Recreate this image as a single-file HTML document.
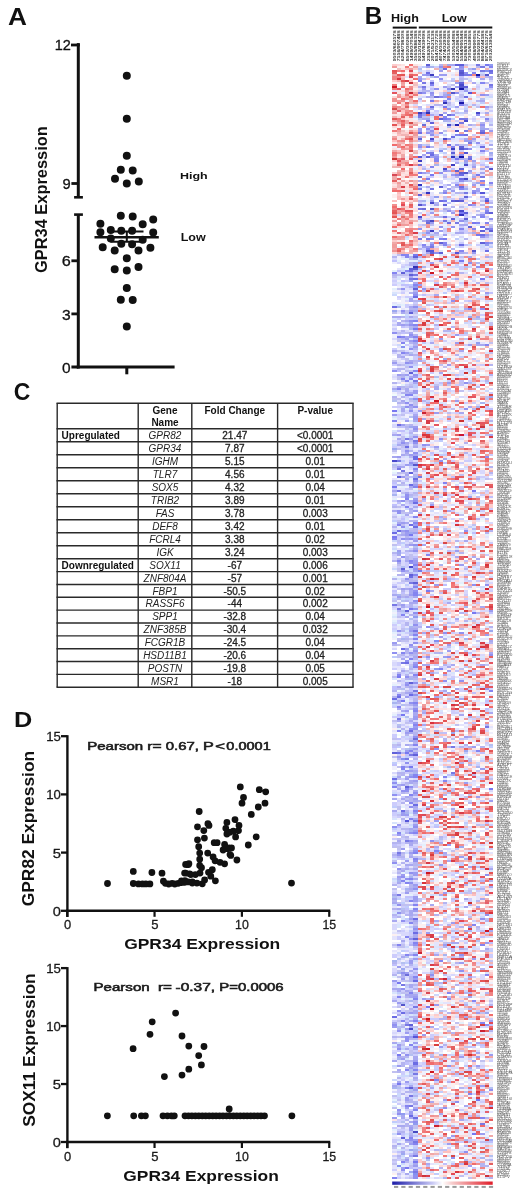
<!DOCTYPE html><html><head><meta charset="utf-8"><title>Figure</title><style>html,body{margin:0;padding:0;background:#fff;}body{width:520px;height:1197px;overflow:hidden;position:relative;font-family:"Liberation Sans",sans-serif;}svg{position:absolute;left:0;top:0;display:block;will-change:transform;}</style></head><body>
<svg width="520" height="1197" viewBox="0 0 520 1197" font-family='"Liberation Sans", sans-serif'>
<text x="8.05" y="24.6" font-size="24" font-weight="bold" textLength="18.94" lengthAdjust="spacingAndGlyphs" fill="#111">A</text>
<line x1="78.3" y1="43.1" x2="78.3" y2="197.3" stroke="#111" stroke-width="3"/>
<line x1="71" y1="45.0" x2="79.8" y2="45.0" stroke="#111" stroke-width="2.8"/>
<line x1="71.4" y1="183.5" x2="78.3" y2="183.5" stroke="#111" stroke-width="2.8"/>
<line x1="74.1" y1="197.3" x2="82.9" y2="197.3" stroke="#111" stroke-width="2.6"/>
<line x1="74.1" y1="214.6" x2="82.9" y2="214.6" stroke="#111" stroke-width="2.6"/>
<line x1="78.3" y1="214.6" x2="78.3" y2="368.5" stroke="#111" stroke-width="3"/>
<line x1="71.4" y1="260.8" x2="78.3" y2="260.8" stroke="#111" stroke-width="2.8"/>
<line x1="71.4" y1="313.9" x2="78.3" y2="313.9" stroke="#111" stroke-width="2.8"/>
<line x1="71.4" y1="367" x2="78.3" y2="367" stroke="#111" stroke-width="3"/>
<line x1="76.8" y1="367" x2="174.6" y2="367" stroke="#111" stroke-width="3"/>
<line x1="126.8" y1="367" x2="126.8" y2="374.3" stroke="#111" stroke-width="3"/>
<text x="54.70" y="50.4" font-size="15" textLength="16.13" lengthAdjust="spacingAndGlyphs" fill="#111" stroke="#111" stroke-width="0.3">12</text>
<text x="62.61" y="188.5" font-size="15" textLength="8.19" lengthAdjust="spacingAndGlyphs" fill="#111" stroke="#111" stroke-width="0.3">9</text>
<text x="61.77" y="266.2" font-size="15" textLength="9.04" lengthAdjust="spacingAndGlyphs" fill="#111" stroke="#111" stroke-width="0.3">6</text>
<text x="62.11" y="319.6" font-size="15" textLength="8.68" lengthAdjust="spacingAndGlyphs" fill="#111" stroke="#111" stroke-width="0.3">3</text>
<text x="62.10" y="372.6" font-size="15" textLength="8.61" lengthAdjust="spacingAndGlyphs" fill="#111" stroke="#111" stroke-width="0.3">0</text>
<text transform="translate(47 272.3) rotate(-90)" x="-0.67" font-size="16.5" font-weight="bold" textLength="146.69" lengthAdjust="spacingAndGlyphs" fill="#111">GPR34 Expression</text>
<text x="179.97" y="179.3" font-size="9.5" font-weight="bold" textLength="27.71" lengthAdjust="spacingAndGlyphs" fill="#111">High</text>
<text x="180.66" y="240.9" font-size="10" font-weight="bold" textLength="25.01" lengthAdjust="spacingAndGlyphs" fill="#111">Low</text>
<path d="M122.8 75.7a4 4 0 1 0 8 0a4 4 0 1 0 -8 0M122.8 118.8a4 4 0 1 0 8 0a4 4 0 1 0 -8 0M122.8 155.7a4 4 0 1 0 8 0a4 4 0 1 0 -8 0M116.8 169.7a4 4 0 1 0 8 0a4 4 0 1 0 -8 0M128.7 170.5a4 4 0 1 0 8 0a4 4 0 1 0 -8 0M111.0 178.8a4 4 0 1 0 8 0a4 4 0 1 0 -8 0M122.8 183.4a4 4 0 1 0 8 0a4 4 0 1 0 -8 0M134.8 181.5a4 4 0 1 0 8 0a4 4 0 1 0 -8 0M116.8 215.8a4 4 0 1 0 8 0a4 4 0 1 0 -8 0M128.7 216.5a4 4 0 1 0 8 0a4 4 0 1 0 -8 0M149.2 219.5a4 4 0 1 0 8 0a4 4 0 1 0 -8 0M96.4 223.8a4 4 0 1 0 8 0a4 4 0 1 0 -8 0M138.7 224.2a4 4 0 1 0 8 0a4 4 0 1 0 -8 0M96.4 232.3a4 4 0 1 0 8 0a4 4 0 1 0 -8 0M106.8 230.0a4 4 0 1 0 8 0a4 4 0 1 0 -8 0M117.3 230.8a4 4 0 1 0 8 0a4 4 0 1 0 -8 0M128.1 230.8a4 4 0 1 0 8 0a4 4 0 1 0 -8 0M149.2 232.6a4 4 0 1 0 8 0a4 4 0 1 0 -8 0M106.8 238.5a4 4 0 1 0 8 0a4 4 0 1 0 -8 0M138.7 239.7a4 4 0 1 0 8 0a4 4 0 1 0 -8 0M117.3 243.8a4 4 0 1 0 8 0a4 4 0 1 0 -8 0M128.1 244.2a4 4 0 1 0 8 0a4 4 0 1 0 -8 0M98.7 247.2a4 4 0 1 0 8 0a4 4 0 1 0 -8 0M110.7 250.5a4 4 0 1 0 8 0a4 4 0 1 0 -8 0M134.5 250.5a4 4 0 1 0 8 0a4 4 0 1 0 -8 0M146.4 247.7a4 4 0 1 0 8 0a4 4 0 1 0 -8 0M122.8 258.2a4 4 0 1 0 8 0a4 4 0 1 0 -8 0M110.7 269.2a4 4 0 1 0 8 0a4 4 0 1 0 -8 0M122.8 270.5a4 4 0 1 0 8 0a4 4 0 1 0 -8 0M134.5 266.9a4 4 0 1 0 8 0a4 4 0 1 0 -8 0M122.8 288.0a4 4 0 1 0 8 0a4 4 0 1 0 -8 0M116.8 299.7a4 4 0 1 0 8 0a4 4 0 1 0 -8 0M128.7 300.0a4 4 0 1 0 8 0a4 4 0 1 0 -8 0M122.8 326.5a4 4 0 1 0 8 0a4 4 0 1 0 -8 0" fill="#111"/>
<line x1="94.5" y1="237.2" x2="158.8" y2="237.2" stroke="#111" stroke-width="2.6"/>
<line x1="110.4" y1="231.5" x2="143.5" y2="231.5" stroke="#111" stroke-width="2"/>
<line x1="110.4" y1="241.8" x2="143.5" y2="241.8" stroke="#111" stroke-width="2"/>
<line x1="126.8" y1="231.5" x2="126.8" y2="241.8" stroke="#111" stroke-width="2"/>
<text x="13.66" y="399.6" font-size="24" font-weight="bold" textLength="16.57" lengthAdjust="spacingAndGlyphs" fill="#111">C</text>
<line x1="56.5" y1="403.3" x2="353.7" y2="403.3" stroke="#2a2a2a" stroke-width="1.4"/>
<line x1="56.5" y1="428.7" x2="353.7" y2="428.7" stroke="#2a2a2a" stroke-width="1.4"/>
<line x1="56.5" y1="441.71" x2="353.7" y2="441.71" stroke="#2a2a2a" stroke-width="1.4"/>
<line x1="56.5" y1="454.71999999999997" x2="353.7" y2="454.71999999999997" stroke="#2a2a2a" stroke-width="1.4"/>
<line x1="56.5" y1="467.73" x2="353.7" y2="467.73" stroke="#2a2a2a" stroke-width="1.4"/>
<line x1="56.5" y1="480.74" x2="353.7" y2="480.74" stroke="#2a2a2a" stroke-width="1.4"/>
<line x1="56.5" y1="493.75" x2="353.7" y2="493.75" stroke="#2a2a2a" stroke-width="1.4"/>
<line x1="56.5" y1="506.76" x2="353.7" y2="506.76" stroke="#2a2a2a" stroke-width="1.4"/>
<line x1="56.5" y1="519.77" x2="353.7" y2="519.77" stroke="#2a2a2a" stroke-width="1.4"/>
<line x1="56.5" y1="532.78" x2="353.7" y2="532.78" stroke="#2a2a2a" stroke-width="1.4"/>
<line x1="56.5" y1="545.79" x2="353.7" y2="545.79" stroke="#2a2a2a" stroke-width="1.4"/>
<line x1="56.5" y1="558.8" x2="353.7" y2="558.8" stroke="#2a2a2a" stroke-width="1.4"/>
<line x1="56.5" y1="571.64" x2="353.7" y2="571.64" stroke="#2a2a2a" stroke-width="1.4"/>
<line x1="56.5" y1="584.4799999999999" x2="353.7" y2="584.4799999999999" stroke="#2a2a2a" stroke-width="1.4"/>
<line x1="56.5" y1="597.3199999999999" x2="353.7" y2="597.3199999999999" stroke="#2a2a2a" stroke-width="1.4"/>
<line x1="56.5" y1="610.16" x2="353.7" y2="610.16" stroke="#2a2a2a" stroke-width="1.4"/>
<line x1="56.5" y1="623.0" x2="353.7" y2="623.0" stroke="#2a2a2a" stroke-width="1.4"/>
<line x1="56.5" y1="635.8399999999999" x2="353.7" y2="635.8399999999999" stroke="#2a2a2a" stroke-width="1.4"/>
<line x1="56.5" y1="648.68" x2="353.7" y2="648.68" stroke="#2a2a2a" stroke-width="1.4"/>
<line x1="56.5" y1="661.52" x2="353.7" y2="661.52" stroke="#2a2a2a" stroke-width="1.4"/>
<line x1="56.5" y1="674.3599999999999" x2="353.7" y2="674.3599999999999" stroke="#2a2a2a" stroke-width="1.4"/>
<line x1="56.5" y1="687.1999999999999" x2="353.7" y2="687.1999999999999" stroke="#2a2a2a" stroke-width="1.4"/>
<line x1="57.2" y1="403.3" x2="57.2" y2="687.1999999999999" stroke="#2a2a2a" stroke-width="1.4"/>
<line x1="138.2" y1="403.3" x2="138.2" y2="687.1999999999999" stroke="#2a2a2a" stroke-width="1.4"/>
<line x1="191.8" y1="403.3" x2="191.8" y2="687.1999999999999" stroke="#2a2a2a" stroke-width="1.4"/>
<line x1="277.6" y1="403.3" x2="277.6" y2="687.1999999999999" stroke="#2a2a2a" stroke-width="1.4"/>
<line x1="353.0" y1="403.3" x2="353.0" y2="687.1999999999999" stroke="#2a2a2a" stroke-width="1.4"/>
<text x="165.0" y="413.6" font-size="10" font-weight="bold" text-anchor="middle" fill="#111">Gene</text>
<text x="165.0" y="426.0" font-size="10" font-weight="bold" text-anchor="middle" fill="#111">Name</text>
<text x="234.8" y="413.6" font-size="10" font-weight="bold" text-anchor="middle" fill="#111">Fold Change</text>
<text x="315.2" y="413.6" font-size="10" font-weight="bold" text-anchor="middle" fill="#111">P-value</text>
<text x="165.0" y="438.9" font-size="10" font-style="italic" text-anchor="middle" fill="#222">GPR82</text>
<text x="234.8" y="438.9" font-size="10" text-anchor="middle" fill="#222" stroke="#222" stroke-width="0.3">21.47</text>
<text x="315.2" y="438.9" font-size="10" text-anchor="middle" fill="#222" stroke="#222" stroke-width="0.3">&lt;0.0001</text>
<text x="61.6" y="438.9" font-size="10" font-weight="bold" fill="#111">Upregulated</text>
<text x="165.0" y="451.9" font-size="10" font-style="italic" text-anchor="middle" fill="#222">GPR34</text>
<text x="234.8" y="451.9" font-size="10" text-anchor="middle" fill="#222" stroke="#222" stroke-width="0.3">7.87</text>
<text x="315.2" y="451.9" font-size="10" text-anchor="middle" fill="#222" stroke="#222" stroke-width="0.3">&lt;0.0001</text>
<text x="165.0" y="464.9" font-size="10" font-style="italic" text-anchor="middle" fill="#222">IGHM</text>
<text x="234.8" y="464.9" font-size="10" text-anchor="middle" fill="#222" stroke="#222" stroke-width="0.3">5.15</text>
<text x="315.2" y="464.9" font-size="10" text-anchor="middle" fill="#222" stroke="#222" stroke-width="0.3">0.01</text>
<text x="165.0" y="477.9" font-size="10" font-style="italic" text-anchor="middle" fill="#222">TLR7</text>
<text x="234.8" y="477.9" font-size="10" text-anchor="middle" fill="#222" stroke="#222" stroke-width="0.3">4.56</text>
<text x="315.2" y="477.9" font-size="10" text-anchor="middle" fill="#222" stroke="#222" stroke-width="0.3">0.01</text>
<text x="165.0" y="490.9" font-size="10" font-style="italic" text-anchor="middle" fill="#222">SOX5</text>
<text x="234.8" y="490.9" font-size="10" text-anchor="middle" fill="#222" stroke="#222" stroke-width="0.3">4.32</text>
<text x="315.2" y="490.9" font-size="10" text-anchor="middle" fill="#222" stroke="#222" stroke-width="0.3">0.04</text>
<text x="165.0" y="504.0" font-size="10" font-style="italic" text-anchor="middle" fill="#222">TRIB2</text>
<text x="234.8" y="504.0" font-size="10" text-anchor="middle" fill="#222" stroke="#222" stroke-width="0.3">3.89</text>
<text x="315.2" y="504.0" font-size="10" text-anchor="middle" fill="#222" stroke="#222" stroke-width="0.3">0.01</text>
<text x="165.0" y="517.0" font-size="10" font-style="italic" text-anchor="middle" fill="#222">FAS</text>
<text x="234.8" y="517.0" font-size="10" text-anchor="middle" fill="#222" stroke="#222" stroke-width="0.3">3.78</text>
<text x="315.2" y="517.0" font-size="10" text-anchor="middle" fill="#222" stroke="#222" stroke-width="0.3">0.003</text>
<text x="165.0" y="530.0" font-size="10" font-style="italic" text-anchor="middle" fill="#222">DEF8</text>
<text x="234.8" y="530.0" font-size="10" text-anchor="middle" fill="#222" stroke="#222" stroke-width="0.3">3.42</text>
<text x="315.2" y="530.0" font-size="10" text-anchor="middle" fill="#222" stroke="#222" stroke-width="0.3">0.01</text>
<text x="165.0" y="543.0" font-size="10" font-style="italic" text-anchor="middle" fill="#222">FCRL4</text>
<text x="234.8" y="543.0" font-size="10" text-anchor="middle" fill="#222" stroke="#222" stroke-width="0.3">3.38</text>
<text x="315.2" y="543.0" font-size="10" text-anchor="middle" fill="#222" stroke="#222" stroke-width="0.3">0.02</text>
<text x="165.0" y="556.0" font-size="10" font-style="italic" text-anchor="middle" fill="#222">IGK</text>
<text x="234.8" y="556.0" font-size="10" text-anchor="middle" fill="#222" stroke="#222" stroke-width="0.3">3.24</text>
<text x="315.2" y="556.0" font-size="10" text-anchor="middle" fill="#222" stroke="#222" stroke-width="0.3">0.003</text>
<text x="165.0" y="568.9" font-size="10" font-style="italic" text-anchor="middle" fill="#222">SOX11</text>
<text x="234.8" y="568.9" font-size="10" text-anchor="middle" fill="#222" stroke="#222" stroke-width="0.3">-67</text>
<text x="315.2" y="568.9" font-size="10" text-anchor="middle" fill="#222" stroke="#222" stroke-width="0.3">0.006</text>
<text x="61.6" y="568.9" font-size="10" font-weight="bold" fill="#111">Downregulated</text>
<text x="165.0" y="581.8" font-size="10" font-style="italic" text-anchor="middle" fill="#222">ZNF804A</text>
<text x="234.8" y="581.8" font-size="10" text-anchor="middle" fill="#222" stroke="#222" stroke-width="0.3">-57</text>
<text x="315.2" y="581.8" font-size="10" text-anchor="middle" fill="#222" stroke="#222" stroke-width="0.3">0.001</text>
<text x="165.0" y="594.6" font-size="10" font-style="italic" text-anchor="middle" fill="#222">FBP1</text>
<text x="234.8" y="594.6" font-size="10" text-anchor="middle" fill="#222" stroke="#222" stroke-width="0.3">-50.5</text>
<text x="315.2" y="594.6" font-size="10" text-anchor="middle" fill="#222" stroke="#222" stroke-width="0.3">0.02</text>
<text x="165.0" y="607.4" font-size="10" font-style="italic" text-anchor="middle" fill="#222">RASSF6</text>
<text x="234.8" y="607.4" font-size="10" text-anchor="middle" fill="#222" stroke="#222" stroke-width="0.3">-44</text>
<text x="315.2" y="607.4" font-size="10" text-anchor="middle" fill="#222" stroke="#222" stroke-width="0.3">0.002</text>
<text x="165.0" y="620.3" font-size="10" font-style="italic" text-anchor="middle" fill="#222">SPP1</text>
<text x="234.8" y="620.3" font-size="10" text-anchor="middle" fill="#222" stroke="#222" stroke-width="0.3">-32.8</text>
<text x="315.2" y="620.3" font-size="10" text-anchor="middle" fill="#222" stroke="#222" stroke-width="0.3">0.04</text>
<text x="165.0" y="633.1" font-size="10" font-style="italic" text-anchor="middle" fill="#222">ZNF385B</text>
<text x="234.8" y="633.1" font-size="10" text-anchor="middle" fill="#222" stroke="#222" stroke-width="0.3">-30.4</text>
<text x="315.2" y="633.1" font-size="10" text-anchor="middle" fill="#222" stroke="#222" stroke-width="0.3">0.032</text>
<text x="165.0" y="646.0" font-size="10" font-style="italic" text-anchor="middle" fill="#222">FCGR1B</text>
<text x="234.8" y="646.0" font-size="10" text-anchor="middle" fill="#222" stroke="#222" stroke-width="0.3">-24.5</text>
<text x="315.2" y="646.0" font-size="10" text-anchor="middle" fill="#222" stroke="#222" stroke-width="0.3">0.04</text>
<text x="165.0" y="658.8" font-size="10" font-style="italic" text-anchor="middle" fill="#222">HSD11B1</text>
<text x="234.8" y="658.8" font-size="10" text-anchor="middle" fill="#222" stroke="#222" stroke-width="0.3">-20.6</text>
<text x="315.2" y="658.8" font-size="10" text-anchor="middle" fill="#222" stroke="#222" stroke-width="0.3">0.04</text>
<text x="165.0" y="671.6" font-size="10" font-style="italic" text-anchor="middle" fill="#222">POSTN</text>
<text x="234.8" y="671.6" font-size="10" text-anchor="middle" fill="#222" stroke="#222" stroke-width="0.3">-19.8</text>
<text x="315.2" y="671.6" font-size="10" text-anchor="middle" fill="#222" stroke="#222" stroke-width="0.3">0.05</text>
<text x="165.0" y="684.5" font-size="10" font-style="italic" text-anchor="middle" fill="#222">MSR1</text>
<text x="234.8" y="684.5" font-size="10" text-anchor="middle" fill="#222" stroke="#222" stroke-width="0.3">-18</text>
<text x="315.2" y="684.5" font-size="10" text-anchor="middle" fill="#222" stroke="#222" stroke-width="0.3">0.005</text>
<text x="14.01" y="727.2" font-size="22.6" font-weight="bold" textLength="18.25" lengthAdjust="spacingAndGlyphs" fill="#111">D</text>
<line x1="67.4" y1="735.2" x2="67.4" y2="917.0" stroke="#111" stroke-width="2.4"/>
<line x1="66.2" y1="910.8" x2="330.3" y2="910.8" stroke="#111" stroke-width="2.4"/>
<line x1="61.0" y1="736.2" x2="67.4" y2="736.2" stroke="#111" stroke-width="2.3"/>
<text x="46.30" y="741.2" font-size="13" textLength="14.66" lengthAdjust="spacingAndGlyphs" fill="#1a1a1a" stroke="#1a1a1a" stroke-width="0.3">15</text>
<line x1="61.0" y1="794.4" x2="67.4" y2="794.4" stroke="#111" stroke-width="2.3"/>
<text x="46.30" y="799.4" font-size="13" textLength="14.61" lengthAdjust="spacingAndGlyphs" fill="#1a1a1a" stroke="#1a1a1a" stroke-width="0.3">10</text>
<line x1="61.0" y1="852.6" x2="67.4" y2="852.6" stroke="#111" stroke-width="2.3"/>
<text x="52.81" y="857.6" font-size="13" textLength="8.21" lengthAdjust="spacingAndGlyphs" fill="#1a1a1a" stroke="#1a1a1a" stroke-width="0.3">5</text>
<line x1="61.0" y1="910.8" x2="67.4" y2="910.8" stroke="#111" stroke-width="2.3"/>
<text x="52.83" y="915.8" font-size="13" textLength="8.14" lengthAdjust="spacingAndGlyphs" fill="#1a1a1a" stroke="#1a1a1a" stroke-width="0.3">0</text>
<line x1="67.2" y1="910.8" x2="67.2" y2="916.8" stroke="#111" stroke-width="2.2"/>
<text x="63.89" y="929.3" font-size="13" textLength="7.21" lengthAdjust="spacingAndGlyphs" fill="#1a1a1a" stroke="#1a1a1a" stroke-width="0.3">0</text>
<line x1="154.55" y1="910.8" x2="154.55" y2="916.8" stroke="#111" stroke-width="2.2"/>
<text x="151.23" y="929.3" font-size="13" textLength="7.27" lengthAdjust="spacingAndGlyphs" fill="#1a1a1a" stroke="#1a1a1a" stroke-width="0.3">5</text>
<line x1="241.89999999999998" y1="910.8" x2="241.89999999999998" y2="916.8" stroke="#111" stroke-width="2.2"/>
<text x="235.11" y="929.3" font-size="13" textLength="13.72" lengthAdjust="spacingAndGlyphs" fill="#1a1a1a" stroke="#1a1a1a" stroke-width="0.3">10</text>
<line x1="329.24999999999994" y1="910.8" x2="329.24999999999994" y2="916.8" stroke="#111" stroke-width="2.2"/>
<text x="322.46" y="929.3" font-size="13" textLength="13.76" lengthAdjust="spacingAndGlyphs" fill="#1a1a1a" stroke="#1a1a1a" stroke-width="0.3">15</text>
<text x="124.18" y="948.5" font-size="14.6" font-weight="bold" textLength="156.10" lengthAdjust="spacingAndGlyphs" fill="#111">GPR34 Expression</text>
<text transform="translate(33.9 905.5) rotate(-90)" x="-0.71" font-size="16" font-weight="bold" textLength="155.29" lengthAdjust="spacingAndGlyphs" fill="#111">GPR82 Expression</text>
<text x="87.27" y="750.1" font-size="10.8" textLength="55.91" lengthAdjust="spacingAndGlyphs" fill="#1a1a1a" stroke="#1a1a1a" stroke-width="0.55">Pearson</text>
<text x="147.26" y="750.1" font-size="10.8" textLength="14.31" lengthAdjust="spacingAndGlyphs" fill="#1a1a1a" stroke="#1a1a1a" stroke-width="0.55">r=</text>
<text x="165.72" y="750.1" font-size="10.8" textLength="33.12" lengthAdjust="spacingAndGlyphs" fill="#1a1a1a" stroke="#1a1a1a" stroke-width="0.55">0.67,</text>
<text x="203.07" y="750.1" font-size="10.8" textLength="10.78" lengthAdjust="spacingAndGlyphs" fill="#1a1a1a" stroke="#1a1a1a" stroke-width="0.55">P</text>
<text x="215.38" y="750.1" font-size="10.8" textLength="9.74" lengthAdjust="spacingAndGlyphs" fill="#1a1a1a" stroke="#1a1a1a" stroke-width="0.55">&lt;</text>
<text x="226.33" y="750.1" font-size="10.8" textLength="44.38" lengthAdjust="spacingAndGlyphs" fill="#1a1a1a" stroke="#1a1a1a" stroke-width="0.55">0.0001</text>
<path d="M236.9 786.9a3.4 3.4 0 1 0 6.8 0a3.4 3.4 0 1 0 -6.8 0M255.9 789.7a3.4 3.4 0 1 0 6.8 0a3.4 3.4 0 1 0 -6.8 0M262.3 791.8a3.4 3.4 0 1 0 6.8 0a3.4 3.4 0 1 0 -6.8 0M240.1 797.5a3.4 3.4 0 1 0 6.8 0a3.4 3.4 0 1 0 -6.8 0M238.6 803.2a3.4 3.4 0 1 0 6.8 0a3.4 3.4 0 1 0 -6.8 0M261.6 803.2a3.4 3.4 0 1 0 6.8 0a3.4 3.4 0 1 0 -6.8 0M254.9 807.0a3.4 3.4 0 1 0 6.8 0a3.4 3.4 0 1 0 -6.8 0M195.8 811.5a3.4 3.4 0 1 0 6.8 0a3.4 3.4 0 1 0 -6.8 0M247.9 814.4a3.4 3.4 0 1 0 6.8 0a3.4 3.4 0 1 0 -6.8 0M231.6 819.6a3.4 3.4 0 1 0 6.8 0a3.4 3.4 0 1 0 -6.8 0M204.5 823.7a3.4 3.4 0 1 0 6.8 0a3.4 3.4 0 1 0 -6.8 0M205.6 825.4a3.4 3.4 0 1 0 6.8 0a3.4 3.4 0 1 0 -6.8 0M194.1 826.8a3.4 3.4 0 1 0 6.8 0a3.4 3.4 0 1 0 -6.8 0M223.5 822.5a3.4 3.4 0 1 0 6.8 0a3.4 3.4 0 1 0 -6.8 0M235.6 825.4a3.4 3.4 0 1 0 6.8 0a3.4 3.4 0 1 0 -6.8 0M200.4 830.6a3.4 3.4 0 1 0 6.8 0a3.4 3.4 0 1 0 -6.8 0M222.4 828.3a3.4 3.4 0 1 0 6.8 0a3.4 3.4 0 1 0 -6.8 0M229.9 831.2a3.4 3.4 0 1 0 6.8 0a3.4 3.4 0 1 0 -6.8 0M235.1 830.6a3.4 3.4 0 1 0 6.8 0a3.4 3.4 0 1 0 -6.8 0M223.5 834.0a3.4 3.4 0 1 0 6.8 0a3.4 3.4 0 1 0 -6.8 0M226.4 832.3a3.4 3.4 0 1 0 6.8 0a3.4 3.4 0 1 0 -6.8 0M232.2 836.9a3.4 3.4 0 1 0 6.8 0a3.4 3.4 0 1 0 -6.8 0M201.0 838.1a3.4 3.4 0 1 0 6.8 0a3.4 3.4 0 1 0 -6.8 0M194.1 839.8a3.4 3.4 0 1 0 6.8 0a3.4 3.4 0 1 0 -6.8 0M210.8 842.7a3.4 3.4 0 1 0 6.8 0a3.4 3.4 0 1 0 -6.8 0M213.7 842.7a3.4 3.4 0 1 0 6.8 0a3.4 3.4 0 1 0 -6.8 0M195.3 846.7a3.4 3.4 0 1 0 6.8 0a3.4 3.4 0 1 0 -6.8 0M221.2 844.4a3.4 3.4 0 1 0 6.8 0a3.4 3.4 0 1 0 -6.8 0M225.8 847.9a3.4 3.4 0 1 0 6.8 0a3.4 3.4 0 1 0 -6.8 0M228.1 847.9a3.4 3.4 0 1 0 6.8 0a3.4 3.4 0 1 0 -6.8 0M244.9 845.0a3.4 3.4 0 1 0 6.8 0a3.4 3.4 0 1 0 -6.8 0M252.8 836.8a3.4 3.4 0 1 0 6.8 0a3.4 3.4 0 1 0 -6.8 0M196.3 853.1a3.4 3.4 0 1 0 6.8 0a3.4 3.4 0 1 0 -6.8 0M196.3 859.2a3.4 3.4 0 1 0 6.8 0a3.4 3.4 0 1 0 -6.8 0M196.3 865.4a3.4 3.4 0 1 0 6.8 0a3.4 3.4 0 1 0 -6.8 0M198.1 867.7a3.4 3.4 0 1 0 6.8 0a3.4 3.4 0 1 0 -6.8 0M182.8 864.6a3.4 3.4 0 1 0 6.8 0a3.4 3.4 0 1 0 -6.8 0M185.1 864.6a3.4 3.4 0 1 0 6.8 0a3.4 3.4 0 1 0 -6.8 0M181.2 873.1a3.4 3.4 0 1 0 6.8 0a3.4 3.4 0 1 0 -6.8 0M187.4 874.6a3.4 3.4 0 1 0 6.8 0a3.4 3.4 0 1 0 -6.8 0M192.0 874.6a3.4 3.4 0 1 0 6.8 0a3.4 3.4 0 1 0 -6.8 0M196.6 873.1a3.4 3.4 0 1 0 6.8 0a3.4 3.4 0 1 0 -6.8 0M178.1 880.8a3.4 3.4 0 1 0 6.8 0a3.4 3.4 0 1 0 -6.8 0M181.2 882.3a3.4 3.4 0 1 0 6.8 0a3.4 3.4 0 1 0 -6.8 0M188.9 883.1a3.4 3.4 0 1 0 6.8 0a3.4 3.4 0 1 0 -6.8 0M193.5 883.1a3.4 3.4 0 1 0 6.8 0a3.4 3.4 0 1 0 -6.8 0M198.9 883.8a3.4 3.4 0 1 0 6.8 0a3.4 3.4 0 1 0 -6.8 0M201.2 880.0a3.4 3.4 0 1 0 6.8 0a3.4 3.4 0 1 0 -6.8 0M205.1 872.3a3.4 3.4 0 1 0 6.8 0a3.4 3.4 0 1 0 -6.8 0M208.9 869.7a3.4 3.4 0 1 0 6.8 0a3.4 3.4 0 1 0 -6.8 0M207.4 876.2a3.4 3.4 0 1 0 6.8 0a3.4 3.4 0 1 0 -6.8 0M212.0 880.8a3.4 3.4 0 1 0 6.8 0a3.4 3.4 0 1 0 -6.8 0M204.3 853.1a3.4 3.4 0 1 0 6.8 0a3.4 3.4 0 1 0 -6.8 0M209.7 856.9a3.4 3.4 0 1 0 6.8 0a3.4 3.4 0 1 0 -6.8 0M211.7 860.8a3.4 3.4 0 1 0 6.8 0a3.4 3.4 0 1 0 -6.8 0M216.6 862.3a3.4 3.4 0 1 0 6.8 0a3.4 3.4 0 1 0 -6.8 0M221.2 863.8a3.4 3.4 0 1 0 6.8 0a3.4 3.4 0 1 0 -6.8 0M219.7 850.0a3.4 3.4 0 1 0 6.8 0a3.4 3.4 0 1 0 -6.8 0M223.5 848.5a3.4 3.4 0 1 0 6.8 0a3.4 3.4 0 1 0 -6.8 0M226.6 854.6a3.4 3.4 0 1 0 6.8 0a3.4 3.4 0 1 0 -6.8 0M233.5 860.0a3.4 3.4 0 1 0 6.8 0a3.4 3.4 0 1 0 -6.8 0M227.4 855.4a3.4 3.4 0 1 0 6.8 0a3.4 3.4 0 1 0 -6.8 0M288.1 883.1a3.4 3.4 0 1 0 6.8 0a3.4 3.4 0 1 0 -6.8 0M129.9 871.4a3.4 3.4 0 1 0 6.8 0a3.4 3.4 0 1 0 -6.8 0M148.5 872.5a3.4 3.4 0 1 0 6.8 0a3.4 3.4 0 1 0 -6.8 0M158.6 873.2a3.4 3.4 0 1 0 6.8 0a3.4 3.4 0 1 0 -6.8 0M129.9 883.5a3.4 3.4 0 1 0 6.8 0a3.4 3.4 0 1 0 -6.8 0M135.1 883.9a3.4 3.4 0 1 0 6.8 0a3.4 3.4 0 1 0 -6.8 0M139.1 883.9a3.4 3.4 0 1 0 6.8 0a3.4 3.4 0 1 0 -6.8 0M142.5 883.9a3.4 3.4 0 1 0 6.8 0a3.4 3.4 0 1 0 -6.8 0M146.5 883.9a3.4 3.4 0 1 0 6.8 0a3.4 3.4 0 1 0 -6.8 0M160.0 881.2a3.4 3.4 0 1 0 6.8 0a3.4 3.4 0 1 0 -6.8 0M162.0 883.3a3.4 3.4 0 1 0 6.8 0a3.4 3.4 0 1 0 -6.8 0M165.3 884.0a3.4 3.4 0 1 0 6.8 0a3.4 3.4 0 1 0 -6.8 0M168.7 883.3a3.4 3.4 0 1 0 6.8 0a3.4 3.4 0 1 0 -6.8 0M171.4 884.0a3.4 3.4 0 1 0 6.8 0a3.4 3.4 0 1 0 -6.8 0M174.8 883.3a3.4 3.4 0 1 0 6.8 0a3.4 3.4 0 1 0 -6.8 0M178.1 882.6a3.4 3.4 0 1 0 6.8 0a3.4 3.4 0 1 0 -6.8 0M182.2 864.4a3.4 3.4 0 1 0 6.8 0a3.4 3.4 0 1 0 -6.8 0M185.5 863.7a3.4 3.4 0 1 0 6.8 0a3.4 3.4 0 1 0 -6.8 0M182.2 873.2a3.4 3.4 0 1 0 6.8 0a3.4 3.4 0 1 0 -6.8 0M186.2 873.8a3.4 3.4 0 1 0 6.8 0a3.4 3.4 0 1 0 -6.8 0M181.5 880.6a3.4 3.4 0 1 0 6.8 0a3.4 3.4 0 1 0 -6.8 0M184.9 881.9a3.4 3.4 0 1 0 6.8 0a3.4 3.4 0 1 0 -6.8 0M188.9 881.9a3.4 3.4 0 1 0 6.8 0a3.4 3.4 0 1 0 -6.8 0M104.1 883.5a3.4 3.4 0 1 0 6.8 0a3.4 3.4 0 1 0 -6.8 0" fill="#111"/>
<line x1="67.4" y1="967.1" x2="67.4" y2="1148.2" stroke="#111" stroke-width="2.4"/>
<line x1="66.2" y1="1142.0" x2="330.3" y2="1142.0" stroke="#111" stroke-width="2.4"/>
<line x1="61.0" y1="968.1" x2="67.4" y2="968.1" stroke="#111" stroke-width="2.3"/>
<text x="46.30" y="973.1" font-size="13" textLength="14.66" lengthAdjust="spacingAndGlyphs" fill="#1a1a1a" stroke="#1a1a1a" stroke-width="0.3">15</text>
<line x1="61.0" y1="1026.0666666666666" x2="67.4" y2="1026.0666666666666" stroke="#111" stroke-width="2.3"/>
<text x="46.30" y="1031.1" font-size="13" textLength="14.61" lengthAdjust="spacingAndGlyphs" fill="#1a1a1a" stroke="#1a1a1a" stroke-width="0.3">10</text>
<line x1="61.0" y1="1084.0333333333333" x2="67.4" y2="1084.0333333333333" stroke="#111" stroke-width="2.3"/>
<text x="52.81" y="1089.0" font-size="13" textLength="8.21" lengthAdjust="spacingAndGlyphs" fill="#1a1a1a" stroke="#1a1a1a" stroke-width="0.3">5</text>
<line x1="61.0" y1="1142.0" x2="67.4" y2="1142.0" stroke="#111" stroke-width="2.3"/>
<text x="52.83" y="1147.0" font-size="13" textLength="8.14" lengthAdjust="spacingAndGlyphs" fill="#1a1a1a" stroke="#1a1a1a" stroke-width="0.3">0</text>
<line x1="67.2" y1="1142.0" x2="67.2" y2="1148.0" stroke="#111" stroke-width="2.2"/>
<text x="63.89" y="1161.0" font-size="13" textLength="7.21" lengthAdjust="spacingAndGlyphs" fill="#1a1a1a" stroke="#1a1a1a" stroke-width="0.3">0</text>
<line x1="154.55" y1="1142.0" x2="154.55" y2="1148.0" stroke="#111" stroke-width="2.2"/>
<text x="151.23" y="1161.0" font-size="13" textLength="7.27" lengthAdjust="spacingAndGlyphs" fill="#1a1a1a" stroke="#1a1a1a" stroke-width="0.3">5</text>
<line x1="241.89999999999998" y1="1142.0" x2="241.89999999999998" y2="1148.0" stroke="#111" stroke-width="2.2"/>
<text x="235.11" y="1161.0" font-size="13" textLength="13.72" lengthAdjust="spacingAndGlyphs" fill="#1a1a1a" stroke="#1a1a1a" stroke-width="0.3">10</text>
<line x1="329.24999999999994" y1="1142.0" x2="329.24999999999994" y2="1148.0" stroke="#111" stroke-width="2.2"/>
<text x="322.46" y="1161.0" font-size="13" textLength="13.76" lengthAdjust="spacingAndGlyphs" fill="#1a1a1a" stroke="#1a1a1a" stroke-width="0.3">15</text>
<text x="123.29" y="1180.8" font-size="14.6" font-weight="bold" textLength="155.49" lengthAdjust="spacingAndGlyphs" fill="#111">GPR34 Expression</text>
<text transform="translate(35.4 1126.3) rotate(-90)" x="-0.50" font-size="16" font-weight="bold" textLength="153.47" lengthAdjust="spacingAndGlyphs" fill="#111">SOX11 Expression</text>
<text x="93.56" y="991.1" font-size="10.8" textLength="56.11" lengthAdjust="spacingAndGlyphs" fill="#1a1a1a" stroke="#1a1a1a" stroke-width="0.55">Pearson</text>
<text x="157.99" y="991.1" font-size="10.8" textLength="13.96" lengthAdjust="spacingAndGlyphs" fill="#1a1a1a" stroke="#1a1a1a" stroke-width="0.55">r=</text>
<text x="175.61" y="991.1" font-size="10.8" textLength="39.47" lengthAdjust="spacingAndGlyphs" fill="#1a1a1a" stroke="#1a1a1a" stroke-width="0.55">-0.37,</text>
<text x="219.38" y="991.1" font-size="10.8" textLength="64.18" lengthAdjust="spacingAndGlyphs" fill="#1a1a1a" stroke="#1a1a1a" stroke-width="0.55">P=0.0006</text>
<path d="M172.2 1013.1a3.4 3.4 0 1 0 6.8 0a3.4 3.4 0 1 0 -6.8 0M148.8 1021.8a3.4 3.4 0 1 0 6.8 0a3.4 3.4 0 1 0 -6.8 0M146.6 1034.3a3.4 3.4 0 1 0 6.8 0a3.4 3.4 0 1 0 -6.8 0M178.6 1036.0a3.4 3.4 0 1 0 6.8 0a3.4 3.4 0 1 0 -6.8 0M129.7 1048.7a3.4 3.4 0 1 0 6.8 0a3.4 3.4 0 1 0 -6.8 0M185.4 1046.1a3.4 3.4 0 1 0 6.8 0a3.4 3.4 0 1 0 -6.8 0M200.6 1046.5a3.4 3.4 0 1 0 6.8 0a3.4 3.4 0 1 0 -6.8 0M195.3 1055.6a3.4 3.4 0 1 0 6.8 0a3.4 3.4 0 1 0 -6.8 0M198.0 1064.9a3.4 3.4 0 1 0 6.8 0a3.4 3.4 0 1 0 -6.8 0M185.4 1069.2a3.4 3.4 0 1 0 6.8 0a3.4 3.4 0 1 0 -6.8 0M178.6 1075.1a3.4 3.4 0 1 0 6.8 0a3.4 3.4 0 1 0 -6.8 0M161.0 1076.6a3.4 3.4 0 1 0 6.8 0a3.4 3.4 0 1 0 -6.8 0M225.8 1109.0a3.4 3.4 0 1 0 6.8 0a3.4 3.4 0 1 0 -6.8 0M104.0 1115.8a3.4 3.4 0 1 0 6.8 0a3.4 3.4 0 1 0 -6.8 0M130.3 1115.8a3.4 3.4 0 1 0 6.8 0a3.4 3.4 0 1 0 -6.8 0M138.0 1115.8a3.4 3.4 0 1 0 6.8 0a3.4 3.4 0 1 0 -6.8 0M142.0 1115.8a3.4 3.4 0 1 0 6.8 0a3.4 3.4 0 1 0 -6.8 0M159.6 1115.8a3.4 3.4 0 1 0 6.8 0a3.4 3.4 0 1 0 -6.8 0M164.0 1115.8a3.4 3.4 0 1 0 6.8 0a3.4 3.4 0 1 0 -6.8 0M168.0 1115.8a3.4 3.4 0 1 0 6.8 0a3.4 3.4 0 1 0 -6.8 0M170.9 1115.8a3.4 3.4 0 1 0 6.8 0a3.4 3.4 0 1 0 -6.8 0M181.6 1115.8a3.4 3.4 0 1 0 6.8 0a3.4 3.4 0 1 0 -6.8 0M185.1 1115.8a3.4 3.4 0 1 0 6.8 0a3.4 3.4 0 1 0 -6.8 0M188.5 1115.8a3.4 3.4 0 1 0 6.8 0a3.4 3.4 0 1 0 -6.8 0M192.0 1115.8a3.4 3.4 0 1 0 6.8 0a3.4 3.4 0 1 0 -6.8 0M195.4 1115.8a3.4 3.4 0 1 0 6.8 0a3.4 3.4 0 1 0 -6.8 0M198.9 1115.8a3.4 3.4 0 1 0 6.8 0a3.4 3.4 0 1 0 -6.8 0M202.3 1115.8a3.4 3.4 0 1 0 6.8 0a3.4 3.4 0 1 0 -6.8 0M205.8 1115.8a3.4 3.4 0 1 0 6.8 0a3.4 3.4 0 1 0 -6.8 0M209.3 1115.8a3.4 3.4 0 1 0 6.8 0a3.4 3.4 0 1 0 -6.8 0M212.7 1115.8a3.4 3.4 0 1 0 6.8 0a3.4 3.4 0 1 0 -6.8 0M216.2 1115.8a3.4 3.4 0 1 0 6.8 0a3.4 3.4 0 1 0 -6.8 0M219.6 1115.8a3.4 3.4 0 1 0 6.8 0a3.4 3.4 0 1 0 -6.8 0M223.1 1115.8a3.4 3.4 0 1 0 6.8 0a3.4 3.4 0 1 0 -6.8 0M226.5 1115.8a3.4 3.4 0 1 0 6.8 0a3.4 3.4 0 1 0 -6.8 0M230.0 1115.8a3.4 3.4 0 1 0 6.8 0a3.4 3.4 0 1 0 -6.8 0M233.4 1115.8a3.4 3.4 0 1 0 6.8 0a3.4 3.4 0 1 0 -6.8 0M236.9 1115.8a3.4 3.4 0 1 0 6.8 0a3.4 3.4 0 1 0 -6.8 0M240.4 1115.8a3.4 3.4 0 1 0 6.8 0a3.4 3.4 0 1 0 -6.8 0M243.8 1115.8a3.4 3.4 0 1 0 6.8 0a3.4 3.4 0 1 0 -6.8 0M247.3 1115.8a3.4 3.4 0 1 0 6.8 0a3.4 3.4 0 1 0 -6.8 0M250.7 1115.8a3.4 3.4 0 1 0 6.8 0a3.4 3.4 0 1 0 -6.8 0M254.2 1115.8a3.4 3.4 0 1 0 6.8 0a3.4 3.4 0 1 0 -6.8 0M257.6 1115.8a3.4 3.4 0 1 0 6.8 0a3.4 3.4 0 1 0 -6.8 0M261.1 1115.8a3.4 3.4 0 1 0 6.8 0a3.4 3.4 0 1 0 -6.8 0M288.5 1115.8a3.4 3.4 0 1 0 6.8 0a3.4 3.4 0 1 0 -6.8 0" fill="#111"/>
<text x="364.89" y="23.8" font-size="23.7" font-weight="bold" textLength="17.41" lengthAdjust="spacingAndGlyphs" fill="#111">B</text>
<text x="391.06" y="21.6" font-size="10" font-weight="bold" textLength="27.81" lengthAdjust="spacingAndGlyphs" fill="#111">High</text>
<text x="441.66" y="22.0" font-size="10" font-weight="bold" textLength="25.01" lengthAdjust="spacingAndGlyphs" fill="#111">Low</text>
<line x1="392.7" y1="27.6" x2="416.8" y2="27.6" stroke="#111" stroke-width="2"/>
<line x1="418.8" y1="27.6" x2="492.3" y2="27.6" stroke="#111" stroke-width="2"/>
<defs><filter id="bl2" x="-5%" y="-5%" width="110%" height="110%"><feGaussianBlur stdDeviation="0.3"/></filter></defs>
<g filter="url(#bl2)">
<text transform="translate(396.00 61.3) rotate(-90)" font-size="4.3" font-weight="bold" textLength="31" lengthAdjust="spacingAndGlyphs" fill="#3a3a3a">9503/66257S</text>
<text transform="translate(400.19 61.3) rotate(-90)" font-size="4.3" font-weight="bold" textLength="31" lengthAdjust="spacingAndGlyphs" fill="#3a3a3a">7156/90748S</text>
<text transform="translate(404.38 61.3) rotate(-90)" font-size="4.3" font-weight="bold" textLength="31" lengthAdjust="spacingAndGlyphs" fill="#3a3a3a">6204/79810S</text>
<text transform="translate(408.57 61.3) rotate(-90)" font-size="4.3" font-weight="bold" textLength="31" lengthAdjust="spacingAndGlyphs" fill="#3a3a3a">8502/30268S</text>
<text transform="translate(412.76 61.3) rotate(-90)" font-size="4.3" font-weight="bold" textLength="31" lengthAdjust="spacingAndGlyphs" fill="#3a3a3a">1499/37014S</text>
<text transform="translate(416.95 61.3) rotate(-90)" font-size="4.3" font-weight="bold" textLength="31" lengthAdjust="spacingAndGlyphs" fill="#3a3a3a">3565/88618S</text>
<text transform="translate(421.15 61.3) rotate(-90)" font-size="4.3" font-weight="bold" textLength="31" lengthAdjust="spacingAndGlyphs" fill="#3a3a3a">9212/10473S</text>
<text transform="translate(425.34 61.3) rotate(-90)" font-size="4.3" font-weight="bold" textLength="31" lengthAdjust="spacingAndGlyphs" fill="#3a3a3a">5497/83909S</text>
<text transform="translate(429.53 61.3) rotate(-90)" font-size="4.3" font-weight="bold" textLength="31" lengthAdjust="spacingAndGlyphs" fill="#3a3a3a">2182/81735S</text>
<text transform="translate(433.72 61.3) rotate(-90)" font-size="4.3" font-weight="bold" textLength="31" lengthAdjust="spacingAndGlyphs" fill="#3a3a3a">2071/52113S</text>
<text transform="translate(437.91 61.3) rotate(-90)" font-size="4.3" font-weight="bold" textLength="31" lengthAdjust="spacingAndGlyphs" fill="#3a3a3a">8347/37272S</text>
<text transform="translate(442.10 61.3) rotate(-90)" font-size="4.3" font-weight="bold" textLength="31" lengthAdjust="spacingAndGlyphs" fill="#3a3a3a">4074/35058S</text>
<text transform="translate(446.30 61.3) rotate(-90)" font-size="4.3" font-weight="bold" textLength="31" lengthAdjust="spacingAndGlyphs" fill="#3a3a3a">7474/32938S</text>
<text transform="translate(450.49 61.3) rotate(-90)" font-size="4.3" font-weight="bold" textLength="31" lengthAdjust="spacingAndGlyphs" fill="#3a3a3a">9913/50056S</text>
<text transform="translate(454.68 61.3) rotate(-90)" font-size="4.3" font-weight="bold" textLength="31" lengthAdjust="spacingAndGlyphs" fill="#3a3a3a">5302/55408S</text>
<text transform="translate(458.87 61.3) rotate(-90)" font-size="4.3" font-weight="bold" textLength="31" lengthAdjust="spacingAndGlyphs" fill="#3a3a3a">6242/59814S</text>
<text transform="translate(463.06 61.3) rotate(-90)" font-size="4.3" font-weight="bold" textLength="31" lengthAdjust="spacingAndGlyphs" fill="#3a3a3a">5584/99594S</text>
<text transform="translate(467.25 61.3) rotate(-90)" font-size="4.3" font-weight="bold" textLength="31" lengthAdjust="spacingAndGlyphs" fill="#3a3a3a">8268/81338S</text>
<text transform="translate(471.45 61.3) rotate(-90)" font-size="4.3" font-weight="bold" textLength="31" lengthAdjust="spacingAndGlyphs" fill="#3a3a3a">7301/65995S</text>
<text transform="translate(475.64 61.3) rotate(-90)" font-size="4.3" font-weight="bold" textLength="31" lengthAdjust="spacingAndGlyphs" fill="#3a3a3a">4068/99005S</text>
<text transform="translate(479.83 61.3) rotate(-90)" font-size="4.3" font-weight="bold" textLength="31" lengthAdjust="spacingAndGlyphs" fill="#3a3a3a">5195/29377S</text>
<text transform="translate(484.02 61.3) rotate(-90)" font-size="4.3" font-weight="bold" textLength="31" lengthAdjust="spacingAndGlyphs" fill="#3a3a3a">8604/24418S</text>
<text transform="translate(488.21 61.3) rotate(-90)" font-size="4.3" font-weight="bold" textLength="31" lengthAdjust="spacingAndGlyphs" fill="#3a3a3a">8716/65127S</text>
<text transform="translate(492.40 61.3) rotate(-90)" font-size="4.3" font-weight="bold" textLength="31" lengthAdjust="spacingAndGlyphs" fill="#3a3a3a">2032/13954S</text>
</g>
<defs><filter id="bl" x="-2%" y="-1%" width="104%" height="102%"><feGaussianBlur stdDeviation="0.65"/></filter></defs>
<g filter="url(#bl)"><g transform="translate(392.4 63.5) scale(4.1917 2.0020)" shape-rendering="crispEdges">
<rect x="0" y="0" width="24" height="557" fill="#fff"/>
<path fill="#fccccc" d="M0 0h1v1h-1zM5 2h1v1h-1zM20 2h1v1h-1zM15 5h1v1h-1zM8 7h1v1h-1zM0 8h1v1h-1zM12 9h1v1h-1zM12 13h1v1h-1zM21 14h1v1h-1zM20 15h1v1h-1zM2 21h1v1h-1zM8 21h1v1h-1zM2 24h1v1h-1zM11 26h1v1h-1zM10 29h1v1h-1zM1 30h1v1h-1zM16 30h1v1h-1zM14 33h1v1h-1zM2 34h2v1h-2zM5 37h1v1h-1zM13 38h1v1h-1zM16 38h1v1h-1zM5 40h1v1h-1zM2 43h1v1h-1zM2 44h1v1h-1zM21 46h1v1h-1zM6 47h1v1h-1zM0 48h1v1h-1zM5 49h1v1h-1zM12 51h1v1h-1zM0 54h1v1h-1zM4 56h1v1h-1zM0 59h1v1h-1zM17 60h1v1h-1zM1 62h1v1h-1zM4 63h1v1h-1zM1 65h1v1h-1zM19 65h1v1h-1zM3 67h1v1h-1zM3 68h1v1h-1zM3 71h1v1h-1zM17 72h1v1h-1zM8 73h1v1h-1zM2 74h1v1h-1zM0 80h1v1h-1zM13 80h1v1h-1zM4 81h1v1h-1zM6 81h1v1h-1zM10 82h1v1h-1zM2 85h1v1h-1zM0 88h1v1h-1zM22 88h1v1h-1zM5 89h1v1h-1zM5 90h1v1h-1zM18 93h1v1h-1zM18 94h1v1h-1zM23 103h1v1h-1zM19 104h1v1h-1zM7 105h1v1h-1zM10 105h1v1h-1zM9 106h1v1h-1zM20 113h1v1h-1zM16 117h1v1h-1zM11 119h1v1h-1zM7 121h1v1h-1zM19 121h1v1h-1zM9 123h1v1h-1zM13 123h1v1h-1zM15 124h1v1h-1zM14 125h1v1h-1zM11 126h1v1h-1zM13 126h1v1h-1zM15 126h2v1h-2zM7 128h1v1h-1zM15 130h1v1h-1zM6 131h1v1h-1zM8 133h1v1h-1zM13 135h1v1h-1zM18 135h1v1h-1zM10 144h1v1h-1zM18 144h1v1h-1zM15 147h1v1h-1zM19 148h1v1h-1zM14 150h1v1h-1zM13 152h1v1h-1zM22 153h1v1h-1zM11 157h1v1h-1zM8 159h1v1h-1zM15 159h1v1h-1zM13 164h1v1h-1zM21 164h1v1h-1zM10 165h1v1h-1zM14 165h1v1h-1zM7 166h1v1h-1zM16 168h1v1h-1zM19 168h1v1h-1zM22 168h1v1h-1zM13 170h1v1h-1zM6 172h1v1h-1zM20 173h1v1h-1zM13 175h1v1h-1zM15 175h1v1h-1zM6 176h1v1h-1zM11 178h1v1h-1zM21 178h1v1h-1zM6 182h2v1h-2zM17 183h1v1h-1zM14 184h1v1h-1zM17 184h1v1h-1zM14 185h1v1h-1zM6 186h1v1h-1zM17 188h1v1h-1zM22 189h1v1h-1zM18 193h1v1h-1zM7 194h1v1h-1zM8 195h1v1h-1zM16 197h1v1h-1zM15 198h1v1h-1zM20 198h1v1h-1zM20 201h1v1h-1zM9 202h1v1h-1zM14 202h1v1h-1zM20 203h1v1h-1zM14 205h1v1h-1zM12 206h1v1h-1zM10 208h1v1h-1zM10 210h1v1h-1zM11 214h1v1h-1zM13 214h1v1h-1zM6 216h1v1h-1zM17 217h1v1h-1zM16 220h1v1h-1zM23 220h1v1h-1zM19 221h2v1h-2zM23 221h1v1h-1zM19 222h1v1h-1zM13 225h1v1h-1zM6 226h1v1h-1zM22 228h1v1h-1zM19 229h1v1h-1zM14 234h1v1h-1zM7 236h1v1h-1zM15 236h1v1h-1zM19 237h1v1h-1zM9 238h1v1h-1zM16 239h1v1h-1zM19 241h1v1h-1zM6 243h1v1h-1zM23 244h1v1h-1zM9 246h1v1h-1zM15 247h1v1h-1zM11 251h1v1h-1zM14 252h1v1h-1zM14 256h1v1h-1zM16 256h1v1h-1zM7 265h1v1h-1zM16 266h1v1h-1zM21 267h1v1h-1zM11 268h1v1h-1zM7 269h1v1h-1zM11 271h1v1h-1zM16 271h1v1h-1zM15 272h1v1h-1zM13 273h1v1h-1zM6 275h1v1h-1zM15 275h1v1h-1zM8 277h1v1h-1zM7 279h1v1h-1zM12 279h1v1h-1zM7 283h1v1h-1zM10 290h1v1h-1zM19 291h1v1h-1zM10 293h1v1h-1zM20 293h1v1h-1zM7 295h1v1h-1zM13 295h1v1h-1zM16 303h1v1h-1zM12 306h1v1h-1zM6 308h2v1h-2zM21 308h1v1h-1zM9 310h1v1h-1zM15 310h1v1h-1zM9 312h1v1h-1zM11 317h1v1h-1zM6 319h1v1h-1zM10 322h1v1h-1zM8 328h1v1h-1zM19 328h1v1h-1zM13 329h1v1h-1zM11 333h1v1h-1zM22 334h1v1h-1zM15 338h1v1h-1zM22 338h1v1h-1zM12 342h1v1h-1zM15 342h1v1h-1zM16 343h1v1h-1zM19 344h1v1h-1zM6 346h1v1h-1zM13 347h1v1h-1zM14 348h1v1h-1zM19 349h1v1h-1zM6 350h1v1h-1zM13 350h1v1h-1zM15 350h1v1h-1zM6 351h1v1h-1zM19 351h1v1h-1zM23 351h1v1h-1zM12 354h1v1h-1zM23 358h1v1h-1zM18 360h1v1h-1zM13 362h1v1h-1zM19 363h1v1h-1zM11 364h1v1h-1zM19 366h1v1h-1zM20 367h1v1h-1zM16 370h1v1h-1zM21 371h1v1h-1zM19 376h1v1h-1zM8 377h1v1h-1zM12 377h1v1h-1zM18 379h1v1h-1zM15 388h1v1h-1zM16 393h1v1h-1zM17 394h1v1h-1zM20 394h1v1h-1zM10 395h1v1h-1zM7 396h1v1h-1zM10 396h1v1h-1zM22 397h1v1h-1zM22 400h1v1h-1zM22 401h1v1h-1zM17 405h1v1h-1zM8 406h1v1h-1zM8 407h1v1h-1zM15 410h1v1h-1zM15 411h1v1h-1zM22 414h1v1h-1zM17 415h1v1h-1zM14 419h1v1h-1zM6 420h1v1h-1zM10 421h1v1h-1zM13 422h1v1h-1zM19 422h1v1h-1zM11 423h1v1h-1zM18 424h1v1h-1zM20 425h1v1h-1zM7 426h1v1h-1zM7 427h1v1h-1zM18 429h1v1h-1zM7 433h1v1h-1zM6 435h1v1h-1zM21 435h1v1h-1zM6 436h1v1h-1zM18 437h1v1h-1zM19 439h1v1h-1zM11 442h1v1h-1zM20 443h1v1h-1zM8 445h1v1h-1zM11 445h1v1h-1zM18 447h1v1h-1zM6 449h1v1h-1zM15 452h1v1h-1zM23 454h1v1h-1zM6 457h1v1h-1zM23 460h1v1h-1zM19 464h1v1h-1zM7 465h1v1h-1zM14 467h1v1h-1zM21 469h1v1h-1zM6 471h1v1h-1zM20 471h1v1h-1zM22 471h1v1h-1zM14 473h1v1h-1zM10 475h1v1h-1zM21 475h1v1h-1zM8 476h1v1h-1zM12 480h1v1h-1zM9 483h1v1h-1zM11 486h1v1h-1zM22 486h1v1h-1zM9 488h1v1h-1zM17 490h1v1h-1zM8 497h1v1h-1zM13 497h1v1h-1zM18 498h1v1h-1zM19 499h1v1h-1zM6 503h1v1h-1zM21 503h1v1h-1zM7 508h1v1h-1zM17 510h1v1h-1zM11 512h1v1h-1zM6 513h1v1h-1zM12 513h1v1h-1zM7 514h1v1h-1zM11 515h1v1h-1zM21 515h1v1h-1zM16 516h1v1h-1zM8 519h1v1h-1zM21 521h1v1h-1zM20 522h1v1h-1zM13 524h1v1h-1zM7 526h1v1h-1zM10 526h1v1h-1zM12 528h1v1h-1zM15 528h1v1h-1zM10 536h1v1h-1zM12 538h2v1h-2zM8 539h1v1h-1zM23 540h1v1h-1zM13 542h1v1h-1zM6 547h1v1h-1zM6 548h1v1h-1zM15 551h1v1h-1zM12 555h1v1h-1z"/>
<path fill="#fcd8d8" d="M1 0h1v1h-1zM2 4h1v1h-1zM17 9h1v1h-1zM5 11h1v1h-1zM2 13h1v1h-1zM5 13h1v1h-1zM15 13h1v1h-1zM2 15h1v1h-1zM0 16h1v1h-1zM11 18h1v1h-1zM2 19h1v1h-1zM9 19h1v1h-1zM19 19h1v1h-1zM4 21h1v1h-1zM7 23h1v1h-1zM5 25h1v1h-1zM1 26h1v1h-1zM3 26h1v1h-1zM14 28h1v1h-1zM16 28h1v1h-1zM6 29h1v1h-1zM0 31h1v1h-1zM17 31h1v1h-1zM10 33h1v1h-1zM13 33h1v1h-1zM7 34h1v1h-1zM4 35h1v1h-1zM23 36h1v1h-1zM2 40h1v1h-1zM10 40h1v1h-1zM5 41h1v1h-1zM1 45h1v1h-1zM15 45h1v1h-1zM18 45h1v1h-1zM0 50h1v1h-1zM8 50h1v1h-1zM2 51h1v1h-1zM6 51h1v1h-1zM21 51h1v1h-1zM6 52h1v1h-1zM3 53h1v1h-1zM2 54h1v1h-1zM3 55h1v1h-1zM2 56h1v1h-1zM3 58h1v1h-1zM7 59h1v1h-1zM2 60h1v1h-1zM0 61h1v1h-1zM3 61h1v1h-1zM23 61h1v1h-1zM2 62h1v1h-1zM4 62h1v1h-1zM5 63h1v1h-1zM3 64h1v1h-1zM7 65h1v1h-1zM2 66h2v1h-2zM15 67h1v1h-1zM2 68h1v1h-1zM4 68h1v1h-1zM3 72h1v1h-1zM5 73h1v1h-1zM5 75h1v1h-1zM5 76h1v1h-1zM4 77h1v1h-1zM12 77h1v1h-1zM1 81h2v1h-2zM18 83h1v1h-1zM0 84h1v1h-1zM14 88h1v1h-1zM0 94h1v1h-1zM19 96h1v1h-1zM21 96h1v1h-1zM9 101h1v1h-1zM12 101h1v1h-1zM10 103h1v1h-1zM8 104h1v1h-1zM11 104h1v1h-1zM21 104h1v1h-1zM6 105h1v1h-1zM6 106h2v1h-2zM15 106h1v1h-1zM17 106h1v1h-1zM15 108h1v1h-1zM7 109h1v1h-1zM7 110h1v1h-1zM21 111h1v1h-1zM15 112h1v1h-1zM9 113h2v1h-2zM10 114h1v1h-1zM14 114h1v1h-1zM8 116h1v1h-1zM21 116h1v1h-1zM19 117h1v1h-1zM18 119h1v1h-1zM8 122h1v1h-1zM14 126h1v1h-1zM12 132h1v1h-1zM23 133h1v1h-1zM7 137h1v1h-1zM10 137h1v1h-1zM10 139h1v1h-1zM7 142h1v1h-1zM14 142h1v1h-1zM20 142h1v1h-1zM8 143h1v1h-1zM14 143h1v1h-1zM19 143h1v1h-1zM20 144h1v1h-1zM14 145h1v1h-1zM23 145h1v1h-1zM18 147h1v1h-1zM20 151h1v1h-1zM20 152h2v1h-2zM11 156h1v1h-1zM9 157h1v1h-1zM14 160h1v1h-1zM22 161h1v1h-1zM20 163h1v1h-1zM20 164h1v1h-1zM6 165h1v1h-1zM18 167h1v1h-1zM9 170h1v1h-1zM7 171h1v1h-1zM8 176h1v1h-1zM12 176h1v1h-1zM23 176h1v1h-1zM20 180h1v1h-1zM12 184h1v1h-1zM10 186h1v1h-1zM13 188h1v1h-1zM6 189h1v1h-1zM9 190h1v1h-1zM20 190h2v1h-2zM14 191h1v1h-1zM9 193h1v1h-1zM17 193h1v1h-1zM12 196h1v1h-1zM23 199h1v1h-1zM17 200h1v1h-1zM21 200h1v1h-1zM13 206h1v1h-1zM19 206h1v1h-1zM10 207h2v1h-2zM16 208h1v1h-1zM17 210h1v1h-1zM8 212h1v1h-1zM23 212h1v1h-1zM7 214h1v1h-1zM8 215h1v1h-1zM6 217h1v1h-1zM16 217h1v1h-1zM10 218h1v1h-1zM8 219h1v1h-1zM13 219h1v1h-1zM9 222h1v1h-1zM16 222h1v1h-1zM19 224h1v1h-1zM8 226h1v1h-1zM16 228h1v1h-1zM19 228h1v1h-1zM13 231h1v1h-1zM15 234h1v1h-1zM6 236h1v1h-1zM14 236h1v1h-1zM13 237h1v1h-1zM12 238h1v1h-1zM22 238h1v1h-1zM14 240h1v1h-1zM6 244h1v1h-1zM12 245h1v1h-1zM18 245h1v1h-1zM18 248h1v1h-1zM13 252h1v1h-1zM22 252h1v1h-1zM19 253h1v1h-1zM7 255h1v1h-1zM20 255h1v1h-1zM6 257h1v1h-1zM15 258h1v1h-1zM6 259h1v1h-1zM11 259h1v1h-1zM18 259h1v1h-1zM23 260h1v1h-1zM16 261h1v1h-1zM20 265h1v1h-1zM22 265h1v1h-1zM13 266h1v1h-1zM8 269h1v1h-1zM18 270h1v1h-1zM20 271h1v1h-1zM6 272h1v1h-1zM17 277h1v1h-1zM14 280h1v1h-1zM18 282h1v1h-1zM16 288h1v1h-1zM23 290h1v1h-1zM11 293h1v1h-1zM22 293h1v1h-1zM14 296h1v1h-1zM22 296h1v1h-1zM15 298h1v1h-1zM15 301h1v1h-1zM23 301h1v1h-1zM21 303h1v1h-1zM11 307h2v1h-2zM14 310h1v1h-1zM16 310h1v1h-1zM20 314h1v1h-1zM20 315h1v1h-1zM18 316h1v1h-1zM20 317h1v1h-1zM12 318h1v1h-1zM10 320h1v1h-1zM23 320h1v1h-1zM14 328h1v1h-1zM18 331h1v1h-1zM9 333h1v1h-1zM16 334h1v1h-1zM21 335h1v1h-1zM19 337h1v1h-1zM16 338h1v1h-1zM12 344h1v1h-1zM2 345h1v1h-1zM7 351h1v1h-1zM17 351h1v1h-1zM17 354h1v1h-1zM7 355h1v1h-1zM9 356h1v1h-1zM9 360h1v1h-1zM6 361h1v1h-1zM13 361h1v1h-1zM10 365h1v1h-1zM11 370h1v1h-1zM17 370h1v1h-1zM12 371h1v1h-1zM9 373h1v1h-1zM22 377h1v1h-1zM21 379h1v1h-1zM6 381h1v1h-1zM20 381h1v1h-1zM13 382h1v1h-1zM15 382h1v1h-1zM14 387h1v1h-1zM16 387h1v1h-1zM10 390h1v1h-1zM8 391h1v1h-1zM7 393h1v1h-1zM15 393h1v1h-1zM14 394h1v1h-1zM22 399h1v1h-1zM17 406h1v1h-1zM14 407h1v1h-1zM16 407h1v1h-1zM14 410h1v1h-1zM11 413h1v1h-1zM18 415h1v1h-1zM14 416h1v1h-1zM21 416h1v1h-1zM23 419h1v1h-1zM13 420h1v1h-1zM9 421h1v1h-1zM16 423h1v1h-1zM6 426h1v1h-1zM12 426h1v1h-1zM20 427h1v1h-1zM7 434h1v1h-1zM7 435h1v1h-1zM10 438h1v1h-1zM12 444h1v1h-1zM23 444h1v1h-1zM6 450h1v1h-1zM13 452h1v1h-1zM17 455h1v1h-1zM20 457h1v1h-1zM20 458h1v1h-1zM19 459h1v1h-1zM10 461h1v1h-1zM17 461h1v1h-1zM9 462h1v1h-1zM12 464h1v1h-1zM21 466h1v1h-1zM15 467h2v1h-2zM9 468h1v1h-1zM16 469h1v1h-1zM11 470h1v1h-1zM13 472h1v1h-1zM20 475h1v1h-1zM10 476h1v1h-1zM14 476h1v1h-1zM9 478h1v1h-1zM11 478h1v1h-1zM22 478h1v1h-1zM20 479h1v1h-1zM6 480h1v1h-1zM17 480h1v1h-1zM13 481h1v1h-1zM8 482h2v1h-2zM10 484h1v1h-1zM19 485h1v1h-1zM8 486h1v1h-1zM16 487h1v1h-1zM9 490h1v1h-1zM13 490h1v1h-1zM8 495h1v1h-1zM7 498h1v1h-1zM11 500h1v1h-1zM22 500h1v1h-1zM7 501h1v1h-1zM23 503h1v1h-1zM7 507h1v1h-1zM12 507h1v1h-1zM21 509h1v1h-1zM13 511h1v1h-1zM14 517h2v1h-2zM17 522h1v1h-1zM18 523h1v1h-1zM7 525h1v1h-1zM17 525h1v1h-1zM8 526h2v1h-2zM22 527h1v1h-1zM21 528h1v1h-1zM7 530h1v1h-1zM6 531h1v1h-1zM22 531h1v1h-1zM14 532h1v1h-1zM16 532h1v1h-1zM22 532h1v1h-1zM8 535h1v1h-1zM16 535h2v1h-2zM7 539h1v1h-1zM10 540h1v1h-1zM11 541h1v1h-1zM23 542h1v1h-1zM6 544h1v1h-1zM20 544h1v1h-1zM9 545h1v1h-1zM18 547h1v1h-1zM23 548h1v1h-1zM11 550h1v1h-1zM16 550h2v1h-2zM6 552h1v1h-1zM13 552h1v1h-1zM13 553h2v1h-2zM9 554h1v1h-1zM19 555h1v1h-1zM7 556h1v1h-1z"/>
<path fill="#fce4e4" d="M2 0h1v1h-1zM5 0h1v1h-1zM4 1h1v1h-1zM2 2h1v1h-1zM5 4h1v1h-1zM15 4h1v1h-1zM5 6h1v1h-1zM18 6h2v1h-2zM4 7h1v1h-1zM18 9h1v1h-1zM3 11h1v1h-1zM1 13h1v1h-1zM1 14h1v1h-1zM6 15h1v1h-1zM5 16h1v1h-1zM21 16h1v1h-1zM10 19h1v1h-1zM19 22h1v1h-1zM12 23h1v1h-1zM22 23h1v1h-1zM0 25h2v1h-2zM23 25h1v1h-1zM17 26h1v1h-1zM3 27h2v1h-2zM20 27h1v1h-1zM4 28h2v1h-2zM0 29h1v1h-1zM8 29h1v1h-1zM20 29h1v1h-1zM3 30h1v1h-1zM11 30h1v1h-1zM14 31h2v1h-2zM4 32h2v1h-2zM13 32h1v1h-1zM19 32h1v1h-1zM3 33h1v1h-1zM0 34h1v1h-1zM1 36h2v1h-2zM1 37h1v1h-1zM21 37h1v1h-1zM0 39h1v1h-1zM8 39h1v1h-1zM10 41h1v1h-1zM0 42h1v1h-1zM10 43h1v1h-1zM13 43h1v1h-1zM13 45h1v1h-1zM1 46h1v1h-1zM22 46h1v1h-1zM9 47h1v1h-1zM20 47h1v1h-1zM5 48h1v1h-1zM9 48h1v1h-1zM16 48h1v1h-1zM13 50h1v1h-1zM4 51h1v1h-1zM5 53h1v1h-1zM3 54h1v1h-1zM2 55h1v1h-1zM5 56h1v1h-1zM13 56h1v1h-1zM20 57h1v1h-1zM1 58h1v1h-1zM2 59h1v1h-1zM10 59h1v1h-1zM0 60h1v1h-1zM3 60h1v1h-1zM3 62h1v1h-1zM6 64h1v1h-1zM16 65h1v1h-1zM23 65h1v1h-1zM8 66h1v1h-1zM11 66h1v1h-1zM17 68h1v1h-1zM15 70h1v1h-1zM20 70h1v1h-1zM4 72h2v1h-2zM11 72h1v1h-1zM19 73h1v1h-1zM15 74h1v1h-1zM3 75h1v1h-1zM1 76h1v1h-1zM7 76h2v1h-2zM0 77h1v1h-1zM5 77h1v1h-1zM0 79h1v1h-1zM19 81h1v1h-1zM20 83h1v1h-1zM5 85h1v1h-1zM18 85h1v1h-1zM4 86h1v1h-1zM13 87h1v1h-1zM1 88h2v1h-2zM6 88h2v1h-2zM10 88h1v1h-1zM18 88h2v1h-2zM23 88h1v1h-1zM3 89h1v1h-1zM14 90h1v1h-1zM18 91h1v1h-1zM3 92h1v1h-1zM19 92h1v1h-1zM5 94h1v1h-1zM20 95h1v1h-1zM9 96h1v1h-1zM11 96h1v1h-1zM14 97h1v1h-1zM21 97h2v1h-2zM7 99h1v1h-1zM10 99h2v1h-2zM7 100h1v1h-1zM7 102h1v1h-1zM13 102h2v1h-2zM15 103h1v1h-1zM16 105h2v1h-2zM16 106h1v1h-1zM16 107h1v1h-1zM22 108h1v1h-1zM15 109h1v1h-1zM21 109h1v1h-1zM20 110h1v1h-1zM8 111h1v1h-1zM19 111h1v1h-1zM12 112h1v1h-1zM11 113h1v1h-1zM22 113h1v1h-1zM7 114h1v1h-1zM17 117h2v1h-2zM15 120h1v1h-1zM13 121h1v1h-1zM22 121h1v1h-1zM17 125h1v1h-1zM7 126h1v1h-1zM13 127h1v1h-1zM12 128h1v1h-1zM7 131h1v1h-1zM22 131h1v1h-1zM10 134h1v1h-1zM15 134h1v1h-1zM21 135h1v1h-1zM21 136h1v1h-1zM15 138h1v1h-1zM22 138h1v1h-1zM14 139h1v1h-1zM23 140h1v1h-1zM14 141h2v1h-2zM15 144h1v1h-1zM12 146h1v1h-1zM20 147h1v1h-1zM16 148h1v1h-1zM20 149h2v1h-2zM7 151h1v1h-1zM18 151h1v1h-1zM15 154h1v1h-1zM18 155h1v1h-1zM15 158h1v1h-1zM7 160h1v1h-1zM12 161h2v1h-2zM17 165h1v1h-1zM22 165h1v1h-1zM10 166h1v1h-1zM12 166h1v1h-1zM15 166h1v1h-1zM10 167h1v1h-1zM14 169h1v1h-1zM21 172h1v1h-1zM14 175h1v1h-1zM17 175h1v1h-1zM7 176h1v1h-1zM10 176h1v1h-1zM15 178h1v1h-1zM1 179h1v1h-1zM11 179h1v1h-1zM14 179h1v1h-1zM7 180h1v1h-1zM13 180h1v1h-1zM20 181h1v1h-1zM22 182h1v1h-1zM16 183h1v1h-1zM10 187h1v1h-1zM7 188h1v1h-1zM22 188h1v1h-1zM13 189h1v1h-1zM19 189h2v1h-2zM23 191h1v1h-1zM15 195h1v1h-1zM17 196h1v1h-1zM7 197h1v1h-1zM19 197h1v1h-1zM7 198h1v1h-1zM13 200h1v1h-1zM13 201h1v1h-1zM21 202h1v1h-1zM23 202h1v1h-1zM10 204h1v1h-1zM16 204h1v1h-1zM22 204h1v1h-1zM15 205h1v1h-1zM6 207h2v1h-2zM12 208h1v1h-1zM8 209h1v1h-1zM22 209h2v1h-2zM23 213h1v1h-1zM18 214h1v1h-1zM7 215h1v1h-1zM9 215h1v1h-1zM23 215h1v1h-1zM19 216h1v1h-1zM7 219h1v1h-1zM10 220h1v1h-1zM12 222h1v1h-1zM15 227h1v1h-1zM10 229h1v1h-1zM13 229h1v1h-1zM17 229h1v1h-1zM17 231h1v1h-1zM18 232h1v1h-1zM11 233h1v1h-1zM21 235h1v1h-1zM12 236h1v1h-1zM20 236h2v1h-2zM8 237h1v1h-1zM14 238h1v1h-1zM9 240h1v1h-1zM20 240h1v1h-1zM23 242h1v1h-1zM18 243h1v1h-1zM7 245h1v1h-1zM11 246h1v1h-1zM13 246h1v1h-1zM16 248h1v1h-1zM10 249h1v1h-1zM6 251h1v1h-1zM10 251h1v1h-1zM12 251h1v1h-1zM23 251h1v1h-1zM7 252h1v1h-1zM11 252h1v1h-1zM16 252h1v1h-1zM23 252h1v1h-1zM11 256h1v1h-1zM7 263h1v1h-1zM16 264h1v1h-1zM23 264h1v1h-1zM11 265h1v1h-1zM7 267h2v1h-2zM14 267h1v1h-1zM19 267h1v1h-1zM8 268h1v1h-1zM9 269h1v1h-1zM18 272h1v1h-1zM14 274h1v1h-1zM22 274h1v1h-1zM14 275h1v1h-1zM8 276h1v1h-1zM16 278h1v1h-1zM15 280h1v1h-1zM10 283h1v1h-1zM14 285h1v1h-1zM7 287h1v1h-1zM16 287h1v1h-1zM6 288h1v1h-1zM17 289h2v1h-2zM6 290h1v1h-1zM23 291h1v1h-1zM13 294h1v1h-1zM16 295h1v1h-1zM22 295h1v1h-1zM17 296h1v1h-1zM13 298h1v1h-1zM7 301h1v1h-1zM14 303h1v1h-1zM22 303h1v1h-1zM20 304h1v1h-1zM18 307h1v1h-1zM20 307h1v1h-1zM19 308h1v1h-1zM6 312h1v1h-1zM10 313h1v1h-1zM19 313h1v1h-1zM17 315h1v1h-1zM19 315h1v1h-1zM20 319h1v1h-1zM8 320h1v1h-1zM19 321h1v1h-1zM11 322h2v1h-2zM6 324h1v1h-1zM12 325h1v1h-1zM7 326h1v1h-1zM6 327h1v1h-1zM11 327h2v1h-2zM6 329h1v1h-1zM11 331h1v1h-1zM9 332h1v1h-1zM12 332h1v1h-1zM13 333h1v1h-1zM9 334h1v1h-1zM18 338h1v1h-1zM6 339h1v1h-1zM19 342h1v1h-1zM16 344h1v1h-1zM19 348h1v1h-1zM21 349h1v1h-1zM6 353h1v1h-1zM10 358h1v1h-1zM20 358h1v1h-1zM22 358h1v1h-1zM10 362h1v1h-1zM19 365h2v1h-2zM6 366h1v1h-1zM22 366h1v1h-1zM9 367h2v1h-2zM14 367h1v1h-1zM10 368h1v1h-1zM6 369h1v1h-1zM9 372h1v1h-1zM15 375h1v1h-1zM18 375h1v1h-1zM16 376h1v1h-1zM15 377h1v1h-1zM9 378h1v1h-1zM16 378h1v1h-1zM10 384h1v1h-1zM20 384h1v1h-1zM11 385h1v1h-1zM17 385h1v1h-1zM23 385h1v1h-1zM23 387h1v1h-1zM12 388h1v1h-1zM16 388h1v1h-1zM22 390h2v1h-2zM7 392h1v1h-1zM19 392h1v1h-1zM20 395h2v1h-2zM23 395h1v1h-1zM20 396h1v1h-1zM10 397h1v1h-1zM19 399h1v1h-1zM14 400h1v1h-1zM13 401h1v1h-1zM8 402h1v1h-1zM18 402h1v1h-1zM11 403h1v1h-1zM13 403h1v1h-1zM16 403h1v1h-1zM18 403h1v1h-1zM12 405h1v1h-1zM6 406h1v1h-1zM8 411h1v1h-1zM12 411h1v1h-1zM17 411h1v1h-1zM22 412h1v1h-1zM9 414h1v1h-1zM23 415h1v1h-1zM21 418h1v1h-1zM11 420h1v1h-1zM22 420h1v1h-1zM20 423h1v1h-1zM8 425h1v1h-1zM15 425h1v1h-1zM19 426h1v1h-1zM19 427h1v1h-1zM14 428h1v1h-1zM16 430h1v1h-1zM19 431h1v1h-1zM23 431h1v1h-1zM16 432h1v1h-1zM12 433h1v1h-1zM16 434h1v1h-1zM6 438h1v1h-1zM9 439h1v1h-1zM11 439h1v1h-1zM16 439h1v1h-1zM16 440h1v1h-1zM7 443h1v1h-1zM7 445h1v1h-1zM23 447h1v1h-1zM6 448h1v1h-1zM15 448h1v1h-1zM20 448h1v1h-1zM19 451h1v1h-1zM10 452h1v1h-1zM23 453h1v1h-1zM10 455h1v1h-1zM10 456h1v1h-1zM22 457h1v1h-1zM9 458h1v1h-1zM13 460h1v1h-1zM6 461h1v1h-1zM19 461h1v1h-1zM17 462h1v1h-1zM7 464h1v1h-1zM9 464h1v1h-1zM8 465h1v1h-1zM16 465h1v1h-1zM20 466h1v1h-1zM13 468h1v1h-1zM15 468h1v1h-1zM20 468h1v1h-1zM22 468h1v1h-1zM8 469h1v1h-1zM10 469h1v1h-1zM10 471h1v1h-1zM9 473h1v1h-1zM7 474h1v1h-1zM9 475h1v1h-1zM14 475h1v1h-1zM11 476h1v1h-1zM23 476h1v1h-1zM14 477h1v1h-1zM20 478h2v1h-2zM7 480h1v1h-1zM17 483h1v1h-1zM23 485h1v1h-1zM14 486h1v1h-1zM16 486h1v1h-1zM7 490h1v1h-1zM15 492h1v1h-1zM13 493h1v1h-1zM23 493h1v1h-1zM21 494h1v1h-1zM10 495h1v1h-1zM20 495h1v1h-1zM10 498h1v1h-1zM22 498h1v1h-1zM12 499h1v1h-1zM9 502h1v1h-1zM15 508h1v1h-1zM15 509h1v1h-1zM23 513h1v1h-1zM13 515h1v1h-1zM10 518h1v1h-1zM15 520h1v1h-1zM20 520h1v1h-1zM22 520h1v1h-1zM7 523h1v1h-1zM14 523h1v1h-1zM15 525h1v1h-1zM14 526h1v1h-1zM0 527h1v1h-1zM13 529h1v1h-1zM18 530h1v1h-1zM10 531h1v1h-1zM18 531h1v1h-1zM8 532h1v1h-1zM9 533h1v1h-1zM17 534h1v1h-1zM9 538h1v1h-1zM14 538h1v1h-1zM17 539h1v1h-1zM10 543h1v1h-1zM22 544h2v1h-2zM7 550h1v1h-1zM12 550h1v1h-1zM23 551h1v1h-1zM12 554h1v1h-1zM19 554h1v1h-1zM11 555h1v1h-1zM15 555h1v1h-1zM18 555h1v1h-1z"/>
<path fill="#f06c6c" d="M4 0h1v1h-1zM13 1h1v1h-1zM2 3h1v1h-1zM5 5h1v1h-1zM5 7h1v1h-1zM2 11h1v1h-1zM3 12h1v1h-1zM19 14h1v1h-1zM2 17h1v1h-1zM5 18h1v1h-1zM21 21h1v1h-1zM3 25h1v1h-1zM8 25h1v1h-1zM10 26h1v1h-1zM10 27h1v1h-1zM1 32h1v1h-1zM3 37h1v1h-1zM0 40h1v1h-1zM2 41h1v1h-1zM5 46h1v1h-1zM2 52h1v1h-1zM5 62h1v1h-1zM0 63h2v1h-2zM2 69h1v1h-1zM0 71h1v1h-1zM4 71h1v1h-1zM2 72h1v1h-1zM7 75h1v1h-1zM1 80h1v1h-1zM0 81h1v1h-1zM4 83h1v1h-1zM3 85h1v1h-1zM0 86h1v1h-1zM4 88h1v1h-1zM4 90h1v1h-1zM1 92h1v1h-1zM13 93h1v1h-1zM7 96h1v1h-1zM18 97h1v1h-1zM8 98h1v1h-1zM14 99h1v1h-1zM22 99h1v1h-1zM13 100h1v1h-1zM23 100h1v1h-1zM21 101h1v1h-1zM22 102h1v1h-1zM19 103h1v1h-1zM15 104h1v1h-1zM20 104h1v1h-1zM14 105h1v1h-1zM18 106h1v1h-1zM7 107h1v1h-1zM7 108h1v1h-1zM6 109h1v1h-1zM12 110h1v1h-1zM17 110h1v1h-1zM14 113h1v1h-1zM16 113h1v1h-1zM19 113h1v1h-1zM20 114h1v1h-1zM7 118h1v1h-1zM15 118h1v1h-1zM19 119h1v1h-1zM19 123h1v1h-1zM9 126h1v1h-1zM22 126h1v1h-1zM12 129h1v1h-1zM8 132h1v1h-1zM15 132h1v1h-1zM16 133h1v1h-1zM10 135h1v1h-1zM8 136h1v1h-1zM11 136h1v1h-1zM14 136h1v1h-1zM7 141h1v1h-1zM16 142h1v1h-1zM19 142h1v1h-1zM10 147h1v1h-1zM23 147h1v1h-1zM19 154h1v1h-1zM23 154h1v1h-1zM6 157h1v1h-1zM16 157h1v1h-1zM14 161h1v1h-1zM15 162h1v1h-1zM19 165h1v1h-1zM21 167h1v1h-1zM18 168h1v1h-1zM9 169h2v1h-2zM8 170h1v1h-1zM15 173h1v1h-1zM22 173h1v1h-1zM9 174h1v1h-1zM23 174h1v1h-1zM19 175h1v1h-1zM6 177h1v1h-1zM18 182h1v1h-1zM21 184h1v1h-1zM9 186h1v1h-1zM22 191h1v1h-1zM22 193h1v1h-1zM11 196h1v1h-1zM8 197h1v1h-1zM22 197h1v1h-1zM22 198h1v1h-1zM8 200h1v1h-1zM16 203h1v1h-1zM11 204h1v1h-1zM18 205h1v1h-1zM8 207h1v1h-1zM18 207h1v1h-1zM12 211h1v1h-1zM15 212h1v1h-1zM22 220h1v1h-1zM15 221h1v1h-1zM22 222h1v1h-1zM20 223h1v1h-1zM19 227h1v1h-1zM8 229h1v1h-1zM6 230h1v1h-1zM17 234h1v1h-1zM20 234h1v1h-1zM18 236h1v1h-1zM18 237h1v1h-1zM16 241h1v1h-1zM19 242h1v1h-1zM7 243h1v1h-1zM9 249h1v1h-1zM8 252h1v1h-1zM15 254h1v1h-1zM14 259h1v1h-1zM23 261h1v1h-1zM13 267h1v1h-1zM16 269h1v1h-1zM10 271h1v1h-1zM16 272h1v1h-1zM9 274h1v1h-1zM7 275h1v1h-1zM9 277h1v1h-1zM20 281h1v1h-1zM20 283h2v1h-2zM8 284h1v1h-1zM13 284h1v1h-1zM16 290h1v1h-1zM6 291h1v1h-1zM10 297h1v1h-1zM9 299h1v1h-1zM8 302h1v1h-1zM19 302h1v1h-1zM22 302h1v1h-1zM12 304h1v1h-1zM17 304h1v1h-1zM22 308h1v1h-1zM20 310h1v1h-1zM8 311h1v1h-1zM10 311h1v1h-1zM7 314h1v1h-1zM10 315h1v1h-1zM21 316h1v1h-1zM23 318h1v1h-1zM17 319h1v1h-1zM23 321h1v1h-1zM8 324h2v1h-2zM22 327h1v1h-1zM6 330h1v1h-1zM14 332h1v1h-1zM9 338h1v1h-1zM23 338h1v1h-1zM10 344h1v1h-1zM14 344h1v1h-1zM8 349h1v1h-1zM16 350h1v1h-1zM16 351h1v1h-1zM7 353h1v1h-1zM9 355h1v1h-1zM15 355h1v1h-1zM6 357h1v1h-1zM10 357h1v1h-1zM7 358h1v1h-1zM21 358h1v1h-1zM15 362h1v1h-1zM19 362h1v1h-1zM13 363h1v1h-1zM18 363h1v1h-1zM14 364h1v1h-1zM21 365h1v1h-1zM11 366h1v1h-1zM18 366h1v1h-1zM7 369h1v1h-1zM15 369h1v1h-1zM9 370h1v1h-1zM14 370h1v1h-1zM19 370h1v1h-1zM20 371h1v1h-1zM6 373h1v1h-1zM18 373h1v1h-1zM23 373h1v1h-1zM17 374h1v1h-1zM13 377h1v1h-1zM20 377h1v1h-1zM20 378h1v1h-1zM23 378h1v1h-1zM23 381h1v1h-1zM6 383h1v1h-1zM7 384h1v1h-1zM6 393h1v1h-1zM11 394h1v1h-1zM19 394h1v1h-1zM21 394h1v1h-1zM12 396h1v1h-1zM9 397h1v1h-1zM15 397h1v1h-1zM23 397h1v1h-1zM21 399h1v1h-1zM17 400h1v1h-1zM7 401h1v1h-1zM19 402h1v1h-1zM15 403h1v1h-1zM20 404h1v1h-1zM12 406h1v1h-1zM22 408h1v1h-1zM8 409h1v1h-1zM17 409h1v1h-1zM19 410h1v1h-1zM16 411h1v1h-1zM6 414h1v1h-1zM15 415h1v1h-1zM7 422h1v1h-1zM10 423h1v1h-1zM23 423h1v1h-1zM9 427h1v1h-1zM23 427h1v1h-1zM9 428h1v1h-1zM23 428h1v1h-1zM6 432h1v1h-1zM12 432h1v1h-1zM18 435h1v1h-1zM8 438h1v1h-1zM19 438h1v1h-1zM6 440h1v1h-1zM6 442h1v1h-1zM7 446h1v1h-1zM16 455h1v1h-1zM23 456h1v1h-1zM7 458h1v1h-1zM18 462h1v1h-1zM19 463h1v1h-1zM16 464h1v1h-1zM6 475h1v1h-1zM23 475h1v1h-1zM20 476h1v1h-1zM6 479h1v1h-1zM9 479h1v1h-1zM23 481h1v1h-1zM6 486h1v1h-1zM20 486h1v1h-1zM10 488h1v1h-1zM18 493h1v1h-1zM15 494h1v1h-1zM22 494h1v1h-1zM12 495h1v1h-1zM15 495h1v1h-1zM17 495h1v1h-1zM19 495h1v1h-1zM9 499h1v1h-1zM11 499h1v1h-1zM18 500h1v1h-1zM11 501h1v1h-1zM21 502h1v1h-1zM23 502h1v1h-1zM11 503h1v1h-1zM8 504h1v1h-1zM20 504h1v1h-1zM17 505h1v1h-1zM22 506h1v1h-1zM11 508h1v1h-1zM14 508h1v1h-1zM20 510h1v1h-1zM18 511h1v1h-1zM15 512h1v1h-1zM10 513h1v1h-1zM19 520h1v1h-1zM7 521h1v1h-1zM22 521h1v1h-1zM11 522h1v1h-1zM16 524h1v1h-1zM8 529h1v1h-1zM21 530h1v1h-1zM19 531h1v1h-1zM19 532h1v1h-1zM8 533h1v1h-1zM20 534h1v1h-1zM15 535h1v1h-1zM20 536h1v1h-1zM10 537h1v1h-1zM14 539h1v1h-1zM9 540h1v1h-1zM21 541h1v1h-1zM15 549h1v1h-1zM19 549h1v1h-1zM14 550h1v1h-1zM23 552h1v1h-1zM16 553h1v1h-1zM20 555h1v1h-1z"/>
<path fill="#fcf0f0" d="M6 0h1v1h-1zM1 1h2v1h-2zM19 1h1v1h-1zM8 2h1v1h-1zM13 2h1v1h-1zM3 3h1v1h-1zM11 4h1v1h-1zM3 5h1v1h-1zM13 5h1v1h-1zM13 6h1v1h-1zM15 7h1v1h-1zM7 8h1v1h-1zM0 9h2v1h-2zM3 9h1v1h-1zM4 10h1v1h-1zM22 10h1v1h-1zM1 11h1v1h-1zM10 11h1v1h-1zM5 12h1v1h-1zM10 13h2v1h-2zM14 13h1v1h-1zM23 13h1v1h-1zM10 14h1v1h-1zM1 17h1v1h-1zM14 18h1v1h-1zM23 18h1v1h-1zM0 19h1v1h-1zM16 21h1v1h-1zM18 22h1v1h-1zM18 23h1v1h-1zM1 24h1v1h-1zM11 24h1v1h-1zM17 25h1v1h-1zM22 29h1v1h-1zM8 30h1v1h-1zM10 30h1v1h-1zM1 31h1v1h-1zM12 31h1v1h-1zM18 31h1v1h-1zM0 32h1v1h-1zM2 32h1v1h-1zM16 32h2v1h-2zM14 34h1v1h-1zM18 34h1v1h-1zM0 35h1v1h-1zM23 37h1v1h-1zM3 38h1v1h-1zM22 38h1v1h-1zM7 39h1v1h-1zM16 39h1v1h-1zM15 41h1v1h-1zM3 43h1v1h-1zM15 43h1v1h-1zM20 43h1v1h-1zM23 43h1v1h-1zM3 44h2v1h-2zM15 44h1v1h-1zM8 45h1v1h-1zM17 45h1v1h-1zM17 46h1v1h-1zM3 47h1v1h-1zM4 48h1v1h-1zM0 49h1v1h-1zM6 49h1v1h-1zM9 50h1v1h-1zM3 51h1v1h-1zM8 51h1v1h-1zM10 51h1v1h-1zM15 51h1v1h-1zM20 52h1v1h-1zM6 53h1v1h-1zM20 53h1v1h-1zM12 54h1v1h-1zM22 54h1v1h-1zM1 56h1v1h-1zM7 56h1v1h-1zM10 56h1v1h-1zM2 57h1v1h-1zM4 57h1v1h-1zM4 59h1v1h-1zM8 60h1v1h-1zM10 60h1v1h-1zM7 63h1v1h-1zM0 65h1v1h-1zM10 65h2v1h-2zM0 66h1v1h-1zM15 66h1v1h-1zM20 66h1v1h-1zM11 67h1v1h-1zM8 69h1v1h-1zM16 69h1v1h-1zM3 70h1v1h-1zM5 70h1v1h-1zM17 70h1v1h-1zM1 71h1v1h-1zM18 71h1v1h-1zM18 72h2v1h-2zM18 73h1v1h-1zM21 73h1v1h-1zM7 74h1v1h-1zM19 74h1v1h-1zM9 75h1v1h-1zM14 75h1v1h-1zM22 75h1v1h-1zM5 79h1v1h-1zM7 79h1v1h-1zM14 79h1v1h-1zM5 80h1v1h-1zM14 80h1v1h-1zM21 80h1v1h-1zM10 81h1v1h-1zM1 82h1v1h-1zM7 82h1v1h-1zM15 82h1v1h-1zM2 83h1v1h-1zM21 84h1v1h-1zM0 85h2v1h-2zM13 85h1v1h-1zM4 87h1v1h-1zM20 87h1v1h-1zM10 90h1v1h-1zM19 91h1v1h-1zM20 92h1v1h-1zM23 92h1v1h-1zM17 93h1v1h-1zM21 94h1v1h-1zM23 95h1v1h-1zM17 97h1v1h-1zM9 98h1v1h-1zM13 98h1v1h-1zM17 99h1v1h-1zM14 100h1v1h-1zM19 101h1v1h-1zM11 102h1v1h-1zM12 103h1v1h-1zM22 104h1v1h-1zM14 106h1v1h-1zM13 107h1v1h-1zM11 108h1v1h-1zM18 108h1v1h-1zM20 108h1v1h-1zM23 110h1v1h-1zM20 111h1v1h-1zM14 112h1v1h-1zM17 112h2v1h-2zM17 113h1v1h-1zM8 114h2v1h-2zM13 114h1v1h-1zM2 115h1v1h-1zM23 115h1v1h-1zM14 116h1v1h-1zM11 117h1v1h-1zM3 119h1v1h-1zM17 119h1v1h-1zM12 120h2v1h-2zM18 120h1v1h-1zM0 122h1v1h-1zM23 122h1v1h-1zM20 123h1v1h-1zM18 124h1v1h-1zM8 127h1v1h-1zM19 128h1v1h-1zM17 131h1v1h-1zM22 132h1v1h-1zM11 133h1v1h-1zM19 136h1v1h-1zM23 136h1v1h-1zM8 137h1v1h-1zM12 137h1v1h-1zM8 138h1v1h-1zM17 138h1v1h-1zM21 138h1v1h-1zM1 139h1v1h-1zM17 139h1v1h-1zM11 140h1v1h-1zM7 145h1v1h-1zM9 145h1v1h-1zM13 145h1v1h-1zM14 146h1v1h-1zM18 146h1v1h-1zM21 146h1v1h-1zM9 147h1v1h-1zM21 147h1v1h-1zM22 149h2v1h-2zM11 151h1v1h-1zM21 151h1v1h-1zM7 152h1v1h-1zM14 152h1v1h-1zM14 153h1v1h-1zM22 154h1v1h-1zM7 156h1v1h-1zM14 156h1v1h-1zM7 157h1v1h-1zM12 157h1v1h-1zM21 157h1v1h-1zM2 159h1v1h-1zM20 159h1v1h-1zM8 161h1v1h-1zM11 161h1v1h-1zM16 161h1v1h-1zM6 162h1v1h-1zM10 163h1v1h-1zM17 164h1v1h-1zM22 164h1v1h-1zM11 165h1v1h-1zM18 165h1v1h-1zM20 166h1v1h-1zM20 167h1v1h-1zM11 168h1v1h-1zM17 168h1v1h-1zM6 169h1v1h-1zM20 169h1v1h-1zM18 170h1v1h-1zM6 171h1v1h-1zM9 171h1v1h-1zM15 172h1v1h-1zM18 172h1v1h-1zM10 173h1v1h-1zM16 173h2v1h-2zM19 174h1v1h-1zM15 177h1v1h-1zM19 177h1v1h-1zM7 179h1v1h-1zM9 179h1v1h-1zM16 179h1v1h-1zM9 180h1v1h-1zM18 180h1v1h-1zM16 182h1v1h-1zM15 184h1v1h-1zM15 186h1v1h-1zM22 186h1v1h-1zM13 187h1v1h-1zM17 187h1v1h-1zM19 187h1v1h-1zM10 189h1v1h-1zM16 189h1v1h-1zM10 190h1v1h-1zM22 192h1v1h-1zM15 193h1v1h-1zM19 193h1v1h-1zM11 197h1v1h-1zM14 197h1v1h-1zM16 198h1v1h-1zM17 199h1v1h-1zM8 203h1v1h-1zM22 203h1v1h-1zM6 204h1v1h-1zM9 204h1v1h-1zM13 204h1v1h-1zM11 205h1v1h-1zM17 205h1v1h-1zM20 205h1v1h-1zM17 206h1v1h-1zM2 207h1v1h-1zM14 209h1v1h-1zM20 209h1v1h-1zM10 212h1v1h-1zM20 212h1v1h-1zM11 213h1v1h-1zM15 213h1v1h-1zM17 215h1v1h-1zM8 217h1v1h-1zM11 217h2v1h-2zM23 217h1v1h-1zM14 219h1v1h-1zM16 221h1v1h-1zM8 222h1v1h-1zM6 223h1v1h-1zM15 223h1v1h-1zM13 224h1v1h-1zM7 226h1v1h-1zM13 226h1v1h-1zM9 227h1v1h-1zM7 228h1v1h-1zM9 228h1v1h-1zM12 228h1v1h-1zM13 230h1v1h-1zM23 231h1v1h-1zM15 232h1v1h-1zM23 234h1v1h-1zM12 235h1v1h-1zM12 237h1v1h-1zM17 237h1v1h-1zM21 237h1v1h-1zM22 239h1v1h-1zM18 240h1v1h-1zM7 242h2v1h-2zM14 242h1v1h-1zM16 242h1v1h-1zM10 243h2v1h-2zM19 244h1v1h-1zM15 245h2v1h-2zM23 245h1v1h-1zM7 246h2v1h-2zM20 246h1v1h-1zM6 247h1v1h-1zM23 248h1v1h-1zM10 250h1v1h-1zM18 252h1v1h-1zM16 254h1v1h-1zM13 255h1v1h-1zM20 257h2v1h-2zM11 258h1v1h-1zM10 259h1v1h-1zM20 259h1v1h-1zM17 260h1v1h-1zM19 261h1v1h-1zM9 262h1v1h-1zM14 262h1v1h-1zM17 262h1v1h-1zM19 262h1v1h-1zM10 263h1v1h-1zM7 264h1v1h-1zM10 264h1v1h-1zM19 264h1v1h-1zM16 265h1v1h-1zM12 266h1v1h-1zM15 266h1v1h-1zM16 267h1v1h-1zM21 268h1v1h-1zM6 269h1v1h-1zM21 269h1v1h-1zM23 269h1v1h-1zM9 270h1v1h-1zM17 272h1v1h-1zM20 273h1v1h-1zM19 276h2v1h-2zM23 276h1v1h-1zM15 279h1v1h-1zM18 279h1v1h-1zM13 282h1v1h-1zM18 283h1v1h-1zM20 285h1v1h-1zM11 287h1v1h-1zM18 288h1v1h-1zM12 290h1v1h-1zM14 290h1v1h-1zM20 294h2v1h-2zM12 295h1v1h-1zM15 295h1v1h-1zM11 296h1v1h-1zM18 296h1v1h-1zM7 297h1v1h-1zM17 297h1v1h-1zM20 298h1v1h-1zM14 299h2v1h-2zM23 300h1v1h-1zM13 302h1v1h-1zM6 303h1v1h-1zM11 303h1v1h-1zM22 304h1v1h-1zM7 306h1v1h-1zM11 306h1v1h-1zM10 308h1v1h-1zM17 308h1v1h-1zM21 310h1v1h-1zM22 314h1v1h-1zM16 315h1v1h-1zM21 315h1v1h-1zM11 321h1v1h-1zM6 322h1v1h-1zM9 322h1v1h-1zM13 322h1v1h-1zM18 323h1v1h-1zM21 324h1v1h-1zM23 325h1v1h-1zM12 326h1v1h-1zM22 326h1v1h-1zM2 327h1v1h-1zM9 328h1v1h-1zM11 328h1v1h-1zM13 328h1v1h-1zM16 328h1v1h-1zM8 329h1v1h-1zM12 329h1v1h-1zM15 329h1v1h-1zM13 330h1v1h-1zM23 330h1v1h-1zM0 332h1v1h-1zM10 332h1v1h-1zM12 333h1v1h-1zM13 335h1v1h-1zM15 335h1v1h-1zM20 335h1v1h-1zM16 336h1v1h-1zM23 336h1v1h-1zM21 337h1v1h-1zM14 338h1v1h-1zM21 339h1v1h-1zM23 339h1v1h-1zM6 340h1v1h-1zM8 340h1v1h-1zM10 340h1v1h-1zM13 340h1v1h-1zM19 340h1v1h-1zM11 342h1v1h-1zM13 342h1v1h-1zM20 342h1v1h-1zM23 342h1v1h-1zM15 343h1v1h-1zM18 344h1v1h-1zM22 344h1v1h-1zM0 345h1v1h-1zM21 345h1v1h-1zM11 346h1v1h-1zM19 346h1v1h-1zM23 346h1v1h-1zM10 348h1v1h-1zM20 348h1v1h-1zM21 350h2v1h-2zM10 351h1v1h-1zM18 351h1v1h-1zM6 352h1v1h-1zM9 352h2v1h-2zM12 352h1v1h-1zM13 353h1v1h-1zM19 353h1v1h-1zM21 353h1v1h-1zM8 355h1v1h-1zM14 356h1v1h-1zM18 358h1v1h-1zM8 360h1v1h-1zM10 360h1v1h-1zM15 360h1v1h-1zM22 360h1v1h-1zM15 363h1v1h-1zM6 364h2v1h-2zM20 364h2v1h-2zM21 367h1v1h-1zM7 368h1v1h-1zM23 369h1v1h-1zM22 370h2v1h-2zM6 371h1v1h-1zM15 372h2v1h-2zM8 373h1v1h-1zM16 373h1v1h-1zM21 373h1v1h-1zM13 374h1v1h-1zM13 375h1v1h-1zM19 377h1v1h-1zM23 377h1v1h-1zM6 380h3v1h-3zM15 380h1v1h-1zM19 380h1v1h-1zM7 381h1v1h-1zM8 382h2v1h-2zM19 382h1v1h-1zM9 383h1v1h-1zM22 383h1v1h-1zM23 384h1v1h-1zM19 385h1v1h-1zM0 386h1v1h-1zM9 386h1v1h-1zM13 386h1v1h-1zM9 387h1v1h-1zM13 388h1v1h-1zM8 389h1v1h-1zM16 389h1v1h-1zM9 390h1v1h-1zM11 392h1v1h-1zM16 392h1v1h-1zM22 393h1v1h-1zM13 394h1v1h-1zM6 395h1v1h-1zM18 395h1v1h-1zM22 396h1v1h-1zM16 397h1v1h-1zM19 397h1v1h-1zM6 398h1v1h-1zM8 398h1v1h-1zM10 399h1v1h-1zM14 399h1v1h-1zM7 400h1v1h-1zM13 400h1v1h-1zM21 400h1v1h-1zM15 402h1v1h-1zM12 403h1v1h-1zM21 403h1v1h-1zM10 404h1v1h-1zM22 404h1v1h-1zM7 406h1v1h-1zM18 407h1v1h-1zM20 407h1v1h-1zM10 409h1v1h-1zM12 410h1v1h-1zM14 411h1v1h-1zM15 414h1v1h-1zM21 414h1v1h-1zM6 415h1v1h-1zM14 415h1v1h-1zM10 416h1v1h-1zM18 416h1v1h-1zM15 419h1v1h-1zM19 419h1v1h-1zM16 420h1v1h-1zM6 421h1v1h-1zM8 421h1v1h-1zM19 421h1v1h-1zM17 423h1v1h-1zM8 426h1v1h-1zM10 426h1v1h-1zM6 427h1v1h-1zM6 430h2v1h-2zM23 430h1v1h-1zM6 431h1v1h-1zM14 431h1v1h-1zM0 435h1v1h-1zM21 437h1v1h-1zM13 438h1v1h-1zM18 440h1v1h-1zM22 440h1v1h-1zM23 441h1v1h-1zM15 442h1v1h-1zM10 443h1v1h-1zM13 443h1v1h-1zM7 444h1v1h-1zM19 445h1v1h-1zM21 445h1v1h-1zM10 446h2v1h-2zM20 446h1v1h-1zM9 447h1v1h-1zM7 448h1v1h-1zM19 448h1v1h-1zM11 449h1v1h-1zM18 449h1v1h-1zM16 450h1v1h-1zM18 450h1v1h-1zM6 451h1v1h-1zM12 451h1v1h-1zM14 451h1v1h-1zM17 451h1v1h-1zM13 454h2v1h-2zM19 457h1v1h-1zM23 458h1v1h-1zM13 461h1v1h-1zM13 462h1v1h-1zM20 463h3v1h-3zM10 466h1v1h-1zM15 466h1v1h-1zM22 467h1v1h-1zM12 468h1v1h-1zM17 468h1v1h-1zM7 469h1v1h-1zM8 470h1v1h-1zM12 470h1v1h-1zM15 470h1v1h-1zM19 470h1v1h-1zM2 471h1v1h-1zM13 471h1v1h-1zM16 471h1v1h-1zM13 475h1v1h-1zM16 478h1v1h-1zM8 479h1v1h-1zM10 479h1v1h-1zM13 480h1v1h-1zM15 480h1v1h-1zM7 482h1v1h-1zM6 483h1v1h-1zM12 483h1v1h-1zM19 483h1v1h-1zM17 484h1v1h-1zM6 485h1v1h-1zM12 485h1v1h-1zM21 486h1v1h-1zM17 487h1v1h-1zM0 488h1v1h-1zM7 488h1v1h-1zM14 489h1v1h-1zM23 489h1v1h-1zM14 490h1v1h-1zM23 491h1v1h-1zM6 492h1v1h-1zM10 492h1v1h-1zM19 492h1v1h-1zM14 497h1v1h-1zM6 501h1v1h-1zM17 501h1v1h-1zM19 501h1v1h-1zM9 504h1v1h-1zM19 504h1v1h-1zM8 505h1v1h-1zM12 506h1v1h-1zM14 506h1v1h-1zM23 507h1v1h-1zM9 509h1v1h-1zM11 509h1v1h-1zM14 509h1v1h-1zM14 510h1v1h-1zM16 510h1v1h-1zM19 511h1v1h-1zM16 514h2v1h-2zM22 514h1v1h-1zM14 515h1v1h-1zM6 516h1v1h-1zM10 516h1v1h-1zM9 517h2v1h-2zM12 519h1v1h-1zM22 519h1v1h-1zM7 522h1v1h-1zM14 522h1v1h-1zM18 522h1v1h-1zM12 523h2v1h-2zM12 524h1v1h-1zM21 525h1v1h-1zM11 526h1v1h-1zM19 527h1v1h-1zM16 528h1v1h-1zM20 531h1v1h-1zM6 532h1v1h-1zM10 533h1v1h-1zM23 533h1v1h-1zM7 534h1v1h-1zM14 534h1v1h-1zM8 537h2v1h-2zM11 537h1v1h-1zM9 539h1v1h-1zM18 539h1v1h-1zM12 540h1v1h-1zM14 543h1v1h-1zM18 543h1v1h-1zM23 543h1v1h-1zM0 544h1v1h-1zM13 544h1v1h-1zM6 545h1v1h-1zM17 545h1v1h-1zM18 546h1v1h-1zM21 547h1v1h-1zM1 552h1v1h-1zM15 552h3v1h-3zM0 554h1v1h-1zM13 554h1v1h-1zM16 554h1v1h-1zM23 554h1v1h-1zM21 555h1v1h-1zM20 556h2v1h-2z"/>
<path fill="#6060d8" d="M8 0h1v1h-1zM15 0h2v1h-2zM16 3h1v1h-1zM16 5h1v1h-1zM9 9h1v1h-1zM16 9h1v1h-1zM17 11h1v1h-1zM11 25h1v1h-1zM11 27h1v1h-1zM9 29h1v1h-1zM21 34h1v1h-1zM6 37h1v1h-1zM16 41h1v1h-1zM14 44h1v1h-1zM8 46h1v1h-1zM16 52h1v1h-1zM15 53h1v1h-1zM16 54h1v1h-1zM11 61h1v1h-1zM6 65h1v1h-1zM17 66h1v1h-1zM14 68h1v1h-1zM16 68h1v1h-1zM12 70h1v1h-1zM17 74h1v1h-1zM23 74h1v1h-1zM14 77h1v1h-1zM17 77h1v1h-1zM18 81h1v1h-1zM21 83h1v1h-1zM23 83h1v1h-1zM11 89h1v1h-1zM21 89h1v1h-1zM9 94h1v1h-1zM11 94h1v1h-1zM5 96h1v1h-1zM4 102h1v1h-1zM2 104h1v1h-1zM4 105h1v1h-1zM5 112h1v1h-1zM4 124h1v1h-1zM4 154h1v1h-1zM4 204h1v1h-1zM1 206h1v1h-1zM2 252h1v1h-1zM4 255h1v1h-1zM5 259h1v1h-1zM3 273h1v1h-1zM4 309h1v1h-1zM0 344h1v1h-1zM5 345h1v1h-1zM3 361h1v1h-1zM5 437h1v1h-1zM4 480h1v1h-1zM4 511h1v1h-1zM2 536h1v1h-1z"/>
<path fill="#e4f0fc" d="M9 0h1v1h-1zM17 2h1v1h-1zM20 9h1v1h-1zM20 13h1v1h-1zM17 14h1v1h-1zM22 17h1v1h-1zM20 19h1v1h-1zM19 21h1v1h-1zM11 23h1v1h-1zM15 25h1v1h-1zM9 27h1v1h-1zM20 28h1v1h-1zM15 36h2v1h-2zM11 39h1v1h-1zM8 43h1v1h-1zM21 45h1v1h-1zM19 46h1v1h-1zM16 50h1v1h-1zM5 52h1v1h-1zM11 53h1v1h-1zM11 55h1v1h-1zM8 58h1v1h-1zM22 60h1v1h-1zM21 61h1v1h-1zM6 63h1v1h-1zM13 63h1v1h-1zM17 63h1v1h-1zM3 65h1v1h-1zM15 65h1v1h-1zM6 67h1v1h-1zM8 68h1v1h-1zM7 73h1v1h-1zM6 78h1v1h-1zM15 78h1v1h-1zM12 81h1v1h-1zM0 82h1v1h-1zM14 84h1v1h-1zM23 84h1v1h-1zM16 87h1v1h-1zM4 95h1v1h-1zM2 97h2v1h-2zM1 98h1v1h-1zM4 98h2v1h-2zM6 100h1v1h-1zM3 102h1v1h-1zM0 103h1v1h-1zM17 103h1v1h-1zM12 104h1v1h-1zM18 105h1v1h-1zM16 108h1v1h-1zM0 112h1v1h-1zM11 112h1v1h-1zM17 114h1v1h-1zM21 115h1v1h-1zM3 117h1v1h-1zM8 117h1v1h-1zM9 119h1v1h-1zM0 120h1v1h-1zM2 120h1v1h-1zM23 120h1v1h-1zM23 121h1v1h-1zM12 122h1v1h-1zM16 122h1v1h-1zM22 123h1v1h-1zM23 128h1v1h-1zM22 130h1v1h-1zM7 132h1v1h-1zM19 135h1v1h-1zM18 138h1v1h-1zM8 140h1v1h-1zM2 142h1v1h-1zM20 143h1v1h-1zM17 145h1v1h-1zM13 146h1v1h-1zM4 147h1v1h-1zM14 147h1v1h-1zM14 151h1v1h-1zM4 152h1v1h-1zM13 154h1v1h-1zM10 157h1v1h-1zM12 158h1v1h-1zM23 158h1v1h-1zM2 160h1v1h-1zM19 161h1v1h-1zM11 162h1v1h-1zM9 164h1v1h-1zM2 165h1v1h-1zM13 165h1v1h-1zM6 166h1v1h-1zM15 169h1v1h-1zM3 172h1v1h-1zM21 173h1v1h-1zM1 174h1v1h-1zM9 176h1v1h-1zM0 177h1v1h-1zM10 177h1v1h-1zM19 178h1v1h-1zM23 179h1v1h-1zM9 182h1v1h-1zM14 183h1v1h-1zM20 183h1v1h-1zM3 185h1v1h-1zM0 186h1v1h-1zM11 192h1v1h-1zM8 194h1v1h-1zM11 194h1v1h-1zM9 196h1v1h-1zM23 198h1v1h-1zM1 199h1v1h-1zM14 203h1v1h-1zM0 204h1v1h-1zM7 206h1v1h-1zM4 207h1v1h-1zM3 209h1v1h-1zM2 211h1v1h-1zM5 212h1v1h-1zM22 212h1v1h-1zM19 215h1v1h-1zM0 217h1v1h-1zM19 218h1v1h-1zM16 224h1v1h-1zM1 225h1v1h-1zM11 225h1v1h-1zM0 229h1v1h-1zM7 230h1v1h-1zM1 231h1v1h-1zM15 231h1v1h-1zM14 233h1v1h-1zM1 234h1v1h-1zM18 234h1v1h-1zM22 235h1v1h-1zM17 236h1v1h-1zM3 242h1v1h-1zM13 242h1v1h-1zM0 243h1v1h-1zM12 244h1v1h-1zM12 249h1v1h-1zM11 255h1v1h-1zM23 255h1v1h-1zM0 256h1v1h-1zM16 259h1v1h-1zM18 266h1v1h-1zM15 268h1v1h-1zM18 268h1v1h-1zM0 269h1v1h-1zM11 270h1v1h-1zM9 271h1v1h-1zM0 273h1v1h-1zM6 273h1v1h-1zM0 275h1v1h-1zM3 275h1v1h-1zM6 276h1v1h-1zM16 276h1v1h-1zM0 278h1v1h-1zM23 278h1v1h-1zM17 279h1v1h-1zM1 280h1v1h-1zM7 280h1v1h-1zM18 281h1v1h-1zM13 283h1v1h-1zM0 284h1v1h-1zM9 284h1v1h-1zM0 286h1v1h-1zM12 286h1v1h-1zM9 287h1v1h-1zM14 291h1v1h-1zM4 292h1v1h-1zM6 292h1v1h-1zM7 293h1v1h-1zM12 294h1v1h-1zM12 297h1v1h-1zM11 298h1v1h-1zM14 298h1v1h-1zM18 302h1v1h-1zM17 305h1v1h-1zM22 306h1v1h-1zM22 307h1v1h-1zM23 308h1v1h-1zM8 309h1v1h-1zM15 309h1v1h-1zM0 310h1v1h-1zM16 311h1v1h-1zM13 312h1v1h-1zM19 312h1v1h-1zM22 315h1v1h-1zM23 317h1v1h-1zM3 318h1v1h-1zM14 319h1v1h-1zM18 319h1v1h-1zM20 324h1v1h-1zM0 325h1v1h-1zM23 327h1v1h-1zM18 328h1v1h-1zM14 330h1v1h-1zM1 332h1v1h-1zM20 334h1v1h-1zM16 340h1v1h-1zM7 343h1v1h-1zM7 346h1v1h-1zM18 346h1v1h-1zM21 346h1v1h-1zM17 347h1v1h-1zM14 350h1v1h-1zM16 352h1v1h-1zM6 358h1v1h-1zM17 358h1v1h-1zM1 359h1v1h-1zM21 359h1v1h-1zM14 360h1v1h-1zM13 366h1v1h-1zM12 368h1v1h-1zM20 368h1v1h-1zM2 371h1v1h-1zM4 375h1v1h-1zM17 376h1v1h-1zM23 379h1v1h-1zM12 381h1v1h-1zM22 381h1v1h-1zM15 383h1v1h-1zM19 386h1v1h-1zM7 390h1v1h-1zM19 390h1v1h-1zM21 391h1v1h-1zM13 393h1v1h-1zM8 396h1v1h-1zM19 398h1v1h-1zM11 399h1v1h-1zM0 400h1v1h-1zM23 400h1v1h-1zM2 404h1v1h-1zM11 404h1v1h-1zM10 405h1v1h-1zM18 405h1v1h-1zM14 406h1v1h-1zM16 408h1v1h-1zM22 410h1v1h-1zM15 412h1v1h-1zM4 415h1v1h-1zM19 418h1v1h-1zM23 429h1v1h-1zM9 430h1v1h-1zM22 430h1v1h-1zM10 431h1v1h-1zM13 432h1v1h-1zM19 433h1v1h-1zM18 434h1v1h-1zM9 440h1v1h-1zM14 440h1v1h-1zM9 442h1v1h-1zM14 444h1v1h-1zM14 449h1v1h-1zM17 449h1v1h-1zM8 450h1v1h-1zM6 452h1v1h-1zM13 453h1v1h-1zM0 456h1v1h-1zM17 456h1v1h-1zM7 457h1v1h-1zM3 459h1v1h-1zM1 460h1v1h-1zM22 460h1v1h-1zM1 461h1v1h-1zM22 461h1v1h-1zM9 463h1v1h-1zM2 465h1v1h-1zM21 465h1v1h-1zM19 466h1v1h-1zM2 467h1v1h-1zM6 469h1v1h-1zM11 469h1v1h-1zM18 469h1v1h-1zM18 470h1v1h-1zM14 472h1v1h-1zM16 479h1v1h-1zM2 483h1v1h-1zM11 484h1v1h-1zM4 489h1v1h-1zM0 490h1v1h-1zM2 493h1v1h-1zM14 494h1v1h-1zM23 494h1v1h-1zM6 495h1v1h-1zM3 504h1v1h-1zM11 510h1v1h-1zM2 516h1v1h-1zM0 517h1v1h-1zM19 517h1v1h-1zM7 519h1v1h-1zM0 520h1v1h-1zM21 522h1v1h-1zM0 523h1v1h-1zM0 529h1v1h-1zM11 529h1v1h-1zM14 529h1v1h-1zM20 529h1v1h-1zM21 531h1v1h-1zM0 532h1v1h-1zM10 534h1v1h-1zM1 538h1v1h-1zM4 541h1v1h-1zM18 541h1v1h-1zM15 542h1v1h-1zM19 542h1v1h-1zM21 542h1v1h-1zM13 548h1v1h-1zM10 549h1v1h-1zM2 550h1v1h-1zM1 551h1v1h-1zM14 551h1v1h-1zM11 553h1v1h-1zM18 554h1v1h-1z"/>
<path fill="#f0fcfc" d="M10 0h1v1h-1zM5 3h1v1h-1zM18 4h1v1h-1zM20 8h1v1h-1zM19 16h1v1h-1zM22 20h1v1h-1zM11 22h1v1h-1zM19 24h1v1h-1zM14 26h1v1h-1zM3 32h1v1h-1zM12 34h1v1h-1zM19 43h1v1h-1zM18 59h1v1h-1zM13 68h1v1h-1zM18 102h1v1h-1zM9 109h1v1h-1zM21 112h1v1h-1zM7 120h1v1h-1zM2 125h1v1h-1zM23 127h1v1h-1zM14 128h1v1h-1zM20 128h1v1h-1zM22 133h1v1h-1zM18 134h1v1h-1zM3 139h1v1h-1zM2 140h1v1h-1zM21 141h1v1h-1zM9 149h1v1h-1zM16 149h1v1h-1zM19 149h1v1h-1zM16 151h1v1h-1zM21 155h1v1h-1zM0 165h1v1h-1zM19 176h1v1h-1zM23 184h1v1h-1zM10 185h1v1h-1zM12 198h1v1h-1zM14 200h1v1h-1zM0 203h1v1h-1zM7 208h1v1h-1zM15 209h1v1h-1zM8 216h1v1h-1zM4 217h1v1h-1zM2 219h1v1h-1zM19 223h1v1h-1zM22 223h1v1h-1zM21 228h1v1h-1zM23 235h1v1h-1zM15 239h1v1h-1zM17 243h1v1h-1zM22 244h1v1h-1zM11 248h1v1h-1zM16 260h1v1h-1zM18 269h1v1h-1zM17 276h1v1h-1zM7 282h1v1h-1zM17 283h1v1h-1zM22 286h1v1h-1zM12 288h2v1h-2zM10 295h1v1h-1zM13 308h1v1h-1zM1 313h1v1h-1zM21 318h1v1h-1zM4 323h1v1h-1zM7 334h1v1h-1zM1 335h1v1h-1zM12 355h1v1h-1zM2 356h1v1h-1zM8 358h1v1h-1zM6 360h1v1h-1zM14 366h1v1h-1zM0 384h1v1h-1zM22 391h1v1h-1zM14 402h1v1h-1zM19 413h1v1h-1zM13 415h1v1h-1zM16 422h1v1h-1zM3 430h1v1h-1zM11 433h1v1h-1zM20 440h1v1h-1zM7 449h1v1h-1zM20 454h1v1h-1zM7 466h1v1h-1zM14 469h1v1h-1zM12 472h1v1h-1zM6 477h1v1h-1zM20 482h1v1h-1zM20 484h1v1h-1zM18 488h1v1h-1zM19 489h1v1h-1zM22 492h1v1h-1zM14 493h1v1h-1zM16 494h1v1h-1zM19 497h1v1h-1zM15 502h1v1h-1zM8 503h1v1h-1zM8 506h1v1h-1zM17 506h1v1h-1zM17 507h1v1h-1zM6 512h2v1h-2zM19 512h1v1h-1zM18 517h1v1h-1zM1 521h1v1h-1zM2 522h1v1h-1zM22 525h1v1h-1zM8 527h1v1h-1zM12 529h1v1h-1zM17 532h1v1h-1zM17 536h1v1h-1zM1 541h1v1h-1zM10 541h1v1h-1zM1 549h1v1h-1zM6 549h1v1h-1z"/>
<path fill="#b4b4f0" d="M11 0h1v1h-1zM20 1h1v1h-1zM18 2h1v1h-1zM22 6h1v1h-1zM16 7h1v1h-1zM23 7h1v1h-1zM6 11h1v1h-1zM7 13h2v1h-2zM12 14h1v1h-1zM9 16h1v1h-1zM6 17h1v1h-1zM20 18h1v1h-1zM13 19h1v1h-1zM10 20h2v1h-2zM17 20h1v1h-1zM19 20h1v1h-1zM6 21h1v1h-1zM13 28h1v1h-1zM22 28h1v1h-1zM21 29h1v1h-1zM23 30h1v1h-1zM6 36h1v1h-1zM22 37h1v1h-1zM9 41h1v1h-1zM23 45h1v1h-1zM17 47h1v1h-1zM19 50h1v1h-1zM7 52h1v1h-1zM8 54h1v1h-1zM18 54h1v1h-1zM12 56h1v1h-1zM15 56h1v1h-1zM10 58h1v1h-1zM15 61h1v1h-1zM15 64h2v1h-2zM6 68h1v1h-1zM10 69h1v1h-1zM23 69h1v1h-1zM21 70h1v1h-1zM14 71h1v1h-1zM20 75h1v1h-1zM11 76h1v1h-1zM23 81h1v1h-1zM7 86h1v1h-1zM22 86h1v1h-1zM17 87h1v1h-1zM6 92h1v1h-1zM14 92h1v1h-1zM17 94h1v1h-1zM7 95h1v1h-1zM0 96h1v1h-1zM4 96h1v1h-1zM6 96h1v1h-1zM4 99h1v1h-1zM4 100h1v1h-1zM6 102h1v1h-1zM4 104h1v1h-1zM16 104h1v1h-1zM0 105h1v1h-1zM20 109h1v1h-1zM4 111h1v1h-1zM13 112h1v1h-1zM5 113h1v1h-1zM7 113h1v1h-1zM4 114h1v1h-1zM15 116h1v1h-1zM5 118h1v1h-1zM4 122h2v1h-2zM7 122h1v1h-1zM2 126h1v1h-1zM10 126h1v1h-1zM2 128h1v1h-1zM10 130h1v1h-1zM4 131h1v1h-1zM14 131h1v1h-1zM2 133h1v1h-1zM12 133h2v1h-2zM5 135h1v1h-1zM2 137h1v1h-1zM5 137h1v1h-1zM4 139h1v1h-1zM5 140h1v1h-1zM5 142h1v1h-1zM7 143h1v1h-1zM1 145h1v1h-1zM5 145h1v1h-1zM15 145h1v1h-1zM1 146h1v1h-1zM6 146h1v1h-1zM5 148h1v1h-1zM1 150h1v1h-1zM23 150h1v1h-1zM1 152h2v1h-2zM23 155h1v1h-1zM2 156h1v1h-1zM8 158h1v1h-1zM22 158h1v1h-1zM0 159h1v1h-1zM18 159h1v1h-1zM2 161h1v1h-1zM4 161h1v1h-1zM2 164h2v1h-2zM0 166h1v1h-1zM2 166h1v1h-1zM7 168h1v1h-1zM1 169h2v1h-2zM8 169h1v1h-1zM4 172h1v1h-1zM19 172h1v1h-1zM23 178h1v1h-1zM4 180h1v1h-1zM3 181h1v1h-1zM4 184h1v1h-1zM17 189h1v1h-1zM2 190h2v1h-2zM5 190h1v1h-1zM4 193h1v1h-1zM6 193h1v1h-1zM17 194h1v1h-1zM3 195h1v1h-1zM4 196h1v1h-1zM23 201h1v1h-1zM3 204h1v1h-1zM23 204h1v1h-1zM5 205h1v1h-1zM20 207h1v1h-1zM1 208h1v1h-1zM2 209h1v1h-1zM5 209h1v1h-1zM12 212h1v1h-1zM5 214h1v1h-1zM4 215h1v1h-1zM4 219h1v1h-1zM20 220h1v1h-1zM0 221h1v1h-1zM2 223h1v1h-1zM4 223h1v1h-1zM4 224h1v1h-1zM20 227h1v1h-1zM4 228h2v1h-2zM0 231h1v1h-1zM10 231h1v1h-1zM5 232h1v1h-1zM19 232h1v1h-1zM4 233h2v1h-2zM12 233h1v1h-1zM23 233h1v1h-1zM2 234h1v1h-1zM22 234h1v1h-1zM1 235h1v1h-1zM3 236h1v1h-1zM15 238h1v1h-1zM3 240h1v1h-1zM3 243h1v1h-1zM0 244h1v1h-1zM16 244h1v1h-1zM3 246h1v1h-1zM1 247h1v1h-1zM3 247h1v1h-1zM0 248h1v1h-1zM17 252h1v1h-1zM8 253h1v1h-1zM23 253h1v1h-1zM4 254h1v1h-1zM1 255h2v1h-2zM5 256h1v1h-1zM0 257h1v1h-1zM4 257h1v1h-1zM13 257h1v1h-1zM3 258h3v1h-3zM8 258h1v1h-1zM2 263h1v1h-1zM2 266h1v1h-1zM1 267h1v1h-1zM3 268h1v1h-1zM1 270h1v1h-1zM4 270h1v1h-1zM4 271h1v1h-1zM1 273h1v1h-1zM16 274h1v1h-1zM20 274h1v1h-1zM4 275h2v1h-2zM5 278h1v1h-1zM17 278h1v1h-1zM3 279h1v1h-1zM5 279h1v1h-1zM3 280h1v1h-1zM5 281h2v1h-2zM9 281h1v1h-1zM23 281h1v1h-1zM2 283h1v1h-1zM1 285h1v1h-1zM4 285h1v1h-1zM3 287h1v1h-1zM12 287h1v1h-1zM1 288h1v1h-1zM15 289h1v1h-1zM23 289h1v1h-1zM0 290h1v1h-1zM5 291h1v1h-1zM3 293h1v1h-1zM3 294h1v1h-1zM10 294h1v1h-1zM2 295h1v1h-1zM4 295h2v1h-2zM3 296h1v1h-1zM5 297h1v1h-1zM12 300h1v1h-1zM4 302h1v1h-1zM1 304h1v1h-1zM4 304h1v1h-1zM3 305h1v1h-1zM19 305h1v1h-1zM4 306h1v1h-1zM3 307h1v1h-1zM5 307h1v1h-1zM1 308h1v1h-1zM7 309h1v1h-1zM20 309h1v1h-1zM3 311h1v1h-1zM5 311h1v1h-1zM0 313h1v1h-1zM0 316h1v1h-1zM5 317h1v1h-1zM5 318h1v1h-1zM1 319h1v1h-1zM4 320h1v1h-1zM5 321h1v1h-1zM7 323h1v1h-1zM18 326h1v1h-1zM22 330h1v1h-1zM1 331h1v1h-1zM2 332h1v1h-1zM3 333h1v1h-1zM6 333h1v1h-1zM10 333h1v1h-1zM15 333h1v1h-1zM5 334h1v1h-1zM3 335h1v1h-1zM5 335h1v1h-1zM12 337h1v1h-1zM8 338h1v1h-1zM12 338h1v1h-1zM5 339h1v1h-1zM1 340h1v1h-1zM4 340h1v1h-1zM17 340h1v1h-1zM13 341h1v1h-1zM16 341h1v1h-1zM18 341h1v1h-1zM21 341h1v1h-1zM2 344h1v1h-1zM1 347h1v1h-1zM5 347h1v1h-1zM18 348h1v1h-1zM16 349h1v1h-1zM18 350h1v1h-1zM1 354h2v1h-2zM2 355h1v1h-1zM3 359h1v1h-1zM5 359h1v1h-1zM18 361h1v1h-1zM4 362h1v1h-1zM2 364h1v1h-1zM12 365h1v1h-1zM4 366h1v1h-1zM4 367h1v1h-1zM4 368h1v1h-1zM6 368h1v1h-1zM2 369h1v1h-1zM14 369h1v1h-1zM18 369h1v1h-1zM8 371h1v1h-1zM5 372h1v1h-1zM3 373h1v1h-1zM2 377h1v1h-1zM2 382h2v1h-2zM5 382h1v1h-1zM3 384h1v1h-1zM3 386h1v1h-1zM11 386h1v1h-1zM0 389h2v1h-2zM3 389h1v1h-1zM5 389h1v1h-1zM8 392h1v1h-1zM11 393h1v1h-1zM2 394h1v1h-1zM0 395h1v1h-1zM4 395h1v1h-1zM12 395h1v1h-1zM1 396h2v1h-2zM6 397h2v1h-2zM2 399h1v1h-1zM5 399h1v1h-1zM5 400h1v1h-1zM2 402h1v1h-1zM1 404h1v1h-1zM14 408h1v1h-1zM21 408h1v1h-1zM23 408h1v1h-1zM0 410h1v1h-1zM4 410h1v1h-1zM17 410h1v1h-1zM4 411h1v1h-1zM21 412h1v1h-1zM3 413h2v1h-2zM0 418h1v1h-1zM20 418h1v1h-1zM12 419h1v1h-1zM18 420h1v1h-1zM0 422h1v1h-1zM2 423h1v1h-1zM2 424h1v1h-1zM0 425h1v1h-1zM3 425h1v1h-1zM5 425h1v1h-1zM10 425h1v1h-1zM1 426h1v1h-1zM4 426h1v1h-1zM22 428h1v1h-1zM5 429h1v1h-1zM13 430h1v1h-1zM16 431h1v1h-1zM20 431h1v1h-1zM18 433h1v1h-1zM11 436h1v1h-1zM8 437h1v1h-1zM4 440h1v1h-1zM12 441h1v1h-1zM16 442h1v1h-1zM14 443h1v1h-1zM16 446h1v1h-1zM0 449h1v1h-1zM15 449h1v1h-1zM4 450h1v1h-1zM21 452h1v1h-1zM20 453h1v1h-1zM5 454h1v1h-1zM0 455h1v1h-1zM2 456h1v1h-1zM4 456h1v1h-1zM9 456h1v1h-1zM4 457h1v1h-1zM10 457h1v1h-1zM13 457h1v1h-1zM4 458h1v1h-1zM12 458h1v1h-1zM11 459h1v1h-1zM5 460h1v1h-1zM15 460h1v1h-1zM5 462h1v1h-1zM4 463h1v1h-1zM17 464h2v1h-2zM22 464h1v1h-1zM3 466h1v1h-1zM8 467h1v1h-1zM17 470h1v1h-1zM23 470h1v1h-1zM4 472h1v1h-1zM18 472h1v1h-1zM3 474h1v1h-1zM13 474h1v1h-1zM4 476h2v1h-2zM12 476h1v1h-1zM3 477h1v1h-1zM11 477h2v1h-2zM2 481h1v1h-1zM1 482h1v1h-1zM23 483h1v1h-1zM14 484h1v1h-1zM0 486h1v1h-1zM4 487h2v1h-2zM9 487h1v1h-1zM12 490h1v1h-1zM2 494h1v1h-1zM5 494h2v1h-2zM2 496h2v1h-2zM9 496h1v1h-1zM3 498h2v1h-2zM2 499h1v1h-1zM2 500h1v1h-1zM4 500h1v1h-1zM5 501h1v1h-1zM1 503h1v1h-1zM15 504h1v1h-1zM22 505h1v1h-1zM1 506h1v1h-1zM18 506h1v1h-1zM5 507h1v1h-1zM13 508h1v1h-1zM16 511h1v1h-1zM3 513h2v1h-2zM2 514h1v1h-1zM5 515h1v1h-1zM4 517h1v1h-1zM3 518h3v1h-3zM23 520h1v1h-1zM22 526h1v1h-1zM3 527h1v1h-1zM5 527h1v1h-1zM3 529h1v1h-1zM3 530h1v1h-1zM1 533h2v1h-2zM4 534h1v1h-1zM3 538h1v1h-1zM0 540h1v1h-1zM17 540h1v1h-1zM2 541h1v1h-1zM10 542h1v1h-1zM5 543h1v1h-1zM1 545h1v1h-1zM3 546h1v1h-1zM17 547h1v1h-1zM23 547h1v1h-1zM3 548h1v1h-1zM18 548h1v1h-1zM16 549h1v1h-1zM21 549h1v1h-1zM21 550h2v1h-2zM11 551h1v1h-1zM23 556h1v1h-1z"/>
<path fill="#f0b4b4" d="M12 0h1v1h-1zM10 2h1v1h-1zM22 2h1v1h-1zM13 3h1v1h-1zM6 4h1v1h-1zM2 7h1v1h-1zM1 8h1v1h-1zM4 18h1v1h-1zM7 18h1v1h-1zM4 19h1v1h-1zM0 20h1v1h-1zM3 22h1v1h-1zM0 23h1v1h-1zM22 25h1v1h-1zM0 26h1v1h-1zM4 30h1v1h-1zM20 30h1v1h-1zM1 34h1v1h-1zM23 34h1v1h-1zM2 35h2v1h-2zM5 36h1v1h-1zM2 37h1v1h-1zM5 38h1v1h-1zM1 39h2v1h-2zM10 39h1v1h-1zM7 41h1v1h-1zM7 43h1v1h-1zM5 44h1v1h-1zM3 48h1v1h-1zM18 48h1v1h-1zM10 49h1v1h-1zM0 51h2v1h-2zM1 53h1v1h-1zM5 58h1v1h-1zM9 58h1v1h-1zM3 59h1v1h-1zM8 59h1v1h-1zM1 60h1v1h-1zM5 60h1v1h-1zM1 61h1v1h-1zM5 64h1v1h-1zM5 68h1v1h-1zM4 69h1v1h-1zM2 71h1v1h-1zM2 75h1v1h-1zM5 78h1v1h-1zM14 78h1v1h-1zM2 79h1v1h-1zM18 79h1v1h-1zM22 80h1v1h-1zM19 85h1v1h-1zM5 88h1v1h-1zM8 88h1v1h-1zM18 89h1v1h-1zM4 91h1v1h-1zM2 94h1v1h-1zM4 94h1v1h-1zM8 95h1v1h-1zM12 99h1v1h-1zM17 102h1v1h-1zM22 105h1v1h-1zM17 111h1v1h-1zM8 112h1v1h-1zM16 112h1v1h-1zM15 115h1v1h-1zM19 115h1v1h-1zM11 116h1v1h-1zM8 118h2v1h-2zM12 119h1v1h-1zM14 119h1v1h-1zM17 120h1v1h-1zM14 121h1v1h-1zM6 122h1v1h-1zM17 123h2v1h-2zM20 124h1v1h-1zM13 125h1v1h-1zM20 125h1v1h-1zM19 126h1v1h-1zM6 127h1v1h-1zM11 128h1v1h-1zM17 128h1v1h-1zM19 129h1v1h-1zM15 131h1v1h-1zM20 131h1v1h-1zM6 133h1v1h-1zM20 134h1v1h-1zM19 140h1v1h-1zM12 141h1v1h-1zM22 141h1v1h-1zM21 142h1v1h-1zM15 143h1v1h-1zM13 148h1v1h-1zM18 149h1v1h-1zM6 154h1v1h-1zM14 155h1v1h-1zM19 156h1v1h-1zM15 164h1v1h-1zM11 174h1v1h-1zM18 175h1v1h-1zM22 177h1v1h-1zM10 184h1v1h-1zM8 187h1v1h-1zM12 187h1v1h-1zM22 190h1v1h-1zM13 191h1v1h-1zM21 191h1v1h-1zM14 201h1v1h-1zM12 203h1v1h-1zM12 204h1v1h-1zM22 205h1v1h-1zM13 209h1v1h-1zM21 214h1v1h-1zM6 218h1v1h-1zM20 218h1v1h-1zM22 219h1v1h-1zM12 221h1v1h-1zM17 221h2v1h-2zM21 221h1v1h-1zM17 224h1v1h-1zM12 226h1v1h-1zM7 227h1v1h-1zM10 227h1v1h-1zM10 235h1v1h-1zM15 235h1v1h-1zM13 239h1v1h-1zM19 240h1v1h-1zM17 241h1v1h-1zM23 241h1v1h-1zM14 244h1v1h-1zM13 245h1v1h-1zM6 246h1v1h-1zM12 246h1v1h-1zM8 249h1v1h-1zM13 251h1v1h-1zM18 253h1v1h-1zM22 254h1v1h-1zM22 257h1v1h-1zM21 258h1v1h-1zM8 259h1v1h-1zM22 266h1v1h-1zM23 268h1v1h-1zM6 271h1v1h-1zM20 272h1v1h-1zM11 273h1v1h-1zM17 275h1v1h-1zM22 275h1v1h-1zM9 276h1v1h-1zM21 276h1v1h-1zM20 277h1v1h-1zM23 279h1v1h-1zM16 281h2v1h-2zM8 289h1v1h-1zM17 291h1v1h-1zM23 293h1v1h-1zM12 298h1v1h-1zM20 299h1v1h-1zM23 302h1v1h-1zM7 303h1v1h-1zM22 305h1v1h-1zM20 308h1v1h-1zM23 309h1v1h-1zM20 312h1v1h-1zM14 315h1v1h-1zM13 317h1v1h-1zM8 318h1v1h-1zM9 323h1v1h-1zM15 326h1v1h-1zM19 326h1v1h-1zM21 326h1v1h-1zM20 327h1v1h-1zM8 332h1v1h-1zM13 336h1v1h-1zM19 336h1v1h-1zM20 337h1v1h-1zM10 345h1v1h-1zM20 345h1v1h-1zM7 350h1v1h-1zM16 355h1v1h-1zM16 359h1v1h-1zM16 363h2v1h-2zM12 364h1v1h-1zM14 365h1v1h-1zM22 367h1v1h-1zM11 373h1v1h-1zM16 375h1v1h-1zM18 378h1v1h-1zM17 381h1v1h-1zM21 381h1v1h-1zM14 384h1v1h-1zM22 388h1v1h-1zM17 392h1v1h-1zM10 400h1v1h-1zM11 401h1v1h-1zM14 403h1v1h-1zM20 408h1v1h-1zM11 409h1v1h-1zM20 412h1v1h-1zM19 414h1v1h-1zM7 415h1v1h-1zM7 416h1v1h-1zM22 417h1v1h-1zM20 419h1v1h-1zM6 423h1v1h-1zM15 424h2v1h-2zM20 428h1v1h-1zM16 433h1v1h-1zM12 437h1v1h-1zM9 438h1v1h-1zM11 440h1v1h-1zM13 449h1v1h-1zM23 449h1v1h-1zM20 451h1v1h-1zM16 452h1v1h-1zM19 458h1v1h-1zM22 459h1v1h-1zM15 464h1v1h-1zM19 465h1v1h-1zM18 468h1v1h-1zM15 469h1v1h-1zM17 471h1v1h-1zM17 474h1v1h-1zM21 476h1v1h-1zM12 479h1v1h-1zM19 479h1v1h-1zM16 480h1v1h-1zM19 484h1v1h-1zM21 485h1v1h-1zM10 487h1v1h-1zM19 488h1v1h-1zM17 493h1v1h-1zM10 496h1v1h-1zM12 496h1v1h-1zM15 497h1v1h-1zM13 502h1v1h-1zM10 505h1v1h-1zM20 505h1v1h-1zM22 511h1v1h-1zM8 512h1v1h-1zM17 515h1v1h-1zM20 515h1v1h-1zM9 516h1v1h-1zM9 519h2v1h-2zM8 523h1v1h-1zM7 524h1v1h-1zM14 527h1v1h-1zM22 540h1v1h-1zM6 541h1v1h-1zM19 543h1v1h-1zM10 544h1v1h-1zM7 548h1v1h-1zM13 550h1v1h-1zM23 553h1v1h-1zM19 556h1v1h-1z"/>
<path fill="#9ca8f0" d="M13 0h1v1h-1zM8 27h1v1h-1zM21 32h1v1h-1zM23 44h1v1h-1zM17 49h1v1h-1zM20 59h1v1h-1zM17 62h1v1h-1zM4 108h1v1h-1zM0 123h1v1h-1zM18 126h1v1h-1zM12 147h1v1h-1zM23 166h1v1h-1zM4 181h1v1h-1zM0 192h1v1h-1zM4 200h1v1h-1zM18 216h1v1h-1zM4 234h1v1h-1zM1 244h1v1h-1zM6 265h1v1h-1zM23 283h1v1h-1zM14 334h1v1h-1zM4 338h1v1h-1zM17 343h1v1h-1zM4 355h1v1h-1zM14 355h1v1h-1zM11 367h1v1h-1zM16 391h1v1h-1zM2 452h1v1h-1zM22 474h1v1h-1zM23 537h1v1h-1zM4 542h1v1h-1zM2 544h1v1h-1zM4 553h1v1h-1z"/>
<path fill="#a8a8f0" d="M14 0h1v1h-1zM15 2h1v1h-1zM6 6h1v1h-1zM23 6h1v1h-1zM21 7h1v1h-1zM19 9h1v1h-1zM12 15h1v1h-1zM8 16h1v1h-1zM21 18h1v1h-1zM9 22h1v1h-1zM17 23h1v1h-1zM12 24h1v1h-1zM22 24h1v1h-1zM9 25h1v1h-1zM7 27h1v1h-1zM18 30h1v1h-1zM9 31h1v1h-1zM21 31h1v1h-1zM18 32h1v1h-1zM22 32h1v1h-1zM9 34h1v1h-1zM17 37h1v1h-1zM23 40h1v1h-1zM7 45h1v1h-1zM10 45h1v1h-1zM16 47h1v1h-1zM15 49h1v1h-1zM21 52h1v1h-1zM13 53h1v1h-1zM21 54h1v1h-1zM19 56h1v1h-1zM6 58h2v1h-2zM13 60h1v1h-1zM8 61h1v1h-1zM20 62h1v1h-1zM16 67h1v1h-1zM10 70h1v1h-1zM23 71h1v1h-1zM12 72h1v1h-1zM22 72h1v1h-1zM7 78h1v1h-1zM16 80h2v1h-2zM8 83h1v1h-1zM10 84h1v1h-1zM15 84h2v1h-2zM19 84h1v1h-1zM9 89h1v1h-1zM8 94h1v1h-1zM16 94h1v1h-1zM18 96h1v1h-1zM22 96h1v1h-1zM11 98h1v1h-1zM5 99h1v1h-1zM5 100h1v1h-1zM5 103h1v1h-1zM8 103h1v1h-1zM4 106h1v1h-1zM15 107h1v1h-1zM5 109h1v1h-1zM10 115h1v1h-1zM4 117h1v1h-1zM4 118h1v1h-1zM4 121h1v1h-1zM17 122h1v1h-1zM5 123h1v1h-1zM2 124h1v1h-1zM0 126h2v1h-2zM4 126h1v1h-1zM20 126h1v1h-1zM3 128h1v1h-1zM1 129h1v1h-1zM4 129h1v1h-1zM1 130h1v1h-1zM3 130h1v1h-1zM5 131h1v1h-1zM4 134h1v1h-1zM3 136h1v1h-1zM5 139h1v1h-1zM9 139h1v1h-1zM20 140h2v1h-2zM0 143h1v1h-1zM11 143h1v1h-1zM16 143h1v1h-1zM4 145h1v1h-1zM2 146h1v1h-1zM4 148h1v1h-1zM6 148h1v1h-1zM11 154h1v1h-1zM2 155h1v1h-1zM4 156h1v1h-1zM5 159h1v1h-1zM1 161h1v1h-1zM10 161h1v1h-1zM0 162h1v1h-1zM3 162h1v1h-1zM10 162h1v1h-1zM3 163h1v1h-1zM4 164h1v1h-1zM2 168h1v1h-1zM4 171h1v1h-1zM18 171h1v1h-1zM2 172h1v1h-1zM2 173h1v1h-1zM16 174h1v1h-1zM5 175h1v1h-1zM7 177h1v1h-1zM5 178h1v1h-1zM5 183h1v1h-1zM0 185h1v1h-1zM23 185h1v1h-1zM1 187h1v1h-1zM2 188h1v1h-1zM3 189h1v1h-1zM1 190h1v1h-1zM5 191h1v1h-1zM7 193h1v1h-1zM3 194h1v1h-1zM2 195h1v1h-1zM5 195h1v1h-1zM0 196h1v1h-1zM12 197h1v1h-1zM5 199h1v1h-1zM2 201h1v1h-1zM5 203h1v1h-1zM3 205h1v1h-1zM3 207h1v1h-1zM4 211h1v1h-1zM0 213h1v1h-1zM3 214h1v1h-1zM7 217h1v1h-1zM1 218h1v1h-1zM4 218h1v1h-1zM2 220h1v1h-1zM5 221h1v1h-1zM4 222h1v1h-1zM0 223h1v1h-1zM13 223h1v1h-1zM3 225h1v1h-1zM11 226h1v1h-1zM12 227h1v1h-1zM1 229h1v1h-1zM3 229h1v1h-1zM10 233h1v1h-1zM2 235h1v1h-1zM5 237h1v1h-1zM17 238h1v1h-1zM7 240h1v1h-1zM15 241h1v1h-1zM5 242h1v1h-1zM4 243h1v1h-1zM1 245h1v1h-1zM15 246h1v1h-1zM19 246h1v1h-1zM5 247h1v1h-1zM20 247h1v1h-1zM3 248h1v1h-1zM1 249h1v1h-1zM5 251h1v1h-1zM3 253h1v1h-1zM5 260h1v1h-1zM0 261h1v1h-1zM3 262h1v1h-1zM4 263h1v1h-1zM9 263h1v1h-1zM4 264h1v1h-1zM0 265h1v1h-1zM3 266h1v1h-1zM5 266h1v1h-1zM4 269h2v1h-2zM13 269h1v1h-1zM2 271h1v1h-1zM21 271h1v1h-1zM3 276h1v1h-1zM15 277h1v1h-1zM4 282h2v1h-2zM10 282h1v1h-1zM5 284h1v1h-1zM7 284h1v1h-1zM23 288h1v1h-1zM4 291h1v1h-1zM5 292h1v1h-1zM5 294h1v1h-1zM23 294h1v1h-1zM5 296h1v1h-1zM2 297h1v1h-1zM7 300h2v1h-2zM14 300h1v1h-1zM21 300h1v1h-1zM13 301h1v1h-1zM2 303h1v1h-1zM9 304h1v1h-1zM12 305h1v1h-1zM5 306h1v1h-1zM7 307h1v1h-1zM1 311h1v1h-1zM4 311h1v1h-1zM15 312h1v1h-1zM12 313h1v1h-1zM3 314h1v1h-1zM13 314h1v1h-1zM10 316h1v1h-1zM8 317h1v1h-1zM16 317h1v1h-1zM1 318h1v1h-1zM1 322h1v1h-1zM2 323h1v1h-1zM5 324h1v1h-1zM7 324h1v1h-1zM23 324h1v1h-1zM5 325h1v1h-1zM16 325h1v1h-1zM1 328h1v1h-1zM4 328h1v1h-1zM7 330h1v1h-1zM4 334h1v1h-1zM18 336h1v1h-1zM5 338h1v1h-1zM3 340h1v1h-1zM8 343h1v1h-1zM3 351h1v1h-1zM5 353h1v1h-1zM1 356h1v1h-1zM3 356h1v1h-1zM4 358h1v1h-1zM4 359h1v1h-1zM1 360h1v1h-1zM1 362h1v1h-1zM11 362h1v1h-1zM5 363h1v1h-1zM5 365h1v1h-1zM3 366h1v1h-1zM0 367h1v1h-1zM2 367h1v1h-1zM3 368h1v1h-1zM5 368h1v1h-1zM5 371h1v1h-1zM14 372h1v1h-1zM0 373h1v1h-1zM5 377h1v1h-1zM4 382h1v1h-1zM1 388h1v1h-1zM5 388h1v1h-1zM4 389h1v1h-1zM11 389h1v1h-1zM4 390h1v1h-1zM10 391h1v1h-1zM5 392h1v1h-1zM10 394h1v1h-1zM12 394h1v1h-1zM4 396h1v1h-1zM13 398h1v1h-1zM3 400h2v1h-2zM18 401h1v1h-1zM3 402h1v1h-1zM5 402h1v1h-1zM23 402h1v1h-1zM2 403h1v1h-1zM1 407h1v1h-1zM5 407h1v1h-1zM1 409h1v1h-1zM5 411h1v1h-1zM23 411h1v1h-1zM4 412h1v1h-1zM0 415h1v1h-1zM11 415h1v1h-1zM22 415h1v1h-1zM0 417h1v1h-1zM17 417h1v1h-1zM21 417h1v1h-1zM0 419h1v1h-1zM9 420h1v1h-1zM17 421h1v1h-1zM20 421h1v1h-1zM1 422h1v1h-1zM4 423h1v1h-1zM4 424h1v1h-1zM4 425h1v1h-1zM15 427h1v1h-1zM0 428h1v1h-1zM5 428h1v1h-1zM10 428h1v1h-1zM5 431h1v1h-1zM5 433h1v1h-1zM17 433h1v1h-1zM23 433h1v1h-1zM5 435h1v1h-1zM5 436h1v1h-1zM2 438h1v1h-1zM14 439h2v1h-2zM22 442h1v1h-1zM4 445h1v1h-1zM10 445h1v1h-1zM2 446h1v1h-1zM4 453h1v1h-1zM2 455h1v1h-1zM18 456h1v1h-1zM4 460h1v1h-1zM4 461h1v1h-1zM0 462h2v1h-2zM1 463h1v1h-1zM3 463h1v1h-1zM3 465h3v1h-3zM4 466h1v1h-1zM18 466h1v1h-1zM0 468h1v1h-1zM5 473h1v1h-1zM5 474h1v1h-1zM1 475h1v1h-1zM17 476h1v1h-1zM5 477h1v1h-1zM4 478h1v1h-1zM0 479h1v1h-1zM3 479h1v1h-1zM4 481h1v1h-1zM9 481h1v1h-1zM2 486h1v1h-1zM0 489h1v1h-1zM20 489h1v1h-1zM1 491h1v1h-1zM3 492h1v1h-1zM5 492h1v1h-1zM20 494h1v1h-1zM1 496h1v1h-1zM5 496h1v1h-1zM5 497h1v1h-1zM0 498h1v1h-1zM14 498h1v1h-1zM18 501h1v1h-1zM1 502h1v1h-1zM5 506h1v1h-1zM1 508h1v1h-1zM0 510h1v1h-1zM4 510h1v1h-1zM5 511h1v1h-1zM9 511h1v1h-1zM21 513h1v1h-1zM9 518h1v1h-1zM5 519h1v1h-1zM17 520h1v1h-1zM5 521h1v1h-1zM1 523h1v1h-1zM11 524h1v1h-1zM2 525h1v1h-1zM2 526h1v1h-1zM4 526h1v1h-1zM16 527h1v1h-1zM4 528h1v1h-1zM10 528h1v1h-1zM1 530h2v1h-2zM4 530h1v1h-1zM4 535h1v1h-1zM13 536h1v1h-1zM4 538h1v1h-1zM1 539h1v1h-1zM2 543h1v1h-1zM5 544h1v1h-1zM4 545h1v1h-1zM5 547h1v1h-1zM5 549h1v1h-1zM8 549h1v1h-1zM3 554h1v1h-1z"/>
<path fill="#c0c0f0" d="M17 0h1v1h-1zM21 5h1v1h-1zM7 7h1v1h-1zM17 7h1v1h-1zM14 8h1v1h-1zM22 9h1v1h-1zM14 10h1v1h-1zM13 11h1v1h-1zM16 15h1v1h-1zM16 16h1v1h-1zM13 20h1v1h-1zM20 21h1v1h-1zM23 21h1v1h-1zM15 24h1v1h-1zM17 24h1v1h-1zM7 26h2v1h-2zM14 30h1v1h-1zM19 30h1v1h-1zM8 33h1v1h-1zM12 33h1v1h-1zM6 38h1v1h-1zM19 38h1v1h-1zM8 40h1v1h-1zM16 40h2v1h-2zM23 42h1v1h-1zM19 49h1v1h-1zM19 55h1v1h-1zM18 58h1v1h-1zM19 59h1v1h-1zM23 60h1v1h-1zM14 61h1v1h-1zM17 61h1v1h-1zM7 64h1v1h-1zM12 66h1v1h-1zM21 68h1v1h-1zM16 71h1v1h-1zM13 72h1v1h-1zM12 73h1v1h-1zM20 73h1v1h-1zM10 76h1v1h-1zM7 80h1v1h-1zM9 80h1v1h-1zM23 80h1v1h-1zM18 84h1v1h-1zM10 85h1v1h-1zM23 85h1v1h-1zM11 90h1v1h-1zM13 90h1v1h-1zM1 95h1v1h-1zM16 96h1v1h-1zM23 96h1v1h-1zM4 97h1v1h-1zM13 104h1v1h-1zM1 105h3v1h-3zM8 105h1v1h-1zM0 106h1v1h-1zM22 106h1v1h-1zM22 109h1v1h-1zM1 112h1v1h-1zM10 112h1v1h-1zM15 117h1v1h-1zM5 120h1v1h-1zM8 120h1v1h-1zM11 121h1v1h-1zM3 123h1v1h-1zM15 123h1v1h-1zM0 124h1v1h-1zM3 124h1v1h-1zM5 124h1v1h-1zM14 124h1v1h-1zM5 126h1v1h-1zM19 127h1v1h-1zM21 128h1v1h-1zM23 129h1v1h-1zM23 130h1v1h-1zM5 133h1v1h-1zM1 134h1v1h-1zM3 134h1v1h-1zM1 137h1v1h-1zM17 137h1v1h-1zM1 138h1v1h-1zM3 138h1v1h-1zM23 139h1v1h-1zM23 142h1v1h-1zM1 143h2v1h-2zM23 144h1v1h-1zM3 145h1v1h-1zM3 147h1v1h-1zM0 148h1v1h-1zM3 148h1v1h-1zM7 148h1v1h-1zM5 149h1v1h-1zM2 150h1v1h-1zM11 150h1v1h-1zM3 151h1v1h-1zM12 151h1v1h-1zM3 153h2v1h-2zM1 156h1v1h-1zM1 157h1v1h-1zM2 158h1v1h-1zM16 159h1v1h-1zM4 160h1v1h-1zM10 160h1v1h-1zM13 160h1v1h-1zM3 161h1v1h-1zM20 161h1v1h-1zM2 162h1v1h-1zM8 162h1v1h-1zM16 163h1v1h-1zM22 166h1v1h-1zM0 167h2v1h-2zM22 167h1v1h-1zM4 168h1v1h-1zM5 169h1v1h-1zM5 170h1v1h-1zM14 172h1v1h-1zM13 174h1v1h-1zM2 175h1v1h-1zM10 178h1v1h-1zM3 180h1v1h-1zM1 181h1v1h-1zM3 182h1v1h-1zM12 182h1v1h-1zM5 185h1v1h-1zM22 185h1v1h-1zM2 186h1v1h-1zM4 186h1v1h-1zM2 187h1v1h-1zM4 188h1v1h-1zM2 191h1v1h-1zM7 191h1v1h-1zM16 191h1v1h-1zM1 192h1v1h-1zM3 192h1v1h-1zM10 192h1v1h-1zM0 193h1v1h-1zM0 201h1v1h-1zM1 204h2v1h-2zM16 205h1v1h-1zM3 206h1v1h-1zM20 206h1v1h-1zM22 207h1v1h-1zM0 208h1v1h-1zM2 210h1v1h-1zM16 211h1v1h-1zM4 212h1v1h-1zM16 212h1v1h-1zM6 213h1v1h-1zM2 214h1v1h-1zM5 215h1v1h-1zM10 215h1v1h-1zM20 216h1v1h-1zM3 218h1v1h-1zM9 219h1v1h-1zM1 221h1v1h-1zM11 221h1v1h-1zM2 224h2v1h-2zM6 224h1v1h-1zM16 225h1v1h-1zM0 226h1v1h-1zM1 228h1v1h-1zM11 228h1v1h-1zM2 230h1v1h-1zM19 230h1v1h-1zM4 232h1v1h-1zM12 232h1v1h-1zM16 234h1v1h-1zM1 238h1v1h-1zM4 239h1v1h-1zM0 240h1v1h-1zM4 245h1v1h-1zM4 246h1v1h-1zM4 247h1v1h-1zM1 250h1v1h-1zM1 252h1v1h-1zM1 253h1v1h-1zM3 254h1v1h-1zM5 257h1v1h-1zM2 258h1v1h-1zM12 258h2v1h-2zM22 258h1v1h-1zM18 261h1v1h-1zM1 262h1v1h-1zM5 262h1v1h-1zM11 264h1v1h-1zM2 265h2v1h-2zM4 266h1v1h-1zM7 266h1v1h-1zM0 268h1v1h-1zM1 269h1v1h-1zM3 274h1v1h-1zM1 276h1v1h-1zM7 276h1v1h-1zM19 278h1v1h-1zM13 279h1v1h-1zM12 280h1v1h-1zM2 282h1v1h-1zM16 282h1v1h-1zM9 285h1v1h-1zM1 287h1v1h-1zM4 287h1v1h-1zM2 288h2v1h-2zM20 288h1v1h-1zM10 289h1v1h-1zM1 290h1v1h-1zM13 291h1v1h-1zM7 294h1v1h-1zM1 295h1v1h-1zM1 296h1v1h-1zM19 296h1v1h-1zM4 300h1v1h-1zM22 300h1v1h-1zM16 302h1v1h-1zM3 303h1v1h-1zM5 304h1v1h-1zM0 306h1v1h-1zM4 310h1v1h-1zM1 312h1v1h-1zM3 313h1v1h-1zM17 313h1v1h-1zM2 314h1v1h-1zM5 314h1v1h-1zM2 315h1v1h-1zM5 316h1v1h-1zM11 316h1v1h-1zM14 317h1v1h-1zM3 320h1v1h-1zM4 322h1v1h-1zM4 327h1v1h-1zM0 328h1v1h-1zM3 329h1v1h-1zM15 330h1v1h-1zM5 333h1v1h-1zM7 333h1v1h-1zM11 334h1v1h-1zM0 337h1v1h-1zM4 337h1v1h-1zM14 337h1v1h-1zM0 340h1v1h-1zM1 343h1v1h-1zM5 343h1v1h-1zM4 344h1v1h-1zM0 346h1v1h-1zM18 347h1v1h-1zM1 351h1v1h-1zM20 353h1v1h-1zM4 354h1v1h-1zM1 355h1v1h-1zM19 355h1v1h-1zM1 357h1v1h-1zM23 357h1v1h-1zM8 359h1v1h-1zM3 360h1v1h-1zM5 360h1v1h-1zM1 361h1v1h-1zM14 362h1v1h-1zM14 363h1v1h-1zM3 364h1v1h-1zM18 365h1v1h-1zM17 366h1v1h-1zM3 367h1v1h-1zM5 369h1v1h-1zM10 369h1v1h-1zM1 371h1v1h-1zM1 372h1v1h-1zM11 372h1v1h-1zM18 372h1v1h-1zM19 374h1v1h-1zM1 375h1v1h-1zM5 375h1v1h-1zM14 375h1v1h-1zM9 376h1v1h-1zM8 378h1v1h-1zM3 379h1v1h-1zM5 379h1v1h-1zM20 380h1v1h-1zM2 386h1v1h-1zM14 386h1v1h-1zM20 386h1v1h-1zM1 387h1v1h-1zM3 387h1v1h-1zM10 388h1v1h-1zM0 391h2v1h-2zM1 392h1v1h-1zM15 392h1v1h-1zM4 393h1v1h-1zM14 393h1v1h-1zM2 395h1v1h-1zM5 396h1v1h-1zM0 398h1v1h-1zM5 401h1v1h-1zM20 401h1v1h-1zM4 402h1v1h-1zM16 402h1v1h-1zM1 403h1v1h-1zM19 403h1v1h-1zM12 404h1v1h-1zM4 405h1v1h-1zM0 412h1v1h-1zM18 413h1v1h-1zM17 414h1v1h-1zM6 417h1v1h-1zM14 417h1v1h-1zM3 418h1v1h-1zM6 418h1v1h-1zM1 419h1v1h-1zM2 420h3v1h-3zM3 423h1v1h-1zM12 424h1v1h-1zM18 426h1v1h-1zM22 427h1v1h-1zM4 428h1v1h-1zM5 430h1v1h-1zM20 432h1v1h-1zM1 433h1v1h-1zM14 433h1v1h-1zM21 433h1v1h-1zM6 434h1v1h-1zM4 436h1v1h-1zM5 438h1v1h-1zM12 439h2v1h-2zM0 440h1v1h-1zM2 440h1v1h-1zM1 441h2v1h-2zM5 441h1v1h-1zM17 442h1v1h-1zM21 443h2v1h-2zM14 446h1v1h-1zM4 447h1v1h-1zM23 448h1v1h-1zM3 451h1v1h-1zM1 453h2v1h-2zM9 453h1v1h-1zM12 455h1v1h-1zM1 456h1v1h-1zM2 458h2v1h-2zM3 460h1v1h-1zM11 461h1v1h-1zM14 462h1v1h-1zM2 464h2v1h-2zM5 464h1v1h-1zM14 464h1v1h-1zM13 466h1v1h-1zM3 468h1v1h-1zM5 468h1v1h-1zM23 468h1v1h-1zM5 469h1v1h-1zM1 471h1v1h-1zM3 473h2v1h-2zM21 474h1v1h-1zM1 478h1v1h-1zM6 478h1v1h-1zM15 479h1v1h-1zM2 480h1v1h-1zM5 481h1v1h-1zM3 483h1v1h-1zM13 483h1v1h-1zM1 486h1v1h-1zM2 488h1v1h-1zM2 490h1v1h-1zM17 491h1v1h-1zM4 493h1v1h-1zM16 493h1v1h-1zM4 494h1v1h-1zM9 495h1v1h-1zM11 498h1v1h-1zM15 498h1v1h-1zM21 498h1v1h-1zM8 500h1v1h-1zM3 501h1v1h-1zM20 501h1v1h-1zM0 503h1v1h-1zM5 503h1v1h-1zM4 505h1v1h-1zM11 506h1v1h-1zM1 510h1v1h-1zM5 513h1v1h-1zM9 514h1v1h-1zM0 515h1v1h-1zM7 515h1v1h-1zM1 517h1v1h-1zM14 518h1v1h-1zM0 521h1v1h-1zM11 521h1v1h-1zM10 522h1v1h-1zM17 523h1v1h-1zM20 525h1v1h-1zM5 530h1v1h-1zM12 530h1v1h-1zM14 530h1v1h-1zM16 530h1v1h-1zM2 531h1v1h-1zM5 531h1v1h-1zM15 532h1v1h-1zM18 532h1v1h-1zM4 533h1v1h-1zM15 538h1v1h-1zM18 538h1v1h-1zM21 538h2v1h-2zM3 540h1v1h-1zM0 541h1v1h-1zM11 542h2v1h-2zM0 547h1v1h-1zM2 547h1v1h-1zM22 547h1v1h-1zM0 549h1v1h-1zM4 550h1v1h-1zM1 554h1v1h-1zM16 555h1v1h-1zM4 556h1v1h-1zM18 556h1v1h-1z"/>
<path fill="#e4e4fc" d="M18 0h2v1h-2zM21 0h1v1h-1zM14 1h1v1h-1zM22 1h1v1h-1zM23 2h1v1h-1zM7 3h1v1h-1zM9 3h1v1h-1zM19 3h1v1h-1zM7 4h1v1h-1zM9 4h1v1h-1zM14 5h1v1h-1zM3 6h1v1h-1zM8 6h1v1h-1zM6 10h1v1h-1zM17 10h1v1h-1zM8 11h1v1h-1zM6 12h1v1h-1zM12 12h1v1h-1zM18 12h1v1h-1zM0 13h1v1h-1zM19 13h1v1h-1zM8 14h1v1h-1zM20 14h1v1h-1zM14 15h1v1h-1zM18 16h1v1h-1zM18 18h1v1h-1zM14 19h1v1h-1zM17 19h2v1h-2zM9 20h1v1h-1zM12 20h1v1h-1zM23 20h1v1h-1zM11 21h1v1h-1zM5 22h1v1h-1zM7 22h1v1h-1zM15 22h2v1h-2zM23 22h1v1h-1zM15 23h1v1h-1zM16 25h1v1h-1zM19 26h1v1h-1zM22 26h2v1h-2zM18 27h1v1h-1zM14 29h1v1h-1zM19 31h1v1h-1zM14 32h1v1h-1zM20 32h1v1h-1zM14 35h1v1h-1zM22 35h1v1h-1zM9 36h1v1h-1zM15 37h1v1h-1zM10 38h1v1h-1zM14 38h2v1h-2zM21 38h1v1h-1zM23 39h1v1h-1zM14 40h1v1h-1zM11 41h1v1h-1zM13 42h1v1h-1zM21 42h1v1h-1zM20 44h1v1h-1zM12 45h1v1h-1zM11 46h1v1h-1zM7 47h1v1h-1zM12 47h1v1h-1zM11 50h1v1h-1zM20 50h1v1h-1zM16 51h3v1h-3zM23 51h1v1h-1zM13 52h1v1h-1zM21 53h1v1h-1zM20 54h1v1h-1zM21 55h1v1h-1zM16 56h1v1h-1zM18 57h1v1h-1zM8 62h1v1h-1zM18 62h1v1h-1zM3 63h1v1h-1zM23 63h1v1h-1zM9 64h1v1h-1zM14 64h1v1h-1zM18 64h1v1h-1zM9 65h1v1h-1zM17 65h1v1h-1zM6 66h1v1h-1zM16 66h1v1h-1zM18 68h1v1h-1zM12 69h1v1h-1zM9 70h1v1h-1zM16 70h1v1h-1zM20 71h1v1h-1zM16 72h1v1h-1zM17 73h1v1h-1zM18 74h1v1h-1zM14 76h1v1h-1zM18 76h1v1h-1zM7 77h1v1h-1zM9 77h1v1h-1zM22 77h1v1h-1zM7 81h1v1h-1zM13 81h1v1h-1zM17 81h1v1h-1zM22 81h1v1h-1zM15 83h1v1h-1zM13 84h1v1h-1zM6 85h1v1h-1zM11 85h1v1h-1zM15 85h1v1h-1zM16 88h1v1h-1zM6 89h1v1h-1zM8 90h1v1h-1zM6 91h1v1h-1zM22 91h1v1h-1zM21 93h1v1h-1zM23 94h1v1h-1zM0 95h1v1h-1zM12 95h1v1h-1zM13 96h1v1h-1zM6 97h2v1h-2zM12 97h1v1h-1zM3 98h1v1h-1zM10 98h1v1h-1zM21 98h1v1h-1zM23 98h1v1h-1zM3 99h1v1h-1zM8 100h1v1h-1zM8 101h1v1h-1zM1 102h1v1h-1zM20 102h2v1h-2zM1 104h1v1h-1zM14 104h1v1h-1zM11 105h1v1h-1zM12 106h1v1h-1zM19 106h2v1h-2zM3 107h1v1h-1zM19 107h1v1h-1zM23 107h1v1h-1zM18 109h1v1h-1zM1 110h1v1h-1zM16 110h1v1h-1zM2 111h1v1h-1zM9 111h1v1h-1zM18 111h1v1h-1zM3 112h1v1h-1zM3 113h1v1h-1zM1 114h1v1h-1zM18 114h1v1h-1zM18 115h1v1h-1zM2 116h1v1h-1zM5 117h1v1h-1zM13 117h1v1h-1zM13 118h1v1h-1zM0 119h1v1h-1zM16 119h1v1h-1zM22 119h1v1h-1zM10 120h1v1h-1zM16 121h1v1h-1zM2 122h1v1h-1zM9 122h1v1h-1zM13 122h1v1h-1zM20 122h1v1h-1zM23 123h1v1h-1zM1 124h1v1h-1zM10 124h1v1h-1zM17 124h1v1h-1zM19 124h1v1h-1zM4 125h1v1h-1zM12 125h1v1h-1zM23 125h1v1h-1zM17 126h1v1h-1zM0 129h1v1h-1zM6 129h1v1h-1zM8 129h1v1h-1zM0 131h1v1h-1zM8 131h1v1h-1zM18 131h1v1h-1zM4 133h1v1h-1zM12 134h1v1h-1zM22 135h1v1h-1zM9 137h1v1h-1zM14 138h1v1h-1zM19 138h2v1h-2zM8 139h1v1h-1zM13 139h1v1h-1zM18 139h2v1h-2zM21 139h1v1h-1zM0 140h1v1h-1zM14 140h1v1h-1zM1 141h1v1h-1zM9 142h2v1h-2zM17 142h1v1h-1zM4 143h1v1h-1zM1 144h1v1h-1zM12 144h1v1h-1zM16 144h1v1h-1zM11 145h1v1h-1zM18 145h1v1h-1zM10 146h1v1h-1zM23 146h1v1h-1zM1 147h1v1h-1zM1 148h1v1h-1zM14 148h1v1h-1zM17 148h1v1h-1zM8 149h1v1h-1zM6 150h1v1h-1zM1 151h2v1h-2zM5 152h1v1h-1zM23 152h1v1h-1zM7 153h1v1h-1zM17 153h1v1h-1zM3 154h1v1h-1zM0 155h1v1h-1zM11 155h1v1h-1zM15 156h1v1h-1zM17 156h1v1h-1zM23 156h1v1h-1zM0 157h1v1h-1zM5 157h1v1h-1zM14 157h1v1h-1zM18 157h1v1h-1zM10 158h1v1h-1zM3 159h1v1h-1zM7 159h1v1h-1zM9 160h1v1h-1zM20 160h1v1h-1zM17 161h1v1h-1zM4 162h1v1h-1zM12 162h1v1h-1zM2 163h1v1h-1zM19 163h1v1h-1zM14 164h1v1h-1zM1 165h1v1h-1zM7 165h1v1h-1zM4 166h1v1h-1zM13 166h1v1h-1zM17 166h1v1h-1zM15 167h1v1h-1zM13 168h1v1h-1zM20 168h1v1h-1zM23 168h1v1h-1zM12 169h1v1h-1zM22 169h1v1h-1zM10 171h1v1h-1zM1 172h1v1h-1zM5 172h1v1h-1zM12 172h1v1h-1zM12 174h1v1h-1zM20 174h1v1h-1zM4 175h1v1h-1zM16 175h1v1h-1zM21 175h1v1h-1zM2 176h1v1h-1zM14 176h1v1h-1zM12 177h1v1h-1zM14 177h1v1h-1zM16 177h1v1h-1zM23 177h1v1h-1zM14 178h1v1h-1zM17 178h1v1h-1zM6 179h1v1h-1zM15 179h1v1h-1zM17 179h1v1h-1zM19 179h1v1h-1zM6 180h1v1h-1zM13 181h1v1h-1zM23 181h1v1h-1zM10 182h1v1h-1zM7 183h1v1h-1zM22 183h1v1h-1zM11 184h1v1h-1zM20 184h1v1h-1zM6 185h1v1h-1zM20 185h1v1h-1zM1 186h1v1h-1zM16 186h1v1h-1zM20 186h1v1h-1zM23 187h1v1h-1zM0 189h1v1h-1zM9 189h1v1h-1zM12 189h1v1h-1zM4 190h1v1h-1zM13 190h1v1h-1zM18 190h1v1h-1zM8 191h1v1h-1zM6 192h1v1h-1zM19 192h1v1h-1zM21 192h1v1h-1zM5 193h1v1h-1zM20 193h1v1h-1zM0 194h1v1h-1zM10 194h1v1h-1zM15 194h1v1h-1zM18 194h2v1h-2zM17 195h1v1h-1zM20 195h1v1h-1zM2 197h2v1h-2zM13 197h1v1h-1zM17 197h1v1h-1zM21 197h1v1h-1zM3 198h1v1h-1zM0 199h1v1h-1zM3 199h1v1h-1zM18 200h1v1h-1zM20 200h1v1h-1zM7 201h1v1h-1zM11 201h2v1h-2zM22 201h1v1h-1zM17 202h1v1h-1zM17 204h1v1h-1zM20 204h1v1h-1zM2 205h1v1h-1zM19 205h1v1h-1zM0 207h1v1h-1zM12 207h1v1h-1zM21 208h1v1h-1zM4 209h1v1h-1zM6 209h1v1h-1zM11 209h1v1h-1zM12 210h1v1h-1zM7 211h1v1h-1zM1 212h2v1h-2zM4 213h1v1h-1zM8 213h1v1h-1zM10 213h1v1h-1zM17 213h1v1h-1zM21 213h1v1h-1zM16 214h1v1h-1zM0 216h2v1h-2zM13 216h1v1h-1zM17 218h2v1h-2zM12 219h1v1h-1zM1 220h1v1h-1zM13 220h1v1h-1zM6 221h1v1h-1zM0 222h2v1h-2zM0 224h1v1h-1zM10 224h1v1h-1zM21 224h1v1h-1zM7 225h1v1h-1zM9 225h1v1h-1zM18 225h1v1h-1zM1 226h1v1h-1zM5 227h2v1h-2zM3 228h1v1h-1zM17 228h1v1h-1zM20 228h1v1h-1zM14 229h2v1h-2zM22 229h1v1h-1zM17 230h2v1h-2zM1 232h1v1h-1zM16 232h1v1h-1zM18 233h1v1h-1zM7 234h2v1h-2zM10 234h1v1h-1zM0 235h1v1h-1zM6 235h1v1h-1zM16 235h1v1h-1zM19 236h1v1h-1zM22 236h1v1h-1zM4 238h1v1h-1zM6 238h1v1h-1zM18 238h1v1h-1zM5 239h1v1h-1zM19 239h1v1h-1zM12 240h1v1h-1zM16 240h1v1h-1zM6 241h1v1h-1zM14 241h1v1h-1zM1 242h2v1h-2zM20 242h1v1h-1zM2 243h1v1h-1zM9 243h1v1h-1zM19 243h1v1h-1zM7 244h1v1h-1zM21 244h1v1h-1zM10 245h2v1h-2zM14 246h1v1h-1zM18 246h1v1h-1zM2 247h1v1h-1zM22 248h1v1h-1zM15 249h1v1h-1zM9 250h1v1h-1zM0 251h1v1h-1zM20 251h1v1h-1zM3 252h1v1h-1zM19 252h1v1h-1zM13 253h1v1h-1zM15 253h3v1h-3zM21 253h1v1h-1zM6 254h1v1h-1zM18 254h1v1h-1zM10 255h1v1h-1zM16 255h1v1h-1zM21 255h1v1h-1zM3 256h1v1h-1zM9 256h2v1h-2zM20 256h1v1h-1zM14 258h1v1h-1zM0 259h1v1h-1zM3 259h1v1h-1zM15 259h1v1h-1zM1 260h1v1h-1zM4 260h1v1h-1zM20 261h1v1h-1zM0 262h1v1h-1zM15 262h1v1h-1zM21 262h1v1h-1zM13 263h1v1h-1zM22 263h1v1h-1zM3 264h1v1h-1zM14 265h1v1h-1zM8 266h1v1h-1zM5 267h1v1h-1zM9 267h1v1h-1zM15 267h1v1h-1zM18 267h1v1h-1zM9 268h2v1h-2zM10 270h1v1h-1zM15 270h2v1h-2zM19 270h1v1h-1zM7 271h1v1h-1zM12 271h1v1h-1zM10 272h1v1h-1zM14 272h1v1h-1zM22 272h1v1h-1zM4 274h1v1h-1zM11 275h1v1h-1zM18 275h1v1h-1zM1 277h2v1h-2zM13 278h1v1h-1zM20 278h1v1h-1zM9 279h1v1h-1zM10 280h1v1h-1zM19 280h1v1h-1zM1 281h1v1h-1zM3 281h1v1h-1zM1 282h1v1h-1zM6 282h1v1h-1zM11 282h1v1h-1zM21 282h1v1h-1zM23 282h1v1h-1zM12 283h1v1h-1zM19 283h1v1h-1zM19 284h1v1h-1zM2 285h2v1h-2zM7 285h1v1h-1zM18 285h1v1h-1zM10 286h1v1h-1zM20 286h1v1h-1zM19 287h1v1h-1zM21 287h2v1h-2zM4 288h1v1h-1zM9 288h1v1h-1zM2 289h1v1h-1zM4 289h1v1h-1zM9 289h1v1h-1zM22 289h1v1h-1zM7 290h1v1h-1zM19 290h2v1h-2zM3 291h1v1h-1zM11 291h1v1h-1zM15 294h1v1h-1zM18 295h1v1h-1zM10 296h1v1h-1zM20 296h1v1h-1zM6 297h1v1h-1zM11 297h1v1h-1zM15 297h1v1h-1zM23 297h1v1h-1zM0 298h1v1h-1zM16 299h1v1h-1zM18 299h2v1h-2zM3 300h1v1h-1zM9 300h1v1h-1zM0 301h2v1h-2zM1 302h1v1h-1zM9 302h1v1h-1zM21 302h1v1h-1zM5 303h1v1h-1zM10 303h1v1h-1zM17 303h1v1h-1zM0 304h1v1h-1zM13 304h1v1h-1zM16 304h1v1h-1zM0 305h1v1h-1zM4 305h1v1h-1zM7 305h1v1h-1zM14 305h1v1h-1zM13 306h1v1h-1zM15 306h1v1h-1zM9 307h1v1h-1zM17 307h1v1h-1zM21 307h1v1h-1zM4 308h1v1h-1zM1 309h1v1h-1zM6 309h1v1h-1zM10 309h1v1h-1zM12 309h2v1h-2zM19 309h1v1h-1zM10 310h1v1h-1zM23 310h1v1h-1zM9 311h1v1h-1zM11 311h1v1h-1zM14 311h1v1h-1zM3 312h1v1h-1zM7 312h1v1h-1zM10 312h1v1h-1zM2 313h1v1h-1zM20 313h1v1h-1zM22 313h1v1h-1zM0 314h1v1h-1zM0 315h1v1h-1zM23 315h1v1h-1zM13 316h1v1h-1zM15 317h1v1h-1zM17 318h1v1h-1zM19 318h2v1h-2zM21 319h1v1h-1zM20 320h1v1h-1zM6 321h1v1h-1zM10 321h1v1h-1zM12 321h1v1h-1zM19 323h2v1h-2zM1 324h1v1h-1zM16 324h1v1h-1zM18 324h1v1h-1zM14 325h1v1h-1zM22 325h1v1h-1zM2 328h1v1h-1zM2 329h1v1h-1zM7 329h1v1h-1zM0 330h1v1h-1zM3 330h1v1h-1zM16 330h1v1h-1zM0 331h1v1h-1zM2 331h1v1h-1zM7 331h1v1h-1zM12 331h1v1h-1zM17 331h1v1h-1zM23 331h1v1h-1zM3 332h1v1h-1zM15 332h1v1h-1zM22 332h1v1h-1zM0 333h1v1h-1zM17 333h1v1h-1zM20 333h1v1h-1zM2 334h1v1h-1zM19 334h1v1h-1zM4 335h1v1h-1zM8 336h2v1h-2zM14 336h1v1h-1zM20 336h1v1h-1zM18 337h1v1h-1zM0 338h2v1h-2zM3 338h1v1h-1zM19 338h1v1h-1zM15 339h1v1h-1zM6 342h1v1h-1zM0 343h1v1h-1zM12 343h1v1h-1zM18 343h1v1h-1zM7 344h1v1h-1zM8 345h1v1h-1zM16 345h1v1h-1zM22 345h1v1h-1zM9 346h1v1h-1zM12 346h1v1h-1zM6 348h1v1h-1zM9 348h1v1h-1zM2 349h1v1h-1zM4 349h1v1h-1zM12 349h1v1h-1zM22 349h1v1h-1zM11 350h1v1h-1zM19 350h1v1h-1zM5 351h1v1h-1zM8 351h1v1h-1zM7 352h1v1h-1zM13 352h1v1h-1zM22 352h1v1h-1zM1 353h1v1h-1zM11 353h1v1h-1zM9 354h2v1h-2zM18 354h1v1h-1zM11 355h1v1h-1zM22 355h1v1h-1zM21 356h1v1h-1zM4 357h1v1h-1zM7 357h1v1h-1zM12 357h1v1h-1zM20 357h1v1h-1zM2 358h2v1h-2zM14 358h1v1h-1zM10 359h1v1h-1zM19 359h1v1h-1zM22 359h1v1h-1zM19 360h1v1h-1zM2 362h1v1h-1zM6 362h2v1h-2zM22 362h1v1h-1zM1 363h1v1h-1zM4 363h1v1h-1zM11 363h1v1h-1zM4 364h1v1h-1zM16 366h1v1h-1zM1 367h1v1h-1zM7 367h2v1h-2zM23 367h1v1h-1zM17 368h1v1h-1zM9 369h1v1h-1zM20 369h1v1h-1zM4 370h1v1h-1zM13 370h1v1h-1zM3 371h1v1h-1zM7 371h1v1h-1zM10 371h2v1h-2zM3 372h1v1h-1zM17 372h1v1h-1zM20 372h2v1h-2zM1 373h1v1h-1zM17 375h1v1h-1zM23 375h1v1h-1zM2 376h1v1h-1zM7 376h1v1h-1zM23 376h1v1h-1zM16 377h1v1h-1zM17 378h1v1h-1zM4 379h1v1h-1zM19 379h2v1h-2zM2 380h2v1h-2zM9 380h1v1h-1zM11 380h1v1h-1zM18 382h1v1h-1zM10 383h1v1h-1zM12 383h1v1h-1zM16 383h1v1h-1zM21 383h1v1h-1zM19 384h1v1h-1zM4 385h1v1h-1zM7 385h2v1h-2zM17 386h1v1h-1zM10 387h1v1h-1zM19 387h1v1h-1zM2 388h1v1h-1zM7 388h1v1h-1zM23 388h1v1h-1zM22 389h1v1h-1zM6 390h1v1h-1zM17 390h1v1h-1zM2 391h1v1h-1zM4 392h1v1h-1zM6 392h1v1h-1zM9 392h1v1h-1zM3 393h1v1h-1zM17 393h1v1h-1zM19 393h1v1h-1zM21 393h1v1h-1zM23 394h1v1h-1zM15 395h1v1h-1zM17 396h1v1h-1zM19 396h1v1h-1zM4 397h1v1h-1zM8 397h1v1h-1zM13 397h1v1h-1zM21 398h1v1h-1zM23 398h1v1h-1zM3 399h1v1h-1zM9 400h1v1h-1zM20 400h1v1h-1zM0 401h1v1h-1zM2 401h1v1h-1zM4 401h1v1h-1zM0 404h1v1h-1zM13 405h1v1h-1zM20 405h1v1h-1zM19 406h1v1h-1zM19 407h1v1h-1zM5 408h1v1h-1zM15 409h1v1h-1zM20 409h1v1h-1zM6 410h1v1h-1zM2 411h1v1h-1zM11 411h1v1h-1zM23 412h1v1h-1zM4 414h2v1h-2zM20 414h1v1h-1zM20 415h1v1h-1zM20 416h1v1h-1zM11 417h1v1h-1zM20 417h1v1h-1zM3 419h1v1h-1zM8 419h1v1h-1zM16 419h1v1h-1zM7 420h1v1h-1zM0 421h1v1h-1zM5 421h1v1h-1zM12 421h1v1h-1zM11 422h1v1h-1zM11 425h1v1h-1zM13 425h1v1h-1zM21 425h1v1h-1zM23 426h1v1h-1zM8 427h1v1h-1zM13 427h1v1h-1zM6 428h1v1h-1zM21 428h1v1h-1zM1 429h1v1h-1zM8 429h1v1h-1zM12 429h2v1h-2zM17 429h1v1h-1zM20 429h1v1h-1zM4 430h1v1h-1zM21 430h1v1h-1zM2 432h1v1h-1zM4 432h1v1h-1zM21 432h1v1h-1zM3 433h1v1h-1zM8 433h1v1h-1zM0 434h1v1h-1zM14 434h1v1h-1zM14 435h1v1h-1zM0 436h1v1h-1zM10 436h1v1h-1zM16 436h1v1h-1zM0 437h1v1h-1zM3 437h1v1h-1zM19 437h1v1h-1zM3 438h1v1h-1zM7 438h1v1h-1zM12 438h1v1h-1zM10 439h1v1h-1zM20 439h1v1h-1zM3 440h1v1h-1zM10 440h1v1h-1zM17 441h1v1h-1zM20 441h1v1h-1zM22 441h1v1h-1zM1 442h4v1h-4zM7 442h1v1h-1zM10 442h1v1h-1zM0 443h1v1h-1zM4 443h1v1h-1zM15 443h1v1h-1zM18 443h1v1h-1zM11 444h1v1h-1zM19 444h1v1h-1zM1 446h1v1h-1zM8 446h1v1h-1zM12 446h1v1h-1zM21 446h1v1h-1zM21 448h1v1h-1zM5 449h1v1h-1zM9 449h1v1h-1zM11 450h1v1h-1zM15 450h1v1h-1zM20 450h1v1h-1zM22 450h1v1h-1zM2 451h1v1h-1zM3 452h2v1h-2zM17 452h1v1h-1zM11 454h1v1h-1zM16 454h1v1h-1zM13 455h1v1h-1zM15 455h1v1h-1zM3 457h1v1h-1zM14 457h1v1h-1zM6 458h1v1h-1zM4 459h1v1h-1zM13 459h1v1h-1zM11 460h1v1h-1zM19 460h1v1h-1zM20 461h1v1h-1zM10 462h1v1h-1zM16 462h1v1h-1zM19 462h1v1h-1zM11 464h1v1h-1zM6 465h1v1h-1zM6 466h1v1h-1zM6 467h1v1h-1zM21 467h1v1h-1zM23 467h1v1h-1zM7 468h1v1h-1zM4 469h1v1h-1zM12 469h2v1h-2zM22 470h1v1h-1zM19 471h1v1h-1zM8 472h1v1h-1zM15 472h2v1h-2zM16 473h1v1h-1zM19 473h1v1h-1zM23 473h1v1h-1zM2 475h1v1h-1zM15 475h1v1h-1zM7 476h1v1h-1zM9 476h1v1h-1zM14 478h1v1h-1zM10 480h1v1h-1zM19 480h1v1h-1zM12 481h1v1h-1zM0 483h1v1h-1zM20 483h1v1h-1zM1 484h2v1h-2zM21 484h1v1h-1zM23 484h1v1h-1zM0 485h1v1h-1zM2 485h1v1h-1zM22 485h1v1h-1zM23 486h1v1h-1zM14 487h1v1h-1zM4 488h1v1h-1zM12 489h1v1h-1zM9 491h1v1h-1zM12 492h1v1h-1zM3 493h1v1h-1zM11 493h1v1h-1zM22 493h1v1h-1zM19 494h1v1h-1zM0 495h1v1h-1zM21 495h1v1h-1zM17 496h1v1h-1zM0 497h1v1h-1zM16 497h2v1h-2zM22 497h1v1h-1zM1 498h2v1h-2zM1 499h1v1h-1zM14 499h1v1h-1zM17 499h1v1h-1zM21 499h1v1h-1zM15 500h1v1h-1zM0 501h1v1h-1zM13 501h1v1h-1zM14 502h1v1h-1zM3 503h1v1h-1zM13 503h1v1h-1zM20 503h1v1h-1zM16 505h1v1h-1zM3 506h1v1h-1zM21 506h1v1h-1zM23 506h1v1h-1zM1 507h1v1h-1zM6 507h1v1h-1zM18 507h1v1h-1zM5 508h1v1h-1zM8 508h1v1h-1zM17 508h1v1h-1zM18 509h1v1h-1zM8 511h1v1h-1zM21 511h1v1h-1zM3 512h1v1h-1zM9 512h1v1h-1zM2 513h1v1h-1zM7 513h3v1h-3zM3 514h1v1h-1zM14 514h1v1h-1zM6 515h1v1h-1zM16 515h1v1h-1zM14 516h1v1h-1zM19 516h1v1h-1zM2 517h1v1h-1zM5 517h1v1h-1zM1 518h1v1h-1zM11 518h1v1h-1zM20 518h1v1h-1zM2 519h1v1h-1zM4 519h1v1h-1zM20 519h2v1h-2zM6 520h1v1h-1zM14 520h1v1h-1zM2 521h1v1h-1zM13 521h1v1h-1zM19 521h1v1h-1zM9 522h1v1h-1zM22 522h1v1h-1zM3 523h1v1h-1zM21 523h1v1h-1zM23 523h1v1h-1zM0 524h1v1h-1zM5 524h1v1h-1zM18 524h1v1h-1zM3 526h1v1h-1zM12 526h1v1h-1zM17 526h1v1h-1zM17 528h2v1h-2zM1 529h2v1h-2zM15 530h1v1h-1zM1 531h1v1h-1zM3 531h1v1h-1zM13 531h1v1h-1zM21 532h1v1h-1zM23 532h1v1h-1zM3 533h1v1h-1zM18 533h2v1h-2zM18 534h1v1h-1zM11 535h1v1h-1zM18 535h1v1h-1zM0 536h2v1h-2zM3 536h1v1h-1zM5 536h1v1h-1zM8 536h1v1h-1zM12 536h1v1h-1zM14 536h1v1h-1zM2 537h1v1h-1zM20 537h2v1h-2zM11 538h1v1h-1zM0 539h1v1h-1zM6 539h1v1h-1zM21 539h1v1h-1zM2 540h1v1h-1zM8 540h1v1h-1zM21 540h1v1h-1zM3 541h1v1h-1zM16 541h1v1h-1zM23 541h1v1h-1zM0 542h1v1h-1zM9 542h1v1h-1zM14 542h1v1h-1zM16 542h2v1h-2zM3 543h1v1h-1zM7 544h1v1h-1zM7 545h1v1h-1zM10 545h1v1h-1zM15 545h1v1h-1zM19 545h2v1h-2zM0 546h1v1h-1zM23 546h1v1h-1zM4 547h1v1h-1zM3 549h1v1h-1zM9 549h1v1h-1zM0 550h1v1h-1zM3 550h1v1h-1zM0 551h1v1h-1zM9 551h1v1h-1zM17 551h1v1h-1zM14 552h1v1h-1zM21 552h1v1h-1zM1 553h1v1h-1zM7 553h1v1h-1zM17 553h1v1h-1zM20 553h1v1h-1zM22 553h1v1h-1zM2 554h1v1h-1zM8 554h1v1h-1zM3 555h1v1h-1zM14 555h1v1h-1zM2 556h1v1h-1zM14 556h1v1h-1z"/>
<path fill="#7878e4" d="M20 0h1v1h-1zM21 1h1v1h-1zM21 3h1v1h-1zM23 4h1v1h-1zM17 5h1v1h-1zM7 9h1v1h-1zM23 10h1v1h-1zM7 11h1v1h-1zM6 14h1v1h-1zM8 23h1v1h-1zM6 26h1v1h-1zM16 27h2v1h-2zM8 28h1v1h-1zM16 29h1v1h-1zM17 33h1v1h-1zM21 33h1v1h-1zM18 39h1v1h-1zM9 44h1v1h-1zM18 46h1v1h-1zM21 56h1v1h-1zM6 62h1v1h-1zM9 62h1v1h-1zM17 64h1v1h-1zM6 72h1v1h-1zM22 74h1v1h-1zM8 78h1v1h-1zM12 78h1v1h-1zM15 79h1v1h-1zM22 82h1v1h-1zM6 87h1v1h-1zM8 87h1v1h-1zM9 91h1v1h-1zM5 105h1v1h-1zM4 107h1v1h-1zM5 158h1v1h-1zM3 187h1v1h-1zM5 188h1v1h-1zM1 198h1v1h-1zM1 202h1v1h-1zM2 203h1v1h-1zM6 206h1v1h-1zM1 213h1v1h-1zM6 253h1v1h-1zM4 259h1v1h-1zM0 270h1v1h-1zM1 272h1v1h-1zM5 283h1v1h-1zM2 299h1v1h-1zM5 313h1v1h-1zM1 327h1v1h-1zM22 331h1v1h-1zM14 341h1v1h-1zM4 345h1v1h-1zM3 347h1v1h-1zM14 354h1v1h-1zM5 378h1v1h-1zM3 388h1v1h-1zM1 394h1v1h-1zM1 415h1v1h-1zM2 460h1v1h-1zM5 471h1v1h-1zM3 480h1v1h-1zM5 504h1v1h-1zM4 515h1v1h-1zM4 520h1v1h-1zM21 529h1v1h-1zM5 538h1v1h-1zM5 545h1v1h-1zM5 553h1v1h-1z"/>
<path fill="#7878f0" d="M22 0h1v1h-1zM18 5h1v1h-1zM9 18h1v1h-1zM12 21h1v1h-1zM12 27h1v1h-1zM16 35h1v1h-1zM8 41h1v1h-1zM15 47h1v1h-1zM6 54h1v1h-1zM9 55h1v1h-1zM20 55h1v1h-1zM8 57h1v1h-1zM22 67h1v1h-1zM12 68h1v1h-1zM16 74h1v1h-1zM19 79h1v1h-1zM20 85h1v1h-1zM12 87h1v1h-1zM5 95h1v1h-1zM16 98h1v1h-1zM21 107h1v1h-1zM5 132h1v1h-1zM1 136h1v1h-1zM0 173h1v1h-1zM0 211h1v1h-1zM19 213h1v1h-1zM4 235h1v1h-1zM0 236h1v1h-1zM8 263h1v1h-1zM4 272h1v1h-1zM19 274h1v1h-1zM1 306h1v1h-1zM2 318h1v1h-1zM2 325h1v1h-1zM3 344h1v1h-1zM4 351h1v1h-1zM23 362h1v1h-1zM1 459h1v1h-1zM8 471h1v1h-1zM1 495h1v1h-1zM1 509h1v1h-1zM20 517h1v1h-1zM19 534h1v1h-1zM5 548h1v1h-1zM3 551h1v1h-1z"/>
<path fill="#909cf0" d="M23 0h1v1h-1zM19 2h1v1h-1zM13 15h1v1h-1zM10 66h1v1h-1zM23 89h1v1h-1zM22 90h1v1h-1zM5 111h1v1h-1zM20 139h1v1h-1zM5 276h1v1h-1zM10 302h1v1h-1zM2 524h1v1h-1zM5 529h1v1h-1z"/>
<path fill="#f09c9c" d="M0 1h1v1h-1zM4 2h1v1h-1zM2 9h1v1h-1zM3 14h1v1h-1zM1 15h1v1h-1zM1 18h1v1h-1zM2 22h1v1h-1zM12 22h1v1h-1zM0 24h1v1h-1zM5 30h1v1h-1zM1 33h1v1h-1zM4 33h1v1h-1zM18 33h1v1h-1zM5 35h1v1h-1zM3 36h1v1h-1zM8 38h1v1h-1zM3 42h1v1h-1zM1 44h1v1h-1zM4 45h1v1h-1zM0 46h1v1h-1zM12 46h1v1h-1zM2 49h1v1h-1zM16 53h1v1h-1zM22 53h1v1h-1zM1 54h1v1h-1zM1 59h1v1h-1zM21 59h1v1h-1zM19 61h1v1h-1zM2 67h1v1h-1zM15 73h1v1h-1zM1 74h1v1h-1zM0 78h1v1h-1zM4 78h1v1h-1zM1 79h1v1h-1zM2 80h2v1h-2zM8 80h1v1h-1zM20 84h1v1h-1zM4 85h1v1h-1zM1 86h2v1h-2zM5 86h1v1h-1zM9 86h1v1h-1zM1 87h1v1h-1zM0 90h1v1h-1zM0 91h1v1h-1zM13 91h1v1h-1zM5 93h1v1h-1zM10 100h1v1h-1zM19 102h1v1h-1zM6 107h1v1h-1zM12 111h1v1h-1zM14 117h1v1h-1zM19 118h1v1h-1zM17 121h1v1h-1zM11 122h1v1h-1zM8 125h1v1h-1zM10 127h1v1h-1zM22 128h1v1h-1zM9 132h1v1h-1zM20 135h1v1h-1zM18 136h1v1h-1zM22 136h1v1h-1zM11 138h1v1h-1zM15 140h2v1h-2zM22 146h1v1h-1zM7 149h1v1h-1zM12 149h1v1h-1zM19 158h1v1h-1zM12 159h1v1h-1zM8 165h1v1h-1zM11 167h1v1h-1zM14 168h1v1h-1zM13 171h1v1h-1zM16 171h1v1h-1zM7 173h1v1h-1zM12 173h1v1h-1zM19 180h1v1h-1zM14 182h1v1h-1zM23 183h1v1h-1zM18 186h1v1h-1zM15 192h1v1h-1zM22 195h1v1h-1zM23 197h1v1h-1zM7 202h1v1h-1zM18 202h1v1h-1zM18 203h1v1h-1zM6 210h1v1h-1zM13 210h1v1h-1zM21 211h1v1h-1zM7 223h1v1h-1zM11 229h1v1h-1zM10 232h1v1h-1zM10 240h1v1h-1zM9 245h1v1h-1zM18 247h1v1h-1zM6 249h1v1h-1zM23 249h1v1h-1zM21 252h1v1h-1zM15 263h1v1h-1zM19 269h1v1h-1zM19 271h1v1h-1zM12 272h1v1h-1zM21 272h1v1h-1zM18 273h1v1h-1zM18 277h1v1h-1zM16 280h1v1h-1zM19 282h1v1h-1zM22 282h1v1h-1zM8 285h1v1h-1zM10 285h1v1h-1zM6 286h1v1h-1zM14 286h1v1h-1zM11 292h1v1h-1zM6 294h1v1h-1zM13 315h1v1h-1zM6 316h1v1h-1zM8 319h1v1h-1zM7 320h1v1h-1zM13 326h1v1h-1zM7 327h1v1h-1zM17 327h1v1h-1zM19 333h1v1h-1zM15 336h1v1h-1zM18 342h1v1h-1zM8 344h1v1h-1zM12 347h1v1h-1zM22 348h1v1h-1zM23 349h1v1h-1zM14 351h1v1h-1zM15 352h1v1h-1zM15 354h1v1h-1zM21 354h1v1h-1zM9 357h1v1h-1zM12 359h1v1h-1zM16 362h1v1h-1zM22 364h1v1h-1zM14 368h1v1h-1zM10 370h1v1h-1zM22 371h1v1h-1zM19 372h1v1h-1zM12 374h1v1h-1zM14 383h1v1h-1zM18 385h1v1h-1zM19 391h1v1h-1zM18 392h1v1h-1zM7 398h1v1h-1zM18 398h1v1h-1zM6 399h1v1h-1zM6 401h1v1h-1zM18 404h1v1h-1zM6 405h1v1h-1zM9 407h1v1h-1zM8 418h1v1h-1zM21 419h1v1h-1zM14 423h1v1h-1zM8 424h2v1h-2zM16 425h1v1h-1zM18 427h1v1h-1zM18 430h1v1h-1zM12 431h1v1h-1zM8 432h1v1h-1zM8 436h1v1h-1zM12 436h1v1h-1zM6 439h1v1h-1zM9 444h1v1h-1zM18 445h1v1h-1zM6 447h1v1h-1zM10 447h1v1h-1zM17 450h1v1h-1zM15 451h1v1h-1zM12 452h1v1h-1zM10 453h1v1h-1zM10 454h1v1h-1zM22 465h1v1h-1zM9 466h1v1h-1zM17 467h1v1h-1zM6 472h1v1h-1zM19 472h1v1h-1zM15 474h1v1h-1zM19 474h1v1h-1zM18 481h1v1h-1zM7 483h1v1h-1zM13 488h1v1h-1zM11 489h1v1h-1zM21 489h1v1h-1zM8 490h1v1h-1zM22 491h1v1h-1zM7 496h1v1h-1zM15 496h1v1h-1zM11 497h1v1h-1zM15 499h1v1h-1zM12 505h1v1h-1zM11 507h1v1h-1zM11 511h1v1h-1zM7 520h1v1h-1zM21 520h1v1h-1zM14 524h1v1h-1zM6 525h1v1h-1zM10 525h1v1h-1zM16 526h1v1h-1zM6 530h1v1h-1zM13 530h1v1h-1zM17 530h1v1h-1zM6 534h1v1h-1zM18 536h1v1h-1zM18 542h1v1h-1zM22 545h1v1h-1zM11 548h1v1h-1zM20 554h1v1h-1z"/>
<path fill="#f07878" d="M3 1h1v1h-1zM0 10h1v1h-1zM0 12h1v1h-1zM3 15h1v1h-1zM5 15h1v1h-1zM1 19h1v1h-1zM3 24h1v1h-1zM5 24h1v1h-1zM1 27h1v1h-1zM2 29h1v1h-1zM4 31h1v1h-1zM0 33h1v1h-1zM20 36h1v1h-1zM3 40h1v1h-1zM4 41h1v1h-1zM0 44h1v1h-1zM23 49h1v1h-1zM4 55h2v1h-2zM3 56h1v1h-1zM22 69h1v1h-1zM4 74h1v1h-1zM4 75h1v1h-1zM1 77h1v1h-1zM3 77h1v1h-1zM4 79h1v1h-1zM0 83h1v1h-1zM4 84h1v1h-1zM10 89h1v1h-1zM5 92h1v1h-1zM14 95h1v1h-1zM23 106h1v1h-1zM12 107h1v1h-1zM19 110h1v1h-1zM6 111h1v1h-1zM6 113h1v1h-1zM18 113h1v1h-1zM10 116h1v1h-1zM12 127h1v1h-1zM12 130h1v1h-1zM16 134h1v1h-1zM14 144h1v1h-1zM11 146h1v1h-1zM11 148h1v1h-1zM8 150h1v1h-1zM15 151h1v1h-1zM20 158h1v1h-1zM6 159h1v1h-1zM6 160h1v1h-1zM18 162h1v1h-1zM15 163h1v1h-1zM8 167h1v1h-1zM12 167h1v1h-1zM23 167h1v1h-1zM15 170h1v1h-1zM9 172h1v1h-1zM11 172h1v1h-1zM13 177h1v1h-1zM22 178h1v1h-1zM23 180h1v1h-1zM17 181h1v1h-1zM7 184h1v1h-1zM7 186h1v1h-1zM9 187h1v1h-1zM15 187h1v1h-1zM7 192h1v1h-1zM21 194h1v1h-1zM13 195h1v1h-1zM13 198h1v1h-1zM11 200h1v1h-1zM22 200h1v1h-1zM9 205h1v1h-1zM14 207h1v1h-1zM9 209h1v1h-1zM9 217h1v1h-1zM20 217h1v1h-1zM22 221h1v1h-1zM19 225h1v1h-1zM12 229h1v1h-1zM8 231h1v1h-1zM13 233h1v1h-1zM21 239h1v1h-1zM23 240h1v1h-1zM8 243h1v1h-1zM15 250h1v1h-1zM10 252h1v1h-1zM7 254h1v1h-1zM23 254h1v1h-1zM15 255h1v1h-1zM12 257h1v1h-1zM11 260h1v1h-1zM14 260h1v1h-1zM14 261h1v1h-1zM21 265h1v1h-1zM17 270h1v1h-1zM22 271h1v1h-1zM22 278h1v1h-1zM15 281h1v1h-1zM14 283h1v1h-1zM22 284h1v1h-1zM7 292h1v1h-1zM10 299h1v1h-1zM17 300h1v1h-1zM6 301h1v1h-1zM20 301h1v1h-1zM6 302h1v1h-1zM23 304h1v1h-1zM16 305h1v1h-1zM23 307h1v1h-1zM14 308h1v1h-1zM9 327h2v1h-2zM7 336h1v1h-1zM23 337h1v1h-1zM11 339h2v1h-2zM21 342h1v1h-1zM13 346h2v1h-2zM22 356h1v1h-1zM18 357h1v1h-1zM17 360h1v1h-1zM21 360h1v1h-1zM7 361h1v1h-1zM9 361h1v1h-1zM15 364h1v1h-1zM11 365h1v1h-1zM21 369h1v1h-1zM10 373h1v1h-1zM15 374h1v1h-1zM8 376h1v1h-1zM6 377h1v1h-1zM14 379h1v1h-1zM18 387h1v1h-1zM19 389h1v1h-1zM9 391h1v1h-1zM7 395h1v1h-1zM9 396h1v1h-1zM15 396h1v1h-1zM15 398h1v1h-1zM8 408h1v1h-1zM13 410h1v1h-1zM12 415h1v1h-1zM8 422h1v1h-1zM15 422h1v1h-1zM9 423h1v1h-1zM15 423h1v1h-1zM7 432h1v1h-1zM13 434h1v1h-1zM19 434h1v1h-1zM21 434h1v1h-1zM23 435h1v1h-1zM18 448h1v1h-1zM9 459h1v1h-1zM16 459h1v1h-1zM16 463h1v1h-1zM22 472h1v1h-1zM18 473h1v1h-1zM8 475h1v1h-1zM16 476h1v1h-1zM7 477h1v1h-1zM6 484h1v1h-1zM17 489h1v1h-1zM8 494h1v1h-1zM8 499h1v1h-1zM12 500h1v1h-1zM8 501h1v1h-1zM18 504h1v1h-1zM20 512h1v1h-1zM18 513h1v1h-1zM18 516h1v1h-1zM22 517h1v1h-1zM18 519h1v1h-1zM11 523h1v1h-1zM11 530h1v1h-1zM14 531h1v1h-1zM7 533h1v1h-1zM16 536h1v1h-1zM15 537h1v1h-1zM7 540h1v1h-1zM12 545h1v1h-1zM19 546h1v1h-1zM10 552h1v1h-1zM19 552h1v1h-1z"/>
<path fill="#f0a8a8" d="M5 1h1v1h-1zM0 5h1v1h-1zM15 8h1v1h-1zM2 10h1v1h-1zM19 12h1v1h-1zM5 14h1v1h-1zM3 16h1v1h-1zM4 17h1v1h-1zM18 17h1v1h-1zM10 18h1v1h-1zM5 19h1v1h-1zM18 21h1v1h-1zM1 22h1v1h-1zM14 23h1v1h-1zM4 24h1v1h-1zM0 28h1v1h-1zM3 28h1v1h-1zM1 29h1v1h-1zM3 29h1v1h-1zM16 34h1v1h-1zM0 36h1v1h-1zM10 36h1v1h-1zM18 36h1v1h-1zM12 39h1v1h-1zM18 40h1v1h-1zM22 42h1v1h-1zM0 43h1v1h-1zM2 45h1v1h-1zM2 46h1v1h-1zM13 47h1v1h-1zM2 48h1v1h-1zM2 53h1v1h-1zM15 54h1v1h-1zM23 54h1v1h-1zM22 55h2v1h-2zM0 56h1v1h-1zM0 57h1v1h-1zM2 58h1v1h-1zM13 64h1v1h-1zM5 65h1v1h-1zM8 65h1v1h-1zM13 66h1v1h-1zM1 73h1v1h-1zM10 73h1v1h-1zM3 76h1v1h-1zM2 77h1v1h-1zM2 78h1v1h-1zM10 78h1v1h-1zM11 79h1v1h-1zM19 83h1v1h-1zM2 84h1v1h-1zM7 85h1v1h-1zM0 87h1v1h-1zM2 87h1v1h-1zM0 89h1v1h-1zM2 91h1v1h-1zM0 92h1v1h-1zM9 92h1v1h-1zM18 92h1v1h-1zM4 93h1v1h-1zM1 94h1v1h-1zM15 95h1v1h-1zM8 96h1v1h-1zM19 99h1v1h-1zM9 102h1v1h-1zM21 105h1v1h-1zM17 108h1v1h-1zM13 109h1v1h-1zM11 110h1v1h-1zM13 110h1v1h-1zM20 118h1v1h-1zM16 124h1v1h-1zM16 132h1v1h-1zM17 133h1v1h-1zM16 137h1v1h-1zM10 145h1v1h-1zM16 147h1v1h-1zM11 149h1v1h-1zM14 149h1v1h-1zM11 153h1v1h-1zM23 153h1v1h-1zM22 156h1v1h-1zM22 157h1v1h-1zM23 160h1v1h-1zM21 162h1v1h-1zM8 164h1v1h-1zM21 166h1v1h-1zM15 176h1v1h-1zM8 181h1v1h-1zM15 181h1v1h-1zM16 196h1v1h-1zM20 196h1v1h-1zM10 198h1v1h-1zM22 199h1v1h-1zM10 201h1v1h-1zM9 203h1v1h-1zM23 203h1v1h-1zM19 207h1v1h-1zM8 210h1v1h-1zM20 211h1v1h-1zM9 213h1v1h-1zM6 214h1v1h-1zM23 214h1v1h-1zM15 217h1v1h-1zM8 221h1v1h-1zM7 222h1v1h-1zM17 223h1v1h-1zM22 224h1v1h-1zM22 225h1v1h-1zM7 232h1v1h-1zM21 233h1v1h-1zM8 241h1v1h-1zM13 241h1v1h-1zM19 245h1v1h-1zM21 245h1v1h-1zM13 248h1v1h-1zM19 248h1v1h-1zM19 250h1v1h-1zM21 251h1v1h-1zM19 254h1v1h-1zM8 255h2v1h-2zM12 256h1v1h-1zM18 260h1v1h-1zM11 263h1v1h-1zM22 268h1v1h-1zM15 269h1v1h-1zM11 272h1v1h-1zM12 273h1v1h-1zM21 274h1v1h-1zM14 276h1v1h-1zM7 278h1v1h-1zM11 280h1v1h-1zM21 280h1v1h-1zM15 285h2v1h-2zM8 286h1v1h-1zM19 286h1v1h-1zM15 288h1v1h-1zM7 289h1v1h-1zM21 290h1v1h-1zM8 295h1v1h-1zM14 297h1v1h-1zM22 298h1v1h-1zM18 301h1v1h-1zM16 309h1v1h-1zM6 310h1v1h-1zM14 321h1v1h-1zM16 323h1v1h-1zM18 334h1v1h-1zM10 336h1v1h-1zM9 339h1v1h-1zM7 340h1v1h-1zM12 345h1v1h-1zM16 347h1v1h-1zM18 349h1v1h-1zM8 352h1v1h-1zM23 355h1v1h-1zM19 375h1v1h-1zM21 378h1v1h-1zM6 382h1v1h-1zM6 384h1v1h-1zM13 384h1v1h-1zM17 384h1v1h-1zM21 387h1v1h-1zM9 389h1v1h-1zM14 389h1v1h-1zM11 390h1v1h-1zM22 394h1v1h-1zM14 395h1v1h-1zM16 398h1v1h-1zM7 399h1v1h-1zM17 402h1v1h-1zM23 405h1v1h-1zM22 407h1v1h-1zM10 418h1v1h-1zM7 419h1v1h-1zM21 422h1v1h-1zM6 425h1v1h-1zM23 434h1v1h-1zM22 435h1v1h-1zM7 436h1v1h-1zM15 437h1v1h-1zM14 438h1v1h-1zM6 441h1v1h-1zM19 443h1v1h-1zM22 444h1v1h-1zM11 447h1v1h-1zM20 459h1v1h-1zM14 461h1v1h-1zM11 466h1v1h-1zM9 469h1v1h-1zM20 469h1v1h-1zM11 474h1v1h-1zM16 477h1v1h-1zM14 481h1v1h-1zM19 481h1v1h-1zM6 482h1v1h-1zM14 482h1v1h-1zM13 484h1v1h-1zM18 484h1v1h-1zM14 485h1v1h-1zM7 486h1v1h-1zM10 486h1v1h-1zM8 488h1v1h-1zM6 491h1v1h-1zM16 492h1v1h-1zM7 493h1v1h-1zM15 493h1v1h-1zM18 496h1v1h-1zM23 496h1v1h-1zM9 498h1v1h-1zM14 500h1v1h-1zM13 504h1v1h-1zM18 505h1v1h-1zM20 506h1v1h-1zM21 507h1v1h-1zM10 509h1v1h-1zM22 509h1v1h-1zM15 513h1v1h-1zM8 520h1v1h-1zM12 520h1v1h-1zM11 533h1v1h-1zM23 535h1v1h-1zM11 536h1v1h-1zM15 536h1v1h-1zM16 537h1v1h-1zM6 543h1v1h-1zM9 544h1v1h-1zM17 544h1v1h-1zM8 545h1v1h-1zM21 548h1v1h-1zM18 549h1v1h-1zM6 553h1v1h-1zM19 553h1v1h-1z"/>
<path fill="#d8d8fc" d="M6 1h1v1h-1zM18 3h1v1h-1zM12 8h2v1h-2zM23 8h1v1h-1zM13 10h1v1h-1zM20 10h1v1h-1zM9 11h1v1h-1zM20 12h1v1h-1zM18 13h1v1h-1zM11 14h1v1h-1zM16 14h1v1h-1zM11 15h1v1h-1zM23 15h1v1h-1zM7 16h1v1h-1zM15 16h1v1h-1zM20 16h1v1h-1zM9 17h1v1h-1zM16 17h1v1h-1zM6 18h1v1h-1zM13 18h1v1h-1zM5 20h1v1h-1zM8 20h1v1h-1zM14 20h1v1h-1zM20 20h1v1h-1zM9 24h2v1h-2zM14 24h1v1h-1zM21 24h1v1h-1zM6 28h1v1h-1zM9 28h1v1h-1zM19 28h1v1h-1zM8 31h1v1h-1zM23 32h1v1h-1zM22 36h1v1h-1zM14 37h1v1h-1zM11 38h1v1h-1zM11 40h1v1h-1zM20 40h1v1h-1zM17 41h1v1h-1zM5 47h1v1h-1zM14 48h1v1h-1zM21 49h1v1h-1zM12 50h1v1h-1zM18 50h1v1h-1zM8 52h1v1h-1zM14 54h1v1h-1zM17 55h1v1h-1zM14 56h1v1h-1zM17 56h1v1h-1zM12 57h1v1h-1zM14 57h1v1h-1zM11 58h1v1h-1zM16 59h1v1h-1zM8 63h1v1h-1zM14 65h1v1h-1zM23 66h1v1h-1zM13 67h1v1h-1zM21 67h1v1h-1zM19 71h1v1h-1zM8 74h1v1h-1zM1 75h1v1h-1zM9 76h1v1h-1zM8 77h1v1h-1zM18 78h1v1h-1zM23 78h1v1h-1zM9 82h1v1h-1zM17 82h1v1h-1zM22 83h1v1h-1zM9 84h1v1h-1zM12 84h1v1h-1zM14 85h1v1h-1zM11 86h1v1h-1zM16 86h1v1h-1zM23 86h1v1h-1zM21 87h2v1h-2zM23 90h1v1h-1zM10 91h1v1h-1zM21 92h1v1h-1zM7 93h1v1h-1zM7 94h1v1h-1zM19 95h1v1h-1zM2 96h1v1h-1zM14 96h1v1h-1zM0 97h1v1h-1zM16 97h1v1h-1zM15 98h1v1h-1zM22 98h1v1h-1zM1 99h1v1h-1zM8 99h1v1h-1zM2 100h1v1h-1zM22 100h1v1h-1zM4 101h1v1h-1zM14 101h1v1h-1zM6 103h1v1h-1zM5 104h1v1h-1zM17 104h1v1h-1zM2 106h2v1h-2zM5 106h1v1h-1zM8 106h1v1h-1zM0 107h1v1h-1zM10 107h1v1h-1zM18 107h1v1h-1zM8 108h2v1h-2zM19 108h1v1h-1zM21 108h1v1h-1zM0 109h1v1h-1zM23 109h1v1h-1zM7 111h1v1h-1zM22 111h1v1h-1zM4 112h1v1h-1zM2 113h1v1h-1zM13 113h1v1h-1zM21 113h1v1h-1zM6 115h1v1h-1zM8 115h2v1h-2zM16 115h1v1h-1zM16 116h1v1h-1zM1 117h1v1h-1zM10 117h1v1h-1zM21 117h1v1h-1zM3 118h1v1h-1zM22 118h1v1h-1zM4 120h1v1h-1zM15 122h1v1h-1zM1 123h1v1h-1zM5 125h1v1h-1zM13 128h1v1h-1zM2 129h1v1h-1zM18 129h1v1h-1zM10 131h1v1h-1zM0 133h2v1h-2zM3 133h1v1h-1zM1 135h1v1h-1zM14 135h1v1h-1zM0 137h1v1h-1zM9 138h1v1h-1zM16 138h1v1h-1zM4 140h1v1h-1zM15 142h1v1h-1zM3 143h1v1h-1zM12 143h1v1h-1zM5 144h1v1h-1zM7 144h1v1h-1zM1 149h2v1h-2zM7 150h1v1h-1zM9 150h1v1h-1zM20 150h1v1h-1zM8 151h1v1h-1zM3 152h1v1h-1zM16 153h1v1h-1zM20 153h1v1h-1zM2 154h1v1h-1zM16 154h1v1h-1zM4 155h1v1h-1zM20 155h1v1h-1zM0 156h1v1h-1zM6 156h1v1h-1zM12 156h1v1h-1zM3 157h1v1h-1zM21 158h1v1h-1zM1 159h1v1h-1zM10 159h1v1h-1zM0 161h1v1h-1zM5 162h1v1h-1zM7 162h1v1h-1zM23 162h1v1h-1zM9 163h1v1h-1zM14 163h1v1h-1zM18 163h1v1h-1zM1 164h1v1h-1zM10 164h1v1h-1zM16 166h1v1h-1zM3 167h1v1h-1zM1 168h1v1h-1zM4 169h1v1h-1zM7 169h1v1h-1zM1 170h1v1h-1zM3 170h1v1h-1zM12 170h1v1h-1zM20 170h1v1h-1zM8 171h1v1h-1zM13 172h1v1h-1zM16 172h1v1h-1zM3 173h1v1h-1zM5 173h1v1h-1zM9 173h1v1h-1zM14 174h1v1h-1zM1 176h1v1h-1zM1 177h1v1h-1zM11 177h1v1h-1zM0 180h1v1h-1zM5 180h1v1h-1zM16 180h1v1h-1zM0 181h1v1h-1zM18 181h1v1h-1zM4 182h1v1h-1zM23 182h1v1h-1zM8 183h2v1h-2zM18 183h1v1h-1zM2 184h2v1h-2zM2 185h1v1h-1zM19 185h1v1h-1zM11 186h2v1h-2zM5 187h1v1h-1zM16 187h1v1h-1zM0 188h1v1h-1zM10 188h1v1h-1zM23 188h1v1h-1zM6 190h1v1h-1zM12 190h1v1h-1zM1 191h1v1h-1zM4 191h1v1h-1zM6 191h1v1h-1zM4 192h1v1h-1zM12 192h1v1h-1zM20 192h1v1h-1zM2 194h1v1h-1zM6 194h1v1h-1zM12 194h1v1h-1zM14 195h1v1h-1zM2 196h1v1h-1zM8 196h1v1h-1zM18 196h1v1h-1zM1 197h1v1h-1zM4 197h1v1h-1zM18 197h1v1h-1zM5 198h1v1h-1zM2 199h1v1h-1zM19 201h1v1h-1zM4 202h1v1h-1zM11 202h1v1h-1zM16 202h1v1h-1zM7 203h1v1h-1zM10 203h2v1h-2zM21 203h1v1h-1zM21 204h1v1h-1zM0 205h2v1h-2zM8 205h1v1h-1zM23 205h1v1h-1zM8 206h1v1h-1zM22 206h1v1h-1zM2 208h1v1h-1zM15 208h1v1h-1zM18 208h1v1h-1zM10 209h1v1h-1zM19 209h1v1h-1zM7 210h1v1h-1zM15 210h1v1h-1zM9 212h1v1h-1zM2 213h2v1h-2zM9 214h1v1h-1zM22 214h1v1h-1zM6 215h1v1h-1zM14 215h1v1h-1zM18 215h1v1h-1zM3 220h1v1h-1zM7 220h1v1h-1zM11 220h1v1h-1zM14 220h1v1h-1zM17 220h2v1h-2zM2 221h1v1h-1zM4 221h1v1h-1zM5 222h1v1h-1zM15 224h1v1h-1zM0 225h1v1h-1zM3 226h1v1h-1zM21 226h1v1h-1zM0 227h2v1h-2zM8 227h1v1h-1zM14 227h1v1h-1zM7 229h1v1h-1zM23 229h1v1h-1zM0 230h1v1h-1zM3 230h1v1h-1zM12 231h1v1h-1zM16 231h1v1h-1zM21 231h1v1h-1zM0 232h1v1h-1zM21 232h2v1h-2zM13 234h1v1h-1zM8 235h1v1h-1zM2 236h1v1h-1zM8 238h1v1h-1zM10 238h1v1h-1zM16 238h1v1h-1zM19 238h1v1h-1zM3 239h1v1h-1zM6 239h1v1h-1zM11 239h1v1h-1zM2 241h1v1h-1zM12 241h1v1h-1zM20 241h1v1h-1zM6 242h1v1h-1zM9 242h2v1h-2zM4 244h1v1h-1zM8 244h1v1h-1zM5 245h1v1h-1zM0 246h1v1h-1zM0 247h1v1h-1zM2 248h1v1h-1zM7 248h1v1h-1zM9 248h1v1h-1zM2 249h1v1h-1zM7 249h1v1h-1zM2 250h1v1h-1zM9 251h1v1h-1zM14 251h1v1h-1zM9 252h1v1h-1zM10 254h1v1h-1zM21 256h1v1h-1zM23 256h1v1h-1zM7 257h1v1h-1zM10 258h1v1h-1zM17 258h1v1h-1zM22 259h2v1h-2zM1 261h1v1h-1zM3 261h2v1h-2zM17 261h1v1h-1zM23 262h1v1h-1zM3 263h1v1h-1zM17 263h1v1h-1zM6 264h1v1h-1zM17 264h1v1h-1zM0 266h1v1h-1zM11 266h1v1h-1zM5 270h1v1h-1zM1 271h1v1h-1zM0 272h1v1h-1zM2 272h1v1h-1zM4 273h1v1h-1zM19 273h1v1h-1zM21 273h2v1h-2zM13 274h1v1h-1zM12 275h1v1h-1zM19 277h1v1h-1zM3 278h2v1h-2zM9 278h1v1h-1zM2 279h1v1h-1zM4 279h1v1h-1zM20 279h1v1h-1zM0 281h1v1h-1zM10 281h1v1h-1zM9 282h1v1h-1zM8 283h1v1h-1zM1 284h1v1h-1zM15 284h1v1h-1zM12 285h1v1h-1zM16 286h1v1h-1zM8 287h1v1h-1zM5 288h1v1h-1zM3 289h1v1h-1zM14 289h1v1h-1zM7 291h1v1h-1zM12 291h1v1h-1zM20 291h1v1h-1zM0 292h1v1h-1zM16 292h1v1h-1zM4 293h1v1h-1zM15 293h1v1h-1zM19 293h1v1h-1zM3 295h1v1h-1zM14 295h1v1h-1zM21 295h1v1h-1zM21 297h1v1h-1zM5 298h1v1h-1zM0 299h1v1h-1zM4 299h1v1h-1zM0 300h1v1h-1zM12 301h1v1h-1zM7 302h1v1h-1zM12 302h1v1h-1zM8 303h1v1h-1zM20 303h1v1h-1zM23 303h1v1h-1zM2 305h1v1h-1zM13 305h1v1h-1zM18 305h1v1h-1zM9 306h1v1h-1zM2 307h1v1h-1zM16 307h1v1h-1zM2 309h1v1h-1zM13 310h1v1h-1zM2 311h1v1h-1zM21 311h1v1h-1zM5 312h1v1h-1zM23 312h1v1h-1zM8 314h1v1h-1zM12 314h1v1h-1zM11 315h1v1h-1zM22 317h1v1h-1zM4 318h1v1h-1zM3 319h1v1h-1zM9 319h1v1h-1zM23 319h1v1h-1zM1 320h1v1h-1zM16 320h1v1h-1zM3 321h2v1h-2zM2 322h1v1h-1zM17 322h1v1h-1zM23 322h1v1h-1zM15 323h1v1h-1zM11 324h1v1h-1zM7 325h1v1h-1zM18 327h1v1h-1zM21 327h1v1h-1zM5 328h1v1h-1zM23 328h1v1h-1zM0 329h1v1h-1zM11 330h1v1h-1zM18 330h1v1h-1zM6 331h1v1h-1zM10 331h1v1h-1zM22 333h1v1h-1zM6 334h1v1h-1zM19 335h1v1h-1zM2 337h1v1h-1zM2 338h1v1h-1zM10 338h1v1h-1zM10 339h1v1h-1zM9 340h1v1h-1zM22 340h1v1h-1zM4 341h2v1h-2zM15 341h1v1h-1zM0 342h1v1h-1zM7 342h2v1h-2zM6 343h1v1h-1zM14 343h1v1h-1zM20 344h1v1h-1zM11 345h1v1h-1zM2 346h1v1h-1zM8 346h1v1h-1zM17 346h1v1h-1zM1 348h1v1h-1zM5 348h1v1h-1zM11 348h1v1h-1zM5 349h1v1h-1zM2 350h2v1h-2zM9 351h1v1h-1zM17 352h1v1h-1zM0 354h1v1h-1zM7 354h1v1h-1zM11 354h1v1h-1zM17 355h1v1h-1zM15 356h1v1h-1zM23 356h1v1h-1zM5 357h1v1h-1zM8 357h1v1h-1zM11 358h1v1h-1zM15 358h1v1h-1zM19 358h1v1h-1zM13 359h1v1h-1zM18 359h1v1h-1zM17 361h1v1h-1zM18 362h1v1h-1zM0 363h1v1h-1zM23 363h1v1h-1zM1 364h1v1h-1zM8 364h1v1h-1zM7 365h1v1h-1zM16 365h1v1h-1zM5 366h1v1h-1zM9 366h1v1h-1zM2 368h1v1h-1zM1 369h1v1h-1zM1 370h1v1h-1zM3 370h1v1h-1zM6 372h2v1h-2zM4 373h1v1h-1zM7 373h1v1h-1zM21 374h1v1h-1zM20 375h1v1h-1zM0 376h1v1h-1zM4 376h2v1h-2zM10 376h1v1h-1zM2 379h1v1h-1zM2 381h2v1h-2zM9 381h1v1h-1zM18 381h1v1h-1zM1 382h1v1h-1zM16 382h1v1h-1zM0 383h3v1h-3zM18 383h1v1h-1zM12 385h1v1h-1zM7 386h1v1h-1zM4 387h2v1h-2zM12 387h1v1h-1zM2 390h1v1h-1zM5 390h1v1h-1zM21 390h1v1h-1zM12 392h2v1h-2zM20 392h2v1h-2zM9 393h1v1h-1zM18 393h1v1h-1zM6 394h1v1h-1zM14 396h1v1h-1zM9 398h2v1h-2zM12 400h1v1h-1zM19 400h1v1h-1zM4 403h1v1h-1zM7 403h1v1h-1zM9 403h1v1h-1zM20 403h1v1h-1zM13 404h2v1h-2zM1 405h1v1h-1zM16 405h1v1h-1zM5 406h1v1h-1zM2 407h1v1h-1zM0 409h1v1h-1zM2 409h1v1h-1zM6 409h1v1h-1zM1 410h1v1h-1zM20 410h1v1h-1zM3 411h1v1h-1zM2 412h1v1h-1zM10 412h2v1h-2zM0 413h1v1h-1zM9 413h2v1h-2zM21 413h1v1h-1zM2 414h1v1h-1zM5 415h1v1h-1zM2 417h1v1h-1zM7 417h1v1h-1zM2 418h1v1h-1zM17 418h1v1h-1zM12 420h1v1h-1zM12 422h1v1h-1zM0 423h1v1h-1zM5 424h1v1h-1zM19 424h1v1h-1zM17 425h2v1h-2zM5 426h1v1h-1zM13 426h1v1h-1zM16 427h1v1h-1zM8 428h1v1h-1zM2 429h2v1h-2zM16 429h1v1h-1zM0 430h1v1h-1zM0 431h1v1h-1zM3 431h1v1h-1zM0 432h1v1h-1zM9 432h1v1h-1zM11 432h1v1h-1zM14 432h1v1h-1zM6 433h1v1h-1zM9 433h1v1h-1zM1 434h3v1h-3zM12 434h1v1h-1zM2 435h2v1h-2zM13 435h1v1h-1zM17 436h1v1h-1zM22 436h1v1h-1zM2 437h1v1h-1zM14 437h1v1h-1zM16 438h1v1h-1zM7 440h1v1h-1zM0 441h1v1h-1zM11 441h1v1h-1zM13 441h1v1h-1zM19 442h2v1h-2zM16 443h2v1h-2zM8 444h1v1h-1zM1 445h1v1h-1zM6 446h1v1h-1zM15 446h1v1h-1zM2 447h1v1h-1zM7 447h1v1h-1zM13 447h1v1h-1zM1 448h1v1h-1zM3 448h1v1h-1zM8 448h1v1h-1zM1 449h1v1h-1zM20 449h1v1h-1zM14 450h1v1h-1zM21 450h1v1h-1zM7 451h1v1h-1zM0 452h1v1h-1zM0 453h1v1h-1zM4 454h1v1h-1zM7 454h2v1h-2zM17 454h1v1h-1zM14 455h1v1h-1zM21 455h1v1h-1zM3 456h1v1h-1zM21 456h1v1h-1zM21 457h1v1h-1zM1 458h1v1h-1zM18 458h1v1h-1zM5 459h1v1h-1zM16 460h1v1h-1zM0 461h1v1h-1zM18 461h1v1h-1zM21 461h1v1h-1zM3 462h1v1h-1zM8 462h1v1h-1zM15 463h1v1h-1zM1 465h1v1h-1zM0 466h1v1h-1zM2 466h1v1h-1zM16 466h1v1h-1zM1 467h1v1h-1zM3 467h1v1h-1zM1 468h2v1h-2zM19 469h1v1h-1zM23 469h1v1h-1zM7 470h1v1h-1zM14 470h1v1h-1zM0 471h1v1h-1zM4 471h1v1h-1zM2 472h1v1h-1zM17 472h1v1h-1zM21 472h1v1h-1zM6 473h1v1h-1zM22 473h1v1h-1zM0 474h1v1h-1zM16 474h1v1h-1zM15 476h1v1h-1zM22 476h1v1h-1zM1 477h2v1h-2zM7 478h1v1h-1zM1 479h1v1h-1zM18 479h1v1h-1zM15 481h1v1h-1zM21 481h2v1h-2zM0 484h1v1h-1zM10 485h1v1h-1zM16 485h2v1h-2zM0 487h1v1h-1zM13 487h1v1h-1zM16 488h1v1h-1zM21 488h1v1h-1zM6 490h1v1h-1zM12 491h1v1h-1zM0 493h1v1h-1zM20 493h1v1h-1zM3 494h1v1h-1zM10 494h1v1h-1zM19 496h1v1h-1zM10 497h1v1h-1zM23 497h1v1h-1zM6 499h1v1h-1zM7 500h1v1h-1zM14 501h2v1h-2zM21 501h1v1h-1zM17 502h1v1h-1zM14 505h1v1h-1zM23 505h1v1h-1zM2 506h1v1h-1zM9 506h1v1h-1zM16 506h1v1h-1zM13 507h1v1h-1zM20 507h1v1h-1zM4 508h1v1h-1zM16 509h1v1h-1zM3 510h1v1h-1zM5 510h1v1h-1zM2 512h1v1h-1zM0 513h1v1h-1zM4 514h1v1h-1zM13 514h1v1h-1zM21 514h1v1h-1zM3 515h1v1h-1zM22 515h1v1h-1zM0 516h1v1h-1zM21 517h1v1h-1zM3 519h1v1h-1zM11 519h1v1h-1zM5 520h1v1h-1zM9 523h1v1h-1zM20 524h1v1h-1zM7 527h1v1h-1zM11 527h1v1h-1zM18 527h1v1h-1zM8 530h1v1h-1zM22 530h1v1h-1zM9 531h1v1h-1zM16 531h1v1h-1zM3 532h1v1h-1zM13 532h1v1h-1zM6 535h1v1h-1zM9 536h1v1h-1zM19 537h1v1h-1zM22 539h1v1h-1zM22 541h1v1h-1zM0 543h1v1h-1zM11 543h1v1h-1zM1 544h1v1h-1zM3 544h1v1h-1zM7 546h1v1h-1zM20 546h1v1h-1zM11 547h2v1h-2zM4 548h1v1h-1zM20 548h1v1h-1zM16 551h1v1h-1zM1 555h1v1h-1zM8 556h1v1h-1zM10 556h1v1h-1z"/>
<path fill="#c0ccfc" d="M7 1h1v1h-1zM14 7h1v1h-1zM13 13h1v1h-1zM21 19h1v1h-1zM17 22h1v1h-1zM16 24h1v1h-1zM14 27h1v1h-1zM12 35h1v1h-1zM7 40h1v1h-1zM11 42h1v1h-1zM12 44h1v1h-1zM23 48h1v1h-1zM6 61h1v1h-1zM12 67h1v1h-1zM15 87h1v1h-1zM23 91h1v1h-1zM20 97h1v1h-1zM6 98h1v1h-1zM3 104h1v1h-1zM19 105h1v1h-1zM14 107h1v1h-1zM4 110h1v1h-1zM12 114h1v1h-1zM22 115h1v1h-1zM6 121h1v1h-1zM3 126h1v1h-1zM5 127h1v1h-1zM3 129h1v1h-1zM7 139h1v1h-1zM4 141h1v1h-1zM16 146h1v1h-1zM20 148h1v1h-1zM3 150h1v1h-1zM5 150h1v1h-1zM22 159h1v1h-1zM5 160h1v1h-1zM5 161h1v1h-1zM0 163h1v1h-1zM7 172h1v1h-1zM17 177h1v1h-1zM11 183h1v1h-1zM4 185h1v1h-1zM11 188h1v1h-1zM12 193h1v1h-1zM6 195h1v1h-1zM11 195h2v1h-2zM2 198h1v1h-1zM10 199h1v1h-1zM5 201h1v1h-1zM11 227h1v1h-1zM0 228h1v1h-1zM18 231h1v1h-1zM0 233h1v1h-1zM5 236h1v1h-1zM2 239h1v1h-1zM20 249h1v1h-1zM4 252h1v1h-1zM9 253h2v1h-2zM5 254h1v1h-1zM3 260h1v1h-1zM0 267h1v1h-1zM3 267h2v1h-2zM11 267h1v1h-1zM5 271h1v1h-1zM2 274h1v1h-1zM6 279h1v1h-1zM14 279h1v1h-1zM3 282h1v1h-1zM5 286h1v1h-1zM17 293h1v1h-1zM0 296h1v1h-1zM17 301h1v1h-1zM10 304h1v1h-1zM13 307h2v1h-2zM5 308h1v1h-1zM20 311h1v1h-1zM13 318h1v1h-1zM7 332h1v1h-1zM1 341h1v1h-1zM23 341h1v1h-1zM17 344h1v1h-1zM3 346h1v1h-1zM11 347h1v1h-1zM23 348h1v1h-1zM0 349h1v1h-1zM0 358h1v1h-1zM0 360h1v1h-1zM0 371h1v1h-1zM10 372h1v1h-1zM14 373h1v1h-1zM15 376h1v1h-1zM17 379h1v1h-1zM10 380h1v1h-1zM21 380h1v1h-1zM0 382h1v1h-1zM20 388h1v1h-1zM16 400h1v1h-1zM15 404h1v1h-1zM11 405h1v1h-1zM4 408h1v1h-1zM5 413h1v1h-1zM1 417h1v1h-1zM3 417h1v1h-1zM2 419h1v1h-1zM3 421h1v1h-1zM21 424h1v1h-1zM3 427h1v1h-1zM8 430h1v1h-1zM4 431h1v1h-1zM4 433h1v1h-1zM15 433h1v1h-1zM22 434h1v1h-1zM11 438h1v1h-1zM15 441h1v1h-1zM2 443h1v1h-1zM23 443h1v1h-1zM3 449h1v1h-1zM17 458h1v1h-1zM7 460h1v1h-1zM3 461h1v1h-1zM1 464h1v1h-1zM17 469h1v1h-1zM20 470h1v1h-1zM18 480h1v1h-1zM5 484h1v1h-1zM4 485h1v1h-1zM2 492h1v1h-1zM17 500h1v1h-1zM7 502h1v1h-1zM10 502h1v1h-1zM18 502h1v1h-1zM22 502h1v1h-1zM4 504h1v1h-1zM4 509h1v1h-1zM9 510h1v1h-1zM11 513h1v1h-1zM5 514h1v1h-1zM17 527h1v1h-1zM0 528h1v1h-1zM5 541h1v1h-1zM16 543h1v1h-1zM10 554h1v1h-1z"/>
<path fill="#9c9cf0" d="M8 1h1v1h-1zM16 2h1v1h-1zM11 3h1v1h-1zM7 5h1v1h-1zM11 5h2v1h-2zM10 6h1v1h-1zM6 7h1v1h-1zM15 9h1v1h-1zM12 11h1v1h-1zM15 11h1v1h-1zM7 12h1v1h-1zM17 13h1v1h-1zM9 15h1v1h-1zM22 15h1v1h-1zM12 16h1v1h-1zM16 18h1v1h-1zM15 21h1v1h-1zM22 21h1v1h-1zM7 25h1v1h-1zM6 32h1v1h-1zM6 33h1v1h-1zM23 33h1v1h-1zM19 37h1v1h-1zM17 38h2v1h-2zM6 40h1v1h-1zM15 40h1v1h-1zM9 46h1v1h-1zM17 48h1v1h-1zM19 48h1v1h-1zM19 51h1v1h-1zM22 51h1v1h-1zM18 53h1v1h-1zM7 54h1v1h-1zM14 55h1v1h-1zM19 60h1v1h-1zM13 62h1v1h-1zM12 63h1v1h-1zM14 63h1v1h-1zM20 63h1v1h-1zM21 66h1v1h-1zM9 68h1v1h-1zM19 70h1v1h-1zM9 74h1v1h-1zM14 74h1v1h-1zM19 76h1v1h-1zM6 77h1v1h-1zM9 79h1v1h-1zM11 83h1v1h-1zM12 85h1v1h-1zM22 85h1v1h-1zM7 91h2v1h-2zM19 94h1v1h-1zM9 99h1v1h-1zM6 110h1v1h-1zM5 114h1v1h-1zM22 114h1v1h-1zM4 123h1v1h-1zM2 130h1v1h-1zM15 135h1v1h-1zM4 136h1v1h-1zM3 137h1v1h-1zM11 137h1v1h-1zM4 138h1v1h-1zM15 139h1v1h-1zM18 140h1v1h-1zM5 141h1v1h-1zM11 142h1v1h-1zM3 144h1v1h-1zM0 149h1v1h-1zM4 149h1v1h-1zM13 150h1v1h-1zM1 155h1v1h-1zM3 155h1v1h-1zM5 156h1v1h-1zM13 159h1v1h-1zM5 163h1v1h-1zM5 164h1v1h-1zM15 168h1v1h-1zM6 173h1v1h-1zM10 174h1v1h-1zM0 175h1v1h-1zM5 176h1v1h-1zM5 177h1v1h-1zM3 178h1v1h-1zM2 180h1v1h-1zM5 181h1v1h-1zM1 185h1v1h-1zM4 187h1v1h-1zM8 190h1v1h-1zM10 191h1v1h-1zM4 195h1v1h-1zM1 196h1v1h-1zM3 200h1v1h-1zM1 201h1v1h-1zM2 206h1v1h-1zM5 210h1v1h-1zM5 217h1v1h-1zM9 220h1v1h-1zM5 223h1v1h-1zM2 229h1v1h-1zM5 230h1v1h-1zM2 233h1v1h-1zM7 233h1v1h-1zM3 234h1v1h-1zM5 234h1v1h-1zM3 235h1v1h-1zM3 237h1v1h-1zM5 238h1v1h-1zM4 240h1v1h-1zM1 243h1v1h-1zM15 243h1v1h-1zM5 248h1v1h-1zM5 249h1v1h-1zM16 250h1v1h-1zM5 253h1v1h-1zM10 260h1v1h-1zM2 262h1v1h-1zM4 262h1v1h-1zM4 265h1v1h-1zM1 266h1v1h-1zM2 270h1v1h-1zM23 273h1v1h-1zM4 283h1v1h-1zM22 285h1v1h-1zM11 286h1v1h-1zM0 289h1v1h-1zM13 290h1v1h-1zM3 292h1v1h-1zM13 293h1v1h-1zM12 296h1v1h-1zM5 299h1v1h-1zM13 303h1v1h-1zM3 309h1v1h-1zM22 312h1v1h-1zM4 314h1v1h-1zM3 316h1v1h-1zM5 320h1v1h-1zM3 323h1v1h-1zM5 326h1v1h-1zM5 327h1v1h-1zM5 329h1v1h-1zM5 331h1v1h-1zM3 334h1v1h-1zM17 336h1v1h-1zM19 341h1v1h-1zM5 342h1v1h-1zM3 343h1v1h-1zM1 346h1v1h-1zM21 352h1v1h-1zM4 353h1v1h-1zM3 357h1v1h-1zM5 358h1v1h-1zM17 359h1v1h-1zM2 360h1v1h-1zM20 366h1v1h-1zM5 367h1v1h-1zM23 368h1v1h-1zM12 373h1v1h-1zM2 374h1v1h-1zM5 374h1v1h-1zM2 375h2v1h-2zM10 378h1v1h-1zM1 380h1v1h-1zM5 380h1v1h-1zM5 383h1v1h-1zM1 385h1v1h-1zM13 390h1v1h-1zM2 392h1v1h-1zM4 394h1v1h-1zM16 396h1v1h-1zM3 398h1v1h-1zM5 404h1v1h-1zM2 405h1v1h-1zM5 405h1v1h-1zM1 406h1v1h-1zM5 410h1v1h-1zM3 414h1v1h-1zM12 414h1v1h-1zM5 416h1v1h-1zM5 417h1v1h-1zM5 418h1v1h-1zM5 423h1v1h-1zM4 427h1v1h-1zM14 429h1v1h-1zM18 431h1v1h-1zM8 434h1v1h-1zM22 439h1v1h-1zM12 440h1v1h-1zM5 447h1v1h-1zM19 447h1v1h-1zM4 448h1v1h-1zM4 449h1v1h-1zM16 449h1v1h-1zM1 451h1v1h-1zM3 454h1v1h-1zM2 457h1v1h-1zM5 457h1v1h-1zM0 458h1v1h-1zM5 466h1v1h-1zM7 467h1v1h-1zM9 467h1v1h-1zM1 469h1v1h-1zM10 470h1v1h-1zM4 474h1v1h-1zM20 474h1v1h-1zM23 478h1v1h-1zM0 481h1v1h-1zM3 482h1v1h-1zM3 484h1v1h-1zM7 485h1v1h-1zM4 486h1v1h-1zM5 489h1v1h-1zM1 490h1v1h-1zM11 491h1v1h-1zM23 495h1v1h-1zM16 496h1v1h-1zM20 496h1v1h-1zM2 497h1v1h-1zM5 498h1v1h-1zM19 498h1v1h-1zM1 500h1v1h-1zM5 500h1v1h-1zM20 500h1v1h-1zM4 501h1v1h-1zM3 508h1v1h-1zM21 510h1v1h-1zM5 512h1v1h-1zM3 516h1v1h-1zM3 517h1v1h-1zM12 517h1v1h-1zM3 521h1v1h-1zM4 523h1v1h-1zM4 524h1v1h-1zM0 526h1v1h-1zM4 531h1v1h-1zM4 532h1v1h-1zM21 534h1v1h-1zM14 535h1v1h-1zM5 537h1v1h-1zM4 539h1v1h-1zM13 539h1v1h-1zM3 547h1v1h-1zM5 550h1v1h-1zM18 550h1v1h-1zM2 551h1v1h-1z"/>
<path fill="#a8b4f0" d="M9 1h1v1h-1zM17 12h1v1h-1zM12 28h1v1h-1zM10 50h1v1h-1zM17 58h1v1h-1zM7 68h1v1h-1zM17 78h1v1h-1zM5 97h1v1h-1zM20 99h1v1h-1zM7 101h1v1h-1zM6 118h1v1h-1zM1 121h1v1h-1zM4 132h1v1h-1zM4 167h1v1h-1zM21 169h1v1h-1zM20 171h1v1h-1zM13 176h1v1h-1zM5 206h1v1h-1zM0 215h1v1h-1zM11 250h1v1h-1zM1 265h1v1h-1zM17 271h1v1h-1zM4 281h1v1h-1zM2 287h1v1h-1zM17 287h1v1h-1zM11 294h1v1h-1zM4 307h1v1h-1zM0 319h1v1h-1zM4 342h1v1h-1zM13 351h1v1h-1zM20 351h1v1h-1zM5 354h1v1h-1zM3 374h1v1h-1zM4 383h1v1h-1zM17 397h1v1h-1zM4 406h1v1h-1zM1 408h1v1h-1zM3 412h1v1h-1zM12 445h1v1h-1zM0 448h1v1h-1zM1 454h1v1h-1zM9 454h1v1h-1zM4 468h1v1h-1zM11 495h1v1h-1zM1 497h1v1h-1zM0 511h1v1h-1zM17 537h1v1h-1zM5 542h1v1h-1zM21 546h1v1h-1zM8 552h1v1h-1zM12 556h1v1h-1z"/>
<path fill="#ccccfc" d="M10 1h1v1h-1zM8 3h1v1h-1zM11 8h1v1h-1zM18 8h1v1h-1zM20 11h1v1h-1zM23 12h1v1h-1zM6 13h1v1h-1zM16 13h1v1h-1zM15 17h1v1h-1zM10 23h1v1h-1zM23 23h1v1h-1zM10 25h1v1h-1zM21 26h1v1h-1zM19 27h1v1h-1zM23 27h1v1h-1zM15 28h1v1h-1zM23 28h1v1h-1zM9 32h1v1h-1zM10 35h1v1h-1zM19 35h1v1h-1zM16 37h1v1h-1zM21 40h1v1h-1zM6 42h1v1h-1zM9 43h1v1h-1zM16 43h1v1h-1zM21 44h1v1h-1zM7 46h1v1h-1zM23 46h1v1h-1zM15 48h1v1h-1zM22 48h1v1h-1zM7 51h1v1h-1zM8 56h2v1h-2zM11 59h1v1h-1zM14 59h1v1h-1zM12 60h1v1h-1zM12 61h1v1h-1zM14 62h1v1h-1zM9 66h1v1h-1zM18 66h1v1h-1zM9 67h1v1h-1zM14 67h1v1h-1zM17 67h1v1h-1zM23 68h1v1h-1zM6 69h1v1h-1zM17 69h1v1h-1zM21 72h1v1h-1zM11 73h1v1h-1zM6 74h1v1h-1zM21 74h1v1h-1zM8 75h1v1h-1zM13 76h1v1h-1zM17 76h1v1h-1zM22 76h1v1h-1zM16 77h1v1h-1zM11 78h1v1h-1zM17 79h1v1h-1zM6 80h1v1h-1zM16 81h1v1h-1zM12 82h1v1h-1zM12 83h1v1h-1zM17 83h1v1h-1zM17 84h1v1h-1zM16 89h1v1h-1zM6 90h1v1h-1zM15 90h1v1h-1zM20 90h1v1h-1zM16 91h1v1h-1zM7 92h1v1h-1zM22 92h1v1h-1zM14 94h1v1h-1zM16 99h1v1h-1zM3 100h1v1h-1zM15 100h1v1h-1zM2 101h1v1h-1zM16 101h1v1h-1zM18 101h1v1h-1zM16 102h1v1h-1zM9 105h1v1h-1zM0 108h1v1h-1zM3 108h1v1h-1zM16 109h1v1h-1zM0 110h1v1h-1zM3 111h1v1h-1zM2 114h1v1h-1zM1 116h1v1h-1zM3 116h2v1h-2zM19 116h1v1h-1zM20 117h1v1h-1zM10 118h1v1h-1zM17 118h1v1h-1zM5 119h1v1h-1zM13 119h1v1h-1zM3 120h1v1h-1zM9 120h1v1h-1zM3 121h1v1h-1zM16 123h1v1h-1zM11 125h1v1h-1zM16 125h1v1h-1zM21 125h1v1h-1zM1 127h1v1h-1zM3 127h2v1h-2zM21 127h1v1h-1zM0 128h1v1h-1zM10 128h1v1h-1zM18 128h1v1h-1zM0 130h1v1h-1zM3 131h1v1h-1zM19 131h1v1h-1zM0 132h1v1h-1zM10 132h1v1h-1zM9 133h1v1h-1zM14 133h1v1h-1zM16 135h2v1h-2zM2 138h1v1h-1zM12 138h1v1h-1zM3 140h1v1h-1zM17 140h1v1h-1zM0 142h1v1h-1zM5 143h1v1h-1zM0 144h1v1h-1zM2 145h1v1h-1zM5 146h1v1h-1zM2 147h1v1h-1zM5 147h1v1h-1zM15 148h1v1h-1zM0 150h1v1h-1zM4 150h1v1h-1zM21 150h1v1h-1zM0 152h1v1h-1zM15 152h1v1h-1zM17 152h3v1h-3zM9 154h1v1h-1zM6 155h1v1h-1zM13 158h1v1h-1zM18 158h1v1h-1zM4 159h1v1h-1zM3 160h1v1h-1zM15 160h1v1h-1zM1 163h1v1h-1zM4 163h1v1h-1zM7 163h1v1h-1zM13 163h1v1h-1zM23 164h1v1h-1zM3 166h1v1h-1zM5 166h1v1h-1zM9 167h1v1h-1zM8 168h1v1h-1zM17 169h1v1h-1zM19 169h1v1h-1zM0 171h2v1h-2zM22 171h1v1h-1zM10 172h1v1h-1zM22 172h1v1h-1zM2 174h3v1h-3zM15 174h1v1h-1zM1 175h1v1h-1zM3 177h1v1h-1zM13 178h1v1h-1zM18 178h1v1h-1zM17 180h1v1h-1zM9 181h1v1h-1zM13 182h1v1h-1zM19 182h1v1h-1zM0 184h1v1h-1zM9 184h1v1h-1zM17 185h1v1h-1zM1 188h1v1h-1zM4 189h1v1h-1zM19 190h1v1h-1zM0 191h1v1h-1zM9 191h1v1h-1zM2 192h1v1h-1zM14 192h1v1h-1zM2 193h1v1h-1zM11 193h1v1h-1zM9 195h1v1h-1zM18 195h1v1h-1zM23 195h1v1h-1zM14 198h1v1h-1zM17 198h2v1h-2zM16 199h1v1h-1zM1 200h2v1h-2zM4 201h1v1h-1zM0 202h1v1h-1zM13 202h1v1h-1zM5 204h1v1h-1zM18 206h1v1h-1zM21 206h1v1h-1zM23 207h1v1h-1zM3 208h1v1h-1zM6 208h1v1h-1zM14 208h1v1h-1zM16 209h1v1h-1zM0 210h1v1h-1zM3 210h1v1h-1zM0 212h1v1h-1zM3 212h1v1h-1zM12 213h1v1h-1zM22 213h1v1h-1zM0 214h1v1h-1zM4 214h1v1h-1zM19 214h1v1h-1zM13 215h1v1h-1zM21 215h1v1h-1zM5 216h1v1h-1zM11 216h1v1h-1zM10 217h1v1h-1zM13 217h1v1h-1zM0 218h1v1h-1zM13 218h1v1h-1zM3 219h1v1h-1zM6 219h1v1h-1zM18 219h1v1h-1zM4 220h2v1h-2zM10 222h2v1h-2zM23 222h1v1h-1zM14 223h1v1h-1zM21 223h1v1h-1zM2 226h1v1h-1zM4 226h1v1h-1zM16 227h1v1h-1zM2 228h1v1h-1zM10 228h1v1h-1zM9 229h1v1h-1zM6 232h1v1h-1zM17 232h1v1h-1zM5 235h1v1h-1zM1 236h1v1h-1zM1 237h1v1h-1zM3 238h1v1h-1zM7 238h1v1h-1zM13 238h1v1h-1zM23 239h1v1h-1zM1 240h1v1h-1zM4 242h1v1h-1zM11 242h1v1h-1zM14 243h1v1h-1zM2 244h2v1h-2zM5 244h1v1h-1zM0 245h1v1h-1zM3 245h1v1h-1zM22 245h1v1h-1zM14 248h1v1h-1zM3 249h1v1h-1zM3 250h1v1h-1zM7 250h1v1h-1zM20 250h1v1h-1zM1 251h1v1h-1zM3 251h1v1h-1zM17 251h1v1h-1zM7 253h1v1h-1zM20 253h1v1h-1zM2 254h1v1h-1zM12 255h1v1h-1zM18 255h1v1h-1zM13 256h1v1h-1zM2 257h1v1h-1zM15 257h1v1h-1zM17 257h1v1h-1zM9 258h1v1h-1zM18 258h1v1h-1zM20 258h1v1h-1zM1 259h2v1h-2zM0 260h1v1h-1zM8 262h1v1h-1zM12 262h2v1h-2zM20 263h1v1h-1zM23 263h1v1h-1zM0 264h1v1h-1zM9 265h1v1h-1zM15 265h1v1h-1zM17 265h1v1h-1zM17 267h1v1h-1zM4 268h1v1h-1zM12 269h1v1h-1zM20 269h1v1h-1zM3 270h1v1h-1zM14 270h1v1h-1zM0 271h1v1h-1zM1 274h1v1h-1zM7 274h1v1h-1zM17 274h1v1h-1zM1 275h1v1h-1zM2 276h1v1h-1zM5 277h1v1h-1zM10 277h1v1h-1zM1 278h2v1h-2zM15 278h1v1h-1zM1 279h1v1h-1zM22 279h1v1h-1zM0 280h1v1h-1zM2 280h1v1h-1zM6 280h1v1h-1zM2 281h1v1h-1zM13 281h1v1h-1zM0 282h1v1h-1zM3 284h1v1h-1zM14 284h1v1h-1zM17 285h1v1h-1zM2 286h1v1h-1zM9 286h1v1h-1zM6 289h1v1h-1zM12 292h1v1h-1zM21 292h1v1h-1zM8 294h1v1h-1zM2 296h1v1h-1zM4 296h1v1h-1zM17 298h1v1h-1zM1 299h1v1h-1zM1 300h1v1h-1zM10 300h1v1h-1zM13 300h1v1h-1zM20 300h1v1h-1zM11 301h1v1h-1zM0 302h1v1h-1zM2 302h1v1h-1zM5 302h1v1h-1zM19 303h1v1h-1zM2 304h1v1h-1zM18 304h2v1h-2zM14 306h1v1h-1zM2 308h1v1h-1zM2 310h1v1h-1zM5 310h1v1h-1zM16 312h1v1h-1zM18 312h1v1h-1zM7 313h1v1h-1zM16 313h1v1h-1zM1 314h1v1h-1zM3 315h1v1h-1zM1 317h2v1h-2zM4 317h1v1h-1zM22 319h1v1h-1zM0 321h1v1h-1zM3 322h1v1h-1zM14 323h1v1h-1zM22 323h1v1h-1zM3 324h1v1h-1zM14 324h2v1h-2zM0 326h2v1h-2zM20 326h1v1h-1zM19 327h1v1h-1zM3 328h1v1h-1zM17 329h1v1h-1zM2 330h1v1h-1zM3 331h1v1h-1zM8 333h1v1h-1zM0 335h1v1h-1zM0 336h1v1h-1zM2 336h1v1h-1zM4 336h1v1h-1zM11 336h1v1h-1zM3 337h1v1h-1zM17 337h1v1h-1zM7 338h1v1h-1zM1 339h1v1h-1zM14 339h1v1h-1zM22 339h1v1h-1zM20 340h1v1h-1zM6 341h1v1h-1zM17 341h1v1h-1zM2 342h1v1h-1zM19 343h1v1h-1zM1 345h1v1h-1zM4 346h1v1h-1zM2 348h1v1h-1zM4 348h1v1h-1zM13 348h1v1h-1zM21 348h1v1h-1zM4 350h2v1h-2zM20 350h1v1h-1zM15 351h1v1h-1zM10 353h1v1h-1zM3 354h1v1h-1zM8 354h1v1h-1zM10 355h1v1h-1zM10 356h1v1h-1zM2 357h1v1h-1zM13 358h1v1h-1zM2 359h1v1h-1zM20 361h1v1h-1zM12 363h1v1h-1zM2 366h1v1h-1zM1 368h1v1h-1zM21 368h1v1h-1zM0 369h1v1h-1zM11 369h1v1h-1zM0 370h1v1h-1zM19 373h1v1h-1zM0 374h1v1h-1zM22 374h1v1h-1zM0 375h1v1h-1zM10 375h2v1h-2zM1 376h1v1h-1zM3 376h1v1h-1zM18 376h1v1h-1zM2 378h1v1h-1zM4 378h1v1h-1zM9 379h1v1h-1zM23 380h1v1h-1zM17 382h1v1h-1zM22 382h1v1h-1zM0 385h1v1h-1zM2 385h1v1h-1zM5 385h1v1h-1zM12 386h1v1h-1zM18 386h1v1h-1zM0 387h1v1h-1zM2 387h1v1h-1zM11 388h1v1h-1zM18 388h1v1h-1zM2 389h1v1h-1zM1 390h1v1h-1zM4 391h2v1h-2zM23 392h1v1h-1zM1 393h1v1h-1zM20 393h1v1h-1zM0 394h1v1h-1zM13 395h1v1h-1zM19 395h1v1h-1zM6 396h1v1h-1zM1 397h1v1h-1zM4 399h1v1h-1zM15 399h2v1h-2zM1 400h1v1h-1zM12 401h1v1h-1zM23 401h1v1h-1zM21 402h1v1h-1zM5 403h1v1h-1zM8 403h1v1h-1zM7 404h1v1h-1zM14 405h1v1h-1zM15 406h1v1h-1zM17 407h1v1h-1zM21 407h1v1h-1zM17 408h1v1h-1zM5 409h1v1h-1zM1 411h1v1h-1zM21 411h1v1h-1zM8 412h1v1h-1zM18 412h1v1h-1zM20 413h1v1h-1zM0 414h1v1h-1zM14 414h1v1h-1zM16 414h1v1h-1zM1 416h1v1h-1zM4 417h1v1h-1zM15 417h1v1h-1zM18 417h1v1h-1zM14 418h1v1h-1zM18 418h1v1h-1zM5 419h1v1h-1zM2 421h1v1h-1zM11 421h1v1h-1zM3 424h1v1h-1zM12 427h1v1h-1zM19 428h1v1h-1zM11 430h1v1h-1zM15 430h1v1h-1zM9 431h1v1h-1zM15 431h1v1h-1zM10 432h1v1h-1zM2 433h1v1h-1zM20 433h1v1h-1zM4 434h1v1h-1zM11 434h1v1h-1zM4 435h1v1h-1zM1 436h1v1h-1zM15 436h1v1h-1zM1 437h1v1h-1zM4 438h1v1h-1zM2 439h1v1h-1zM7 439h1v1h-1zM17 439h1v1h-1zM5 442h1v1h-1zM13 442h1v1h-1zM23 442h1v1h-1zM3 443h1v1h-1zM4 444h1v1h-1zM10 444h1v1h-1zM0 445h1v1h-1zM2 445h1v1h-1zM23 445h1v1h-1zM0 446h1v1h-1zM23 446h1v1h-1zM8 447h1v1h-1zM12 447h1v1h-1zM9 448h1v1h-1zM8 449h1v1h-1zM2 450h1v1h-1zM23 450h1v1h-1zM4 451h2v1h-2zM5 453h1v1h-1zM0 454h1v1h-1zM18 454h1v1h-1zM13 456h1v1h-1zM19 456h1v1h-1zM17 457h1v1h-1zM8 458h1v1h-1zM0 459h1v1h-1zM0 460h1v1h-1zM10 460h1v1h-1zM5 461h1v1h-1zM4 462h1v1h-1zM0 463h1v1h-1zM2 463h1v1h-1zM0 467h1v1h-1zM16 468h1v1h-1zM3 469h1v1h-1zM1 470h1v1h-1zM5 470h1v1h-1zM3 471h1v1h-1zM5 472h1v1h-1zM7 472h1v1h-1zM2 473h1v1h-1zM12 473h1v1h-1zM15 473h1v1h-1zM20 473h1v1h-1zM1 474h1v1h-1zM3 475h1v1h-1zM9 477h2v1h-2zM19 477h1v1h-1zM23 477h1v1h-1zM0 478h1v1h-1zM3 478h1v1h-1zM10 478h1v1h-1zM5 479h1v1h-1zM4 483h1v1h-1zM4 484h1v1h-1zM9 485h1v1h-1zM9 486h1v1h-1zM14 488h2v1h-2zM22 488h1v1h-1zM2 489h1v1h-1zM0 491h1v1h-1zM3 491h1v1h-1zM19 491h1v1h-1zM21 491h1v1h-1zM4 492h1v1h-1zM1 493h1v1h-1zM5 493h1v1h-1zM0 494h1v1h-1zM7 494h1v1h-1zM5 495h1v1h-1zM13 495h1v1h-1zM16 495h1v1h-1zM12 497h1v1h-1zM18 497h1v1h-1zM23 498h1v1h-1zM4 499h1v1h-1zM7 499h1v1h-1zM10 500h1v1h-1zM19 500h1v1h-1zM21 500h1v1h-1zM10 501h1v1h-1zM6 502h1v1h-1zM12 502h1v1h-1zM2 503h1v1h-1zM14 503h1v1h-1zM16 503h1v1h-1zM2 504h1v1h-1zM22 504h1v1h-1zM5 505h1v1h-1zM11 505h1v1h-1zM2 507h1v1h-1zM10 508h1v1h-1zM0 509h1v1h-1zM2 509h1v1h-1zM5 509h1v1h-1zM2 511h1v1h-1zM7 511h1v1h-1zM12 511h1v1h-1zM17 511h1v1h-1zM1 512h1v1h-1zM18 512h1v1h-1zM1 513h1v1h-1zM22 513h1v1h-1zM6 514h1v1h-1zM19 514h1v1h-1zM1 516h1v1h-1zM4 516h1v1h-1zM8 516h1v1h-1zM21 518h1v1h-1zM1 519h1v1h-1zM2 520h1v1h-1zM3 522h2v1h-2zM16 522h1v1h-1zM3 524h1v1h-1zM8 524h1v1h-1zM5 525h1v1h-1zM1 527h2v1h-2zM1 528h1v1h-1zM0 531h1v1h-1zM1 532h2v1h-2zM12 532h1v1h-1zM20 532h1v1h-1zM2 535h1v1h-1zM0 537h1v1h-1zM18 537h1v1h-1zM0 538h1v1h-1zM16 538h1v1h-1zM2 539h1v1h-1zM5 540h1v1h-1zM13 541h1v1h-1zM3 542h1v1h-1zM6 542h1v1h-1zM11 544h1v1h-1zM18 544h1v1h-1zM0 545h1v1h-1zM1 547h1v1h-1zM0 548h1v1h-1zM5 551h1v1h-1zM19 551h1v1h-1zM0 552h1v1h-1zM12 552h1v1h-1zM2 553h1v1h-1zM4 555h1v1h-1zM1 556h1v1h-1zM3 556h1v1h-1z"/>
<path fill="#9090f0" d="M11 1h1v1h-1zM16 1h1v1h-1zM17 4h1v1h-1zM8 5h1v1h-1zM11 7h1v1h-1zM23 11h1v1h-1zM10 12h1v1h-1zM13 12h1v1h-1zM7 14h1v1h-1zM9 14h1v1h-1zM15 14h1v1h-1zM21 15h1v1h-1zM13 22h1v1h-1zM20 25h1v1h-1zM21 30h1v1h-1zM8 32h1v1h-1zM9 33h1v1h-1zM8 34h1v1h-1zM11 34h1v1h-1zM9 35h1v1h-1zM13 37h1v1h-1zM9 38h1v1h-1zM20 39h1v1h-1zM6 41h1v1h-1zM18 42h1v1h-1zM16 45h1v1h-1zM10 46h1v1h-1zM12 53h1v1h-1zM11 54h1v1h-1zM16 58h1v1h-1zM19 63h1v1h-1zM7 70h1v1h-1zM13 73h1v1h-1zM21 75h1v1h-1zM23 77h1v1h-1zM16 78h1v1h-1zM11 81h1v1h-1zM14 81h1v1h-1zM6 82h1v1h-1zM8 84h1v1h-1zM21 86h1v1h-1zM9 87h1v1h-1zM10 94h1v1h-1zM18 99h1v1h-1zM20 101h1v1h-1zM2 112h1v1h-1zM7 112h1v1h-1zM5 115h1v1h-1zM14 118h1v1h-1zM5 121h1v1h-1zM21 122h1v1h-1zM2 123h1v1h-1zM4 128h1v1h-1zM4 130h1v1h-1zM0 134h1v1h-1zM4 135h1v1h-1zM4 142h1v1h-1zM3 149h1v1h-1zM4 151h1v1h-1zM0 153h1v1h-1zM5 155h1v1h-1zM17 159h1v1h-1zM5 167h1v1h-1zM3 169h1v1h-1zM4 170h1v1h-1zM3 171h1v1h-1zM5 171h1v1h-1zM17 172h1v1h-1zM4 173h1v1h-1zM5 182h1v1h-1zM5 186h1v1h-1zM11 187h1v1h-1zM2 189h1v1h-1zM5 189h1v1h-1zM7 190h1v1h-1zM3 193h1v1h-1zM5 194h1v1h-1zM22 196h1v1h-1zM11 198h1v1h-1zM4 199h1v1h-1zM5 208h1v1h-1zM3 215h1v1h-1zM3 216h1v1h-1zM2 218h1v1h-1zM5 218h1v1h-1zM1 223h1v1h-1zM1 224h1v1h-1zM2 231h1v1h-1zM3 233h1v1h-1zM17 233h1v1h-1zM2 237h1v1h-1zM4 237h1v1h-1zM5 240h1v1h-1zM5 243h1v1h-1zM2 246h1v1h-1zM4 249h1v1h-1zM5 252h1v1h-1zM2 253h1v1h-1zM3 257h1v1h-1zM19 260h1v1h-1zM22 260h1v1h-1zM5 263h1v1h-1zM5 268h1v1h-1zM5 272h1v1h-1zM5 274h1v1h-1zM5 280h1v1h-1zM8 281h1v1h-1zM1 283h1v1h-1zM12 284h1v1h-1zM16 284h1v1h-1zM5 289h1v1h-1zM4 290h1v1h-1zM5 293h1v1h-1zM0 294h1v1h-1zM4 294h1v1h-1zM23 295h1v1h-1zM8 296h1v1h-1zM13 296h1v1h-1zM3 298h1v1h-1zM5 300h1v1h-1zM3 306h1v1h-1zM12 308h1v1h-1zM16 308h1v1h-1zM5 309h1v1h-1zM3 310h1v1h-1zM5 315h1v1h-1zM4 319h1v1h-1zM5 322h1v1h-1zM4 332h2v1h-2zM5 336h1v1h-1zM10 342h1v1h-1zM5 344h1v1h-1zM3 349h1v1h-1zM3 353h1v1h-1zM4 356h1v1h-1zM0 359h1v1h-1zM4 361h1v1h-1zM2 363h2v1h-2zM5 364h1v1h-1zM0 365h1v1h-1zM4 371h1v1h-1zM0 381h1v1h-1zM5 381h1v1h-1zM4 384h1v1h-1zM4 388h1v1h-1zM9 388h1v1h-1zM5 393h1v1h-1zM1 395h1v1h-1zM5 398h1v1h-1zM0 399h1v1h-1zM11 400h1v1h-1zM1 402h1v1h-1zM4 404h1v1h-1zM22 405h1v1h-1zM2 406h1v1h-1zM3 407h1v1h-1zM4 409h1v1h-1zM5 412h1v1h-1zM1 420h1v1h-1zM1 424h1v1h-1zM22 425h1v1h-1zM21 427h1v1h-1zM2 428h1v1h-1zM5 432h1v1h-1zM4 437h1v1h-1zM5 440h1v1h-1zM16 445h1v1h-1zM5 452h1v1h-1zM16 453h1v1h-1zM2 454h1v1h-1zM9 455h1v1h-1zM2 462h1v1h-1zM13 467h1v1h-1zM1 473h1v1h-1zM0 480h1v1h-1zM22 480h1v1h-1zM1 483h1v1h-1zM5 485h1v1h-1zM3 486h1v1h-1zM3 487h1v1h-1zM3 488h1v1h-1zM5 491h1v1h-1zM1 492h1v1h-1zM3 495h1v1h-1zM13 500h1v1h-1zM23 512h1v1h-1zM15 518h1v1h-1zM12 521h1v1h-1zM1 522h1v1h-1zM1 524h1v1h-1zM5 528h1v1h-1zM1 534h1v1h-1zM3 537h2v1h-2zM17 543h1v1h-1zM8 546h1v1h-1zM14 546h1v1h-1zM2 552h1v1h-1zM5 552h1v1h-1zM5 555h1v1h-1zM5 556h1v1h-1z"/>
<path fill="#f08484" d="M12 1h1v1h-1zM1 3h1v1h-1zM19 5h1v1h-1zM0 6h2v1h-2zM0 7h1v1h-1zM4 12h1v1h-1zM13 16h1v1h-1zM0 21h1v1h-1zM4 23h1v1h-1zM4 26h1v1h-1zM1 28h1v1h-1zM2 31h1v1h-1zM20 34h1v1h-1zM22 34h1v1h-1zM4 36h1v1h-1zM0 37h1v1h-1zM2 38h1v1h-1zM4 38h1v1h-1zM12 38h1v1h-1zM4 40h1v1h-1zM4 42h1v1h-1zM0 45h1v1h-1zM1 47h1v1h-1zM3 49h1v1h-1zM3 50h1v1h-1zM13 51h1v1h-1zM8 53h1v1h-1zM10 54h1v1h-1zM1 55h1v1h-1zM5 61h1v1h-1zM0 72h1v1h-1zM3 74h1v1h-1zM10 75h1v1h-1zM15 75h1v1h-1zM4 76h1v1h-1zM4 82h1v1h-1zM13 82h1v1h-1zM3 83h1v1h-1zM3 90h1v1h-1zM2 92h1v1h-1zM14 98h1v1h-1zM15 99h1v1h-1zM19 100h1v1h-1zM12 109h1v1h-1zM18 116h1v1h-1zM22 117h1v1h-1zM19 122h1v1h-1zM14 123h1v1h-1zM23 124h1v1h-1zM15 129h1v1h-1zM9 135h1v1h-1zM21 137h2v1h-2zM9 143h1v1h-1zM9 144h1v1h-1zM6 145h1v1h-1zM17 146h1v1h-1zM8 147h1v1h-1zM13 147h1v1h-1zM19 157h1v1h-1zM15 161h1v1h-1zM8 166h1v1h-1zM11 171h1v1h-1zM8 174h1v1h-1zM8 175h1v1h-1zM18 176h1v1h-1zM12 181h1v1h-1zM8 182h1v1h-1zM22 184h1v1h-1zM12 185h1v1h-1zM21 186h1v1h-1zM14 187h1v1h-1zM18 192h1v1h-1zM8 193h1v1h-1zM19 200h1v1h-1zM13 207h1v1h-1zM8 208h1v1h-1zM18 209h1v1h-1zM8 214h1v1h-1zM9 216h1v1h-1zM23 219h1v1h-1zM14 224h1v1h-1zM19 226h1v1h-1zM16 230h1v1h-1zM6 234h1v1h-1zM10 241h1v1h-1zM18 241h1v1h-1zM13 247h1v1h-1zM7 251h1v1h-1zM6 252h1v1h-1zM19 257h1v1h-1zM8 261h1v1h-1zM10 261h1v1h-1zM8 264h1v1h-1zM9 266h1v1h-1zM21 266h1v1h-1zM12 277h1v1h-1zM14 281h1v1h-1zM20 282h1v1h-1zM6 284h1v1h-1zM21 284h1v1h-1zM18 287h1v1h-1zM23 287h1v1h-1zM7 288h1v1h-1zM11 288h1v1h-1zM11 290h1v1h-1zM22 292h1v1h-1zM9 303h1v1h-1zM20 305h1v1h-1zM11 308h1v1h-1zM7 316h1v1h-1zM10 318h1v1h-1zM9 321h1v1h-1zM16 321h1v1h-1zM22 324h1v1h-1zM6 325h1v1h-1zM13 327h1v1h-1zM19 330h1v1h-1zM21 332h1v1h-1zM18 333h1v1h-1zM9 341h1v1h-1zM21 343h1v1h-1zM16 348h1v1h-1zM22 351h1v1h-1zM18 353h1v1h-1zM16 357h1v1h-1zM15 359h1v1h-1zM7 360h1v1h-1zM8 363h1v1h-1zM9 364h1v1h-1zM23 365h1v1h-1zM12 369h1v1h-1zM8 375h1v1h-1zM10 377h1v1h-1zM8 384h1v1h-1zM6 386h1v1h-1zM17 387h1v1h-1zM10 389h1v1h-1zM15 389h1v1h-1zM17 395h1v1h-1zM21 396h1v1h-1zM14 397h1v1h-1zM12 398h1v1h-1zM8 401h1v1h-1zM8 405h1v1h-1zM15 408h1v1h-1zM21 409h1v1h-1zM8 417h1v1h-1zM12 417h1v1h-1zM20 422h1v1h-1zM22 423h1v1h-1zM11 424h1v1h-1zM17 428h1v1h-1zM9 429h1v1h-1zM15 429h1v1h-1zM21 429h1v1h-1zM10 430h1v1h-1zM13 431h1v1h-1zM17 434h1v1h-1zM20 437h1v1h-1zM18 438h1v1h-1zM8 442h1v1h-1zM9 445h1v1h-1zM19 449h1v1h-1zM19 453h1v1h-1zM6 462h1v1h-1zM11 463h1v1h-1zM23 464h1v1h-1zM23 465h1v1h-1zM21 473h1v1h-1zM6 474h1v1h-1zM12 484h1v1h-1zM15 485h1v1h-1zM16 490h1v1h-1zM13 491h1v1h-1zM19 493h1v1h-1zM14 496h1v1h-1zM22 496h1v1h-1zM10 499h1v1h-1zM16 501h1v1h-1zM11 502h1v1h-1zM15 503h1v1h-1zM22 503h1v1h-1zM21 505h1v1h-1zM6 509h1v1h-1zM21 512h1v1h-1zM7 528h1v1h-1zM16 529h1v1h-1zM19 529h1v1h-1zM7 531h1v1h-1zM7 532h1v1h-1zM7 535h1v1h-1zM6 537h1v1h-1zM13 537h1v1h-1zM15 540h1v1h-1zM22 543h1v1h-1zM10 547h1v1h-1zM16 548h1v1h-1zM8 551h1v1h-1zM21 551h1v1h-1zM21 554h1v1h-1zM23 555h1v1h-1z"/>
<path fill="#fcc0c0" d="M17 1h1v1h-1zM3 2h1v1h-1zM4 4h1v1h-1zM2 6h1v1h-1zM21 6h1v1h-1zM4 8h1v1h-1zM5 9h1v1h-1zM4 15h1v1h-1zM2 16h1v1h-1zM22 19h1v1h-1zM2 20h1v1h-1zM5 21h1v1h-1zM2 23h1v1h-1zM15 26h1v1h-1zM2 27h1v1h-1zM10 31h1v1h-1zM16 31h1v1h-1zM5 33h1v1h-1zM10 34h1v1h-1zM1 35h1v1h-1zM21 35h1v1h-1zM23 35h1v1h-1zM19 36h1v1h-1zM0 38h1v1h-1zM22 39h1v1h-1zM3 41h1v1h-1zM13 41h1v1h-1zM1 43h1v1h-1zM21 47h1v1h-1zM13 48h1v1h-1zM20 49h1v1h-1zM2 50h1v1h-1zM5 54h1v1h-1zM19 54h1v1h-1zM20 56h1v1h-1zM20 58h1v1h-1zM5 59h1v1h-1zM1 64h1v1h-1zM1 66h1v1h-1zM1 67h1v1h-1zM5 67h1v1h-1zM0 68h1v1h-1zM20 69h1v1h-1zM3 78h1v1h-1zM3 79h1v1h-1zM4 80h1v1h-1zM18 82h1v1h-1zM7 83h1v1h-1zM3 84h1v1h-1zM22 84h1v1h-1zM5 87h1v1h-1zM4 92h1v1h-1zM10 92h1v1h-1zM2 93h1v1h-1zM10 93h1v1h-1zM15 93h1v1h-1zM3 94h1v1h-1zM22 95h1v1h-1zM23 104h1v1h-1zM10 108h1v1h-1zM14 109h1v1h-1zM18 110h1v1h-1zM22 112h1v1h-1zM9 116h1v1h-1zM13 116h1v1h-1zM12 118h1v1h-1zM10 119h1v1h-1zM20 119h1v1h-1zM6 120h1v1h-1zM11 124h1v1h-1zM11 127h1v1h-1zM6 128h1v1h-1zM15 128h1v1h-1zM8 130h1v1h-1zM18 133h1v1h-1zM21 133h1v1h-1zM14 134h1v1h-1zM13 136h1v1h-1zM23 137h1v1h-1zM10 138h1v1h-1zM10 141h1v1h-1zM21 144h1v1h-1zM10 153h1v1h-1zM20 157h1v1h-1zM18 160h1v1h-1zM9 161h1v1h-1zM17 162h1v1h-1zM20 165h1v1h-1zM18 169h1v1h-1zM19 171h1v1h-1zM8 173h1v1h-1zM7 175h1v1h-1zM9 175h1v1h-1zM22 175h1v1h-1zM16 176h1v1h-1zM8 177h1v1h-1zM15 180h1v1h-1zM10 183h1v1h-1zM18 187h1v1h-1zM15 188h1v1h-1zM9 198h1v1h-1zM10 200h1v1h-1zM15 204h1v1h-1zM19 211h1v1h-1zM6 212h1v1h-1zM15 214h1v1h-1zM22 215h1v1h-1zM10 216h1v1h-1zM10 221h1v1h-1zM12 224h1v1h-1zM23 224h1v1h-1zM23 230h1v1h-1zM9 231h1v1h-1zM6 233h1v1h-1zM14 239h1v1h-1zM18 239h1v1h-1zM10 247h1v1h-1zM22 255h1v1h-1zM15 260h1v1h-1zM9 261h1v1h-1zM13 264h1v1h-1zM21 264h1v1h-1zM17 266h1v1h-1zM16 268h2v1h-2zM20 268h1v1h-1zM11 269h1v1h-1zM12 270h1v1h-1zM20 270h1v1h-1zM13 272h1v1h-1zM19 272h1v1h-1zM14 273h1v1h-1zM21 275h1v1h-1zM18 280h1v1h-1zM19 285h1v1h-1zM23 285h1v1h-1zM10 291h1v1h-1zM23 292h1v1h-1zM8 293h1v1h-1zM13 297h1v1h-1zM18 297h1v1h-1zM8 299h1v1h-1zM14 302h1v1h-1zM23 305h1v1h-1zM17 306h1v1h-1zM21 306h1v1h-1zM6 307h1v1h-1zM18 314h1v1h-1zM6 317h1v1h-1zM14 318h1v1h-1zM18 320h1v1h-1zM18 322h1v1h-1zM6 323h1v1h-1zM8 323h1v1h-1zM8 325h1v1h-1zM14 329h1v1h-1zM18 329h1v1h-1zM9 330h1v1h-1zM7 335h1v1h-1zM11 335h2v1h-2zM18 335h1v1h-1zM22 335h1v1h-1zM16 342h1v1h-1zM14 345h1v1h-1zM23 347h1v1h-1zM12 348h1v1h-1zM14 349h1v1h-1zM12 350h1v1h-1zM18 352h1v1h-1zM23 353h1v1h-1zM20 354h1v1h-1zM12 360h1v1h-1zM16 360h1v1h-1zM10 361h1v1h-1zM8 362h1v1h-1zM10 363h1v1h-1zM8 365h1v1h-1zM7 378h1v1h-1zM11 381h1v1h-1zM11 383h1v1h-1zM12 384h1v1h-1zM16 384h1v1h-1zM6 385h1v1h-1zM21 386h1v1h-1zM23 386h1v1h-1zM7 387h1v1h-1zM19 388h1v1h-1zM20 389h1v1h-1zM8 390h1v1h-1zM6 391h1v1h-1zM11 402h1v1h-1zM10 403h1v1h-1zM9 409h1v1h-1zM10 410h1v1h-1zM22 411h1v1h-1zM11 414h1v1h-1zM19 415h1v1h-1zM11 419h1v1h-1zM19 420h1v1h-1zM22 421h1v1h-1zM10 422h1v1h-1zM7 423h1v1h-1zM18 423h1v1h-1zM11 428h1v1h-1zM15 428h1v1h-1zM14 430h1v1h-1zM15 432h1v1h-1zM13 433h1v1h-1zM23 440h1v1h-1zM18 444h1v1h-1zM13 446h1v1h-1zM10 448h1v1h-1zM21 449h1v1h-1zM11 451h1v1h-1zM17 453h1v1h-1zM23 455h1v1h-1zM15 456h1v1h-1zM23 457h1v1h-1zM10 458h1v1h-1zM13 458h1v1h-1zM15 458h1v1h-1zM17 459h1v1h-1zM18 460h1v1h-1zM7 463h1v1h-1zM10 463h1v1h-1zM13 463h1v1h-1zM14 465h1v1h-1zM10 468h1v1h-1zM13 470h1v1h-1zM7 471h1v1h-1zM21 471h1v1h-1zM20 472h1v1h-1zM12 475h1v1h-1zM18 475h1v1h-1zM19 476h1v1h-1zM22 477h1v1h-1zM12 482h1v1h-1zM6 487h1v1h-1zM23 488h1v1h-1zM8 489h1v1h-1zM15 490h1v1h-1zM16 491h1v1h-1zM17 492h1v1h-1zM6 493h1v1h-1zM17 494h1v1h-1zM11 496h1v1h-1zM16 502h1v1h-1zM21 504h1v1h-1zM8 515h1v1h-1zM12 516h1v1h-1zM15 523h1v1h-1zM23 526h1v1h-1zM14 528h1v1h-1zM19 538h1v1h-1zM12 543h2v1h-2zM20 547h1v1h-1zM10 548h1v1h-1zM19 548h1v1h-1zM7 551h1v1h-1z"/>
<path fill="#f0f0fc" d="M18 1h1v1h-1zM15 3h1v1h-1zM20 3h1v1h-1zM12 4h3v1h-3zM22 4h1v1h-1zM11 6h2v1h-2zM14 6h2v1h-2zM17 6h1v1h-1zM12 7h1v1h-1zM22 7h1v1h-1zM21 8h1v1h-1zM8 9h1v1h-1zM10 9h1v1h-1zM13 9h1v1h-1zM23 9h1v1h-1zM7 10h2v1h-2zM10 10h1v1h-1zM21 10h1v1h-1zM11 11h1v1h-1zM14 11h1v1h-1zM19 11h1v1h-1zM21 11h2v1h-2zM2 12h1v1h-1zM8 12h1v1h-1zM11 12h1v1h-1zM15 12h1v1h-1zM21 12h1v1h-1zM21 13h1v1h-1zM2 14h1v1h-1zM23 14h1v1h-1zM7 15h1v1h-1zM17 15h2v1h-2zM14 16h1v1h-1zM12 17h1v1h-1zM14 17h1v1h-1zM17 17h1v1h-1zM19 17h2v1h-2zM23 17h1v1h-1zM3 18h1v1h-1zM19 18h1v1h-1zM6 19h1v1h-1zM23 19h1v1h-1zM4 20h1v1h-1zM7 20h1v1h-1zM21 20h1v1h-1zM10 21h1v1h-1zM5 23h1v1h-1zM9 23h1v1h-1zM13 23h1v1h-1zM21 23h1v1h-1zM23 24h1v1h-1zM18 25h1v1h-1zM13 26h1v1h-1zM5 27h1v1h-1zM21 27h1v1h-1zM10 28h1v1h-1zM11 29h2v1h-2zM15 29h1v1h-1zM17 30h1v1h-1zM6 31h1v1h-1zM11 31h1v1h-1zM20 31h1v1h-1zM23 31h1v1h-1zM11 32h2v1h-2zM15 32h1v1h-1zM6 35h3v1h-3zM11 35h1v1h-1zM20 35h1v1h-1zM12 36h1v1h-1zM17 36h1v1h-1zM21 36h1v1h-1zM10 37h1v1h-1zM20 37h1v1h-1zM20 38h1v1h-1zM5 39h1v1h-1zM14 39h2v1h-2zM21 39h1v1h-1zM12 40h1v1h-1zM22 40h1v1h-1zM0 41h1v1h-1zM12 41h1v1h-1zM18 41h1v1h-1zM22 41h1v1h-1zM1 42h1v1h-1zM7 42h1v1h-1zM10 42h1v1h-1zM15 42h1v1h-1zM20 42h1v1h-1zM6 43h1v1h-1zM6 44h1v1h-1zM18 44h2v1h-2zM5 45h1v1h-1zM20 45h1v1h-1zM3 46h1v1h-1zM20 46h1v1h-1zM19 47h1v1h-1zM7 48h1v1h-1zM12 48h1v1h-1zM7 49h1v1h-1zM11 49h1v1h-1zM18 49h1v1h-1zM7 50h1v1h-1zM5 51h1v1h-1zM11 51h1v1h-1zM14 51h1v1h-1zM9 52h3v1h-3zM15 52h1v1h-1zM18 52h1v1h-1zM22 52h1v1h-1zM19 53h1v1h-1zM23 53h1v1h-1zM13 54h1v1h-1zM7 55h2v1h-2zM10 55h1v1h-1zM13 55h1v1h-1zM11 56h1v1h-1zM18 56h1v1h-1zM5 57h1v1h-1zM15 57h1v1h-1zM23 57h1v1h-1zM13 58h2v1h-2zM19 58h1v1h-1zM23 58h1v1h-1zM9 59h1v1h-1zM11 60h1v1h-1zM20 60h1v1h-1zM9 61h1v1h-1zM18 61h1v1h-1zM20 61h1v1h-1zM12 62h1v1h-1zM15 62h1v1h-1zM16 63h1v1h-1zM18 63h1v1h-1zM23 64h1v1h-1zM21 65h1v1h-1zM14 66h1v1h-1zM22 66h1v1h-1zM7 67h2v1h-2zM10 67h1v1h-1zM20 67h1v1h-1zM23 67h1v1h-1zM14 69h1v1h-1zM21 69h1v1h-1zM8 70h1v1h-1zM11 70h1v1h-1zM14 70h1v1h-1zM22 70h1v1h-1zM5 71h3v1h-3zM9 71h2v1h-2zM12 71h2v1h-2zM21 71h1v1h-1zM15 72h1v1h-1zM23 72h1v1h-1zM23 73h1v1h-1zM10 74h1v1h-1zM20 74h1v1h-1zM6 75h1v1h-1zM11 75h2v1h-2zM18 75h1v1h-1zM13 77h1v1h-1zM20 77h1v1h-1zM20 78h1v1h-1zM6 79h1v1h-1zM16 79h1v1h-1zM21 79h1v1h-1zM10 80h3v1h-3zM15 80h1v1h-1zM18 80h2v1h-2zM9 81h1v1h-1zM15 81h1v1h-1zM8 82h1v1h-1zM5 83h1v1h-1zM10 83h1v1h-1zM16 85h1v1h-1zM6 86h1v1h-1zM8 86h1v1h-1zM14 86h1v1h-1zM18 86h1v1h-1zM18 87h1v1h-1zM12 88h2v1h-2zM15 88h1v1h-1zM8 89h1v1h-1zM13 89h1v1h-1zM15 89h1v1h-1zM20 89h1v1h-1zM1 91h1v1h-1zM17 91h1v1h-1zM20 91h1v1h-1zM6 93h1v1h-1zM13 94h1v1h-1zM16 95h3v1h-3zM21 95h1v1h-1zM1 96h1v1h-1zM1 97h1v1h-1zM13 97h1v1h-1zM15 97h1v1h-1zM7 98h1v1h-1zM12 98h1v1h-1zM17 98h1v1h-1zM19 98h1v1h-1zM0 99h1v1h-1zM2 99h1v1h-1zM13 99h1v1h-1zM16 100h1v1h-1zM20 100h1v1h-1zM22 101h1v1h-1zM15 102h1v1h-1zM13 103h2v1h-2zM16 103h1v1h-1zM18 103h1v1h-1zM20 103h1v1h-1zM7 104h1v1h-1zM12 105h1v1h-1zM20 105h1v1h-1zM9 107h1v1h-1zM22 107h1v1h-1zM1 108h1v1h-1zM5 108h2v1h-2zM13 108h1v1h-1zM23 108h1v1h-1zM3 109h1v1h-1zM19 109h1v1h-1zM1 111h1v1h-1zM10 111h1v1h-1zM16 111h1v1h-1zM23 111h1v1h-1zM6 112h1v1h-1zM23 112h1v1h-1zM0 113h2v1h-2zM4 113h1v1h-1zM12 113h1v1h-1zM23 113h1v1h-1zM3 114h1v1h-1zM11 114h1v1h-1zM15 114h1v1h-1zM3 115h1v1h-1zM20 115h1v1h-1zM7 116h1v1h-1zM17 116h1v1h-1zM20 116h1v1h-1zM2 117h1v1h-1zM2 118h1v1h-1zM21 118h1v1h-1zM1 119h2v1h-2zM8 119h1v1h-1zM15 119h1v1h-1zM14 120h1v1h-1zM2 121h1v1h-1zM8 121h1v1h-1zM20 121h1v1h-1zM3 122h1v1h-1zM10 122h1v1h-1zM21 123h1v1h-1zM21 124h1v1h-1zM10 125h1v1h-1zM8 126h1v1h-1zM21 126h1v1h-1zM2 127h1v1h-1zM9 128h1v1h-1zM5 129h1v1h-1zM10 129h1v1h-1zM14 129h1v1h-1zM22 129h1v1h-1zM9 130h1v1h-1zM14 130h1v1h-1zM16 130h2v1h-2zM21 130h1v1h-1zM11 131h3v1h-3zM16 131h1v1h-1zM2 132h2v1h-2zM21 132h1v1h-1zM7 133h1v1h-1zM5 134h2v1h-2zM11 134h1v1h-1zM0 135h1v1h-1zM2 135h1v1h-1zM6 135h1v1h-1zM0 136h1v1h-1zM16 136h1v1h-1zM13 137h1v1h-1zM0 138h1v1h-1zM13 138h1v1h-1zM0 139h1v1h-1zM6 139h1v1h-1zM12 139h1v1h-1zM22 139h1v1h-1zM7 140h1v1h-1zM9 140h1v1h-1zM12 140h2v1h-2zM3 141h1v1h-1zM8 141h2v1h-2zM11 141h1v1h-1zM17 141h2v1h-2zM1 142h1v1h-1zM3 142h1v1h-1zM6 142h1v1h-1zM22 143h1v1h-1zM8 144h1v1h-1zM11 144h1v1h-1zM13 144h1v1h-1zM17 144h1v1h-1zM19 144h1v1h-1zM0 145h1v1h-1zM16 145h1v1h-1zM19 145h1v1h-1zM21 145h1v1h-1zM3 146h2v1h-2zM15 146h1v1h-1zM20 146h1v1h-1zM0 147h1v1h-1zM2 148h1v1h-1zM8 148h3v1h-3zM18 148h1v1h-1zM13 149h1v1h-1zM12 150h1v1h-1zM18 150h1v1h-1zM13 151h1v1h-1zM19 151h1v1h-1zM22 151h1v1h-1zM11 152h1v1h-1zM16 152h1v1h-1zM22 152h1v1h-1zM2 153h1v1h-1zM13 153h1v1h-1zM21 153h1v1h-1zM7 154h1v1h-1zM10 154h1v1h-1zM10 155h1v1h-1zM17 155h1v1h-1zM22 155h1v1h-1zM16 156h1v1h-1zM18 156h1v1h-1zM23 157h1v1h-1zM1 158h1v1h-1zM9 158h1v1h-1zM11 158h1v1h-1zM21 159h1v1h-1zM0 160h1v1h-1zM17 160h1v1h-1zM6 161h1v1h-1zM22 162h1v1h-1zM6 163h1v1h-1zM17 163h1v1h-1zM21 163h1v1h-1zM0 164h1v1h-1zM7 164h1v1h-1zM11 164h1v1h-1zM9 165h1v1h-1zM21 165h1v1h-1zM1 166h1v1h-1zM11 166h1v1h-1zM2 167h1v1h-1zM7 167h1v1h-1zM17 167h1v1h-1zM9 168h1v1h-1zM23 169h1v1h-1zM2 170h1v1h-1zM7 170h1v1h-1zM10 170h1v1h-1zM14 170h1v1h-1zM17 170h1v1h-1zM14 171h2v1h-2zM17 171h1v1h-1zM23 171h1v1h-1zM13 173h1v1h-1zM0 174h1v1h-1zM6 174h1v1h-1zM21 174h1v1h-1zM3 175h1v1h-1zM6 175h1v1h-1zM10 175h2v1h-2zM3 176h1v1h-1zM11 176h1v1h-1zM1 178h2v1h-2zM12 178h1v1h-1zM20 178h1v1h-1zM0 179h1v1h-1zM4 179h1v1h-1zM14 180h1v1h-1zM22 180h1v1h-1zM14 181h1v1h-1zM22 181h1v1h-1zM1 182h2v1h-2zM11 182h1v1h-1zM6 183h1v1h-1zM13 183h1v1h-1zM1 184h1v1h-1zM5 184h1v1h-1zM13 184h1v1h-1zM11 185h1v1h-1zM21 185h1v1h-1zM13 186h1v1h-1zM17 186h1v1h-1zM0 187h1v1h-1zM20 187h1v1h-1zM3 188h1v1h-1zM9 188h1v1h-1zM14 188h1v1h-1zM16 188h1v1h-1zM8 189h1v1h-1zM23 189h1v1h-1zM16 190h2v1h-2zM11 191h1v1h-1zM15 191h1v1h-1zM19 191h1v1h-1zM5 192h1v1h-1zM9 192h1v1h-1zM13 192h1v1h-1zM23 192h1v1h-1zM10 193h1v1h-1zM16 193h1v1h-1zM4 194h1v1h-1zM22 194h1v1h-1zM7 195h1v1h-1zM6 196h1v1h-1zM13 196h1v1h-1zM20 197h1v1h-1zM19 198h1v1h-1zM6 199h1v1h-1zM18 199h1v1h-1zM21 199h1v1h-1zM16 200h1v1h-1zM3 201h1v1h-1zM2 202h2v1h-2zM3 203h2v1h-2zM6 203h1v1h-1zM7 204h1v1h-1zM7 205h1v1h-1zM21 205h1v1h-1zM10 206h2v1h-2zM1 207h1v1h-1zM16 207h1v1h-1zM4 208h1v1h-1zM11 208h1v1h-1zM17 208h1v1h-1zM1 209h1v1h-1zM21 209h1v1h-1zM18 210h1v1h-1zM21 210h1v1h-1zM1 211h1v1h-1zM3 211h1v1h-1zM11 211h1v1h-1zM11 212h1v1h-1zM19 212h1v1h-1zM7 213h1v1h-1zM18 213h1v1h-1zM1 215h1v1h-1zM16 215h1v1h-1zM21 216h1v1h-1zM11 218h1v1h-1zM0 219h1v1h-1zM15 219h1v1h-1zM19 219h1v1h-1zM8 220h1v1h-1zM12 220h1v1h-1zM15 220h1v1h-1zM21 220h1v1h-1zM7 221h1v1h-1zM13 221h1v1h-1zM2 222h1v1h-1zM13 222h1v1h-1zM15 222h1v1h-1zM11 223h1v1h-1zM16 223h1v1h-1zM7 224h1v1h-1zM9 224h1v1h-1zM11 224h1v1h-1zM4 225h2v1h-2zM10 225h1v1h-1zM9 226h1v1h-1zM17 226h1v1h-1zM20 226h1v1h-1zM4 227h1v1h-1zM13 227h1v1h-1zM21 227h1v1h-1zM8 228h1v1h-1zM18 228h1v1h-1zM4 229h1v1h-1zM14 230h1v1h-1zM4 231h1v1h-1zM11 231h1v1h-1zM14 231h1v1h-1zM9 232h1v1h-1zM15 233h1v1h-1zM13 236h1v1h-1zM9 237h1v1h-1zM14 237h2v1h-2zM22 237h1v1h-1zM2 238h1v1h-1zM11 238h1v1h-1zM21 238h1v1h-1zM23 238h1v1h-1zM0 239h1v1h-1zM7 239h1v1h-1zM9 239h2v1h-2zM17 239h1v1h-1zM4 241h1v1h-1zM9 241h1v1h-1zM11 241h1v1h-1zM12 242h1v1h-1zM17 242h2v1h-2zM21 242h1v1h-1zM12 243h1v1h-1zM17 244h1v1h-1zM20 244h1v1h-1zM1 246h1v1h-1zM14 247h1v1h-1zM12 248h1v1h-1zM20 248h1v1h-1zM16 249h1v1h-1zM21 249h1v1h-1zM0 250h1v1h-1zM4 250h1v1h-1zM18 250h1v1h-1zM23 250h1v1h-1zM8 251h1v1h-1zM16 251h1v1h-1zM0 253h1v1h-1zM14 253h1v1h-1zM22 253h1v1h-1zM11 254h1v1h-1zM13 254h2v1h-2zM17 254h1v1h-1zM6 255h1v1h-1zM19 255h1v1h-1zM1 256h2v1h-2zM8 256h1v1h-1zM11 257h1v1h-1zM16 257h1v1h-1zM0 258h2v1h-2zM6 258h1v1h-1zM16 258h1v1h-1zM19 258h1v1h-1zM23 258h1v1h-1zM7 259h1v1h-1zM12 259h1v1h-1zM19 259h1v1h-1zM2 260h1v1h-1zM7 260h1v1h-1zM2 261h1v1h-1zM22 261h1v1h-1zM10 262h1v1h-1zM18 262h1v1h-1zM6 263h1v1h-1zM1 264h1v1h-1zM9 264h1v1h-1zM8 265h1v1h-1zM12 265h2v1h-2zM19 265h1v1h-1zM12 267h1v1h-1zM1 268h1v1h-1zM2 269h1v1h-1zM10 269h1v1h-1zM6 270h1v1h-1zM13 270h1v1h-1zM13 271h1v1h-1zM15 271h1v1h-1zM3 272h1v1h-1zM7 272h1v1h-1zM7 273h1v1h-1zM16 273h1v1h-1zM0 274h1v1h-1zM10 274h1v1h-1zM19 275h2v1h-2zM23 275h1v1h-1zM4 276h1v1h-1zM11 276h3v1h-3zM15 276h1v1h-1zM0 277h1v1h-1zM11 277h1v1h-1zM14 277h1v1h-1zM21 277h1v1h-1zM12 278h1v1h-1zM14 278h1v1h-1zM21 278h1v1h-1zM10 279h1v1h-1zM16 279h1v1h-1zM13 280h1v1h-1zM22 280h1v1h-1zM17 282h1v1h-1zM6 283h1v1h-1zM10 284h1v1h-1zM17 284h1v1h-1zM23 284h1v1h-1zM0 285h1v1h-1zM6 285h1v1h-1zM13 285h1v1h-1zM4 286h1v1h-1zM15 286h1v1h-1zM18 286h1v1h-1zM0 287h1v1h-1zM6 287h1v1h-1zM13 287h1v1h-1zM19 288h1v1h-1zM21 288h1v1h-1zM20 289h1v1h-1zM2 290h2v1h-2zM5 290h1v1h-1zM15 290h1v1h-1zM0 291h1v1h-1zM2 291h1v1h-1zM9 291h1v1h-1zM18 291h1v1h-1zM8 292h1v1h-1zM14 292h1v1h-1zM17 292h1v1h-1zM2 293h1v1h-1zM18 293h1v1h-1zM21 293h1v1h-1zM1 294h1v1h-1zM19 294h1v1h-1zM6 295h1v1h-1zM9 295h1v1h-1zM11 295h1v1h-1zM9 296h1v1h-1zM1 297h1v1h-1zM3 297h1v1h-1zM1 298h2v1h-2zM7 298h1v1h-1zM19 298h1v1h-1zM23 298h1v1h-1zM11 299h1v1h-1zM17 299h1v1h-1zM22 299h1v1h-1zM16 300h1v1h-1zM18 300h2v1h-2zM2 301h1v1h-1zM14 301h1v1h-1zM16 301h1v1h-1zM3 302h1v1h-1zM15 302h1v1h-1zM1 303h1v1h-1zM7 304h1v1h-1zM11 305h1v1h-1zM8 306h1v1h-1zM16 306h1v1h-1zM23 306h1v1h-1zM1 307h1v1h-1zM9 308h1v1h-1zM18 308h1v1h-1zM0 309h1v1h-1zM18 309h1v1h-1zM22 309h1v1h-1zM1 310h1v1h-1zM18 310h1v1h-1zM8 313h1v1h-1zM15 313h1v1h-1zM14 314h1v1h-1zM9 315h1v1h-1zM2 316h1v1h-1zM3 317h1v1h-1zM7 317h1v1h-1zM12 317h1v1h-1zM18 317h1v1h-1zM6 318h1v1h-1zM11 318h1v1h-1zM2 319h1v1h-1zM10 319h1v1h-1zM13 319h1v1h-1zM11 320h2v1h-2zM21 320h1v1h-1zM2 321h1v1h-1zM8 321h1v1h-1zM16 322h1v1h-1zM21 322h1v1h-1zM1 323h1v1h-1zM13 323h1v1h-1zM0 324h1v1h-1zM4 324h1v1h-1zM10 324h1v1h-1zM12 324h1v1h-1zM3 325h2v1h-2zM10 325h2v1h-2zM15 325h1v1h-1zM20 325h1v1h-1zM4 326h1v1h-1zM10 326h1v1h-1zM16 326h2v1h-2zM0 327h1v1h-1zM8 327h1v1h-1zM14 327h1v1h-1zM16 327h1v1h-1zM6 328h1v1h-1zM15 328h1v1h-1zM1 329h1v1h-1zM4 330h1v1h-1zM12 330h1v1h-1zM17 330h1v1h-1zM21 330h1v1h-1zM16 332h2v1h-2zM23 332h1v1h-1zM0 334h1v1h-1zM15 334h1v1h-1zM23 334h1v1h-1zM2 335h1v1h-1zM17 335h1v1h-1zM12 336h1v1h-1zM22 336h1v1h-1zM6 337h1v1h-1zM10 337h1v1h-1zM13 337h1v1h-1zM13 338h1v1h-1zM21 338h1v1h-1zM2 339h3v1h-3zM7 339h1v1h-1zM20 339h1v1h-1zM2 340h1v1h-1zM15 340h1v1h-1zM2 341h1v1h-1zM22 341h1v1h-1zM14 342h1v1h-1zM22 343h1v1h-1zM17 345h1v1h-1zM19 345h1v1h-1zM23 345h1v1h-1zM15 346h1v1h-1zM0 347h1v1h-1zM7 347h1v1h-1zM10 347h1v1h-1zM14 347h1v1h-1zM0 348h1v1h-1zM15 348h1v1h-1zM1 349h1v1h-1zM9 349h1v1h-1zM11 349h1v1h-1zM13 349h1v1h-1zM17 349h1v1h-1zM0 351h1v1h-1zM21 351h1v1h-1zM0 352h1v1h-1zM3 352h1v1h-1zM14 352h1v1h-1zM19 352h1v1h-1zM8 353h1v1h-1zM16 353h1v1h-1zM13 354h1v1h-1zM23 354h1v1h-1zM0 355h1v1h-1zM3 355h1v1h-1zM20 355h1v1h-1zM9 358h1v1h-1zM16 358h1v1h-1zM6 359h2v1h-2zM11 359h1v1h-1zM20 359h1v1h-1zM2 361h1v1h-1zM11 361h1v1h-1zM14 361h1v1h-1zM0 362h1v1h-1zM5 362h1v1h-1zM17 362h1v1h-1zM21 362h1v1h-1zM6 363h1v1h-1zM10 364h1v1h-1zM23 364h1v1h-1zM13 365h1v1h-1zM0 366h1v1h-1zM15 366h1v1h-1zM13 367h1v1h-1zM15 367h1v1h-1zM18 367h1v1h-1zM22 368h1v1h-1zM2 370h1v1h-1zM6 370h1v1h-1zM20 370h1v1h-1zM14 371h1v1h-1zM0 372h1v1h-1zM4 372h1v1h-1zM12 372h2v1h-2zM7 374h2v1h-2zM10 374h2v1h-2zM23 374h1v1h-1zM9 375h1v1h-1zM12 375h1v1h-1zM22 375h1v1h-1zM21 376h1v1h-1zM1 377h1v1h-1zM3 377h1v1h-1zM7 377h1v1h-1zM9 377h1v1h-1zM14 377h1v1h-1zM17 377h2v1h-2zM15 378h1v1h-1zM1 379h1v1h-1zM7 379h1v1h-1zM10 379h1v1h-1zM14 380h1v1h-1zM14 382h1v1h-1zM13 383h1v1h-1zM17 383h1v1h-1zM11 384h1v1h-1zM3 385h1v1h-1zM9 385h1v1h-1zM16 385h1v1h-1zM4 386h2v1h-2zM8 386h1v1h-1zM10 386h1v1h-1zM6 387h1v1h-1zM13 387h1v1h-1zM20 387h1v1h-1zM22 387h1v1h-1zM0 388h1v1h-1zM8 388h1v1h-1zM17 388h1v1h-1zM6 389h2v1h-2zM17 389h2v1h-2zM3 390h1v1h-1zM20 390h1v1h-1zM3 391h1v1h-1zM7 391h1v1h-1zM11 391h1v1h-1zM20 391h1v1h-1zM14 392h1v1h-1zM22 392h1v1h-1zM3 395h1v1h-1zM5 395h1v1h-1zM22 395h1v1h-1zM3 396h1v1h-1zM13 396h1v1h-1zM2 398h1v1h-1zM4 398h1v1h-1zM11 398h1v1h-1zM1 399h1v1h-1zM23 399h1v1h-1zM2 400h1v1h-1zM8 400h1v1h-1zM15 400h1v1h-1zM18 400h1v1h-1zM10 401h1v1h-1zM9 402h1v1h-1zM13 402h1v1h-1zM20 402h1v1h-1zM0 403h1v1h-1zM22 403h1v1h-1zM6 404h1v1h-1zM16 404h1v1h-1zM7 405h1v1h-1zM9 405h1v1h-1zM19 405h1v1h-1zM21 405h1v1h-1zM0 406h1v1h-1zM10 406h1v1h-1zM13 406h1v1h-1zM20 406h1v1h-1zM10 407h1v1h-1zM15 407h1v1h-1zM10 408h1v1h-1zM12 408h1v1h-1zM12 409h1v1h-1zM19 409h1v1h-1zM23 409h1v1h-1zM2 410h1v1h-1zM11 410h1v1h-1zM18 410h1v1h-1zM21 410h1v1h-1zM18 411h3v1h-3zM6 412h1v1h-1zM17 412h1v1h-1zM1 413h2v1h-2zM8 413h1v1h-1zM12 413h1v1h-1zM23 413h1v1h-1zM1 414h1v1h-1zM2 415h2v1h-2zM8 415h1v1h-1zM2 416h1v1h-1zM8 416h1v1h-1zM11 416h1v1h-1zM19 416h1v1h-1zM10 417h1v1h-1zM19 417h1v1h-1zM4 419h1v1h-1zM13 419h1v1h-1zM20 420h1v1h-1zM1 421h1v1h-1zM7 421h1v1h-1zM13 421h1v1h-1zM18 421h1v1h-1zM6 422h1v1h-1zM14 422h1v1h-1zM22 422h2v1h-2zM6 424h1v1h-1zM14 424h1v1h-1zM17 424h1v1h-1zM2 425h1v1h-1zM14 426h2v1h-2zM20 426h1v1h-1zM1 428h1v1h-1zM0 429h1v1h-1zM6 429h1v1h-1zM19 429h1v1h-1zM22 429h1v1h-1zM2 430h1v1h-1zM12 430h1v1h-1zM7 431h1v1h-1zM21 431h1v1h-1zM3 432h1v1h-1zM19 432h1v1h-1zM22 432h1v1h-1zM0 433h1v1h-1zM9 434h1v1h-1zM1 435h1v1h-1zM11 435h1v1h-1zM15 435h1v1h-1zM17 435h1v1h-1zM20 435h1v1h-1zM2 436h1v1h-1zM13 436h1v1h-1zM20 436h1v1h-1zM7 437h1v1h-1zM13 437h1v1h-1zM22 438h1v1h-1zM0 439h2v1h-2zM3 439h1v1h-1zM15 440h1v1h-1zM17 440h1v1h-1zM4 441h1v1h-1zM18 442h1v1h-1zM1 443h1v1h-1zM5 443h1v1h-1zM9 443h1v1h-1zM0 444h1v1h-1zM3 444h1v1h-1zM15 445h1v1h-1zM20 445h1v1h-1zM4 446h1v1h-1zM18 446h1v1h-1zM3 447h1v1h-1zM17 447h1v1h-1zM20 447h1v1h-1zM22 447h1v1h-1zM2 448h1v1h-1zM16 448h1v1h-1zM1 450h1v1h-1zM3 450h1v1h-1zM0 451h1v1h-1zM10 451h1v1h-1zM18 451h1v1h-1zM22 451h1v1h-1zM1 452h1v1h-1zM7 452h2v1h-2zM18 452h1v1h-1zM22 452h1v1h-1zM3 453h1v1h-1zM7 453h2v1h-2zM19 454h1v1h-1zM1 455h1v1h-1zM6 456h1v1h-1zM12 456h1v1h-1zM20 456h1v1h-1zM1 457h1v1h-1zM15 457h2v1h-2zM15 459h1v1h-1zM21 459h1v1h-1zM23 459h1v1h-1zM14 460h1v1h-1zM17 460h1v1h-1zM20 460h1v1h-1zM16 461h1v1h-1zM23 461h1v1h-1zM5 463h1v1h-1zM12 463h1v1h-1zM21 464h1v1h-1zM0 465h1v1h-1zM12 465h1v1h-1zM22 466h1v1h-1zM6 468h1v1h-1zM11 468h1v1h-1zM14 468h1v1h-1zM0 469h1v1h-1zM9 471h1v1h-1zM3 472h1v1h-1zM10 472h1v1h-1zM0 473h1v1h-1zM8 474h1v1h-1zM10 474h1v1h-1zM12 474h1v1h-1zM18 474h1v1h-1zM19 475h1v1h-1zM22 475h1v1h-1zM1 476h1v1h-1zM0 477h1v1h-1zM15 477h1v1h-1zM13 478h1v1h-1zM2 479h1v1h-1zM4 479h1v1h-1zM7 479h1v1h-1zM11 479h1v1h-1zM8 480h1v1h-1zM14 480h1v1h-1zM3 481h1v1h-1zM6 481h1v1h-1zM11 482h1v1h-1zM13 482h1v1h-1zM15 482h2v1h-2zM15 483h1v1h-1zM9 484h1v1h-1zM22 484h1v1h-1zM1 485h1v1h-1zM3 485h1v1h-1zM11 485h1v1h-1zM13 485h1v1h-1zM20 485h1v1h-1zM17 486h1v1h-1zM1 487h2v1h-2zM7 487h1v1h-1zM6 488h1v1h-1zM7 489h1v1h-1zM13 489h1v1h-1zM11 490h1v1h-1zM18 490h1v1h-1zM8 491h1v1h-1zM0 492h1v1h-1zM9 492h1v1h-1zM13 492h1v1h-1zM20 492h1v1h-1zM8 493h2v1h-2zM11 494h1v1h-1zM2 495h1v1h-1zM22 495h1v1h-1zM0 496h1v1h-1zM4 496h1v1h-1zM13 496h1v1h-1zM21 496h1v1h-1zM4 497h1v1h-1zM6 497h2v1h-2zM13 498h1v1h-1zM17 498h1v1h-1zM13 499h1v1h-1zM9 500h1v1h-1zM23 500h1v1h-1zM7 503h1v1h-1zM10 503h1v1h-1zM19 503h1v1h-1zM6 504h2v1h-2zM12 504h1v1h-1zM17 504h1v1h-1zM4 506h1v1h-1zM13 506h1v1h-1zM3 507h1v1h-1zM14 507h1v1h-1zM16 507h1v1h-1zM2 508h1v1h-1zM6 508h1v1h-1zM12 508h1v1h-1zM18 508h1v1h-1zM23 508h1v1h-1zM13 509h1v1h-1zM23 509h1v1h-1zM2 510h1v1h-1zM7 510h1v1h-1zM10 510h1v1h-1zM13 510h1v1h-1zM23 510h1v1h-1zM10 511h1v1h-1zM14 511h1v1h-1zM0 512h1v1h-1zM10 512h1v1h-1zM16 512h2v1h-2zM13 513h1v1h-1zM19 513h1v1h-1zM12 514h1v1h-1zM2 515h1v1h-1zM9 515h1v1h-1zM18 515h1v1h-1zM11 516h1v1h-1zM22 516h1v1h-1zM16 517h1v1h-1zM2 518h1v1h-1zM6 518h1v1h-1zM13 518h1v1h-1zM16 518h1v1h-1zM6 519h1v1h-1zM16 519h1v1h-1zM10 520h1v1h-1zM9 521h1v1h-1zM14 521h1v1h-1zM16 521h2v1h-2zM19 522h1v1h-1zM5 523h2v1h-2zM10 523h1v1h-1zM16 523h1v1h-1zM19 523h1v1h-1zM9 524h1v1h-1zM21 524h2v1h-2zM13 526h1v1h-1zM4 527h1v1h-1zM6 527h1v1h-1zM10 527h1v1h-1zM21 527h1v1h-1zM3 528h1v1h-1zM13 528h1v1h-1zM20 528h1v1h-1zM4 529h1v1h-1zM6 529h1v1h-1zM9 529h1v1h-1zM15 529h1v1h-1zM22 529h2v1h-2zM20 530h1v1h-1zM10 532h1v1h-1zM0 533h1v1h-1zM16 533h1v1h-1zM11 534h1v1h-1zM15 534h2v1h-2zM22 534h1v1h-1zM0 535h1v1h-1zM9 535h1v1h-1zM21 535h2v1h-2zM6 536h1v1h-1zM7 537h1v1h-1zM2 538h1v1h-1zM10 538h1v1h-1zM11 539h1v1h-1zM11 540h1v1h-1zM13 540h1v1h-1zM16 540h1v1h-1zM20 540h1v1h-1zM7 541h1v1h-1zM9 541h1v1h-1zM17 541h1v1h-1zM20 541h1v1h-1zM15 543h1v1h-1zM20 543h1v1h-1zM14 544h1v1h-1zM19 544h1v1h-1zM18 545h1v1h-1zM21 545h1v1h-1zM12 546h1v1h-1zM17 546h1v1h-1zM22 546h1v1h-1zM7 547h1v1h-1zM8 548h1v1h-1zM22 548h1v1h-1zM11 549h1v1h-1zM13 549h1v1h-1zM22 549h1v1h-1zM6 550h1v1h-1zM20 551h1v1h-1zM22 551h1v1h-1zM4 552h1v1h-1zM7 552h1v1h-1zM11 552h1v1h-1zM18 552h1v1h-1zM20 552h1v1h-1zM0 553h1v1h-1zM8 553h1v1h-1zM7 554h1v1h-1zM11 554h1v1h-1zM15 554h1v1h-1zM22 554h1v1h-1zM2 555h1v1h-1zM17 555h1v1h-1zM6 556h1v1h-1zM9 556h1v1h-1z"/>
<path fill="#8484f0" d="M23 1h1v1h-1zM19 4h1v1h-1zM20 6h1v1h-1zM6 8h1v1h-1zM21 9h1v1h-1zM9 10h1v1h-1zM11 16h1v1h-1zM13 17h1v1h-1zM12 18h1v1h-1zM16 20h1v1h-1zM7 24h1v1h-1zM14 25h1v1h-1zM12 26h1v1h-1zM13 27h1v1h-1zM22 27h1v1h-1zM15 35h1v1h-1zM14 41h1v1h-1zM21 43h1v1h-1zM8 44h1v1h-1zM10 47h1v1h-1zM10 48h1v1h-1zM9 51h1v1h-1zM15 55h1v1h-1zM21 58h1v1h-1zM23 59h1v1h-1zM15 60h1v1h-1zM21 60h1v1h-1zM16 62h1v1h-1zM22 62h1v1h-1zM12 64h1v1h-1zM19 64h1v1h-1zM18 70h1v1h-1zM22 73h1v1h-1zM21 76h1v1h-1zM20 79h1v1h-1zM22 79h1v1h-1zM16 82h1v1h-1zM19 82h1v1h-1zM23 82h1v1h-1zM11 87h1v1h-1zM12 89h1v1h-1zM22 89h1v1h-1zM7 90h1v1h-1zM9 90h1v1h-1zM12 90h1v1h-1zM8 92h1v1h-1zM16 93h1v1h-1zM2 95h2v1h-2zM3 96h1v1h-1zM3 103h1v1h-1zM0 104h1v1h-1zM5 110h1v1h-1zM18 122h1v1h-1zM14 127h1v1h-1zM5 128h1v1h-1zM5 130h1v1h-1zM2 136h1v1h-1zM5 136h1v1h-1zM5 138h1v1h-1zM2 139h1v1h-1zM22 140h1v1h-1zM2 144h1v1h-1zM5 153h1v1h-1zM2 157h1v1h-1zM4 157h1v1h-1zM3 158h1v1h-1zM1 162h1v1h-1zM3 165h2v1h-2zM0 178h1v1h-1zM5 202h1v1h-1zM12 209h1v1h-1zM5 211h1v1h-1zM3 217h1v1h-1zM3 221h1v1h-1zM5 226h1v1h-1zM5 229h1v1h-1zM1 230h1v1h-1zM0 237h1v1h-1zM8 245h1v1h-1zM1 248h1v1h-1zM4 248h1v1h-1zM5 250h1v1h-1zM5 255h1v1h-1zM5 261h1v1h-1zM5 264h1v1h-1zM5 265h1v1h-1zM2 275h1v1h-1zM5 285h1v1h-1zM5 287h1v1h-1zM2 294h1v1h-1zM4 297h1v1h-1zM5 301h1v1h-1zM11 302h1v1h-1zM1 305h1v1h-1zM5 305h1v1h-1zM23 313h1v1h-1zM1 315h1v1h-1zM5 319h1v1h-1zM1 321h1v1h-1zM5 323h1v1h-1zM5 330h1v1h-1zM1 333h1v1h-1zM5 340h1v1h-1zM4 343h1v1h-1zM20 343h1v1h-1zM2 351h1v1h-1zM2 352h1v1h-1zM5 355h1v1h-1zM5 356h1v1h-1zM12 356h1v1h-1zM12 358h1v1h-1zM0 361h1v1h-1zM3 362h1v1h-1zM4 365h1v1h-1zM4 369h1v1h-1zM5 373h1v1h-1zM4 377h1v1h-1zM1 384h1v1h-1zM5 384h1v1h-1zM10 393h1v1h-1zM5 394h1v1h-1zM5 397h1v1h-1zM4 407h1v1h-1zM2 408h1v1h-1zM3 409h1v1h-1zM4 418h1v1h-1zM5 420h1v1h-1zM5 422h1v1h-1zM4 429h1v1h-1zM19 430h1v1h-1zM3 436h1v1h-1zM5 439h1v1h-1zM1 440h1v1h-1zM21 440h1v1h-1zM3 445h1v1h-1zM5 445h1v1h-1zM11 448h1v1h-1zM22 455h1v1h-1zM5 456h1v1h-1zM4 464h1v1h-1zM13 464h1v1h-1zM1 466h1v1h-1zM5 467h1v1h-1zM19 468h1v1h-1zM2 478h1v1h-1zM5 478h1v1h-1zM21 479h1v1h-1zM4 490h1v1h-1zM3 502h1v1h-1zM5 502h1v1h-1zM10 507h1v1h-1zM3 511h1v1h-1zM18 514h1v1h-1zM3 520h1v1h-1zM5 522h1v1h-1zM21 526h1v1h-1zM4 536h1v1h-1zM5 539h1v1h-1zM2 548h1v1h-1zM0 556h1v1h-1z"/>
<path fill="#f0c0c0" d="M1 2h1v1h-1zM5 10h1v1h-1zM4 13h1v1h-1zM22 13h1v1h-1zM5 29h1v1h-1zM2 33h1v1h-1zM7 36h1v1h-1zM4 39h1v1h-1zM5 43h1v1h-1zM19 52h1v1h-1zM15 121h1v1h-1zM21 134h1v1h-1zM23 138h1v1h-1zM8 153h1v1h-1zM8 163h1v1h-1zM16 194h1v1h-1zM9 211h1v1h-1zM12 234h1v1h-1zM16 243h1v1h-1zM23 246h1v1h-1zM17 249h1v1h-1zM15 264h1v1h-1zM20 266h1v1h-1zM10 267h1v1h-1zM19 279h1v1h-1zM19 307h1v1h-1zM9 309h1v1h-1zM8 335h1v1h-1zM15 344h1v1h-1zM14 374h1v1h-1zM12 379h1v1h-1zM8 394h1v1h-1zM16 395h1v1h-1zM17 398h1v1h-1zM8 414h1v1h-1zM7 450h1v1h-1zM16 456h1v1h-1zM8 463h1v1h-1zM7 505h1v1h-1zM12 510h1v1h-1zM6 517h1v1h-1zM11 528h1v1h-1zM19 540h1v1h-1z"/>
<path fill="#b4c0f0" d="M6 2h1v1h-1zM11 2h1v1h-1zM9 6h1v1h-1zM16 8h1v1h-1zM21 17h1v1h-1zM6 27h1v1h-1zM13 31h1v1h-1zM12 42h1v1h-1zM14 45h1v1h-1zM15 46h1v1h-1zM11 64h1v1h-1zM7 84h1v1h-1zM9 85h1v1h-1zM17 101h1v1h-1zM20 127h1v1h-1zM17 134h1v1h-1zM4 144h1v1h-1zM8 152h1v1h-1zM10 156h1v1h-1zM0 168h1v1h-1zM5 168h1v1h-1zM2 171h1v1h-1zM4 176h1v1h-1zM8 184h1v1h-1zM0 200h1v1h-1zM1 210h1v1h-1zM4 216h1v1h-1zM5 241h1v1h-1zM2 251h1v1h-1zM2 268h1v1h-1zM2 273h1v1h-1zM4 277h1v1h-1zM4 284h1v1h-1zM4 301h1v1h-1zM8 310h1v1h-1zM2 312h1v1h-1zM2 320h1v1h-1zM3 326h1v1h-1zM1 330h1v1h-1zM23 340h1v1h-1zM3 342h1v1h-1zM4 352h1v1h-1zM13 364h1v1h-1zM11 387h1v1h-1zM6 400h1v1h-1zM0 416h1v1h-1zM2 422h1v1h-1zM8 423h1v1h-1zM20 438h1v1h-1zM5 444h1v1h-1zM3 446h1v1h-1zM1 447h1v1h-1zM2 449h1v1h-1zM10 459h1v1h-1zM2 469h1v1h-1zM11 473h1v1h-1zM1 481h1v1h-1zM5 483h1v1h-1zM4 495h1v1h-1zM4 502h1v1h-1zM4 503h1v1h-1zM1 511h1v1h-1zM23 511h1v1h-1zM4 512h1v1h-1zM17 513h1v1h-1zM2 528h1v1h-1zM23 545h1v1h-1zM8 547h1v1h-1z"/>
<path fill="#6c6ce4" d="M12 2h1v1h-1zM23 3h1v1h-1zM8 4h1v1h-1zM17 16h1v1h-1zM9 21h1v1h-1zM6 25h1v1h-1zM6 34h1v1h-1zM17 35h1v1h-1zM14 36h1v1h-1zM13 40h1v1h-1zM21 41h1v1h-1zM17 42h1v1h-1zM9 45h1v1h-1zM18 47h1v1h-1zM23 47h1v1h-1zM16 55h1v1h-1zM16 57h1v1h-1zM16 61h1v1h-1zM11 68h1v1h-1zM12 76h1v1h-1zM13 79h1v1h-1zM21 81h1v1h-1zM21 85h1v1h-1zM16 90h1v1h-1zM22 93h1v1h-1zM4 103h1v1h-1zM5 107h1v1h-1zM5 116h1v1h-1zM0 121h1v1h-1zM1 180h1v1h-1zM3 191h1v1h-1zM5 196h1v1h-1zM5 197h1v1h-1zM5 207h1v1h-1zM4 210h1v1h-1zM5 219h1v1h-1zM4 230h1v1h-1zM5 231h1v1h-1zM1 233h1v1h-1zM0 234h1v1h-1zM4 256h1v1h-1zM2 292h1v1h-1zM3 299h1v1h-1zM4 315h1v1h-1zM1 316h1v1h-1zM0 317h1v1h-1zM4 333h1v1h-1zM1 344h1v1h-1zM0 357h1v1h-1zM5 370h1v1h-1zM2 373h1v1h-1zM5 427h1v1h-1zM5 434h1v1h-1zM5 458h1v1h-1zM2 474h1v1h-1zM0 476h1v1h-1zM5 499h1v1h-1zM4 525h1v1h-1zM5 526h1v1h-1z"/>
<path fill="#d8e4fc" d="M14 2h1v1h-1zM18 7h1v1h-1zM6 16h1v1h-1zM22 16h1v1h-1zM15 18h1v1h-1zM18 20h1v1h-1zM9 26h1v1h-1zM7 29h1v1h-1zM13 29h1v1h-1zM11 37h1v1h-1zM19 39h1v1h-1zM20 41h1v1h-1zM11 44h1v1h-1zM13 46h1v1h-1zM21 48h1v1h-1zM16 49h1v1h-1zM22 50h1v1h-1zM10 53h1v1h-1zM23 56h1v1h-1zM13 57h1v1h-1zM15 58h1v1h-1zM23 62h1v1h-1zM22 64h1v1h-1zM19 68h1v1h-1zM7 69h1v1h-1zM17 71h1v1h-1zM12 74h1v1h-1zM15 77h1v1h-1zM19 77h1v1h-1zM12 79h1v1h-1zM20 80h1v1h-1zM10 86h1v1h-1zM3 87h1v1h-1zM23 87h1v1h-1zM12 91h1v1h-1zM15 91h1v1h-1zM11 93h1v1h-1zM11 95h1v1h-1zM23 97h1v1h-1zM21 99h1v1h-1zM18 100h1v1h-1zM3 101h1v1h-1zM13 101h1v1h-1zM2 102h1v1h-1zM1 106h1v1h-1zM1 107h1v1h-1zM1 109h2v1h-2zM15 111h1v1h-1zM0 114h1v1h-1zM14 115h1v1h-1zM9 117h1v1h-1zM11 118h1v1h-1zM23 118h1v1h-1zM1 120h1v1h-1zM14 122h1v1h-1zM6 125h1v1h-1zM18 125h1v1h-1zM12 126h1v1h-1zM0 127h1v1h-1zM18 130h1v1h-1zM7 134h1v1h-1zM13 134h1v1h-1zM22 134h1v1h-1zM4 137h1v1h-1zM10 140h1v1h-1zM22 144h1v1h-1zM7 147h1v1h-1zM5 151h1v1h-1zM5 154h1v1h-1zM14 154h1v1h-1zM18 154h1v1h-1zM20 156h1v1h-1zM4 158h1v1h-1zM5 165h1v1h-1zM3 168h1v1h-1zM11 169h1v1h-1zM1 173h1v1h-1zM0 176h1v1h-1zM17 176h1v1h-1zM20 176h1v1h-1zM4 178h1v1h-1zM5 179h1v1h-1zM0 183h1v1h-1zM3 183h1v1h-1zM19 183h1v1h-1zM3 186h1v1h-1zM7 187h1v1h-1zM20 194h1v1h-1zM3 196h1v1h-1zM9 199h1v1h-1zM21 207h1v1h-1zM20 208h1v1h-1zM7 209h1v1h-1zM5 213h1v1h-1zM2 215h1v1h-1zM11 215h1v1h-1zM21 218h1v1h-1zM21 219h1v1h-1zM17 222h1v1h-1zM2 225h1v1h-1zM12 225h1v1h-1zM3 227h1v1h-1zM6 231h1v1h-1zM19 231h1v1h-1zM2 232h1v1h-1zM9 233h1v1h-1zM19 233h1v1h-1zM17 235h1v1h-1zM19 235h1v1h-1zM2 240h1v1h-1zM0 241h1v1h-1zM21 241h1v1h-1zM15 242h1v1h-1zM15 244h1v1h-1zM12 253h1v1h-1zM1 257h1v1h-1zM6 261h1v1h-1zM14 268h1v1h-1zM5 273h1v1h-1zM9 273h2v1h-2zM0 276h1v1h-1zM10 276h1v1h-1zM18 276h1v1h-1zM13 277h1v1h-1zM18 278h1v1h-1zM0 279h1v1h-1zM4 280h1v1h-1zM22 281h1v1h-1zM3 283h1v1h-1zM2 284h1v1h-1zM13 286h1v1h-1zM8 288h1v1h-1zM17 288h1v1h-1zM10 292h1v1h-1zM13 292h1v1h-1zM9 294h1v1h-1zM21 296h1v1h-1zM4 298h1v1h-1zM13 299h1v1h-1zM14 304h1v1h-1zM0 307h1v1h-1zM3 308h1v1h-1zM11 309h1v1h-1zM17 310h1v1h-1zM12 312h1v1h-1zM14 316h1v1h-1zM16 316h1v1h-1zM11 319h1v1h-1zM11 323h1v1h-1zM23 323h1v1h-1zM2 324h1v1h-1zM2 326h1v1h-1zM3 327h1v1h-1zM10 330h1v1h-1zM4 331h1v1h-1zM13 331h1v1h-1zM2 333h1v1h-1zM9 335h1v1h-1zM0 339h1v1h-1zM2 343h1v1h-1zM9 344h1v1h-1zM9 345h1v1h-1zM21 347h1v1h-1zM3 348h1v1h-1zM13 356h1v1h-1zM20 356h1v1h-1zM15 357h1v1h-1zM4 360h1v1h-1zM21 366h1v1h-1zM22 373h1v1h-1zM0 377h1v1h-1zM0 379h1v1h-1zM4 381h1v1h-1zM8 383h1v1h-1zM2 384h1v1h-1zM22 386h1v1h-1zM15 394h1v1h-1zM0 397h1v1h-1zM18 399h1v1h-1zM10 402h1v1h-1zM3 403h1v1h-1zM23 403h1v1h-1zM3 406h1v1h-1zM0 408h1v1h-1zM3 408h1v1h-1zM13 414h1v1h-1zM10 415h1v1h-1zM21 415h1v1h-1zM12 416h1v1h-1zM16 421h1v1h-1zM4 422h1v1h-1zM0 424h1v1h-1zM23 425h1v1h-1zM2 426h1v1h-1zM0 427h1v1h-1zM2 427h1v1h-1zM10 429h1v1h-1zM1 430h1v1h-1zM1 431h1v1h-1zM23 436h1v1h-1zM17 438h1v1h-1zM10 441h1v1h-1zM11 443h1v1h-1zM22 454h1v1h-1zM12 461h1v1h-1zM0 464h1v1h-1zM15 465h1v1h-1zM4 467h1v1h-1zM11 471h1v1h-1zM4 475h1v1h-1zM11 475h1v1h-1zM2 476h1v1h-1zM4 477h1v1h-1zM1 480h1v1h-1zM2 482h1v1h-1zM8 483h1v1h-1zM18 483h1v1h-1zM18 485h1v1h-1zM12 486h1v1h-1zM5 488h1v1h-1zM5 490h1v1h-1zM11 492h1v1h-1zM3 497h1v1h-1zM16 498h1v1h-1zM19 502h1v1h-1zM1 505h1v1h-1zM4 507h1v1h-1zM22 507h1v1h-1zM20 509h1v1h-1zM6 510h1v1h-1zM12 515h1v1h-1zM11 525h1v1h-1zM19 530h1v1h-1zM5 532h1v1h-1zM22 533h1v1h-1zM3 535h1v1h-1zM7 536h1v1h-1zM20 538h1v1h-1zM10 539h1v1h-1zM23 539h1v1h-1zM1 540h1v1h-1zM4 540h1v1h-1zM14 540h1v1h-1zM1 542h1v1h-1zM4 543h1v1h-1zM8 544h1v1h-1zM13 545h1v1h-1zM2 546h1v1h-1zM4 546h1v1h-1zM9 546h1v1h-1zM13 547h1v1h-1zM19 547h1v1h-1zM14 548h1v1h-1zM4 554h1v1h-1zM11 556h1v1h-1z"/>
<path fill="#e45454" d="M0 3h1v1h-1zM1 5h2v1h-2zM2 8h1v1h-1zM0 27h1v1h-1zM0 30h1v1h-1zM4 34h1v1h-1zM4 37h1v1h-1zM4 60h1v1h-1zM4 73h1v1h-1zM0 74h1v1h-1zM0 76h1v1h-1zM2 90h1v1h-1zM6 95h1v1h-1zM12 96h1v1h-1zM10 97h1v1h-1zM17 100h1v1h-1zM11 106h1v1h-1zM7 119h1v1h-1zM19 120h1v1h-1zM7 123h1v1h-1zM10 123h1v1h-1zM18 127h1v1h-1zM23 131h1v1h-1zM19 141h1v1h-1zM17 157h1v1h-1zM7 158h1v1h-1zM18 166h1v1h-1zM16 169h1v1h-1zM12 171h1v1h-1zM12 183h1v1h-1zM6 188h1v1h-1zM13 194h1v1h-1zM19 195h1v1h-1zM10 197h1v1h-1zM11 199h1v1h-1zM8 201h1v1h-1zM17 209h1v1h-1zM17 211h2v1h-2zM7 216h1v1h-1zM8 225h1v1h-1zM21 225h1v1h-1zM6 240h1v1h-1zM19 249h1v1h-1zM15 252h1v1h-1zM12 254h1v1h-1zM14 255h1v1h-1zM10 257h1v1h-1zM7 258h1v1h-1zM9 259h1v1h-1zM19 263h1v1h-1zM12 264h1v1h-1zM20 267h1v1h-1zM8 270h1v1h-1zM23 270h1v1h-1zM11 274h1v1h-1zM8 278h1v1h-1zM9 280h1v1h-1zM11 283h1v1h-1zM6 304h1v1h-1zM18 306h1v1h-1zM21 309h1v1h-1zM7 311h1v1h-1zM21 314h1v1h-1zM15 316h1v1h-1zM9 317h1v1h-1zM15 318h1v1h-1zM17 320h1v1h-1zM20 322h1v1h-1zM10 323h1v1h-1zM21 323h1v1h-1zM12 328h1v1h-1zM20 330h1v1h-1zM13 332h1v1h-1zM6 338h1v1h-1zM23 343h1v1h-1zM7 349h1v1h-1zM17 353h1v1h-1zM22 353h1v1h-1zM12 362h1v1h-1zM20 363h1v1h-1zM19 364h1v1h-1zM16 369h1v1h-1zM22 369h1v1h-1zM23 372h1v1h-1zM6 376h1v1h-1zM14 376h1v1h-1zM12 378h1v1h-1zM13 379h1v1h-1zM15 381h1v1h-1zM22 385h1v1h-1zM21 389h1v1h-1zM12 390h1v1h-1zM15 391h1v1h-1zM23 391h1v1h-1zM22 398h1v1h-1zM16 401h1v1h-1zM12 402h1v1h-1zM23 404h1v1h-1zM14 413h1v1h-1zM16 413h1v1h-1zM15 416h1v1h-1zM12 423h1v1h-1zM8 435h1v1h-1zM18 441h1v1h-1zM14 447h1v1h-1zM21 447h1v1h-1zM13 451h1v1h-1zM23 451h1v1h-1zM21 458h1v1h-1zM8 460h1v1h-1zM11 462h1v1h-1zM23 463h1v1h-1zM17 475h1v1h-1zM8 478h1v1h-1zM18 487h1v1h-1zM7 495h1v1h-1zM6 511h1v1h-1zM20 514h1v1h-1zM13 517h1v1h-1zM23 518h1v1h-1zM23 519h1v1h-1zM9 527h1v1h-1zM23 531h1v1h-1zM12 534h1v1h-1zM18 540h1v1h-1zM8 541h1v1h-1zM16 546h1v1h-1z"/>
<path fill="#e44854" d="M4 3h1v1h-1zM10 32h1v1h-1zM2 70h1v1h-1zM9 100h1v1h-1zM6 104h1v1h-1zM6 117h1v1h-1zM22 125h1v1h-1zM6 138h1v1h-1zM16 150h1v1h-1zM22 150h1v1h-1zM21 160h1v1h-1zM23 173h1v1h-1zM20 182h1v1h-1zM18 185h1v1h-1zM14 189h1v1h-1zM6 197h1v1h-1zM14 199h1v1h-1zM7 200h1v1h-1zM19 204h1v1h-1zM10 205h1v1h-1zM15 207h1v1h-1zM15 211h1v1h-1zM15 218h2v1h-2zM23 223h1v1h-1zM15 228h1v1h-1zM17 246h1v1h-1zM23 267h1v1h-1zM8 274h1v1h-1zM9 290h1v1h-1zM9 293h1v1h-1zM19 295h1v1h-1zM18 313h1v1h-1zM12 319h1v1h-1zM19 331h1v1h-1zM21 333h1v1h-1zM8 356h1v1h-1zM19 356h1v1h-1zM12 367h1v1h-1zM6 375h1v1h-1zM13 389h1v1h-1zM17 404h1v1h-1zM7 412h1v1h-1zM23 414h1v1h-1zM16 428h1v1h-1zM18 436h1v1h-1zM23 438h1v1h-1zM21 462h1v1h-1zM6 470h1v1h-1zM23 479h1v1h-1zM17 488h1v1h-1zM18 503h1v1h-1zM20 508h1v1h-1zM14 554h1v1h-1z"/>
<path fill="#ccd8fc" d="M6 3h1v1h-1zM21 4h1v1h-1zM9 13h1v1h-1zM23 16h1v1h-1zM13 21h2v1h-2zM17 21h1v1h-1zM5 26h1v1h-1zM23 29h1v1h-1zM23 38h1v1h-1zM19 41h1v1h-1zM9 53h1v1h-1zM9 60h1v1h-1zM7 61h1v1h-1zM9 73h1v1h-1zM15 76h1v1h-1zM13 78h1v1h-1zM6 84h1v1h-1zM3 86h1v1h-1zM18 90h1v1h-1zM21 90h1v1h-1zM21 91h1v1h-1zM15 101h1v1h-1zM2 103h1v1h-1zM23 105h1v1h-1zM0 115h1v1h-1zM3 125h1v1h-1zM7 125h1v1h-1zM9 127h1v1h-1zM17 129h1v1h-1zM20 129h1v1h-1zM23 135h1v1h-1zM9 136h1v1h-1zM20 137h1v1h-1zM1 140h1v1h-1zM22 147h1v1h-1zM18 153h1v1h-1zM16 155h1v1h-1zM3 156h1v1h-1zM19 159h1v1h-1zM11 160h1v1h-1zM22 163h1v1h-1zM11 173h1v1h-1zM2 177h1v1h-1zM21 182h1v1h-1zM0 190h1v1h-1zM15 190h1v1h-1zM9 197h1v1h-1zM17 201h1v1h-1zM13 205h1v1h-1zM20 214h1v1h-1zM3 222h1v1h-1zM20 222h1v1h-1zM9 223h1v1h-1zM3 231h1v1h-1zM3 232h1v1h-1zM13 232h1v1h-1zM16 236h1v1h-1zM0 238h1v1h-1zM0 242h1v1h-1zM19 251h1v1h-1zM0 252h1v1h-1zM20 252h1v1h-1zM4 253h1v1h-1zM11 253h1v1h-1zM8 260h1v1h-1zM21 261h1v1h-1zM21 263h1v1h-1zM2 267h1v1h-1zM12 268h2v1h-2zM10 275h1v1h-1zM11 278h1v1h-1zM0 283h1v1h-1zM16 291h1v1h-1zM4 303h1v1h-1zM3 304h1v1h-1zM6 315h1v1h-1zM0 318h1v1h-1zM0 320h1v1h-1zM8 334h1v1h-1zM10 335h1v1h-1zM3 336h1v1h-1zM22 337h1v1h-1zM9 343h1v1h-1zM20 349h1v1h-1zM12 351h1v1h-1zM2 353h1v1h-1zM9 353h1v1h-1zM21 355h1v1h-1zM0 356h1v1h-1zM9 363h1v1h-1zM0 364h1v1h-1zM18 368h1v1h-1zM8 369h1v1h-1zM1 374h1v1h-1zM4 374h1v1h-1zM4 380h1v1h-1zM17 380h1v1h-1zM20 385h1v1h-1zM3 394h1v1h-1zM11 395h1v1h-1zM3 397h1v1h-1zM20 398h1v1h-1zM3 404h1v1h-1zM0 407h1v1h-1zM9 408h1v1h-1zM18 409h1v1h-1zM8 410h1v1h-1zM10 411h1v1h-1zM13 412h1v1h-1zM19 412h1v1h-1zM17 413h1v1h-1zM7 414h1v1h-1zM9 415h1v1h-1zM0 420h1v1h-1zM15 421h1v1h-1zM1 423h1v1h-1zM20 424h1v1h-1zM1 425h1v1h-1zM21 426h1v1h-1zM7 428h1v1h-1zM12 428h1v1h-1zM10 434h1v1h-1zM3 441h1v1h-1zM19 441h1v1h-1zM1 444h1v1h-1zM5 446h1v1h-1zM5 448h1v1h-1zM13 448h1v1h-1zM5 450h1v1h-1zM15 453h1v1h-1zM16 458h1v1h-1zM17 463h1v1h-1zM6 464h1v1h-1zM10 465h1v1h-1zM17 466h1v1h-1zM3 470h1v1h-1zM5 475h1v1h-1zM3 476h1v1h-1zM18 477h1v1h-1zM7 481h1v1h-1zM11 481h1v1h-1zM5 482h1v1h-1zM18 486h1v1h-1zM8 487h1v1h-1zM1 489h1v1h-1zM20 490h1v1h-1zM2 491h1v1h-1zM4 491h1v1h-1zM14 495h1v1h-1zM0 500h1v1h-1zM8 502h1v1h-1zM2 505h2v1h-2zM15 505h1v1h-1zM0 507h1v1h-1zM18 510h2v1h-2zM1 514h1v1h-1zM10 514h1v1h-1zM1 515h1v1h-1zM5 516h1v1h-1zM0 518h1v1h-1zM12 518h1v1h-1zM18 520h1v1h-1zM8 521h1v1h-1zM10 521h1v1h-1zM1 525h1v1h-1zM0 534h1v1h-1zM3 534h1v1h-1zM5 534h1v1h-1zM22 536h1v1h-1zM1 537h1v1h-1zM12 537h1v1h-1zM8 538h1v1h-1zM12 539h1v1h-1zM2 542h1v1h-1zM21 544h1v1h-1zM2 545h1v1h-1zM2 549h1v1h-1zM4 549h1v1h-1zM9 553h1v1h-1zM22 556h1v1h-1z"/>
<path fill="#8490f0" d="M22 3h1v1h-1zM11 43h1v1h-1zM2 141h1v1h-1zM10 288h1v1h-1zM2 347h1v1h-1zM1 550h1v1h-1zM5 554h1v1h-1z"/>
<path fill="#e46060" d="M0 4h1v1h-1zM4 5h1v1h-1zM4 16h1v1h-1zM3 19h1v1h-1zM3 21h1v1h-1zM4 25h1v1h-1zM2 26h1v1h-1zM2 28h1v1h-1zM2 30h1v1h-1zM4 47h1v1h-1zM1 50h1v1h-1zM4 54h1v1h-1zM1 57h1v1h-1zM0 58h1v1h-1zM2 63h1v1h-1zM4 64h1v1h-1zM4 67h1v1h-1zM4 70h1v1h-1zM0 73h1v1h-1zM2 89h1v1h-1zM1 93h1v1h-1zM21 100h1v1h-1zM6 101h1v1h-1zM21 110h2v1h-2zM14 111h1v1h-1zM19 112h1v1h-1zM23 117h1v1h-1zM22 120h1v1h-1zM10 121h1v1h-1zM12 121h1v1h-1zM6 123h1v1h-1zM8 124h1v1h-1zM22 124h1v1h-1zM13 129h1v1h-1zM13 132h1v1h-1zM8 134h1v1h-1zM23 134h1v1h-1zM13 142h1v1h-1zM18 143h1v1h-1zM17 150h1v1h-1zM10 151h1v1h-1zM8 155h1v1h-1zM8 157h1v1h-1zM14 158h1v1h-1zM9 159h1v1h-1zM8 160h1v1h-1zM19 160h1v1h-1zM12 164h1v1h-1zM6 167h1v1h-1zM12 168h1v1h-1zM22 170h1v1h-1zM18 174h1v1h-1zM18 177h1v1h-1zM22 179h1v1h-1zM21 180h1v1h-1zM7 181h1v1h-1zM15 185h1v1h-1zM8 188h1v1h-1zM18 188h1v1h-1zM21 188h1v1h-1zM17 192h1v1h-1zM21 193h1v1h-1zM16 195h1v1h-1zM7 196h1v1h-1zM15 200h1v1h-1zM12 202h1v1h-1zM20 202h1v1h-1zM19 203h1v1h-1zM12 205h1v1h-1zM9 206h1v1h-1zM16 206h1v1h-1zM23 210h1v1h-1zM6 211h1v1h-1zM12 214h1v1h-1zM14 214h1v1h-1zM22 216h1v1h-1zM19 217h1v1h-1zM12 218h1v1h-1zM23 218h1v1h-1zM14 222h1v1h-1zM21 222h1v1h-1zM12 223h1v1h-1zM8 233h1v1h-1zM22 233h1v1h-1zM9 235h1v1h-1zM8 236h1v1h-1zM6 237h1v1h-1zM8 239h1v1h-1zM22 241h1v1h-1zM21 243h1v1h-1zM23 243h1v1h-1zM9 244h1v1h-1zM11 244h1v1h-1zM16 246h1v1h-1zM23 247h1v1h-1zM18 251h1v1h-1zM12 252h1v1h-1zM21 254h1v1h-1zM23 257h1v1h-1zM20 260h1v1h-1zM6 262h1v1h-1zM20 264h1v1h-1zM6 267h1v1h-1zM22 276h1v1h-1zM17 280h1v1h-1zM12 281h1v1h-1zM12 282h1v1h-1zM18 284h1v1h-1zM18 292h1v1h-1zM16 294h1v1h-1zM15 296h1v1h-1zM23 296h1v1h-1zM6 299h1v1h-1zM21 301h1v1h-1zM18 303h1v1h-1zM9 305h1v1h-1zM20 306h1v1h-1zM8 308h1v1h-1zM19 310h1v1h-1zM6 311h1v1h-1zM18 311h1v1h-1zM22 311h1v1h-1zM9 313h1v1h-1zM14 313h1v1h-1zM11 314h1v1h-1zM12 315h1v1h-1zM20 316h1v1h-1zM23 316h1v1h-1zM10 317h1v1h-1zM17 317h1v1h-1zM7 322h1v1h-1zM8 326h1v1h-1zM11 326h1v1h-1zM14 333h1v1h-1zM9 337h1v1h-1zM12 340h1v1h-1zM17 342h1v1h-1zM11 343h1v1h-1zM13 344h1v1h-1zM15 347h1v1h-1zM9 350h1v1h-1zM12 353h1v1h-1zM18 355h1v1h-1zM16 356h1v1h-1zM17 357h1v1h-1zM9 359h1v1h-1zM8 361h1v1h-1zM9 362h1v1h-1zM18 364h1v1h-1zM6 365h1v1h-1zM22 365h1v1h-1zM9 371h1v1h-1zM18 374h1v1h-1zM22 376h1v1h-1zM11 379h1v1h-1zM15 379h1v1h-1zM12 380h1v1h-1zM8 381h1v1h-1zM14 381h1v1h-1zM19 381h1v1h-1zM12 382h1v1h-1zM18 384h1v1h-1zM13 385h2v1h-2zM16 386h1v1h-1zM14 388h1v1h-1zM15 390h1v1h-1zM7 394h1v1h-1zM9 394h1v1h-1zM20 399h1v1h-1zM9 401h1v1h-1zM19 401h1v1h-1zM21 401h1v1h-1zM19 404h1v1h-1zM16 406h1v1h-1zM18 408h2v1h-2zM13 409h1v1h-1zM6 411h1v1h-1zM12 412h1v1h-1zM10 414h1v1h-1zM15 418h1v1h-1zM15 420h1v1h-1zM9 422h1v1h-1zM21 423h1v1h-1zM10 437h1v1h-1zM19 440h1v1h-1zM16 441h1v1h-1zM15 444h2v1h-2zM21 453h2v1h-2zM12 454h1v1h-1zM6 455h1v1h-1zM8 459h1v1h-1zM12 459h1v1h-1zM18 459h1v1h-1zM9 460h1v1h-1zM18 465h1v1h-1zM16 470h1v1h-1zM16 475h1v1h-1zM13 476h1v1h-1zM17 477h1v1h-1zM20 477h1v1h-1zM13 479h1v1h-1zM18 482h1v1h-1zM22 483h1v1h-1zM8 484h1v1h-1zM16 489h1v1h-1zM22 489h1v1h-1zM14 491h1v1h-1zM14 492h1v1h-1zM16 504h1v1h-1zM7 509h1v1h-1zM15 514h1v1h-1zM8 522h1v1h-1zM20 523h1v1h-1zM14 525h1v1h-1zM18 526h3v1h-3zM12 527h1v1h-1zM23 527h1v1h-1zM8 528h1v1h-1zM22 528h1v1h-1zM18 529h1v1h-1zM14 533h1v1h-1zM17 533h1v1h-1zM20 533h1v1h-1zM9 534h1v1h-1zM15 539h1v1h-1zM19 541h1v1h-1zM22 542h1v1h-1zM21 543h1v1h-1zM23 549h1v1h-1zM15 550h1v1h-1zM18 553h1v1h-1zM13 556h1v1h-1z"/>
<path fill="#5454cc" d="M16 4h1v1h-1zM22 5h1v1h-1zM16 11h1v1h-1zM14 14h1v1h-1zM16 42h1v1h-1zM23 52h1v1h-1zM17 54h1v1h-1zM15 68h1v1h-1zM6 70h1v1h-1zM9 72h1v1h-1zM8 93h1v1h-1zM19 93h1v1h-1zM5 102h1v1h-1zM5 200h1v1h-1zM2 470h1v1h-1z"/>
<path fill="#3c3cc0" d="M9 5h1v1h-1zM6 24h1v1h-1zM14 42h1v1h-1zM6 48h1v1h-1zM14 50h1v1h-1zM9 83h1v1h-1z"/>
<path fill="#1818a8" d="M20 5h1v1h-1zM16 12h1v1h-1zM16 19h1v1h-1zM16 46h1v1h-1z"/>
<path fill="#d84854" d="M4 6h1v1h-1zM0 55h1v1h-1zM9 95h1v1h-1zM10 195h1v1h-1zM22 210h1v1h-1zM8 211h1v1h-1zM11 235h1v1h-1zM15 273h1v1h-1zM20 292h1v1h-1zM15 320h1v1h-1zM8 366h1v1h-1zM7 375h1v1h-1zM22 384h1v1h-1zM18 394h1v1h-1zM7 411h1v1h-1zM8 464h1v1h-1zM9 507h1v1h-1zM8 514h1v1h-1zM14 519h1v1h-1z"/>
<path fill="#c0c0fc" d="M16 6h1v1h-1zM9 8h1v1h-1zM9 12h1v1h-1zM22 12h1v1h-1zM6 22h1v1h-1zM8 22h1v1h-1zM22 22h1v1h-1zM14 43h1v1h-1zM22 43h1v1h-1zM14 47h1v1h-1zM21 50h1v1h-1zM14 52h1v1h-1zM12 55h1v1h-1zM15 59h1v1h-1zM20 64h1v1h-1zM13 69h1v1h-1zM14 73h1v1h-1zM17 75h1v1h-1zM16 83h1v1h-1zM8 85h1v1h-1zM17 90h1v1h-1zM0 98h1v1h-1zM12 100h1v1h-1zM23 102h1v1h-1zM1 103h1v1h-1zM2 108h1v1h-1zM10 109h1v1h-1zM2 110h2v1h-2zM23 114h1v1h-1zM7 115h1v1h-1zM18 118h1v1h-1zM15 125h1v1h-1zM2 131h1v1h-1zM2 134h1v1h-1zM19 147h1v1h-1zM1 153h1v1h-1zM15 155h1v1h-1zM16 158h1v1h-1zM11 159h1v1h-1zM16 160h1v1h-1zM13 162h1v1h-1zM23 172h1v1h-1zM5 174h1v1h-1zM2 181h1v1h-1zM1 183h2v1h-2zM4 183h1v1h-1zM1 189h1v1h-1zM9 194h1v1h-1zM4 198h1v1h-1zM12 199h1v1h-1zM4 206h1v1h-1zM14 206h1v1h-1zM9 207h1v1h-1zM0 209h1v1h-1zM2 216h1v1h-1zM23 216h1v1h-1zM7 218h1v1h-1zM1 219h1v1h-1zM0 220h1v1h-1zM2 227h1v1h-1zM22 227h1v1h-1zM8 230h1v1h-1zM19 234h1v1h-1zM4 236h1v1h-1zM1 239h1v1h-1zM3 241h1v1h-1zM13 243h1v1h-1zM14 245h1v1h-1zM5 246h1v1h-1zM17 248h1v1h-1zM17 255h1v1h-1zM14 257h1v1h-1zM12 260h1v1h-1zM0 263h1v1h-1zM2 264h1v1h-1zM3 271h1v1h-1zM9 272h1v1h-1zM23 274h1v1h-1zM3 286h1v1h-1zM18 294h1v1h-1zM7 296h1v1h-1zM8 297h1v1h-1zM6 298h1v1h-1zM15 303h1v1h-1zM0 311h1v1h-1zM0 312h1v1h-1zM4 312h1v1h-1zM4 313h1v1h-1zM11 313h1v1h-1zM19 314h1v1h-1zM4 316h1v1h-1zM22 318h1v1h-1zM22 322h1v1h-1zM1 325h1v1h-1zM4 329h1v1h-1zM19 329h1v1h-1zM12 334h1v1h-1zM1 337h1v1h-1zM16 337h1v1h-1zM0 341h1v1h-1zM21 344h1v1h-1zM3 345h1v1h-1zM5 346h1v1h-1zM0 350h1v1h-1zM5 352h1v1h-1zM6 355h1v1h-1zM13 355h1v1h-1zM7 356h1v1h-1zM21 357h1v1h-1zM5 361h1v1h-1zM1 365h1v1h-1zM20 373h1v1h-1zM22 379h1v1h-1zM1 381h1v1h-1zM10 381h1v1h-1zM3 383h1v1h-1zM0 390h1v1h-1zM10 392h1v1h-1zM8 393h1v1h-1zM0 396h1v1h-1zM2 397h1v1h-1zM3 401h1v1h-1zM18 414h1v1h-1zM3 416h2v1h-2zM3 422h1v1h-1zM0 426h1v1h-1zM3 428h1v1h-1zM14 436h1v1h-1zM21 436h1v1h-1zM4 439h1v1h-1zM23 439h1v1h-1zM14 442h1v1h-1zM0 450h1v1h-1zM4 455h2v1h-2zM4 470h1v1h-1zM23 480h1v1h-1zM10 482h1v1h-1zM18 489h1v1h-1zM21 490h1v1h-1zM18 491h1v1h-1zM3 499h1v1h-1zM6 500h1v1h-1zM9 505h1v1h-1zM3 509h1v1h-1zM15 515h1v1h-1zM18 525h1v1h-1zM13 527h1v1h-1zM10 529h1v1h-1zM15 533h1v1h-1zM2 534h1v1h-1zM5 535h1v1h-1zM23 538h1v1h-1zM1 543h1v1h-1zM4 544h1v1h-1zM1 546h1v1h-1zM12 549h1v1h-1zM14 549h1v1h-1zM8 550h1v1h-1zM4 551h1v1h-1zM6 551h1v1h-1zM17 554h1v1h-1z"/>
<path fill="#d8303c" d="M1 7h1v1h-1zM10 101h1v1h-1zM17 109h1v1h-1zM15 113h1v1h-1zM18 121h1v1h-1zM11 130h1v1h-1zM18 137h1v1h-1zM7 138h1v1h-1zM23 143h1v1h-1zM17 151h1v1h-1zM6 153h1v1h-1zM9 166h1v1h-1zM15 182h1v1h-1zM7 185h1v1h-1zM8 186h1v1h-1zM6 200h1v1h-1zM15 230h1v1h-1zM8 250h1v1h-1zM22 250h1v1h-1zM10 266h1v1h-1zM21 291h1v1h-1zM17 295h1v1h-1zM8 316h1v1h-1zM14 320h1v1h-1zM22 320h1v1h-1zM18 325h1v1h-1zM15 327h1v1h-1zM9 329h1v1h-1zM8 348h1v1h-1zM15 349h1v1h-1zM23 352h1v1h-1zM9 368h1v1h-1zM22 378h1v1h-1zM22 402h1v1h-1zM7 409h1v1h-1zM23 424h1v1h-1zM14 441h1v1h-1zM11 453h1v1h-1zM8 498h1v1h-1zM20 513h1v1h-1zM23 521h1v1h-1zM17 549h1v1h-1zM15 553h1v1h-1z"/>
<path fill="#d83c48" d="M3 8h1v1h-1zM4 50h1v1h-1zM2 61h1v1h-1zM5 84h1v1h-1zM11 97h1v1h-1zM10 110h1v1h-1zM7 117h1v1h-1zM22 122h1v1h-1zM7 130h1v1h-1zM8 142h1v1h-1zM8 146h1v1h-1zM9 153h1v1h-1zM12 155h1v1h-1zM15 157h1v1h-1zM8 178h1v1h-1zM8 179h1v1h-1zM23 186h1v1h-1zM14 196h1v1h-1zM9 200h1v1h-1zM8 202h1v1h-1zM8 204h1v1h-1zM10 214h1v1h-1zM12 215h1v1h-1zM15 215h1v1h-1zM18 217h1v1h-1zM6 225h1v1h-1zM13 235h1v1h-1zM8 247h1v1h-1zM20 254h1v1h-1zM19 268h1v1h-1zM23 271h1v1h-1zM6 274h1v1h-1zM20 280h1v1h-1zM16 289h1v1h-1zM21 289h1v1h-1zM22 290h1v1h-1zM8 291h1v1h-1zM22 291h1v1h-1zM9 298h1v1h-1zM8 301h1v1h-1zM10 307h1v1h-1zM21 312h1v1h-1zM15 314h1v1h-1zM19 320h1v1h-1zM20 328h1v1h-1zM16 339h1v1h-1zM18 339h1v1h-1zM16 346h1v1h-1zM6 349h1v1h-1zM17 364h1v1h-1zM16 367h1v1h-1zM7 370h1v1h-1zM16 374h1v1h-1zM11 376h1v1h-1zM6 378h1v1h-1zM16 381h1v1h-1zM15 384h1v1h-1zM18 396h1v1h-1zM18 397h1v1h-1zM14 398h1v1h-1zM8 399h1v1h-1zM9 411h1v1h-1zM13 411h1v1h-1zM9 416h1v1h-1zM19 423h1v1h-1zM18 432h1v1h-1zM9 435h1v1h-1zM9 436h1v1h-1zM16 447h1v1h-1zM9 450h1v1h-1zM9 457h1v1h-1zM9 470h1v1h-1zM20 481h1v1h-1zM15 487h1v1h-1zM20 516h1v1h-1zM12 525h1v1h-1zM17 531h1v1h-1zM22 537h1v1h-1zM8 555h1v1h-1z"/>
<path fill="#cc303c" d="M4 9h1v1h-1zM22 103h1v1h-1zM7 161h1v1h-1zM21 181h1v1h-1zM7 247h1v1h-1zM7 555h1v1h-1zM22 555h1v1h-1z"/>
<path fill="#4848cc" d="M16 10h1v1h-1zM20 24h1v1h-1zM17 28h1v1h-1zM13 30h1v1h-1zM15 33h1v1h-1zM9 37h1v1h-1zM12 37h1v1h-1zM17 50h1v1h-1zM12 52h1v1h-1zM17 57h1v1h-1zM9 69h1v1h-1zM16 73h1v1h-1zM6 76h1v1h-1zM0 198h1v1h-1zM4 251h1v1h-1zM4 482h1v1h-1z"/>
<path fill="#cc1824" d="M0 11h1v1h-1zM9 104h1v1h-1zM10 168h1v1h-1zM9 221h1v1h-1zM8 271h1v1h-1zM7 363h1v1h-1zM16 371h1v1h-1zM8 404h1v1h-1zM22 433h1v1h-1zM9 472h1v1h-1zM8 477h1v1h-1zM8 492h1v1h-1zM9 503h1v1h-1z"/>
<path fill="#f09090" d="M4 11h1v1h-1zM3 13h1v1h-1zM13 14h1v1h-1zM1 16h1v1h-1zM0 17h1v1h-1zM3 17h1v1h-1zM0 18h1v1h-1zM2 18h1v1h-1zM3 20h1v1h-1zM1 21h1v1h-1zM3 23h1v1h-1zM2 25h1v1h-1zM7 31h1v1h-1zM5 34h1v1h-1zM18 37h1v1h-1zM1 38h1v1h-1zM1 40h1v1h-1zM1 41h1v1h-1zM2 42h1v1h-1zM16 44h1v1h-1zM4 46h1v1h-1zM22 47h1v1h-1zM1 49h1v1h-1zM5 50h1v1h-1zM4 52h1v1h-1zM4 53h1v1h-1zM14 53h1v1h-1zM7 57h1v1h-1zM19 57h1v1h-1zM4 58h1v1h-1zM16 60h1v1h-1zM4 61h1v1h-1zM0 62h1v1h-1zM4 66h1v1h-1zM0 70h1v1h-1zM22 71h1v1h-1zM10 72h1v1h-1zM2 73h1v1h-1zM0 75h1v1h-1zM8 81h1v1h-1zM3 82h1v1h-1zM5 82h1v1h-1zM13 83h1v1h-1zM1 89h1v1h-1zM4 89h1v1h-1zM3 91h1v1h-1zM0 93h1v1h-1zM17 96h1v1h-1zM18 98h1v1h-1zM6 99h1v1h-1zM23 99h1v1h-1zM14 110h1v1h-1zM19 125h1v1h-1zM9 129h1v1h-1zM21 129h1v1h-1zM12 135h1v1h-1zM6 136h1v1h-1zM6 140h1v1h-1zM13 143h1v1h-1zM22 145h1v1h-1zM6 147h1v1h-1zM22 148h1v1h-1zM15 150h1v1h-1zM10 152h1v1h-1zM12 153h1v1h-1zM7 155h1v1h-1zM8 156h2v1h-2zM21 156h1v1h-1zM14 159h1v1h-1zM12 160h1v1h-1zM19 162h1v1h-1zM12 163h1v1h-1zM12 165h1v1h-1zM8 172h1v1h-1zM9 177h1v1h-1zM9 185h1v1h-1zM19 186h1v1h-1zM21 189h1v1h-1zM16 192h1v1h-1zM23 193h1v1h-1zM23 194h1v1h-1zM15 196h1v1h-1zM6 198h1v1h-1zM21 198h1v1h-1zM15 199h1v1h-1zM18 201h1v1h-1zM10 202h1v1h-1zM15 202h1v1h-1zM6 205h1v1h-1zM10 211h1v1h-1zM18 212h1v1h-1zM14 216h1v1h-1zM17 216h1v1h-1zM22 217h1v1h-1zM20 219h1v1h-1zM10 226h1v1h-1zM20 231h1v1h-1zM20 232h1v1h-1zM9 234h1v1h-1zM11 234h1v1h-1zM21 240h1v1h-1zM21 246h1v1h-1zM13 249h1v1h-1zM22 249h1v1h-1zM8 254h1v1h-1zM17 256h1v1h-1zM8 257h1v1h-1zM17 259h1v1h-1zM6 260h1v1h-1zM16 263h1v1h-1zM23 266h1v1h-1zM7 277h1v1h-1zM21 279h1v1h-1zM9 283h1v1h-1zM11 284h1v1h-1zM21 285h1v1h-1zM14 288h1v1h-1zM17 290h1v1h-1zM20 295h1v1h-1zM22 297h1v1h-1zM10 298h1v1h-1zM21 298h1v1h-1zM12 299h1v1h-1zM21 304h1v1h-1zM14 309h1v1h-1zM17 309h1v1h-1zM7 310h1v1h-1zM17 316h1v1h-1zM18 318h1v1h-1zM19 319h1v1h-1zM7 321h1v1h-1zM8 322h1v1h-1zM13 325h1v1h-1zM6 326h1v1h-1zM23 326h1v1h-1zM22 329h1v1h-1zM8 330h1v1h-1zM9 331h1v1h-1zM16 335h1v1h-1zM6 336h1v1h-1zM8 337h1v1h-1zM7 341h1v1h-1zM23 344h1v1h-1zM15 345h1v1h-1zM8 347h2v1h-2zM21 361h1v1h-1zM17 367h1v1h-1zM13 369h1v1h-1zM15 373h1v1h-1zM17 373h1v1h-1zM20 376h1v1h-1zM11 377h1v1h-1zM22 380h1v1h-1zM7 383h1v1h-1zM23 383h1v1h-1zM16 390h1v1h-1zM11 396h1v1h-1zM20 397h1v1h-1zM9 399h1v1h-1zM12 399h1v1h-1zM6 403h1v1h-1zM22 413h1v1h-1zM9 417h1v1h-1zM23 418h1v1h-1zM23 421h1v1h-1zM9 425h1v1h-1zM14 425h1v1h-1zM19 425h1v1h-1zM17 430h1v1h-1zM8 431h1v1h-1zM12 435h1v1h-1zM6 437h1v1h-1zM21 439h1v1h-1zM9 441h1v1h-1zM17 445h1v1h-1zM17 448h1v1h-1zM22 448h1v1h-1zM10 449h1v1h-1zM12 449h1v1h-1zM19 450h1v1h-1zM19 452h1v1h-1zM8 455h1v1h-1zM18 457h1v1h-1zM14 458h1v1h-1zM6 459h1v1h-1zM6 460h1v1h-1zM20 464h1v1h-1zM14 466h1v1h-1zM15 471h1v1h-1zM18 471h1v1h-1zM14 474h1v1h-1zM18 476h1v1h-1zM13 477h1v1h-1zM19 482h1v1h-1zM15 484h2v1h-2zM9 494h1v1h-1zM18 494h1v1h-1zM20 497h1v1h-1zM10 504h1v1h-1zM14 504h1v1h-1zM19 505h1v1h-1zM10 506h1v1h-1zM8 507h1v1h-1zM8 509h1v1h-1zM19 509h1v1h-1zM8 510h1v1h-1zM14 512h1v1h-1zM16 513h1v1h-1zM23 514h1v1h-1zM10 515h1v1h-1zM7 516h1v1h-1zM22 518h1v1h-1zM19 519h1v1h-1zM9 520h1v1h-1zM6 521h1v1h-1zM18 521h1v1h-1zM19 524h1v1h-1zM9 525h1v1h-1zM16 525h1v1h-1zM19 525h1v1h-1zM12 535h1v1h-1zM21 536h1v1h-1zM6 538h1v1h-1zM15 541h1v1h-1zM16 544h1v1h-1zM7 549h1v1h-1zM20 549h1v1h-1zM13 551h1v1h-1z"/>
<path fill="#e45460" d="M1 12h1v1h-1zM0 14h1v1h-1zM1 48h1v1h-1zM1 72h1v1h-1zM3 73h1v1h-1zM11 103h1v1h-1zM11 111h1v1h-1zM21 121h1v1h-1zM8 135h1v1h-1zM20 136h1v1h-1zM6 144h1v1h-1zM12 148h1v1h-1zM6 152h1v1h-1zM19 166h1v1h-1zM19 173h1v1h-1zM23 175h1v1h-1zM21 179h1v1h-1zM10 180h1v1h-1zM15 183h1v1h-1zM18 184h1v1h-1zM15 201h1v1h-1zM15 206h1v1h-1zM23 211h1v1h-1zM16 216h1v1h-1zM18 226h1v1h-1zM23 232h1v1h-1zM11 247h1v1h-1zM15 248h1v1h-1zM22 264h1v1h-1zM17 269h1v1h-1zM23 272h1v1h-1zM23 299h1v1h-1zM22 310h1v1h-1zM23 311h1v1h-1zM17 312h1v1h-1zM19 316h1v1h-1zM14 322h1v1h-1zM10 329h1v1h-1zM13 339h1v1h-1zM10 341h1v1h-1zM22 342h1v1h-1zM17 348h1v1h-1zM15 353h1v1h-1zM22 354h1v1h-1zM11 360h1v1h-1zM15 370h1v1h-1zM23 371h1v1h-1zM9 374h1v1h-1zM9 384h1v1h-1zM21 406h1v1h-1zM16 410h1v1h-1zM23 410h1v1h-1zM9 412h1v1h-1zM14 412h1v1h-1zM16 435h1v1h-1zM17 437h1v1h-1zM22 445h1v1h-1zM19 446h1v1h-1zM10 450h1v1h-1zM8 456h1v1h-1zM8 457h1v1h-1zM11 457h1v1h-1zM18 463h1v1h-1zM21 468h1v1h-1zM23 471h1v1h-1zM6 476h1v1h-1zM8 481h1v1h-1zM12 498h1v1h-1zM15 507h1v1h-1zM19 507h1v1h-1zM20 511h1v1h-1zM8 518h1v1h-1zM15 522h1v1h-1zM8 531h1v1h-1zM14 537h1v1h-1zM19 539h1v1h-1zM6 555h1v1h-1zM15 556h1v1h-1z"/>
<path fill="#3030b4" d="M14 12h1v1h-1zM12 19h1v1h-1zM8 24h1v1h-1zM5 101h1v1h-1z"/>
<path fill="#cc2430" d="M4 14h1v1h-1zM23 132h1v1h-1zM7 174h1v1h-1zM9 257h1v1h-1zM22 262h1v1h-1zM19 281h1v1h-1zM19 354h1v1h-1zM23 359h1v1h-1zM6 444h1v1h-1zM12 457h1v1h-1zM21 483h1v1h-1zM10 530h1v1h-1z"/>
<path fill="#5454d8" d="M18 14h1v1h-1zM17 44h1v1h-1zM6 46h1v1h-1zM21 64h1v1h-1zM22 68h1v1h-1zM9 93h1v1h-1zM15 94h1v1h-1zM3 378h1v1h-1zM5 486h1v1h-1z"/>
<path fill="#6c6cd8" d="M10 16h1v1h-1zM13 25h1v1h-1zM7 30h1v1h-1zM6 50h1v1h-1zM6 56h1v1h-1zM7 72h1v1h-1zM8 79h1v1h-1zM5 337h1v1h-1zM3 455h1v1h-1z"/>
<path fill="#d84848" d="M0 22h1v1h-1zM4 29h1v1h-1zM4 43h1v1h-1zM15 96h1v1h-1zM7 103h1v1h-1zM20 112h1v1h-1zM8 113h1v1h-1zM22 116h1v1h-1zM23 126h1v1h-1zM8 128h1v1h-1zM16 139h1v1h-1zM12 142h1v1h-1zM9 151h1v1h-1zM13 157h1v1h-1zM23 159h1v1h-1zM18 161h1v1h-1zM23 165h1v1h-1zM20 172h1v1h-1zM20 179h1v1h-1zM6 187h1v1h-1zM18 222h1v1h-1zM18 227h1v1h-1zM8 232h1v1h-1zM12 239h1v1h-1zM13 244h1v1h-1zM22 251h1v1h-1zM6 256h1v1h-1zM7 261h1v1h-1zM6 268h1v1h-1zM15 287h1v1h-1zM14 294h1v1h-1zM6 296h1v1h-1zM16 298h1v1h-1zM18 298h1v1h-1zM12 311h2v1h-2zM6 314h1v1h-1zM16 319h1v1h-1zM19 322h1v1h-1zM21 325h1v1h-1zM10 334h1v1h-1zM21 334h1v1h-1zM6 335h1v1h-1zM14 335h1v1h-1zM20 338h1v1h-1zM22 346h1v1h-1zM6 356h1v1h-1zM13 360h1v1h-1zM7 366h1v1h-1zM13 381h1v1h-1zM19 383h1v1h-1zM21 397h1v1h-1zM9 404h1v1h-1zM23 407h1v1h-1zM13 413h1v1h-1zM23 432h1v1h-1zM15 434h1v1h-1zM8 440h1v1h-1zM13 440h1v1h-1zM15 447h1v1h-1zM9 452h1v1h-1zM22 458h1v1h-1zM23 482h1v1h-1zM21 487h1v1h-1zM23 487h1v1h-1zM17 503h1v1h-1zM22 510h1v1h-1zM19 518h1v1h-1zM17 524h1v1h-1zM7 542h1v1h-1zM14 545h1v1h-1zM17 548h1v1h-1z"/>
<path fill="#e4606c" d="M1 23h1v1h-1zM2 47h1v1h-1zM19 69h1v1h-1zM1 84h1v1h-1zM13 106h1v1h-1zM9 112h1v1h-1zM6 132h1v1h-1zM19 133h1v1h-1zM19 150h1v1h-1zM19 153h1v1h-1zM6 168h1v1h-1zM11 170h1v1h-1zM9 178h1v1h-1zM19 184h1v1h-1zM21 196h1v1h-1zM6 201h1v1h-1zM19 210h1v1h-1zM16 213h1v1h-1zM16 219h1v1h-1zM6 220h1v1h-1zM15 225h1v1h-1zM6 229h1v1h-1zM16 247h1v1h-1zM6 250h1v1h-1zM15 261h1v1h-1zM12 263h1v1h-1zM8 273h1v1h-1zM9 275h1v1h-1zM13 289h1v1h-1zM17 294h1v1h-1zM20 297h1v1h-1zM8 304h1v1h-1zM21 305h1v1h-1zM7 328h1v1h-1zM18 332h1v1h-1zM12 341h1v1h-1zM22 347h1v1h-1zM20 362h1v1h-1zM15 365h1v1h-1zM19 369h1v1h-1zM8 372h1v1h-1zM22 372h1v1h-1zM22 419h1v1h-1zM22 424h1v1h-1zM22 446h1v1h-1zM18 455h1v1h-1zM22 462h1v1h-1zM6 463h1v1h-1zM22 490h1v1h-1zM7 491h1v1h-1zM15 516h1v1h-1zM22 523h1v1h-1zM9 528h1v1h-1zM17 538h1v1h-1zM8 543h1v1h-1zM9 552h1v1h-1zM12 553h1v1h-1z"/>
<path fill="#2424b4" d="M15 30h1v1h-1z"/>
<path fill="#3030c0" d="M14 46h1v1h-1zM6 60h1v1h-1zM8 64h1v1h-1zM16 75h1v1h-1z"/>
<path fill="#cc3030" d="M0 47h1v1h-1zM17 154h1v1h-1zM16 178h1v1h-1zM23 389h1v1h-1zM18 419h1v1h-1zM8 468h1v1h-1zM7 492h1v1h-1zM18 495h1v1h-1z"/>
<path fill="#e46c6c" d="M2 76h1v1h-1zM19 97h1v1h-1zM15 105h1v1h-1zM20 120h1v1h-1zM6 130h1v1h-1zM9 134h1v1h-1zM6 178h1v1h-1zM13 199h1v1h-1zM22 202h1v1h-1zM14 211h1v1h-1zM23 265h1v1h-1zM12 289h1v1h-1zM11 329h1v1h-1zM16 333h1v1h-1zM9 342h1v1h-1zM22 357h1v1h-1zM20 374h1v1h-1zM6 379h1v1h-1zM7 407h1v1h-1zM22 418h1v1h-1zM6 443h1v1h-1zM14 445h1v1h-1zM12 462h1v1h-1zM23 462h1v1h-1zM12 466h1v1h-1zM19 490h1v1h-1zM8 517h1v1h-1zM15 531h1v1h-1zM6 554h1v1h-1z"/>
<path fill="#4848c0" d="M9 78h1v1h-1zM5 533h1v1h-1z"/>
<path fill="#d83c3c" d="M12 116h1v1h-1zM11 123h1v1h-1zM22 127h1v1h-1zM7 129h1v1h-1zM19 132h1v1h-1zM6 137h1v1h-1zM9 152h1v1h-1zM13 155h1v1h-1zM21 171h1v1h-1zM8 185h1v1h-1zM22 231h1v1h-1zM19 256h1v1h-1zM17 273h1v1h-1zM6 305h1v1h-1zM15 322h1v1h-1zM19 332h1v1h-1zM12 376h1v1h-1zM15 385h1v1h-1zM9 395h1v1h-1zM14 409h1v1h-1zM17 444h1v1h-1zM14 471h1v1h-1zM21 480h1v1h-1zM19 487h1v1h-1zM10 490h1v1h-1z"/>
<path fill="#cc1830" d="M16 185h1v1h-1z"/>
</g></g>
<g filter="url(#bl2)">
<text x="497" y="65.25" font-size="2.6" textLength="13.0" lengthAdjust="spacingAndGlyphs" fill="#5a5a5a">TFR898VK</text>
<text x="497" y="67.25" font-size="2.6" textLength="11.9" lengthAdjust="spacingAndGlyphs" fill="#5a5a5a">8TLPDUL</text>
<text x="497" y="69.26" font-size="2.6" textLength="11.7" lengthAdjust="spacingAndGlyphs" fill="#5a5a5a">UKLN0I7L</text>
<text x="497" y="71.26" font-size="2.6" textLength="15.2" lengthAdjust="spacingAndGlyphs" fill="#5a5a5a">MZ32BCK</text>
<text x="497" y="73.26" font-size="2.6" textLength="14.0" lengthAdjust="spacingAndGlyphs" fill="#5a5a5a">P36CO</text>
<text x="497" y="75.26" font-size="2.6" textLength="13.6" lengthAdjust="spacingAndGlyphs" fill="#5a5a5a">UUUKZFR7</text>
<text x="497" y="77.26" font-size="2.6" textLength="10.8" lengthAdjust="spacingAndGlyphs" fill="#5a5a5a">AHIC4</text>
<text x="497" y="79.27" font-size="2.6" textLength="11.9" lengthAdjust="spacingAndGlyphs" fill="#5a5a5a">TUOLZ</text>
<text x="497" y="81.27" font-size="2.6" textLength="15.3" lengthAdjust="spacingAndGlyphs" fill="#5a5a5a">2L8H00KT</text>
<text x="497" y="83.27" font-size="2.6" textLength="14.3" lengthAdjust="spacingAndGlyphs" fill="#5a5a5a">VRI67R</text>
<text x="497" y="85.27" font-size="2.6" textLength="14.1" lengthAdjust="spacingAndGlyphs" fill="#5a5a5a">4ZO2L2F</text>
<text x="497" y="87.27" font-size="2.6" textLength="10.7" lengthAdjust="spacingAndGlyphs" fill="#5a5a5a">2RR6KE</text>
<text x="497" y="89.28" font-size="2.6" textLength="14.4" lengthAdjust="spacingAndGlyphs" fill="#5a5a5a">ZB06G6</text>
<text x="497" y="91.28" font-size="2.6" textLength="11.8" lengthAdjust="spacingAndGlyphs" fill="#5a5a5a">IV2NH</text>
<text x="497" y="93.28" font-size="2.6" textLength="12.5" lengthAdjust="spacingAndGlyphs" fill="#5a5a5a">91OHAS</text>
<text x="497" y="95.28" font-size="2.6" textLength="12.5" lengthAdjust="spacingAndGlyphs" fill="#5a5a5a">995R1</text>
<text x="497" y="97.28" font-size="2.6" textLength="13.3" lengthAdjust="spacingAndGlyphs" fill="#5a5a5a">NR0L5</text>
<text x="497" y="99.29" font-size="2.6" textLength="11.2" lengthAdjust="spacingAndGlyphs" fill="#5a5a5a">BNPAI46N</text>
<text x="497" y="101.29" font-size="2.6" textLength="15.1" lengthAdjust="spacingAndGlyphs" fill="#5a5a5a">8RP4IP</text>
<text x="497" y="103.29" font-size="2.6" textLength="14.1" lengthAdjust="spacingAndGlyphs" fill="#5a5a5a">92F1H</text>
<text x="497" y="105.29" font-size="2.6" textLength="13.1" lengthAdjust="spacingAndGlyphs" fill="#5a5a5a">MG3C75T</text>
<text x="497" y="107.29" font-size="2.6" textLength="11.2" lengthAdjust="spacingAndGlyphs" fill="#5a5a5a">MUKVVAHS</text>
<text x="497" y="109.30" font-size="2.6" textLength="13.1" lengthAdjust="spacingAndGlyphs" fill="#5a5a5a">MI8RS</text>
<text x="497" y="111.30" font-size="2.6" textLength="14.3" lengthAdjust="spacingAndGlyphs" fill="#5a5a5a">RIA1SD</text>
<text x="497" y="113.30" font-size="2.6" textLength="14.4" lengthAdjust="spacingAndGlyphs" fill="#5a5a5a">9LI491V</text>
<text x="497" y="115.30" font-size="2.6" textLength="13.4" lengthAdjust="spacingAndGlyphs" fill="#5a5a5a">HOZVOU</text>
<text x="497" y="117.30" font-size="2.6" textLength="12.9" lengthAdjust="spacingAndGlyphs" fill="#5a5a5a">P3ISSL3</text>
<text x="497" y="119.31" font-size="2.6" textLength="13.3" lengthAdjust="spacingAndGlyphs" fill="#5a5a5a">R8VDAA</text>
<text x="497" y="121.31" font-size="2.6" textLength="12.7" lengthAdjust="spacingAndGlyphs" fill="#5a5a5a">FH7CTP4</text>
<text x="497" y="123.31" font-size="2.6" textLength="14.6" lengthAdjust="spacingAndGlyphs" fill="#5a5a5a">AU6RONH</text>
<text x="497" y="125.31" font-size="2.6" textLength="14.8" lengthAdjust="spacingAndGlyphs" fill="#5a5a5a">4R656H</text>
<text x="497" y="127.31" font-size="2.6" textLength="11.8" lengthAdjust="spacingAndGlyphs" fill="#5a5a5a">4H6BB22M</text>
<text x="497" y="129.32" font-size="2.6" textLength="13.8" lengthAdjust="spacingAndGlyphs" fill="#5a5a5a">36H79FUP</text>
<text x="497" y="131.32" font-size="2.6" textLength="13.1" lengthAdjust="spacingAndGlyphs" fill="#5a5a5a">N75R64BM</text>
<text x="497" y="133.32" font-size="2.6" textLength="10.5" lengthAdjust="spacingAndGlyphs" fill="#5a5a5a">1ZDH8P</text>
<text x="497" y="135.32" font-size="2.6" textLength="12.3" lengthAdjust="spacingAndGlyphs" fill="#5a5a5a">U2982N7</text>
<text x="497" y="137.32" font-size="2.6" textLength="12.6" lengthAdjust="spacingAndGlyphs" fill="#5a5a5a">ZDRFO5Z</text>
<text x="497" y="139.33" font-size="2.6" textLength="12.2" lengthAdjust="spacingAndGlyphs" fill="#5a5a5a">FLGLCK</text>
<text x="497" y="141.33" font-size="2.6" textLength="14.5" lengthAdjust="spacingAndGlyphs" fill="#5a5a5a">0AU238D</text>
<text x="497" y="143.33" font-size="2.6" textLength="14.7" lengthAdjust="spacingAndGlyphs" fill="#5a5a5a">HCDBS</text>
<text x="497" y="145.33" font-size="2.6" textLength="12.3" lengthAdjust="spacingAndGlyphs" fill="#5a5a5a">1I2K5</text>
<text x="497" y="147.33" font-size="2.6" textLength="11.4" lengthAdjust="spacingAndGlyphs" fill="#5a5a5a">Z7L3Z</text>
<text x="497" y="149.33" font-size="2.6" textLength="14.1" lengthAdjust="spacingAndGlyphs" fill="#5a5a5a">44OGRDT</text>
<text x="497" y="151.34" font-size="2.6" textLength="13.2" lengthAdjust="spacingAndGlyphs" fill="#5a5a5a">4ULZ5OE</text>
<text x="497" y="153.34" font-size="2.6" textLength="14.1" lengthAdjust="spacingAndGlyphs" fill="#5a5a5a">15UTIZUG</text>
<text x="497" y="155.34" font-size="2.6" textLength="10.8" lengthAdjust="spacingAndGlyphs" fill="#5a5a5a">72KN7</text>
<text x="497" y="157.34" font-size="2.6" textLength="14.1" lengthAdjust="spacingAndGlyphs" fill="#5a5a5a">TMDTG</text>
<text x="497" y="159.34" font-size="2.6" textLength="11.2" lengthAdjust="spacingAndGlyphs" fill="#5a5a5a">KGRI8R</text>
<text x="497" y="161.35" font-size="2.6" textLength="13.8" lengthAdjust="spacingAndGlyphs" fill="#5a5a5a">81UF8GFH</text>
<text x="497" y="163.35" font-size="2.6" textLength="11.0" lengthAdjust="spacingAndGlyphs" fill="#5a5a5a">TN6MB</text>
<text x="497" y="165.35" font-size="2.6" textLength="10.7" lengthAdjust="spacingAndGlyphs" fill="#5a5a5a">IU49SL2S</text>
<text x="497" y="167.35" font-size="2.6" textLength="13.6" lengthAdjust="spacingAndGlyphs" fill="#5a5a5a">VDSTN</text>
<text x="497" y="169.35" font-size="2.6" textLength="12.5" lengthAdjust="spacingAndGlyphs" fill="#5a5a5a">D23Z7</text>
<text x="497" y="171.36" font-size="2.6" textLength="11.3" lengthAdjust="spacingAndGlyphs" fill="#5a5a5a">EN9UA45R</text>
<text x="497" y="173.36" font-size="2.6" textLength="14.2" lengthAdjust="spacingAndGlyphs" fill="#5a5a5a">ZH33FV71</text>
<text x="497" y="175.36" font-size="2.6" textLength="12.9" lengthAdjust="spacingAndGlyphs" fill="#5a5a5a">K577T3</text>
<text x="497" y="177.36" font-size="2.6" textLength="11.4" lengthAdjust="spacingAndGlyphs" fill="#5a5a5a">EZ7DVU</text>
<text x="497" y="179.36" font-size="2.6" textLength="13.1" lengthAdjust="spacingAndGlyphs" fill="#5a5a5a">9A41LBPB</text>
<text x="497" y="181.37" font-size="2.6" textLength="14.7" lengthAdjust="spacingAndGlyphs" fill="#5a5a5a">ICC1U3T9</text>
<text x="497" y="183.37" font-size="2.6" textLength="14.6" lengthAdjust="spacingAndGlyphs" fill="#5a5a5a">848PEO</text>
<text x="497" y="185.37" font-size="2.6" textLength="10.7" lengthAdjust="spacingAndGlyphs" fill="#5a5a5a">60K5VNB5</text>
<text x="497" y="187.37" font-size="2.6" textLength="13.8" lengthAdjust="spacingAndGlyphs" fill="#5a5a5a">Z6UCEO9</text>
<text x="497" y="189.37" font-size="2.6" textLength="13.9" lengthAdjust="spacingAndGlyphs" fill="#5a5a5a">52LAEB0</text>
<text x="497" y="191.38" font-size="2.6" textLength="11.6" lengthAdjust="spacingAndGlyphs" fill="#5a5a5a">21VF7</text>
<text x="497" y="193.38" font-size="2.6" textLength="14.9" lengthAdjust="spacingAndGlyphs" fill="#5a5a5a">LFH0ANSS</text>
<text x="497" y="195.38" font-size="2.6" textLength="13.0" lengthAdjust="spacingAndGlyphs" fill="#5a5a5a">RL9LN</text>
<text x="497" y="197.38" font-size="2.6" textLength="14.3" lengthAdjust="spacingAndGlyphs" fill="#5a5a5a">PZ4O6T8U</text>
<text x="497" y="199.38" font-size="2.6" textLength="12.0" lengthAdjust="spacingAndGlyphs" fill="#5a5a5a">4DDNCNB</text>
<text x="497" y="201.39" font-size="2.6" textLength="15.1" lengthAdjust="spacingAndGlyphs" fill="#5a5a5a">KMC7V</text>
<text x="497" y="203.39" font-size="2.6" textLength="13.7" lengthAdjust="spacingAndGlyphs" fill="#5a5a5a">G895HFO</text>
<text x="497" y="205.39" font-size="2.6" textLength="13.3" lengthAdjust="spacingAndGlyphs" fill="#5a5a5a">ZTNNF1</text>
<text x="497" y="207.39" font-size="2.6" textLength="12.8" lengthAdjust="spacingAndGlyphs" fill="#5a5a5a">70N868</text>
<text x="497" y="209.39" font-size="2.6" textLength="15.3" lengthAdjust="spacingAndGlyphs" fill="#5a5a5a">POG3S</text>
<text x="497" y="211.40" font-size="2.6" textLength="12.2" lengthAdjust="spacingAndGlyphs" fill="#5a5a5a">PVU01</text>
<text x="497" y="213.40" font-size="2.6" textLength="13.5" lengthAdjust="spacingAndGlyphs" fill="#5a5a5a">K19RMG91</text>
<text x="497" y="215.40" font-size="2.6" textLength="11.7" lengthAdjust="spacingAndGlyphs" fill="#5a5a5a">730KS</text>
<text x="497" y="217.40" font-size="2.6" textLength="12.4" lengthAdjust="spacingAndGlyphs" fill="#5a5a5a">S9RBL</text>
<text x="497" y="219.40" font-size="2.6" textLength="13.1" lengthAdjust="spacingAndGlyphs" fill="#5a5a5a">BVBI92</text>
<text x="497" y="221.41" font-size="2.6" textLength="13.9" lengthAdjust="spacingAndGlyphs" fill="#5a5a5a">6K8LO</text>
<text x="497" y="223.41" font-size="2.6" textLength="11.1" lengthAdjust="spacingAndGlyphs" fill="#5a5a5a">F21DOP</text>
<text x="497" y="225.41" font-size="2.6" textLength="15.5" lengthAdjust="spacingAndGlyphs" fill="#5a5a5a">T2EIP99</text>
<text x="497" y="227.41" font-size="2.6" textLength="14.3" lengthAdjust="spacingAndGlyphs" fill="#5a5a5a">DM41NP</text>
<text x="497" y="229.41" font-size="2.6" textLength="12.9" lengthAdjust="spacingAndGlyphs" fill="#5a5a5a">MVSP92</text>
<text x="497" y="231.42" font-size="2.6" textLength="14.9" lengthAdjust="spacingAndGlyphs" fill="#5a5a5a">OA9F3</text>
<text x="497" y="233.42" font-size="2.6" textLength="15.1" lengthAdjust="spacingAndGlyphs" fill="#5a5a5a">BLSGS1E3</text>
<text x="497" y="235.42" font-size="2.6" textLength="11.0" lengthAdjust="spacingAndGlyphs" fill="#5a5a5a">SRFIUT2</text>
<text x="497" y="237.42" font-size="2.6" textLength="12.0" lengthAdjust="spacingAndGlyphs" fill="#5a5a5a">5FD1F2A</text>
<text x="497" y="239.42" font-size="2.6" textLength="15.3" lengthAdjust="spacingAndGlyphs" fill="#5a5a5a">S03N4FZI</text>
<text x="497" y="241.43" font-size="2.6" textLength="12.4" lengthAdjust="spacingAndGlyphs" fill="#5a5a5a">ILL3VLZK</text>
<text x="497" y="243.43" font-size="2.6" textLength="14.2" lengthAdjust="spacingAndGlyphs" fill="#5a5a5a">KF368</text>
<text x="497" y="245.43" font-size="2.6" textLength="11.5" lengthAdjust="spacingAndGlyphs" fill="#5a5a5a">G6M2AA</text>
<text x="497" y="247.43" font-size="2.6" textLength="12.1" lengthAdjust="spacingAndGlyphs" fill="#5a5a5a">KZC3G</text>
<text x="497" y="249.43" font-size="2.6" textLength="13.8" lengthAdjust="spacingAndGlyphs" fill="#5a5a5a">G3SK7U3</text>
<text x="497" y="251.44" font-size="2.6" textLength="11.1" lengthAdjust="spacingAndGlyphs" fill="#5a5a5a">DZHPOPNR</text>
<text x="497" y="253.44" font-size="2.6" textLength="12.6" lengthAdjust="spacingAndGlyphs" fill="#5a5a5a">14LCH</text>
<text x="497" y="255.44" font-size="2.6" textLength="13.1" lengthAdjust="spacingAndGlyphs" fill="#5a5a5a">3Z4KG6</text>
<text x="497" y="257.44" font-size="2.6" textLength="11.8" lengthAdjust="spacingAndGlyphs" fill="#5a5a5a">3ACK9I</text>
<text x="497" y="259.44" font-size="2.6" textLength="14.9" lengthAdjust="spacingAndGlyphs" fill="#5a5a5a">HP99C1AU</text>
<text x="497" y="261.45" font-size="2.6" textLength="11.7" lengthAdjust="spacingAndGlyphs" fill="#5a5a5a">5F18I7EK</text>
<text x="497" y="263.45" font-size="2.6" textLength="12.8" lengthAdjust="spacingAndGlyphs" fill="#5a5a5a">FKZ298C5</text>
<text x="497" y="265.45" font-size="2.6" textLength="10.6" lengthAdjust="spacingAndGlyphs" fill="#5a5a5a">0ZUL9</text>
<text x="497" y="267.45" font-size="2.6" textLength="15.0" lengthAdjust="spacingAndGlyphs" fill="#5a5a5a">VEK9V6MO</text>
<text x="497" y="269.45" font-size="2.6" textLength="13.7" lengthAdjust="spacingAndGlyphs" fill="#5a5a5a">TETRF</text>
<text x="497" y="271.46" font-size="2.6" textLength="14.9" lengthAdjust="spacingAndGlyphs" fill="#5a5a5a">C45BAU2O</text>
<text x="497" y="273.46" font-size="2.6" textLength="15.1" lengthAdjust="spacingAndGlyphs" fill="#5a5a5a">PVZETP5K</text>
<text x="497" y="275.46" font-size="2.6" textLength="15.5" lengthAdjust="spacingAndGlyphs" fill="#5a5a5a">BTUBIKI</text>
<text x="497" y="277.46" font-size="2.6" textLength="11.0" lengthAdjust="spacingAndGlyphs" fill="#5a5a5a">ES2OU</text>
<text x="497" y="279.46" font-size="2.6" textLength="12.4" lengthAdjust="spacingAndGlyphs" fill="#5a5a5a">2KH4T</text>
<text x="497" y="281.47" font-size="2.6" textLength="13.5" lengthAdjust="spacingAndGlyphs" fill="#5a5a5a">DM7GL</text>
<text x="497" y="283.47" font-size="2.6" textLength="11.0" lengthAdjust="spacingAndGlyphs" fill="#5a5a5a">FDUP12O9</text>
<text x="497" y="285.47" font-size="2.6" textLength="14.1" lengthAdjust="spacingAndGlyphs" fill="#5a5a5a">E2ASU</text>
<text x="497" y="287.47" font-size="2.6" textLength="14.1" lengthAdjust="spacingAndGlyphs" fill="#5a5a5a">SGNCNN</text>
<text x="497" y="289.47" font-size="2.6" textLength="15.2" lengthAdjust="spacingAndGlyphs" fill="#5a5a5a">H3G0G</text>
<text x="497" y="291.48" font-size="2.6" textLength="14.7" lengthAdjust="spacingAndGlyphs" fill="#5a5a5a">S25K2</text>
<text x="497" y="293.48" font-size="2.6" textLength="12.7" lengthAdjust="spacingAndGlyphs" fill="#5a5a5a">2D3R5S</text>
<text x="497" y="295.48" font-size="2.6" textLength="14.6" lengthAdjust="spacingAndGlyphs" fill="#5a5a5a">UT0L64U</text>
<text x="497" y="297.48" font-size="2.6" textLength="10.8" lengthAdjust="spacingAndGlyphs" fill="#5a5a5a">LPAT8F</text>
<text x="497" y="299.48" font-size="2.6" textLength="14.8" lengthAdjust="spacingAndGlyphs" fill="#5a5a5a">M0KM7</text>
<text x="497" y="301.49" font-size="2.6" textLength="11.5" lengthAdjust="spacingAndGlyphs" fill="#5a5a5a">GMLE5</text>
<text x="497" y="303.49" font-size="2.6" textLength="14.1" lengthAdjust="spacingAndGlyphs" fill="#5a5a5a">5NNU1V</text>
<text x="497" y="305.49" font-size="2.6" textLength="11.8" lengthAdjust="spacingAndGlyphs" fill="#5a5a5a">PE085Z</text>
<text x="497" y="307.49" font-size="2.6" textLength="12.5" lengthAdjust="spacingAndGlyphs" fill="#5a5a5a">CM2CGFUG</text>
<text x="497" y="309.49" font-size="2.6" textLength="15.1" lengthAdjust="spacingAndGlyphs" fill="#5a5a5a">Z6A9OUU</text>
<text x="497" y="311.49" font-size="2.6" textLength="11.2" lengthAdjust="spacingAndGlyphs" fill="#5a5a5a">80R6IAV</text>
<text x="497" y="313.50" font-size="2.6" textLength="13.6" lengthAdjust="spacingAndGlyphs" fill="#5a5a5a">56S5MR6</text>
<text x="497" y="315.50" font-size="2.6" textLength="13.3" lengthAdjust="spacingAndGlyphs" fill="#5a5a5a">G1BSV5</text>
<text x="497" y="317.50" font-size="2.6" textLength="12.3" lengthAdjust="spacingAndGlyphs" fill="#5a5a5a">3NPVMZS</text>
<text x="497" y="319.50" font-size="2.6" textLength="14.7" lengthAdjust="spacingAndGlyphs" fill="#5a5a5a">2HSHVAC</text>
<text x="497" y="321.50" font-size="2.6" textLength="14.6" lengthAdjust="spacingAndGlyphs" fill="#5a5a5a">89526MH</text>
<text x="497" y="323.51" font-size="2.6" textLength="13.1" lengthAdjust="spacingAndGlyphs" fill="#5a5a5a">UH2G93T</text>
<text x="497" y="325.51" font-size="2.6" textLength="11.8" lengthAdjust="spacingAndGlyphs" fill="#5a5a5a">8SK8V5ZZ</text>
<text x="497" y="327.51" font-size="2.6" textLength="15.4" lengthAdjust="spacingAndGlyphs" fill="#5a5a5a">GNNOB</text>
<text x="497" y="329.51" font-size="2.6" textLength="10.8" lengthAdjust="spacingAndGlyphs" fill="#5a5a5a">KMO8K</text>
<text x="497" y="331.51" font-size="2.6" textLength="12.6" lengthAdjust="spacingAndGlyphs" fill="#5a5a5a">V73VPZLM</text>
<text x="497" y="333.52" font-size="2.6" textLength="15.1" lengthAdjust="spacingAndGlyphs" fill="#5a5a5a">FMG8O4G3</text>
<text x="497" y="335.52" font-size="2.6" textLength="11.1" lengthAdjust="spacingAndGlyphs" fill="#5a5a5a">7GHPAN</text>
<text x="497" y="337.52" font-size="2.6" textLength="13.3" lengthAdjust="spacingAndGlyphs" fill="#5a5a5a">3NO56ZK</text>
<text x="497" y="339.52" font-size="2.6" textLength="14.1" lengthAdjust="spacingAndGlyphs" fill="#5a5a5a">L9UNM</text>
<text x="497" y="341.52" font-size="2.6" textLength="15.5" lengthAdjust="spacingAndGlyphs" fill="#5a5a5a">BNM1O90</text>
<text x="497" y="343.53" font-size="2.6" textLength="14.9" lengthAdjust="spacingAndGlyphs" fill="#5a5a5a">9VTKRH7R</text>
<text x="497" y="345.53" font-size="2.6" textLength="11.7" lengthAdjust="spacingAndGlyphs" fill="#5a5a5a">58SMHNK</text>
<text x="497" y="347.53" font-size="2.6" textLength="11.0" lengthAdjust="spacingAndGlyphs" fill="#5a5a5a">U9FVZ1T3</text>
<text x="497" y="349.53" font-size="2.6" textLength="13.4" lengthAdjust="spacingAndGlyphs" fill="#5a5a5a">4P6164ZM</text>
<text x="497" y="351.53" font-size="2.6" textLength="12.8" lengthAdjust="spacingAndGlyphs" fill="#5a5a5a">7O6LO</text>
<text x="497" y="353.54" font-size="2.6" textLength="12.0" lengthAdjust="spacingAndGlyphs" fill="#5a5a5a">OT96BUB</text>
<text x="497" y="355.54" font-size="2.6" textLength="12.8" lengthAdjust="spacingAndGlyphs" fill="#5a5a5a">DEH10347</text>
<text x="497" y="357.54" font-size="2.6" textLength="13.4" lengthAdjust="spacingAndGlyphs" fill="#5a5a5a">NL6R6</text>
<text x="497" y="359.54" font-size="2.6" textLength="12.0" lengthAdjust="spacingAndGlyphs" fill="#5a5a5a">5GFDU</text>
<text x="497" y="361.54" font-size="2.6" textLength="11.4" lengthAdjust="spacingAndGlyphs" fill="#5a5a5a">INFZT</text>
<text x="497" y="363.55" font-size="2.6" textLength="13.4" lengthAdjust="spacingAndGlyphs" fill="#5a5a5a">94GC0O4S</text>
<text x="497" y="365.55" font-size="2.6" textLength="10.7" lengthAdjust="spacingAndGlyphs" fill="#5a5a5a">KGFL1SMM</text>
<text x="497" y="367.55" font-size="2.6" textLength="15.3" lengthAdjust="spacingAndGlyphs" fill="#5a5a5a">02IK9</text>
<text x="497" y="369.55" font-size="2.6" textLength="14.6" lengthAdjust="spacingAndGlyphs" fill="#5a5a5a">34ML7B1</text>
<text x="497" y="371.55" font-size="2.6" textLength="10.9" lengthAdjust="spacingAndGlyphs" fill="#5a5a5a">3F8V16</text>
<text x="497" y="373.56" font-size="2.6" textLength="15.2" lengthAdjust="spacingAndGlyphs" fill="#5a5a5a">2RC0B8M</text>
<text x="497" y="375.56" font-size="2.6" textLength="15.0" lengthAdjust="spacingAndGlyphs" fill="#5a5a5a">AMDVB2</text>
<text x="497" y="377.56" font-size="2.6" textLength="13.6" lengthAdjust="spacingAndGlyphs" fill="#5a5a5a">00NSRK4M</text>
<text x="497" y="379.56" font-size="2.6" textLength="10.5" lengthAdjust="spacingAndGlyphs" fill="#5a5a5a">ESII2ZUG</text>
<text x="497" y="381.56" font-size="2.6" textLength="10.7" lengthAdjust="spacingAndGlyphs" fill="#5a5a5a">EN66K1O</text>
<text x="497" y="383.57" font-size="2.6" textLength="10.7" lengthAdjust="spacingAndGlyphs" fill="#5a5a5a">13OL71I</text>
<text x="497" y="385.57" font-size="2.6" textLength="10.9" lengthAdjust="spacingAndGlyphs" fill="#5a5a5a">00S0F0D5</text>
<text x="497" y="387.57" font-size="2.6" textLength="12.9" lengthAdjust="spacingAndGlyphs" fill="#5a5a5a">UCHAT98Z</text>
<text x="497" y="389.57" font-size="2.6" textLength="11.7" lengthAdjust="spacingAndGlyphs" fill="#5a5a5a">4D88ZVD</text>
<text x="497" y="391.57" font-size="2.6" textLength="14.7" lengthAdjust="spacingAndGlyphs" fill="#5a5a5a">9OOI2AT</text>
<text x="497" y="393.58" font-size="2.6" textLength="14.0" lengthAdjust="spacingAndGlyphs" fill="#5a5a5a">1520HEUO</text>
<text x="497" y="395.58" font-size="2.6" textLength="11.4" lengthAdjust="spacingAndGlyphs" fill="#5a5a5a">97E99F</text>
<text x="497" y="397.58" font-size="2.6" textLength="10.7" lengthAdjust="spacingAndGlyphs" fill="#5a5a5a">8GIK1PI</text>
<text x="497" y="399.58" font-size="2.6" textLength="13.5" lengthAdjust="spacingAndGlyphs" fill="#5a5a5a">ZHTD74E</text>
<text x="497" y="401.58" font-size="2.6" textLength="11.9" lengthAdjust="spacingAndGlyphs" fill="#5a5a5a">IRDRZ</text>
<text x="497" y="403.59" font-size="2.6" textLength="10.9" lengthAdjust="spacingAndGlyphs" fill="#5a5a5a">3RAPK</text>
<text x="497" y="405.59" font-size="2.6" textLength="10.7" lengthAdjust="spacingAndGlyphs" fill="#5a5a5a">CZPB037B</text>
<text x="497" y="407.59" font-size="2.6" textLength="14.8" lengthAdjust="spacingAndGlyphs" fill="#5a5a5a">3TDER</text>
<text x="497" y="409.59" font-size="2.6" textLength="13.5" lengthAdjust="spacingAndGlyphs" fill="#5a5a5a">PU0BMIH</text>
<text x="497" y="411.59" font-size="2.6" textLength="14.7" lengthAdjust="spacingAndGlyphs" fill="#5a5a5a">H3ILA98</text>
<text x="497" y="413.60" font-size="2.6" textLength="12.7" lengthAdjust="spacingAndGlyphs" fill="#5a5a5a">BPDKZ</text>
<text x="497" y="415.60" font-size="2.6" textLength="15.0" lengthAdjust="spacingAndGlyphs" fill="#5a5a5a">BL114VK</text>
<text x="497" y="417.60" font-size="2.6" textLength="10.9" lengthAdjust="spacingAndGlyphs" fill="#5a5a5a">PS33P</text>
<text x="497" y="419.60" font-size="2.6" textLength="13.0" lengthAdjust="spacingAndGlyphs" fill="#5a5a5a">576GEMDK</text>
<text x="497" y="421.60" font-size="2.6" textLength="14.4" lengthAdjust="spacingAndGlyphs" fill="#5a5a5a">LR5LDNI</text>
<text x="497" y="423.61" font-size="2.6" textLength="14.8" lengthAdjust="spacingAndGlyphs" fill="#5a5a5a">E112N</text>
<text x="497" y="425.61" font-size="2.6" textLength="10.8" lengthAdjust="spacingAndGlyphs" fill="#5a5a5a">3A42HH</text>
<text x="497" y="427.61" font-size="2.6" textLength="10.6" lengthAdjust="spacingAndGlyphs" fill="#5a5a5a">M61G3</text>
<text x="497" y="429.61" font-size="2.6" textLength="11.1" lengthAdjust="spacingAndGlyphs" fill="#5a5a5a">E80TS60</text>
<text x="497" y="431.61" font-size="2.6" textLength="14.3" lengthAdjust="spacingAndGlyphs" fill="#5a5a5a">128N28C</text>
<text x="497" y="433.62" font-size="2.6" textLength="12.5" lengthAdjust="spacingAndGlyphs" fill="#5a5a5a">A1HH92</text>
<text x="497" y="435.62" font-size="2.6" textLength="11.0" lengthAdjust="spacingAndGlyphs" fill="#5a5a5a">BTVEGC</text>
<text x="497" y="437.62" font-size="2.6" textLength="12.2" lengthAdjust="spacingAndGlyphs" fill="#5a5a5a">ZZLHI</text>
<text x="497" y="439.62" font-size="2.6" textLength="10.8" lengthAdjust="spacingAndGlyphs" fill="#5a5a5a">7ZMFNEK</text>
<text x="497" y="441.62" font-size="2.6" textLength="13.1" lengthAdjust="spacingAndGlyphs" fill="#5a5a5a">HN2TPZ0</text>
<text x="497" y="443.63" font-size="2.6" textLength="13.2" lengthAdjust="spacingAndGlyphs" fill="#5a5a5a">VD8HO</text>
<text x="497" y="445.63" font-size="2.6" textLength="10.7" lengthAdjust="spacingAndGlyphs" fill="#5a5a5a">ISK5OTT</text>
<text x="497" y="447.63" font-size="2.6" textLength="12.3" lengthAdjust="spacingAndGlyphs" fill="#5a5a5a">TNSMO</text>
<text x="497" y="449.63" font-size="2.6" textLength="14.0" lengthAdjust="spacingAndGlyphs" fill="#5a5a5a">K52Z56</text>
<text x="497" y="451.63" font-size="2.6" textLength="13.5" lengthAdjust="spacingAndGlyphs" fill="#5a5a5a">EN82EZ</text>
<text x="497" y="453.64" font-size="2.6" textLength="12.6" lengthAdjust="spacingAndGlyphs" fill="#5a5a5a">KN9RMF</text>
<text x="497" y="455.64" font-size="2.6" textLength="11.2" lengthAdjust="spacingAndGlyphs" fill="#5a5a5a">0TGR2</text>
<text x="497" y="457.64" font-size="2.6" textLength="11.3" lengthAdjust="spacingAndGlyphs" fill="#5a5a5a">09INT47K</text>
<text x="497" y="459.64" font-size="2.6" textLength="12.8" lengthAdjust="spacingAndGlyphs" fill="#5a5a5a">O4SR1U5E</text>
<text x="497" y="461.64" font-size="2.6" textLength="11.3" lengthAdjust="spacingAndGlyphs" fill="#5a5a5a">GU1POEF</text>
<text x="497" y="463.64" font-size="2.6" textLength="15.1" lengthAdjust="spacingAndGlyphs" fill="#5a5a5a">H7PZIU</text>
<text x="497" y="465.65" font-size="2.6" textLength="11.7" lengthAdjust="spacingAndGlyphs" fill="#5a5a5a">BZ3MOR</text>
<text x="497" y="467.65" font-size="2.6" textLength="12.5" lengthAdjust="spacingAndGlyphs" fill="#5a5a5a">NZV58DOE</text>
<text x="497" y="469.65" font-size="2.6" textLength="11.5" lengthAdjust="spacingAndGlyphs" fill="#5a5a5a">IRK2L5</text>
<text x="497" y="471.65" font-size="2.6" textLength="12.9" lengthAdjust="spacingAndGlyphs" fill="#5a5a5a">F51AI5D</text>
<text x="497" y="473.65" font-size="2.6" textLength="11.6" lengthAdjust="spacingAndGlyphs" fill="#5a5a5a">U8N435T</text>
<text x="497" y="475.66" font-size="2.6" textLength="12.4" lengthAdjust="spacingAndGlyphs" fill="#5a5a5a">FZ5FFC9U</text>
<text x="497" y="477.66" font-size="2.6" textLength="13.5" lengthAdjust="spacingAndGlyphs" fill="#5a5a5a">N8E70N</text>
<text x="497" y="479.66" font-size="2.6" textLength="15.2" lengthAdjust="spacingAndGlyphs" fill="#5a5a5a">NPD9D50S</text>
<text x="497" y="481.66" font-size="2.6" textLength="15.0" lengthAdjust="spacingAndGlyphs" fill="#5a5a5a">1ST3Z8E</text>
<text x="497" y="483.66" font-size="2.6" textLength="10.9" lengthAdjust="spacingAndGlyphs" fill="#5a5a5a">I99SCNE4</text>
<text x="497" y="485.67" font-size="2.6" textLength="14.4" lengthAdjust="spacingAndGlyphs" fill="#5a5a5a">50VLZHV</text>
<text x="497" y="487.67" font-size="2.6" textLength="15.0" lengthAdjust="spacingAndGlyphs" fill="#5a5a5a">SRA3AKL</text>
<text x="497" y="489.67" font-size="2.6" textLength="10.6" lengthAdjust="spacingAndGlyphs" fill="#5a5a5a">B9GMA1</text>
<text x="497" y="491.67" font-size="2.6" textLength="14.6" lengthAdjust="spacingAndGlyphs" fill="#5a5a5a">79916T9</text>
<text x="497" y="493.67" font-size="2.6" textLength="13.1" lengthAdjust="spacingAndGlyphs" fill="#5a5a5a">CUKM1B8</text>
<text x="497" y="495.68" font-size="2.6" textLength="11.2" lengthAdjust="spacingAndGlyphs" fill="#5a5a5a">HK0UZP</text>
<text x="497" y="497.68" font-size="2.6" textLength="14.3" lengthAdjust="spacingAndGlyphs" fill="#5a5a5a">8UK14B12</text>
<text x="497" y="499.68" font-size="2.6" textLength="14.9" lengthAdjust="spacingAndGlyphs" fill="#5a5a5a">V152EDHT</text>
<text x="497" y="501.68" font-size="2.6" textLength="12.7" lengthAdjust="spacingAndGlyphs" fill="#5a5a5a">BHP66C</text>
<text x="497" y="503.68" font-size="2.6" textLength="11.3" lengthAdjust="spacingAndGlyphs" fill="#5a5a5a">D0CR0BI</text>
<text x="497" y="505.69" font-size="2.6" textLength="12.6" lengthAdjust="spacingAndGlyphs" fill="#5a5a5a">SVF55</text>
<text x="497" y="507.69" font-size="2.6" textLength="14.6" lengthAdjust="spacingAndGlyphs" fill="#5a5a5a">2GKLK</text>
<text x="497" y="509.69" font-size="2.6" textLength="12.6" lengthAdjust="spacingAndGlyphs" fill="#5a5a5a">EGH1L</text>
<text x="497" y="511.69" font-size="2.6" textLength="13.5" lengthAdjust="spacingAndGlyphs" fill="#5a5a5a">ATMEE7T9</text>
<text x="497" y="513.69" font-size="2.6" textLength="12.9" lengthAdjust="spacingAndGlyphs" fill="#5a5a5a">86HKAO</text>
<text x="497" y="515.70" font-size="2.6" textLength="10.8" lengthAdjust="spacingAndGlyphs" fill="#5a5a5a">2F7AM21H</text>
<text x="497" y="517.70" font-size="2.6" textLength="11.8" lengthAdjust="spacingAndGlyphs" fill="#5a5a5a">FOBB60</text>
<text x="497" y="519.70" font-size="2.6" textLength="13.1" lengthAdjust="spacingAndGlyphs" fill="#5a5a5a">UPH97FG</text>
<text x="497" y="521.70" font-size="2.6" textLength="13.8" lengthAdjust="spacingAndGlyphs" fill="#5a5a5a">SE9H2</text>
<text x="497" y="523.70" font-size="2.6" textLength="12.5" lengthAdjust="spacingAndGlyphs" fill="#5a5a5a">CT9M6OI</text>
<text x="497" y="525.71" font-size="2.6" textLength="12.7" lengthAdjust="spacingAndGlyphs" fill="#5a5a5a">KRHLLH2</text>
<text x="497" y="527.71" font-size="2.6" textLength="10.6" lengthAdjust="spacingAndGlyphs" fill="#5a5a5a">5E10MBB</text>
<text x="497" y="529.71" font-size="2.6" textLength="15.3" lengthAdjust="spacingAndGlyphs" fill="#5a5a5a">UGKL6VE</text>
<text x="497" y="531.71" font-size="2.6" textLength="11.5" lengthAdjust="spacingAndGlyphs" fill="#5a5a5a">8T1KFN9</text>
<text x="497" y="533.71" font-size="2.6" textLength="10.7" lengthAdjust="spacingAndGlyphs" fill="#5a5a5a">SVR9IAE</text>
<text x="497" y="535.72" font-size="2.6" textLength="14.0" lengthAdjust="spacingAndGlyphs" fill="#5a5a5a">LDBS4</text>
<text x="497" y="537.72" font-size="2.6" textLength="13.2" lengthAdjust="spacingAndGlyphs" fill="#5a5a5a">284U2H</text>
<text x="497" y="539.72" font-size="2.6" textLength="10.7" lengthAdjust="spacingAndGlyphs" fill="#5a5a5a">ELZCNBZ</text>
<text x="497" y="541.72" font-size="2.6" textLength="14.1" lengthAdjust="spacingAndGlyphs" fill="#5a5a5a">6GZ7M8OO</text>
<text x="497" y="543.72" font-size="2.6" textLength="10.8" lengthAdjust="spacingAndGlyphs" fill="#5a5a5a">C5ON4V9</text>
<text x="497" y="545.73" font-size="2.6" textLength="13.7" lengthAdjust="spacingAndGlyphs" fill="#5a5a5a">ZAIRV9</text>
<text x="497" y="547.73" font-size="2.6" textLength="10.9" lengthAdjust="spacingAndGlyphs" fill="#5a5a5a">6F3OATZB</text>
<text x="497" y="549.73" font-size="2.6" textLength="14.4" lengthAdjust="spacingAndGlyphs" fill="#5a5a5a">FRAC8DB</text>
<text x="497" y="551.73" font-size="2.6" textLength="12.2" lengthAdjust="spacingAndGlyphs" fill="#5a5a5a">K5USZ0</text>
<text x="497" y="553.73" font-size="2.6" textLength="11.0" lengthAdjust="spacingAndGlyphs" fill="#5a5a5a">R1TFZ</text>
<text x="497" y="555.74" font-size="2.6" textLength="10.6" lengthAdjust="spacingAndGlyphs" fill="#5a5a5a">BC2UDAUG</text>
<text x="497" y="557.74" font-size="2.6" textLength="15.5" lengthAdjust="spacingAndGlyphs" fill="#5a5a5a">D1HO5L1R</text>
<text x="497" y="559.74" font-size="2.6" textLength="11.0" lengthAdjust="spacingAndGlyphs" fill="#5a5a5a">5A8BP6Z</text>
<text x="497" y="561.74" font-size="2.6" textLength="12.6" lengthAdjust="spacingAndGlyphs" fill="#5a5a5a">EA0K9SF</text>
<text x="497" y="563.74" font-size="2.6" textLength="14.3" lengthAdjust="spacingAndGlyphs" fill="#5a5a5a">NBHFGBP</text>
<text x="497" y="565.75" font-size="2.6" textLength="13.7" lengthAdjust="spacingAndGlyphs" fill="#5a5a5a">7U6N0</text>
<text x="497" y="567.75" font-size="2.6" textLength="12.0" lengthAdjust="spacingAndGlyphs" fill="#5a5a5a">CC5LBLHK</text>
<text x="497" y="569.75" font-size="2.6" textLength="11.6" lengthAdjust="spacingAndGlyphs" fill="#5a5a5a">M8SOIUZ</text>
<text x="497" y="571.75" font-size="2.6" textLength="14.6" lengthAdjust="spacingAndGlyphs" fill="#5a5a5a">B33Z0</text>
<text x="497" y="573.75" font-size="2.6" textLength="11.3" lengthAdjust="spacingAndGlyphs" fill="#5a5a5a">91H4MIE</text>
<text x="497" y="575.76" font-size="2.6" textLength="11.4" lengthAdjust="spacingAndGlyphs" fill="#5a5a5a">AAZP25U</text>
<text x="497" y="577.76" font-size="2.6" textLength="15.0" lengthAdjust="spacingAndGlyphs" fill="#5a5a5a">CFR87</text>
<text x="497" y="579.76" font-size="2.6" textLength="12.3" lengthAdjust="spacingAndGlyphs" fill="#5a5a5a">0HI10</text>
<text x="497" y="581.76" font-size="2.6" textLength="15.1" lengthAdjust="spacingAndGlyphs" fill="#5a5a5a">PF1AU</text>
<text x="497" y="583.76" font-size="2.6" textLength="14.2" lengthAdjust="spacingAndGlyphs" fill="#5a5a5a">3K8PEPP6</text>
<text x="497" y="585.77" font-size="2.6" textLength="13.3" lengthAdjust="spacingAndGlyphs" fill="#5a5a5a">E50SL30</text>
<text x="497" y="587.77" font-size="2.6" textLength="12.2" lengthAdjust="spacingAndGlyphs" fill="#5a5a5a">PFGPD2L</text>
<text x="497" y="589.77" font-size="2.6" textLength="13.6" lengthAdjust="spacingAndGlyphs" fill="#5a5a5a">KHHF3I</text>
<text x="497" y="591.77" font-size="2.6" textLength="15.3" lengthAdjust="spacingAndGlyphs" fill="#5a5a5a">STV1Z4</text>
<text x="497" y="593.77" font-size="2.6" textLength="12.7" lengthAdjust="spacingAndGlyphs" fill="#5a5a5a">2CMO6P97</text>
<text x="497" y="595.78" font-size="2.6" textLength="11.1" lengthAdjust="spacingAndGlyphs" fill="#5a5a5a">I2H1ZKO</text>
<text x="497" y="597.78" font-size="2.6" textLength="14.9" lengthAdjust="spacingAndGlyphs" fill="#5a5a5a">GEF8H7</text>
<text x="497" y="599.78" font-size="2.6" textLength="13.3" lengthAdjust="spacingAndGlyphs" fill="#5a5a5a">BMBTICL</text>
<text x="497" y="601.78" font-size="2.6" textLength="14.3" lengthAdjust="spacingAndGlyphs" fill="#5a5a5a">9CVL137</text>
<text x="497" y="603.78" font-size="2.6" textLength="12.9" lengthAdjust="spacingAndGlyphs" fill="#5a5a5a">2GHBG</text>
<text x="497" y="605.79" font-size="2.6" textLength="13.2" lengthAdjust="spacingAndGlyphs" fill="#5a5a5a">09662TZB</text>
<text x="497" y="607.79" font-size="2.6" textLength="11.0" lengthAdjust="spacingAndGlyphs" fill="#5a5a5a">3DF1C</text>
<text x="497" y="609.79" font-size="2.6" textLength="13.3" lengthAdjust="spacingAndGlyphs" fill="#5a5a5a">18ID3B0</text>
<text x="497" y="611.79" font-size="2.6" textLength="15.3" lengthAdjust="spacingAndGlyphs" fill="#5a5a5a">UMH256H</text>
<text x="497" y="613.79" font-size="2.6" textLength="10.6" lengthAdjust="spacingAndGlyphs" fill="#5a5a5a">NPSFMK</text>
<text x="497" y="615.80" font-size="2.6" textLength="14.9" lengthAdjust="spacingAndGlyphs" fill="#5a5a5a">07BHKZF</text>
<text x="497" y="617.80" font-size="2.6" textLength="13.9" lengthAdjust="spacingAndGlyphs" fill="#5a5a5a">RSSVHNM</text>
<text x="497" y="619.80" font-size="2.6" textLength="11.1" lengthAdjust="spacingAndGlyphs" fill="#5a5a5a">ISMTCB</text>
<text x="497" y="621.80" font-size="2.6" textLength="14.3" lengthAdjust="spacingAndGlyphs" fill="#5a5a5a">IPL667CR</text>
<text x="497" y="623.80" font-size="2.6" textLength="10.6" lengthAdjust="spacingAndGlyphs" fill="#5a5a5a">5CSAM</text>
<text x="497" y="625.80" font-size="2.6" textLength="11.1" lengthAdjust="spacingAndGlyphs" fill="#5a5a5a">32SD77</text>
<text x="497" y="627.81" font-size="2.6" textLength="12.4" lengthAdjust="spacingAndGlyphs" fill="#5a5a5a">RUEIVE</text>
<text x="497" y="629.81" font-size="2.6" textLength="14.5" lengthAdjust="spacingAndGlyphs" fill="#5a5a5a">U5R5B</text>
<text x="497" y="631.81" font-size="2.6" textLength="12.4" lengthAdjust="spacingAndGlyphs" fill="#5a5a5a">7S81F</text>
<text x="497" y="633.81" font-size="2.6" textLength="11.0" lengthAdjust="spacingAndGlyphs" fill="#5a5a5a">236UR</text>
<text x="497" y="635.81" font-size="2.6" textLength="12.0" lengthAdjust="spacingAndGlyphs" fill="#5a5a5a">PLD10DAP</text>
<text x="497" y="637.82" font-size="2.6" textLength="15.4" lengthAdjust="spacingAndGlyphs" fill="#5a5a5a">GANGSCLI</text>
<text x="497" y="639.82" font-size="2.6" textLength="14.7" lengthAdjust="spacingAndGlyphs" fill="#5a5a5a">DOUC3OI</text>
<text x="497" y="641.82" font-size="2.6" textLength="10.8" lengthAdjust="spacingAndGlyphs" fill="#5a5a5a">3OVMD</text>
<text x="497" y="643.82" font-size="2.6" textLength="12.2" lengthAdjust="spacingAndGlyphs" fill="#5a5a5a">12UG7BFF</text>
<text x="497" y="645.82" font-size="2.6" textLength="11.0" lengthAdjust="spacingAndGlyphs" fill="#5a5a5a">0ZD1T</text>
<text x="497" y="647.83" font-size="2.6" textLength="14.9" lengthAdjust="spacingAndGlyphs" fill="#5a5a5a">E28R2Z</text>
<text x="497" y="649.83" font-size="2.6" textLength="12.2" lengthAdjust="spacingAndGlyphs" fill="#5a5a5a">3FEAG</text>
<text x="497" y="651.83" font-size="2.6" textLength="14.9" lengthAdjust="spacingAndGlyphs" fill="#5a5a5a">5ZB0S6VP</text>
<text x="497" y="653.83" font-size="2.6" textLength="13.5" lengthAdjust="spacingAndGlyphs" fill="#5a5a5a">M4N310</text>
<text x="497" y="655.83" font-size="2.6" textLength="15.3" lengthAdjust="spacingAndGlyphs" fill="#5a5a5a">ET04D0</text>
<text x="497" y="657.84" font-size="2.6" textLength="12.2" lengthAdjust="spacingAndGlyphs" fill="#5a5a5a">LIRTM</text>
<text x="497" y="659.84" font-size="2.6" textLength="13.2" lengthAdjust="spacingAndGlyphs" fill="#5a5a5a">03TH3MK</text>
<text x="497" y="661.84" font-size="2.6" textLength="13.1" lengthAdjust="spacingAndGlyphs" fill="#5a5a5a">PAAUL56</text>
<text x="497" y="663.84" font-size="2.6" textLength="15.2" lengthAdjust="spacingAndGlyphs" fill="#5a5a5a">VM18EN3D</text>
<text x="497" y="665.84" font-size="2.6" textLength="14.4" lengthAdjust="spacingAndGlyphs" fill="#5a5a5a">6IUAB3</text>
<text x="497" y="667.85" font-size="2.6" textLength="12.2" lengthAdjust="spacingAndGlyphs" fill="#5a5a5a">HRPTZ</text>
<text x="497" y="669.85" font-size="2.6" textLength="10.8" lengthAdjust="spacingAndGlyphs" fill="#5a5a5a">L2OPTTIH</text>
<text x="497" y="671.85" font-size="2.6" textLength="11.5" lengthAdjust="spacingAndGlyphs" fill="#5a5a5a">N38VZU0</text>
<text x="497" y="673.85" font-size="2.6" textLength="13.4" lengthAdjust="spacingAndGlyphs" fill="#5a5a5a">DUPLN7</text>
<text x="497" y="675.85" font-size="2.6" textLength="14.0" lengthAdjust="spacingAndGlyphs" fill="#5a5a5a">0TRZKFLO</text>
<text x="497" y="677.86" font-size="2.6" textLength="10.7" lengthAdjust="spacingAndGlyphs" fill="#5a5a5a">6RFBV6Z</text>
<text x="497" y="679.86" font-size="2.6" textLength="11.4" lengthAdjust="spacingAndGlyphs" fill="#5a5a5a">TA356R</text>
<text x="497" y="681.86" font-size="2.6" textLength="14.8" lengthAdjust="spacingAndGlyphs" fill="#5a5a5a">V5NR9LK</text>
<text x="497" y="683.86" font-size="2.6" textLength="13.7" lengthAdjust="spacingAndGlyphs" fill="#5a5a5a">S1P1E2C1</text>
<text x="497" y="685.86" font-size="2.6" textLength="12.6" lengthAdjust="spacingAndGlyphs" fill="#5a5a5a">35MT8Z</text>
<text x="497" y="687.87" font-size="2.6" textLength="11.1" lengthAdjust="spacingAndGlyphs" fill="#5a5a5a">ES3D41D</text>
<text x="497" y="689.87" font-size="2.6" textLength="15.0" lengthAdjust="spacingAndGlyphs" fill="#5a5a5a">5F6B1N</text>
<text x="497" y="691.87" font-size="2.6" textLength="11.9" lengthAdjust="spacingAndGlyphs" fill="#5a5a5a">0G8K1KTC</text>
<text x="497" y="693.87" font-size="2.6" textLength="15.4" lengthAdjust="spacingAndGlyphs" fill="#5a5a5a">8OC4G</text>
<text x="497" y="695.87" font-size="2.6" textLength="14.2" lengthAdjust="spacingAndGlyphs" fill="#5a5a5a">69L01</text>
<text x="497" y="697.88" font-size="2.6" textLength="11.9" lengthAdjust="spacingAndGlyphs" fill="#5a5a5a">SFA08950</text>
<text x="497" y="699.88" font-size="2.6" textLength="11.7" lengthAdjust="spacingAndGlyphs" fill="#5a5a5a">ICN5U</text>
<text x="497" y="701.88" font-size="2.6" textLength="10.6" lengthAdjust="spacingAndGlyphs" fill="#5a5a5a">TBOPE572</text>
<text x="497" y="703.88" font-size="2.6" textLength="14.0" lengthAdjust="spacingAndGlyphs" fill="#5a5a5a">OPDRU9</text>
<text x="497" y="705.88" font-size="2.6" textLength="11.8" lengthAdjust="spacingAndGlyphs" fill="#5a5a5a">34D2PO</text>
<text x="497" y="707.89" font-size="2.6" textLength="10.7" lengthAdjust="spacingAndGlyphs" fill="#5a5a5a">0VKSRO</text>
<text x="497" y="709.89" font-size="2.6" textLength="12.8" lengthAdjust="spacingAndGlyphs" fill="#5a5a5a">ZD47IZ</text>
<text x="497" y="711.89" font-size="2.6" textLength="13.8" lengthAdjust="spacingAndGlyphs" fill="#5a5a5a">002F5</text>
<text x="497" y="713.89" font-size="2.6" textLength="15.2" lengthAdjust="spacingAndGlyphs" fill="#5a5a5a">29RZG5R</text>
<text x="497" y="715.89" font-size="2.6" textLength="12.6" lengthAdjust="spacingAndGlyphs" fill="#5a5a5a">PS7BS0</text>
<text x="497" y="717.90" font-size="2.6" textLength="14.2" lengthAdjust="spacingAndGlyphs" fill="#5a5a5a">KTRGIEG</text>
<text x="497" y="719.90" font-size="2.6" textLength="14.5" lengthAdjust="spacingAndGlyphs" fill="#5a5a5a">ET8DVU</text>
<text x="497" y="721.90" font-size="2.6" textLength="15.5" lengthAdjust="spacingAndGlyphs" fill="#5a5a5a">L3DE1</text>
<text x="497" y="723.90" font-size="2.6" textLength="13.8" lengthAdjust="spacingAndGlyphs" fill="#5a5a5a">1V6LM2</text>
<text x="497" y="725.90" font-size="2.6" textLength="10.9" lengthAdjust="spacingAndGlyphs" fill="#5a5a5a">07CC1</text>
<text x="497" y="727.91" font-size="2.6" textLength="15.1" lengthAdjust="spacingAndGlyphs" fill="#5a5a5a">REHZGALT</text>
<text x="497" y="729.91" font-size="2.6" textLength="14.9" lengthAdjust="spacingAndGlyphs" fill="#5a5a5a">HC3GI</text>
<text x="497" y="731.91" font-size="2.6" textLength="15.3" lengthAdjust="spacingAndGlyphs" fill="#5a5a5a">4OGF8NL2</text>
<text x="497" y="733.91" font-size="2.6" textLength="14.6" lengthAdjust="spacingAndGlyphs" fill="#5a5a5a">RH0V3</text>
<text x="497" y="735.91" font-size="2.6" textLength="15.3" lengthAdjust="spacingAndGlyphs" fill="#5a5a5a">E01KU</text>
<text x="497" y="737.92" font-size="2.6" textLength="12.3" lengthAdjust="spacingAndGlyphs" fill="#5a5a5a">5NDFVAG</text>
<text x="497" y="739.92" font-size="2.6" textLength="10.8" lengthAdjust="spacingAndGlyphs" fill="#5a5a5a">D4THGS</text>
<text x="497" y="741.92" font-size="2.6" textLength="13.0" lengthAdjust="spacingAndGlyphs" fill="#5a5a5a">7127H8G6</text>
<text x="497" y="743.92" font-size="2.6" textLength="11.9" lengthAdjust="spacingAndGlyphs" fill="#5a5a5a">96AH2</text>
<text x="497" y="745.92" font-size="2.6" textLength="12.3" lengthAdjust="spacingAndGlyphs" fill="#5a5a5a">L6FRRG5</text>
<text x="497" y="747.93" font-size="2.6" textLength="14.1" lengthAdjust="spacingAndGlyphs" fill="#5a5a5a">5D7B8F</text>
<text x="497" y="749.93" font-size="2.6" textLength="12.3" lengthAdjust="spacingAndGlyphs" fill="#5a5a5a">6P1I1SP</text>
<text x="497" y="751.93" font-size="2.6" textLength="12.7" lengthAdjust="spacingAndGlyphs" fill="#5a5a5a">SUPL6</text>
<text x="497" y="753.93" font-size="2.6" textLength="15.4" lengthAdjust="spacingAndGlyphs" fill="#5a5a5a">OP8VV2T1</text>
<text x="497" y="755.93" font-size="2.6" textLength="12.1" lengthAdjust="spacingAndGlyphs" fill="#5a5a5a">O248HUE</text>
<text x="497" y="757.94" font-size="2.6" textLength="15.1" lengthAdjust="spacingAndGlyphs" fill="#5a5a5a">2SVB80B</text>
<text x="497" y="759.94" font-size="2.6" textLength="14.3" lengthAdjust="spacingAndGlyphs" fill="#5a5a5a">BO3OENK</text>
<text x="497" y="761.94" font-size="2.6" textLength="11.8" lengthAdjust="spacingAndGlyphs" fill="#5a5a5a">AG7P4</text>
<text x="497" y="763.94" font-size="2.6" textLength="15.3" lengthAdjust="spacingAndGlyphs" fill="#5a5a5a">SU0LNCL</text>
<text x="497" y="765.94" font-size="2.6" textLength="14.7" lengthAdjust="spacingAndGlyphs" fill="#5a5a5a">AZR1PT</text>
<text x="497" y="767.95" font-size="2.6" textLength="11.0" lengthAdjust="spacingAndGlyphs" fill="#5a5a5a">ON292</text>
<text x="497" y="769.95" font-size="2.6" textLength="12.2" lengthAdjust="spacingAndGlyphs" fill="#5a5a5a">C2DDK4</text>
<text x="497" y="771.95" font-size="2.6" textLength="12.7" lengthAdjust="spacingAndGlyphs" fill="#5a5a5a">64MI0KBV</text>
<text x="497" y="773.95" font-size="2.6" textLength="11.2" lengthAdjust="spacingAndGlyphs" fill="#5a5a5a">7HEP90L1</text>
<text x="497" y="775.95" font-size="2.6" textLength="12.2" lengthAdjust="spacingAndGlyphs" fill="#5a5a5a">64A43T</text>
<text x="497" y="777.96" font-size="2.6" textLength="15.2" lengthAdjust="spacingAndGlyphs" fill="#5a5a5a">LCE7U1E</text>
<text x="497" y="779.96" font-size="2.6" textLength="11.1" lengthAdjust="spacingAndGlyphs" fill="#5a5a5a">DOLNVMI</text>
<text x="497" y="781.96" font-size="2.6" textLength="14.0" lengthAdjust="spacingAndGlyphs" fill="#5a5a5a">N2477K</text>
<text x="497" y="783.96" font-size="2.6" textLength="10.7" lengthAdjust="spacingAndGlyphs" fill="#5a5a5a">ZUZA9D</text>
<text x="497" y="785.96" font-size="2.6" textLength="11.3" lengthAdjust="spacingAndGlyphs" fill="#5a5a5a">DOKG74NV</text>
<text x="497" y="787.96" font-size="2.6" textLength="12.0" lengthAdjust="spacingAndGlyphs" fill="#5a5a5a">PI8H5MO</text>
<text x="497" y="789.97" font-size="2.6" textLength="14.3" lengthAdjust="spacingAndGlyphs" fill="#5a5a5a">MZHI5AR</text>
<text x="497" y="791.97" font-size="2.6" textLength="13.1" lengthAdjust="spacingAndGlyphs" fill="#5a5a5a">VEMV4</text>
<text x="497" y="793.97" font-size="2.6" textLength="14.8" lengthAdjust="spacingAndGlyphs" fill="#5a5a5a">UI3D1R3</text>
<text x="497" y="795.97" font-size="2.6" textLength="15.0" lengthAdjust="spacingAndGlyphs" fill="#5a5a5a">URD52GPC</text>
<text x="497" y="797.97" font-size="2.6" textLength="14.1" lengthAdjust="spacingAndGlyphs" fill="#5a5a5a">B3PN5B</text>
<text x="497" y="799.98" font-size="2.6" textLength="11.8" lengthAdjust="spacingAndGlyphs" fill="#5a5a5a">0574I</text>
<text x="497" y="801.98" font-size="2.6" textLength="10.7" lengthAdjust="spacingAndGlyphs" fill="#5a5a5a">5EEAOHZ</text>
<text x="497" y="803.98" font-size="2.6" textLength="12.9" lengthAdjust="spacingAndGlyphs" fill="#5a5a5a">P778G</text>
<text x="497" y="805.98" font-size="2.6" textLength="13.1" lengthAdjust="spacingAndGlyphs" fill="#5a5a5a">P3GGF1RN</text>
<text x="497" y="807.98" font-size="2.6" textLength="14.4" lengthAdjust="spacingAndGlyphs" fill="#5a5a5a">IGNF68NR</text>
<text x="497" y="809.99" font-size="2.6" textLength="12.1" lengthAdjust="spacingAndGlyphs" fill="#5a5a5a">D0FC3LI</text>
<text x="497" y="811.99" font-size="2.6" textLength="12.0" lengthAdjust="spacingAndGlyphs" fill="#5a5a5a">HZN7CN</text>
<text x="497" y="813.99" font-size="2.6" textLength="15.5" lengthAdjust="spacingAndGlyphs" fill="#5a5a5a">3CI8S0</text>
<text x="497" y="815.99" font-size="2.6" textLength="13.4" lengthAdjust="spacingAndGlyphs" fill="#5a5a5a">TTEZ94</text>
<text x="497" y="817.99" font-size="2.6" textLength="10.8" lengthAdjust="spacingAndGlyphs" fill="#5a5a5a">ZI1RT</text>
<text x="497" y="820.00" font-size="2.6" textLength="13.1" lengthAdjust="spacingAndGlyphs" fill="#5a5a5a">E9LZO</text>
<text x="497" y="822.00" font-size="2.6" textLength="11.7" lengthAdjust="spacingAndGlyphs" fill="#5a5a5a">DOH5RDS4</text>
<text x="497" y="824.00" font-size="2.6" textLength="13.5" lengthAdjust="spacingAndGlyphs" fill="#5a5a5a">E35ZH</text>
<text x="497" y="826.00" font-size="2.6" textLength="14.1" lengthAdjust="spacingAndGlyphs" fill="#5a5a5a">49KD6P82</text>
<text x="497" y="828.00" font-size="2.6" textLength="12.4" lengthAdjust="spacingAndGlyphs" fill="#5a5a5a">MU93FI</text>
<text x="497" y="830.01" font-size="2.6" textLength="12.1" lengthAdjust="spacingAndGlyphs" fill="#5a5a5a">DLCODR</text>
<text x="497" y="832.01" font-size="2.6" textLength="15.4" lengthAdjust="spacingAndGlyphs" fill="#5a5a5a">9479B</text>
<text x="497" y="834.01" font-size="2.6" textLength="13.1" lengthAdjust="spacingAndGlyphs" fill="#5a5a5a">037H0ED</text>
<text x="497" y="836.01" font-size="2.6" textLength="14.5" lengthAdjust="spacingAndGlyphs" fill="#5a5a5a">5L0V2EV</text>
<text x="497" y="838.01" font-size="2.6" textLength="13.5" lengthAdjust="spacingAndGlyphs" fill="#5a5a5a">K7LF57F</text>
<text x="497" y="840.02" font-size="2.6" textLength="15.1" lengthAdjust="spacingAndGlyphs" fill="#5a5a5a">MOBTS69</text>
<text x="497" y="842.02" font-size="2.6" textLength="15.3" lengthAdjust="spacingAndGlyphs" fill="#5a5a5a">L3I9O</text>
<text x="497" y="844.02" font-size="2.6" textLength="11.3" lengthAdjust="spacingAndGlyphs" fill="#5a5a5a">BPNTB</text>
<text x="497" y="846.02" font-size="2.6" textLength="13.7" lengthAdjust="spacingAndGlyphs" fill="#5a5a5a">KHDZ2HR</text>
<text x="497" y="848.02" font-size="2.6" textLength="14.3" lengthAdjust="spacingAndGlyphs" fill="#5a5a5a">0DHCO0</text>
<text x="497" y="850.03" font-size="2.6" textLength="10.8" lengthAdjust="spacingAndGlyphs" fill="#5a5a5a">B65A8</text>
<text x="497" y="852.03" font-size="2.6" textLength="12.6" lengthAdjust="spacingAndGlyphs" fill="#5a5a5a">GHA366N8</text>
<text x="497" y="854.03" font-size="2.6" textLength="15.0" lengthAdjust="spacingAndGlyphs" fill="#5a5a5a">B5HTTEAV</text>
<text x="497" y="856.03" font-size="2.6" textLength="15.1" lengthAdjust="spacingAndGlyphs" fill="#5a5a5a">8NMLBN</text>
<text x="497" y="858.03" font-size="2.6" textLength="13.6" lengthAdjust="spacingAndGlyphs" fill="#5a5a5a">0NR6GV9G</text>
<text x="497" y="860.04" font-size="2.6" textLength="14.9" lengthAdjust="spacingAndGlyphs" fill="#5a5a5a">L769D8</text>
<text x="497" y="862.04" font-size="2.6" textLength="15.4" lengthAdjust="spacingAndGlyphs" fill="#5a5a5a">8U82O9PB</text>
<text x="497" y="864.04" font-size="2.6" textLength="10.6" lengthAdjust="spacingAndGlyphs" fill="#5a5a5a">KPAL63K</text>
<text x="497" y="866.04" font-size="2.6" textLength="13.7" lengthAdjust="spacingAndGlyphs" fill="#5a5a5a">DLMEDS</text>
<text x="497" y="868.04" font-size="2.6" textLength="15.3" lengthAdjust="spacingAndGlyphs" fill="#5a5a5a">00C2CH</text>
<text x="497" y="870.05" font-size="2.6" textLength="13.9" lengthAdjust="spacingAndGlyphs" fill="#5a5a5a">M2PD3</text>
<text x="497" y="872.05" font-size="2.6" textLength="12.2" lengthAdjust="spacingAndGlyphs" fill="#5a5a5a">P77A6H</text>
<text x="497" y="874.05" font-size="2.6" textLength="10.6" lengthAdjust="spacingAndGlyphs" fill="#5a5a5a">BLB4G69F</text>
<text x="497" y="876.05" font-size="2.6" textLength="14.7" lengthAdjust="spacingAndGlyphs" fill="#5a5a5a">MRFTZO</text>
<text x="497" y="878.05" font-size="2.6" textLength="12.1" lengthAdjust="spacingAndGlyphs" fill="#5a5a5a">2D80G</text>
<text x="497" y="880.06" font-size="2.6" textLength="14.5" lengthAdjust="spacingAndGlyphs" fill="#5a5a5a">O24VA</text>
<text x="497" y="882.06" font-size="2.6" textLength="13.1" lengthAdjust="spacingAndGlyphs" fill="#5a5a5a">MTPDZ</text>
<text x="497" y="884.06" font-size="2.6" textLength="15.1" lengthAdjust="spacingAndGlyphs" fill="#5a5a5a">OAMDDVDK</text>
<text x="497" y="886.06" font-size="2.6" textLength="14.9" lengthAdjust="spacingAndGlyphs" fill="#5a5a5a">0V578</text>
<text x="497" y="888.06" font-size="2.6" textLength="11.3" lengthAdjust="spacingAndGlyphs" fill="#5a5a5a">D4HIUBZR</text>
<text x="497" y="890.07" font-size="2.6" textLength="13.1" lengthAdjust="spacingAndGlyphs" fill="#5a5a5a">ETANBGPU</text>
<text x="497" y="892.07" font-size="2.6" textLength="10.9" lengthAdjust="spacingAndGlyphs" fill="#5a5a5a">RLM8BEAE</text>
<text x="497" y="894.07" font-size="2.6" textLength="13.5" lengthAdjust="spacingAndGlyphs" fill="#5a5a5a">SCUZLZ</text>
<text x="497" y="896.07" font-size="2.6" textLength="13.6" lengthAdjust="spacingAndGlyphs" fill="#5a5a5a">KLLZF7BS</text>
<text x="497" y="898.07" font-size="2.6" textLength="15.3" lengthAdjust="spacingAndGlyphs" fill="#5a5a5a">ADUVI</text>
<text x="497" y="900.08" font-size="2.6" textLength="14.0" lengthAdjust="spacingAndGlyphs" fill="#5a5a5a">UC7AS</text>
<text x="497" y="902.08" font-size="2.6" textLength="12.3" lengthAdjust="spacingAndGlyphs" fill="#5a5a5a">92G408</text>
<text x="497" y="904.08" font-size="2.6" textLength="13.6" lengthAdjust="spacingAndGlyphs" fill="#5a5a5a">28UOSFO</text>
<text x="497" y="906.08" font-size="2.6" textLength="12.7" lengthAdjust="spacingAndGlyphs" fill="#5a5a5a">VUSF0G</text>
<text x="497" y="908.08" font-size="2.6" textLength="12.6" lengthAdjust="spacingAndGlyphs" fill="#5a5a5a">KTUCKDI</text>
<text x="497" y="910.09" font-size="2.6" textLength="10.7" lengthAdjust="spacingAndGlyphs" fill="#5a5a5a">NDATD</text>
<text x="497" y="912.09" font-size="2.6" textLength="13.3" lengthAdjust="spacingAndGlyphs" fill="#5a5a5a">MUINZI</text>
<text x="497" y="914.09" font-size="2.6" textLength="11.9" lengthAdjust="spacingAndGlyphs" fill="#5a5a5a">HSTTL</text>
<text x="497" y="916.09" font-size="2.6" textLength="10.9" lengthAdjust="spacingAndGlyphs" fill="#5a5a5a">HFRLNR</text>
<text x="497" y="918.09" font-size="2.6" textLength="14.0" lengthAdjust="spacingAndGlyphs" fill="#5a5a5a">44FIOS3</text>
<text x="497" y="920.10" font-size="2.6" textLength="10.7" lengthAdjust="spacingAndGlyphs" fill="#5a5a5a">TOZBNGM</text>
<text x="497" y="922.10" font-size="2.6" textLength="13.8" lengthAdjust="spacingAndGlyphs" fill="#5a5a5a">09L3C88</text>
<text x="497" y="924.10" font-size="2.6" textLength="13.2" lengthAdjust="spacingAndGlyphs" fill="#5a5a5a">IC1GGCEI</text>
<text x="497" y="926.10" font-size="2.6" textLength="15.3" lengthAdjust="spacingAndGlyphs" fill="#5a5a5a">NFTTF1</text>
<text x="497" y="928.10" font-size="2.6" textLength="13.3" lengthAdjust="spacingAndGlyphs" fill="#5a5a5a">FTUV3TA8</text>
<text x="497" y="930.11" font-size="2.6" textLength="14.4" lengthAdjust="spacingAndGlyphs" fill="#5a5a5a">NFE1D4</text>
<text x="497" y="932.11" font-size="2.6" textLength="13.2" lengthAdjust="spacingAndGlyphs" fill="#5a5a5a">ZNDBCD</text>
<text x="497" y="934.11" font-size="2.6" textLength="14.6" lengthAdjust="spacingAndGlyphs" fill="#5a5a5a">OVB80G</text>
<text x="497" y="936.11" font-size="2.6" textLength="15.3" lengthAdjust="spacingAndGlyphs" fill="#5a5a5a">FT810L</text>
<text x="497" y="938.11" font-size="2.6" textLength="12.7" lengthAdjust="spacingAndGlyphs" fill="#5a5a5a">55RT8O</text>
<text x="497" y="940.11" font-size="2.6" textLength="12.3" lengthAdjust="spacingAndGlyphs" fill="#5a5a5a">2AHA4DK</text>
<text x="497" y="942.12" font-size="2.6" textLength="10.8" lengthAdjust="spacingAndGlyphs" fill="#5a5a5a">N52VZ</text>
<text x="497" y="944.12" font-size="2.6" textLength="14.1" lengthAdjust="spacingAndGlyphs" fill="#5a5a5a">2RKG2S8</text>
<text x="497" y="946.12" font-size="2.6" textLength="14.6" lengthAdjust="spacingAndGlyphs" fill="#5a5a5a">SUHMOBD</text>
<text x="497" y="948.12" font-size="2.6" textLength="11.0" lengthAdjust="spacingAndGlyphs" fill="#5a5a5a">9DODGV</text>
<text x="497" y="950.12" font-size="2.6" textLength="13.0" lengthAdjust="spacingAndGlyphs" fill="#5a5a5a">LS5GU</text>
<text x="497" y="952.13" font-size="2.6" textLength="10.8" lengthAdjust="spacingAndGlyphs" fill="#5a5a5a">LHTF1V3</text>
<text x="497" y="954.13" font-size="2.6" textLength="14.6" lengthAdjust="spacingAndGlyphs" fill="#5a5a5a">P29DO</text>
<text x="497" y="956.13" font-size="2.6" textLength="12.5" lengthAdjust="spacingAndGlyphs" fill="#5a5a5a">U0IS7</text>
<text x="497" y="958.13" font-size="2.6" textLength="15.2" lengthAdjust="spacingAndGlyphs" fill="#5a5a5a">H3P7DA</text>
<text x="497" y="960.13" font-size="2.6" textLength="15.2" lengthAdjust="spacingAndGlyphs" fill="#5a5a5a">PPS4I</text>
<text x="497" y="962.14" font-size="2.6" textLength="10.8" lengthAdjust="spacingAndGlyphs" fill="#5a5a5a">8OHPOSC8</text>
<text x="497" y="964.14" font-size="2.6" textLength="13.0" lengthAdjust="spacingAndGlyphs" fill="#5a5a5a">C461DS4R</text>
<text x="497" y="966.14" font-size="2.6" textLength="13.4" lengthAdjust="spacingAndGlyphs" fill="#5a5a5a">IEVVIEDT</text>
<text x="497" y="968.14" font-size="2.6" textLength="10.6" lengthAdjust="spacingAndGlyphs" fill="#5a5a5a">2A5SHS0G</text>
<text x="497" y="970.14" font-size="2.6" textLength="10.6" lengthAdjust="spacingAndGlyphs" fill="#5a5a5a">Z23B72</text>
<text x="497" y="972.15" font-size="2.6" textLength="14.0" lengthAdjust="spacingAndGlyphs" fill="#5a5a5a">NDI7Z03S</text>
<text x="497" y="974.15" font-size="2.6" textLength="15.4" lengthAdjust="spacingAndGlyphs" fill="#5a5a5a">3MIMZREE</text>
<text x="497" y="976.15" font-size="2.6" textLength="15.0" lengthAdjust="spacingAndGlyphs" fill="#5a5a5a">9K37U37</text>
<text x="497" y="978.15" font-size="2.6" textLength="13.7" lengthAdjust="spacingAndGlyphs" fill="#5a5a5a">0NBE0IDV</text>
<text x="497" y="980.15" font-size="2.6" textLength="13.8" lengthAdjust="spacingAndGlyphs" fill="#5a5a5a">4BGK5DN0</text>
<text x="497" y="982.16" font-size="2.6" textLength="11.3" lengthAdjust="spacingAndGlyphs" fill="#5a5a5a">F2HH6DE</text>
<text x="497" y="984.16" font-size="2.6" textLength="14.7" lengthAdjust="spacingAndGlyphs" fill="#5a5a5a">51CU02</text>
<text x="497" y="986.16" font-size="2.6" textLength="13.7" lengthAdjust="spacingAndGlyphs" fill="#5a5a5a">50IM1</text>
<text x="497" y="988.16" font-size="2.6" textLength="11.9" lengthAdjust="spacingAndGlyphs" fill="#5a5a5a">79EEF</text>
<text x="497" y="990.16" font-size="2.6" textLength="13.6" lengthAdjust="spacingAndGlyphs" fill="#5a5a5a">KDD0GZOB</text>
<text x="497" y="992.17" font-size="2.6" textLength="13.6" lengthAdjust="spacingAndGlyphs" fill="#5a5a5a">MOBME</text>
<text x="497" y="994.17" font-size="2.6" textLength="13.4" lengthAdjust="spacingAndGlyphs" fill="#5a5a5a">9TN4LE18</text>
<text x="497" y="996.17" font-size="2.6" textLength="15.0" lengthAdjust="spacingAndGlyphs" fill="#5a5a5a">VC4V0</text>
<text x="497" y="998.17" font-size="2.6" textLength="12.5" lengthAdjust="spacingAndGlyphs" fill="#5a5a5a">BCVBOV9</text>
<text x="497" y="1000.17" font-size="2.6" textLength="13.9" lengthAdjust="spacingAndGlyphs" fill="#5a5a5a">8950DF</text>
<text x="497" y="1002.18" font-size="2.6" textLength="12.6" lengthAdjust="spacingAndGlyphs" fill="#5a5a5a">4U7E7C</text>
<text x="497" y="1004.18" font-size="2.6" textLength="12.6" lengthAdjust="spacingAndGlyphs" fill="#5a5a5a">F89OET2C</text>
<text x="497" y="1006.18" font-size="2.6" textLength="15.4" lengthAdjust="spacingAndGlyphs" fill="#5a5a5a">NOGIP</text>
<text x="497" y="1008.18" font-size="2.6" textLength="13.1" lengthAdjust="spacingAndGlyphs" fill="#5a5a5a">E21LIV</text>
<text x="497" y="1010.18" font-size="2.6" textLength="15.1" lengthAdjust="spacingAndGlyphs" fill="#5a5a5a">KUT2HS</text>
<text x="497" y="1012.19" font-size="2.6" textLength="14.0" lengthAdjust="spacingAndGlyphs" fill="#5a5a5a">6G8FBRE</text>
<text x="497" y="1014.19" font-size="2.6" textLength="10.6" lengthAdjust="spacingAndGlyphs" fill="#5a5a5a">O3ZTVD26</text>
<text x="497" y="1016.19" font-size="2.6" textLength="10.9" lengthAdjust="spacingAndGlyphs" fill="#5a5a5a">C3DLMHRK</text>
<text x="497" y="1018.19" font-size="2.6" textLength="12.7" lengthAdjust="spacingAndGlyphs" fill="#5a5a5a">U6S2GTDP</text>
<text x="497" y="1020.19" font-size="2.6" textLength="13.3" lengthAdjust="spacingAndGlyphs" fill="#5a5a5a">VBKGD</text>
<text x="497" y="1022.20" font-size="2.6" textLength="12.5" lengthAdjust="spacingAndGlyphs" fill="#5a5a5a">92OFDZ</text>
<text x="497" y="1024.20" font-size="2.6" textLength="13.6" lengthAdjust="spacingAndGlyphs" fill="#5a5a5a">GKAT6LKL</text>
<text x="497" y="1026.20" font-size="2.6" textLength="14.0" lengthAdjust="spacingAndGlyphs" fill="#5a5a5a">S9ENPV</text>
<text x="497" y="1028.20" font-size="2.6" textLength="11.1" lengthAdjust="spacingAndGlyphs" fill="#5a5a5a">UIOGH7S</text>
<text x="497" y="1030.20" font-size="2.6" textLength="11.0" lengthAdjust="spacingAndGlyphs" fill="#5a5a5a">GH27GFF</text>
<text x="497" y="1032.21" font-size="2.6" textLength="14.7" lengthAdjust="spacingAndGlyphs" fill="#5a5a5a">E1TZPP57</text>
<text x="497" y="1034.21" font-size="2.6" textLength="15.0" lengthAdjust="spacingAndGlyphs" fill="#5a5a5a">E2634</text>
<text x="497" y="1036.21" font-size="2.6" textLength="12.0" lengthAdjust="spacingAndGlyphs" fill="#5a5a5a">AP71RTT</text>
<text x="497" y="1038.21" font-size="2.6" textLength="11.2" lengthAdjust="spacingAndGlyphs" fill="#5a5a5a">H3BPB</text>
<text x="497" y="1040.21" font-size="2.6" textLength="15.1" lengthAdjust="spacingAndGlyphs" fill="#5a5a5a">8V461B88</text>
<text x="497" y="1042.22" font-size="2.6" textLength="11.6" lengthAdjust="spacingAndGlyphs" fill="#5a5a5a">70UNR0</text>
<text x="497" y="1044.22" font-size="2.6" textLength="10.8" lengthAdjust="spacingAndGlyphs" fill="#5a5a5a">HOSRFR</text>
<text x="497" y="1046.22" font-size="2.6" textLength="12.3" lengthAdjust="spacingAndGlyphs" fill="#5a5a5a">A02R2C</text>
<text x="497" y="1048.22" font-size="2.6" textLength="13.5" lengthAdjust="spacingAndGlyphs" fill="#5a5a5a">1ZDABO</text>
<text x="497" y="1050.22" font-size="2.6" textLength="12.6" lengthAdjust="spacingAndGlyphs" fill="#5a5a5a">DGMMTO</text>
<text x="497" y="1052.23" font-size="2.6" textLength="14.1" lengthAdjust="spacingAndGlyphs" fill="#5a5a5a">FCLVDS</text>
<text x="497" y="1054.23" font-size="2.6" textLength="14.5" lengthAdjust="spacingAndGlyphs" fill="#5a5a5a">PDD2IA1</text>
<text x="497" y="1056.23" font-size="2.6" textLength="14.1" lengthAdjust="spacingAndGlyphs" fill="#5a5a5a">CSC6T</text>
<text x="497" y="1058.23" font-size="2.6" textLength="14.9" lengthAdjust="spacingAndGlyphs" fill="#5a5a5a">S4HS9</text>
<text x="497" y="1060.23" font-size="2.6" textLength="10.9" lengthAdjust="spacingAndGlyphs" fill="#5a5a5a">NU5LL</text>
<text x="497" y="1062.24" font-size="2.6" textLength="14.3" lengthAdjust="spacingAndGlyphs" fill="#5a5a5a">Z6SG0</text>
<text x="497" y="1064.24" font-size="2.6" textLength="12.1" lengthAdjust="spacingAndGlyphs" fill="#5a5a5a">4IDVBMI</text>
<text x="497" y="1066.24" font-size="2.6" textLength="12.5" lengthAdjust="spacingAndGlyphs" fill="#5a5a5a">MD0UM9</text>
<text x="497" y="1068.24" font-size="2.6" textLength="10.7" lengthAdjust="spacingAndGlyphs" fill="#5a5a5a">FCCRPE</text>
<text x="497" y="1070.24" font-size="2.6" textLength="11.0" lengthAdjust="spacingAndGlyphs" fill="#5a5a5a">RK5DU92</text>
<text x="497" y="1072.25" font-size="2.6" textLength="14.5" lengthAdjust="spacingAndGlyphs" fill="#5a5a5a">Z6TL0</text>
<text x="497" y="1074.25" font-size="2.6" textLength="15.4" lengthAdjust="spacingAndGlyphs" fill="#5a5a5a">H4AG6DPA</text>
<text x="497" y="1076.25" font-size="2.6" textLength="11.5" lengthAdjust="spacingAndGlyphs" fill="#5a5a5a">N04KUB</text>
<text x="497" y="1078.25" font-size="2.6" textLength="10.9" lengthAdjust="spacingAndGlyphs" fill="#5a5a5a">HU3DDZKO</text>
<text x="497" y="1080.25" font-size="2.6" textLength="15.1" lengthAdjust="spacingAndGlyphs" fill="#5a5a5a">LP9B9893</text>
<text x="497" y="1082.26" font-size="2.6" textLength="14.8" lengthAdjust="spacingAndGlyphs" fill="#5a5a5a">VBGR95C</text>
<text x="497" y="1084.26" font-size="2.6" textLength="14.4" lengthAdjust="spacingAndGlyphs" fill="#5a5a5a">5I35F5</text>
<text x="497" y="1086.26" font-size="2.6" textLength="12.4" lengthAdjust="spacingAndGlyphs" fill="#5a5a5a">7EHL0L5B</text>
<text x="497" y="1088.26" font-size="2.6" textLength="10.7" lengthAdjust="spacingAndGlyphs" fill="#5a5a5a">OKHZKH</text>
<text x="497" y="1090.26" font-size="2.6" textLength="12.7" lengthAdjust="spacingAndGlyphs" fill="#5a5a5a">PNB51CHB</text>
<text x="497" y="1092.27" font-size="2.6" textLength="11.2" lengthAdjust="spacingAndGlyphs" fill="#5a5a5a">1DHS9VT</text>
<text x="497" y="1094.27" font-size="2.6" textLength="10.6" lengthAdjust="spacingAndGlyphs" fill="#5a5a5a">BA97B02C</text>
<text x="497" y="1096.27" font-size="2.6" textLength="12.5" lengthAdjust="spacingAndGlyphs" fill="#5a5a5a">N6NN0ZFO</text>
<text x="497" y="1098.27" font-size="2.6" textLength="11.3" lengthAdjust="spacingAndGlyphs" fill="#5a5a5a">SB981</text>
<text x="497" y="1100.27" font-size="2.6" textLength="15.1" lengthAdjust="spacingAndGlyphs" fill="#5a5a5a">IA08L16I</text>
<text x="497" y="1102.27" font-size="2.6" textLength="10.8" lengthAdjust="spacingAndGlyphs" fill="#5a5a5a">IHHSO1VC</text>
<text x="497" y="1104.28" font-size="2.6" textLength="13.6" lengthAdjust="spacingAndGlyphs" fill="#5a5a5a">Z71ROAB</text>
<text x="497" y="1106.28" font-size="2.6" textLength="13.0" lengthAdjust="spacingAndGlyphs" fill="#5a5a5a">OAEVUPHK</text>
<text x="497" y="1108.28" font-size="2.6" textLength="12.6" lengthAdjust="spacingAndGlyphs" fill="#5a5a5a">B7E7SUG8</text>
<text x="497" y="1110.28" font-size="2.6" textLength="13.7" lengthAdjust="spacingAndGlyphs" fill="#5a5a5a">TG3ABBA</text>
<text x="497" y="1112.28" font-size="2.6" textLength="14.7" lengthAdjust="spacingAndGlyphs" fill="#5a5a5a">M12DNPT</text>
<text x="497" y="1114.29" font-size="2.6" textLength="12.1" lengthAdjust="spacingAndGlyphs" fill="#5a5a5a">645HCGO</text>
<text x="497" y="1116.29" font-size="2.6" textLength="13.6" lengthAdjust="spacingAndGlyphs" fill="#5a5a5a">BNRN7</text>
<text x="497" y="1118.29" font-size="2.6" textLength="13.4" lengthAdjust="spacingAndGlyphs" fill="#5a5a5a">6NCM21</text>
<text x="497" y="1120.29" font-size="2.6" textLength="13.9" lengthAdjust="spacingAndGlyphs" fill="#5a5a5a">G7UCO</text>
<text x="497" y="1122.29" font-size="2.6" textLength="15.0" lengthAdjust="spacingAndGlyphs" fill="#5a5a5a">P883NIR</text>
<text x="497" y="1124.30" font-size="2.6" textLength="14.5" lengthAdjust="spacingAndGlyphs" fill="#5a5a5a">P77CG4UK</text>
<text x="497" y="1126.30" font-size="2.6" textLength="11.9" lengthAdjust="spacingAndGlyphs" fill="#5a5a5a">I393K0</text>
<text x="497" y="1128.30" font-size="2.6" textLength="13.2" lengthAdjust="spacingAndGlyphs" fill="#5a5a5a">04L2E4</text>
<text x="497" y="1130.30" font-size="2.6" textLength="14.9" lengthAdjust="spacingAndGlyphs" fill="#5a5a5a">H18MEM</text>
<text x="497" y="1132.30" font-size="2.6" textLength="12.8" lengthAdjust="spacingAndGlyphs" fill="#5a5a5a">AIK8G0</text>
<text x="497" y="1134.31" font-size="2.6" textLength="14.3" lengthAdjust="spacingAndGlyphs" fill="#5a5a5a">RMBO8</text>
<text x="497" y="1136.31" font-size="2.6" textLength="12.8" lengthAdjust="spacingAndGlyphs" fill="#5a5a5a">NSR2VIZL</text>
<text x="497" y="1138.31" font-size="2.6" textLength="11.2" lengthAdjust="spacingAndGlyphs" fill="#5a5a5a">POATC0FZ</text>
<text x="497" y="1140.31" font-size="2.6" textLength="14.4" lengthAdjust="spacingAndGlyphs" fill="#5a5a5a">B4BV2MV1</text>
<text x="497" y="1142.31" font-size="2.6" textLength="15.2" lengthAdjust="spacingAndGlyphs" fill="#5a5a5a">D6L8AI</text>
<text x="497" y="1144.32" font-size="2.6" textLength="14.6" lengthAdjust="spacingAndGlyphs" fill="#5a5a5a">GZC6VBP8</text>
<text x="497" y="1146.32" font-size="2.6" textLength="11.0" lengthAdjust="spacingAndGlyphs" fill="#5a5a5a">IMNMA6GN</text>
<text x="497" y="1148.32" font-size="2.6" textLength="15.0" lengthAdjust="spacingAndGlyphs" fill="#5a5a5a">FABKHVAG</text>
<text x="497" y="1150.32" font-size="2.6" textLength="13.2" lengthAdjust="spacingAndGlyphs" fill="#5a5a5a">EA7P5</text>
<text x="497" y="1152.32" font-size="2.6" textLength="14.7" lengthAdjust="spacingAndGlyphs" fill="#5a5a5a">GFGS4DP9</text>
<text x="497" y="1154.33" font-size="2.6" textLength="14.6" lengthAdjust="spacingAndGlyphs" fill="#5a5a5a">V2VSPB</text>
<text x="497" y="1156.33" font-size="2.6" textLength="10.8" lengthAdjust="spacingAndGlyphs" fill="#5a5a5a">59ZGAK2</text>
<text x="497" y="1158.33" font-size="2.6" textLength="15.3" lengthAdjust="spacingAndGlyphs" fill="#5a5a5a">H2O26</text>
<text x="497" y="1160.33" font-size="2.6" textLength="14.6" lengthAdjust="spacingAndGlyphs" fill="#5a5a5a">5M9LKUT</text>
<text x="497" y="1162.33" font-size="2.6" textLength="13.4" lengthAdjust="spacingAndGlyphs" fill="#5a5a5a">AIKFDEZO</text>
<text x="497" y="1164.34" font-size="2.6" textLength="13.6" lengthAdjust="spacingAndGlyphs" fill="#5a5a5a">LERPMG0L</text>
<text x="497" y="1166.34" font-size="2.6" textLength="14.5" lengthAdjust="spacingAndGlyphs" fill="#5a5a5a">CU3PNA</text>
<text x="497" y="1168.34" font-size="2.6" textLength="13.1" lengthAdjust="spacingAndGlyphs" fill="#5a5a5a">7GVV9</text>
<text x="497" y="1170.34" font-size="2.6" textLength="12.1" lengthAdjust="spacingAndGlyphs" fill="#5a5a5a">L5T531A</text>
<text x="497" y="1172.34" font-size="2.6" textLength="13.8" lengthAdjust="spacingAndGlyphs" fill="#5a5a5a">0ZNCT</text>
<text x="497" y="1174.35" font-size="2.6" textLength="11.7" lengthAdjust="spacingAndGlyphs" fill="#5a5a5a">LH0OU</text>
<text x="497" y="1176.35" font-size="2.6" textLength="12.6" lengthAdjust="spacingAndGlyphs" fill="#5a5a5a">ML2SRNT</text>
<text x="497" y="1178.35" font-size="2.6" textLength="13.0" lengthAdjust="spacingAndGlyphs" fill="#5a5a5a">615FV</text>
</g>
<defs><linearGradient id="cb" x1="0" x2="1"><stop offset="0" stop-color="#1c1ca8"/><stop offset="0.4" stop-color="#c8c8f4"/><stop offset="0.5" stop-color="#fff"/><stop offset="0.6" stop-color="#f6caca"/><stop offset="1" stop-color="#e01c28"/></linearGradient></defs>
<rect x="392.2" y="1181.5" width="100.5" height="3.3" fill="url(#cb)"/>
<rect x="394.0" y="1185.9" width="4.2" height="2" fill="#999"/>
<rect x="401.3" y="1185.9" width="4.2" height="2" fill="#999"/>
<rect x="408.6" y="1185.9" width="4.2" height="2" fill="#999"/>
<rect x="415.9" y="1185.9" width="4.2" height="2" fill="#999"/>
<rect x="423.2" y="1185.9" width="4.2" height="2" fill="#999"/>
<rect x="430.5" y="1185.9" width="4.2" height="2" fill="#999"/>
<rect x="437.8" y="1185.9" width="4.2" height="2" fill="#999"/>
<rect x="445.1" y="1185.9" width="4.2" height="2" fill="#999"/>
<rect x="452.4" y="1185.9" width="4.2" height="2" fill="#999"/>
<rect x="459.7" y="1185.9" width="4.2" height="2" fill="#999"/>
<rect x="467.0" y="1185.9" width="4.2" height="2" fill="#999"/>
<rect x="474.3" y="1185.9" width="4.2" height="2" fill="#999"/>
<rect x="481.6" y="1185.9" width="4.2" height="2" fill="#999"/>
<rect x="488.9" y="1185.9" width="4.2" height="2" fill="#999"/>
</svg></body></html>
